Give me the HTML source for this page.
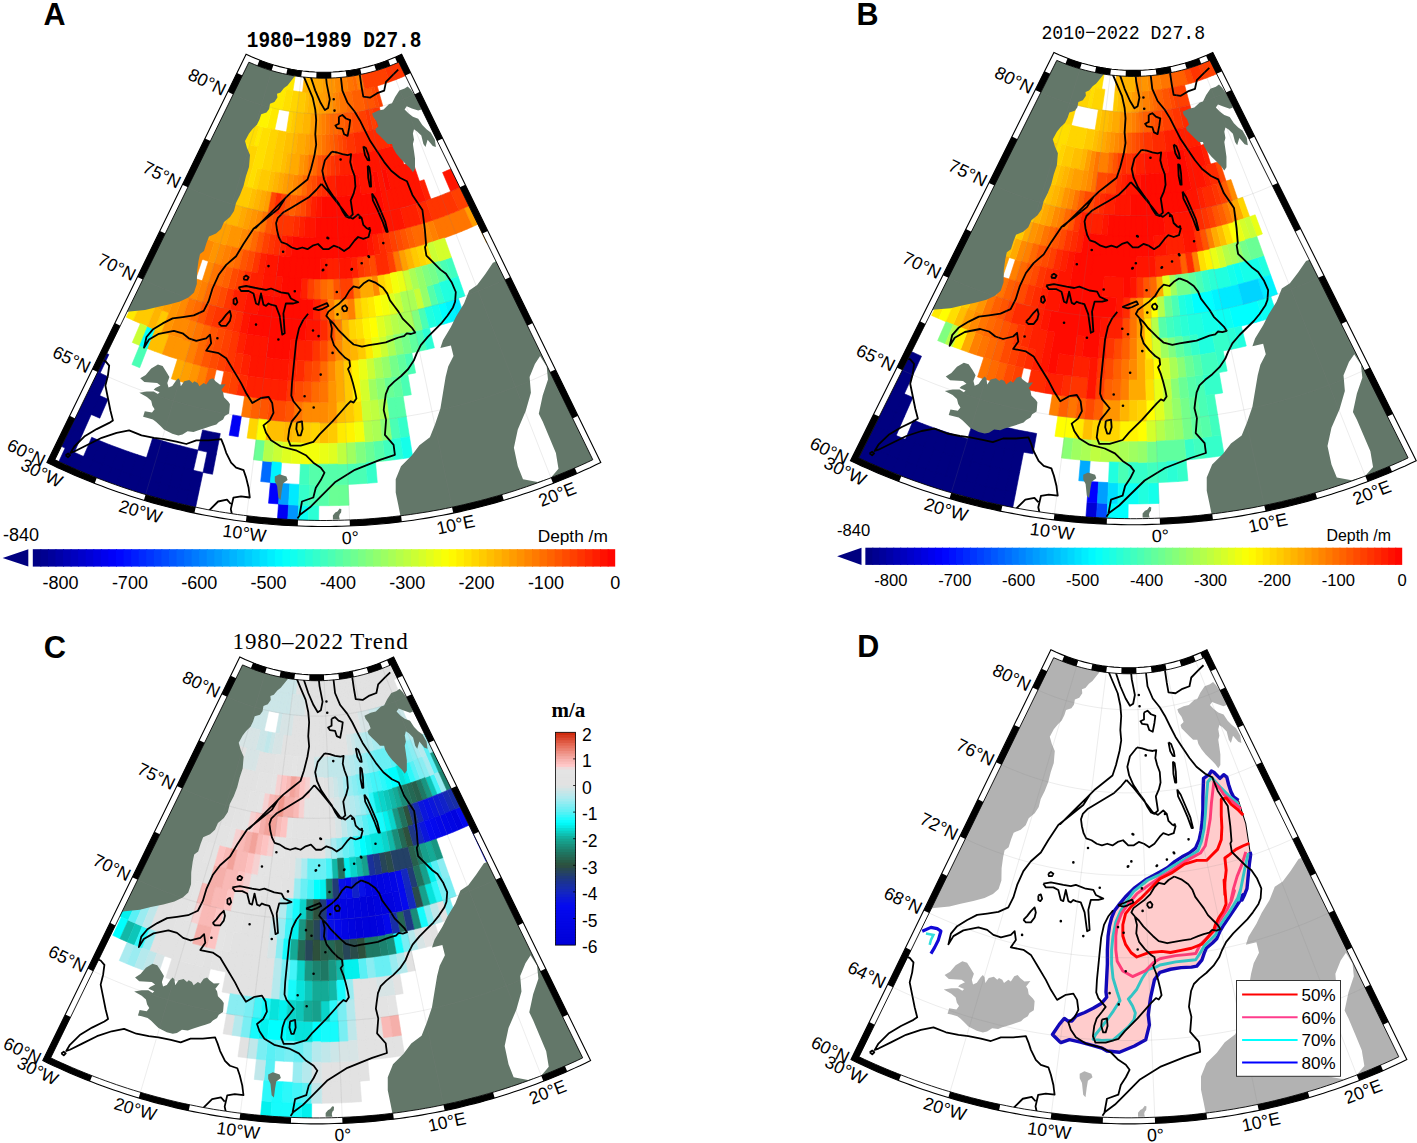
<!DOCTYPE html><html><head><meta charset="utf-8"><style>html,body{margin:0;padding:0;background:#fff;}svg{display:block;} text{font-family:"Liberation Sans",sans-serif;fill:#000;}</style></head><body>
<svg width="1417" height="1143" viewBox="0 0 1417 1143">
<rect width="1417" height="1143" fill="#fff"/>
<g transform="matrix(1 0 0 1 0 0)">
<defs><clipPath id="clipA"><path d="M401.6 54.2 L396.2 56.8 L390.7 59.1 L385.1 61.3 L379.5 63.2 L373.8 65.0 L368.1 66.6 L362.3 68.0 L356.4 69.2 L350.6 70.2 L344.7 71.0 L338.7 71.6 L332.8 72.0 L326.8 72.2 L320.9 72.2 L314.9 72.0 L309.0 71.6 L303.0 71.0 L297.1 70.2 L291.3 69.2 L285.4 68.0 L279.6 66.6 L273.9 65.0 L268.2 63.2 L262.6 61.3 L257.0 59.1 L251.5 56.8 L246.1 54.2 L46.9 462.5 L46.9 462.5 L52.3 465.1 L57.7 467.7 L63.1 470.1 L68.5 472.6 L74.0 475.0 L79.5 477.3 L85.0 479.6 L90.6 481.8 L96.1 484.0 L101.7 486.1 L107.3 488.2 L112.9 490.2 L118.6 492.2 L124.2 494.1 L129.9 496.0 L135.6 497.8 L141.3 499.5 L147.0 501.2 L152.8 502.9 L158.5 504.5 L164.3 506.0 L170.1 507.5 L175.9 508.9 L181.7 510.3 L187.5 511.6 L193.4 512.9 L199.2 514.1 L205.1 515.2 L211.0 516.3 L216.8 517.4 L222.7 518.4 L228.6 519.3 L234.5 520.2 L240.5 521.0 L246.4 521.7 L252.3 522.4 L258.3 523.1 L264.2 523.7 L270.2 524.2 L276.1 524.7 L282.1 525.1 L288.0 525.5 L294.0 525.8 L300.0 526.0 L305.9 526.2 L311.9 526.4 L317.9 526.5 L323.9 526.5 L329.8 526.5 L335.8 526.4 L341.8 526.2 L347.7 526.0 L353.7 525.8 L359.7 525.5 L365.6 525.1 L371.6 524.7 L377.5 524.2 L383.5 523.7 L389.4 523.1 L395.4 522.4 L401.3 521.7 L407.2 521.0 L413.2 520.2 L419.1 519.3 L425.0 518.4 L430.9 517.4 L436.7 516.3 L442.6 515.2 L448.5 514.1 L454.3 512.9 L460.2 511.6 L466.0 510.3 L471.8 508.9 L477.6 507.5 L483.4 506.0 L489.2 504.5 L494.9 502.9 L500.7 501.2 L506.4 499.5 L512.1 497.8 L517.8 496.0 L523.5 494.1 L529.1 492.2 L534.8 490.2 L540.4 488.2 L546.0 486.1 L551.6 484.0 L557.1 481.8 L562.7 479.6 L568.2 477.3 L573.7 475.0 L579.2 472.6 L584.6 470.1 L590.0 467.7 L595.4 465.1 L600.8 462.5 Z"/></clipPath></defs>
<g clip-path="url(#clipA)">
<path d="M56.0 443.8 L65.1 448.1 L73.9 429.3 L65.1 425.1 Z M65.1 425.1 L73.9 429.3 L82.7 410.6 L74.2 406.5 Z M74.2 406.5 L82.7 410.6 L91.4 391.8 L83.3 387.9 Z M83.3 387.9 L91.4 391.8 L100.2 373.1 L92.3 369.4 Z M92.3 369.4 L100.2 373.1 L108.9 354.5 L101.4 350.9 Z M56.3 467.0 L65.8 471.3 L74.3 452.3 L65.1 448.1 Z M65.1 448.1 L74.3 452.3 L82.8 433.4 L73.9 429.3 Z M73.9 429.3 L82.8 433.4 L91.2 414.5 L82.7 410.6 Z M82.7 410.6 L91.2 414.5 L99.7 395.6 L91.4 391.8 Z M91.4 391.8 L99.7 395.6 L108.1 376.8 L100.2 373.1 Z M65.8 471.3 L75.3 475.5 L83.5 456.4 L74.3 452.3 Z M91.2 414.5 L99.8 418.2 L108.0 399.2 L99.7 395.6 Z M75.3 475.5 L84.9 479.6 L92.8 460.3 L83.5 456.4 Z M83.5 456.4 L92.8 460.3 L100.7 441.1 L91.7 437.3 Z M84.9 479.6 L94.6 483.4 L102.2 464.0 L92.8 460.3 Z M92.8 460.3 L102.2 464.0 L109.7 444.7 L100.7 441.1 Z M94.6 483.4 L104.4 487.1 L111.6 467.6 L102.2 464.0 Z M102.2 464.0 L111.6 467.6 L118.8 448.1 L109.7 444.7 Z M104.4 487.1 L114.2 490.7 L121.1 471.0 L111.6 467.6 Z M111.6 467.6 L121.1 471.0 L128.0 451.4 L118.8 448.1 Z M114.2 490.7 L124.0 494.0 L130.6 474.3 L121.1 471.0 Z M121.1 471.0 L130.6 474.3 L137.2 454.6 L128.0 451.4 Z M124.0 494.0 L133.9 497.3 L140.2 477.4 L130.6 474.3 Z M130.6 474.3 L140.2 477.4 L146.5 457.6 L137.2 454.6 Z M133.9 497.3 L143.9 500.3 L149.8 480.4 L140.2 477.4 Z M140.2 477.4 L149.8 480.4 L155.8 460.4 L146.5 457.6 Z M146.5 457.6 L155.8 460.4 L161.7 440.6 L152.7 437.8 Z M143.9 500.3 L153.9 503.2 L159.5 483.2 L149.8 480.4 Z M149.8 480.4 L159.5 483.2 L165.1 463.1 L155.8 460.4 Z M155.8 460.4 L165.1 463.1 L170.7 443.2 L161.7 440.6 Z M153.9 503.2 L164.0 505.9 L169.3 485.8 L159.5 483.2 Z M159.5 483.2 L169.3 485.8 L174.5 465.7 L165.1 463.1 Z M165.1 463.1 L174.5 465.7 L179.8 445.6 L170.7 443.2 Z M164.0 505.9 L174.1 508.5 L179.0 488.3 L169.3 485.8 Z M169.3 485.8 L179.0 488.3 L184.0 468.1 L174.5 465.7 Z M174.5 465.7 L184.0 468.1 L188.9 447.9 L179.8 445.6 Z M174.1 508.5 L184.3 510.9 L188.9 490.6 L179.0 488.3 Z M179.0 488.3 L188.9 490.6 L193.4 470.3 L184.0 468.1 Z M184.0 468.1 L193.4 470.3 L198.0 450.1 L188.9 447.9 Z M184.3 510.9 L194.4 513.1 L198.7 492.7 L188.9 490.6 Z M188.9 490.6 L198.7 492.7 L203.0 472.4 L193.4 470.3 Z M198.0 450.1 L207.2 452.1 L211.4 431.9 L202.6 429.9 Z M203.0 472.4 L212.5 474.3 L216.4 454.0 L207.2 452.1 Z M207.2 452.1 L216.4 454.0 L220.3 433.6 L211.4 431.9 Z" fill="#000080" stroke="#000080" stroke-width="0.6"/>
<path d="M128.4 295.4 L135.1 298.6 L143.7 280.0 L137.4 277.0 Z M191.5 166.2 L196.0 168.4 L204.7 149.7 L200.5 147.7 Z M236.9 73.1 L239.9 74.5 L248.8 55.5 L246.1 54.2 Z M126.3 317.2 L133.3 320.4 L141.7 301.7 L135.1 298.6 Z M135.1 298.6 L141.7 301.7 L150.1 282.9 L143.7 280.0 Z M196.0 168.4 L200.5 170.5 L208.9 151.7 L204.7 149.7 Z M204.7 149.7 L208.9 151.7 L217.4 132.8 L213.5 131.0 Z M239.9 74.5 L242.9 75.9 L251.4 56.7 L248.8 55.5 Z M200.5 170.5 L205.1 172.5 L213.2 153.5 L208.9 151.7 Z M208.9 151.7 L213.2 153.5 L221.3 134.5 L217.4 132.8 Z M242.9 75.9 L245.9 77.2 L254.1 57.9 L251.4 56.7 Z M205.1 172.5 L209.7 174.4 L217.5 155.3 L213.2 153.5 Z M213.2 153.5 L217.5 155.3 L225.3 136.2 L221.3 134.5 Z M245.9 77.2 L248.9 78.4 L256.8 59.0 L254.1 57.9 Z M209.7 174.4 L214.3 176.2 L221.8 157.0 L217.5 155.3 Z M217.5 155.3 L221.8 157.0 L229.3 137.8 L225.3 136.2 Z M248.9 78.4 L251.9 79.7 L259.5 60.1 L256.8 59.0 Z M214.3 176.2 L218.9 178.0 L226.1 158.7 L221.8 157.0 Z M221.8 157.0 L226.1 158.7 L233.3 139.3 L229.3 137.8 Z M251.9 79.7 L255.0 80.8 L262.3 61.2 L259.5 60.1 Z M204.6 216.6 L210.0 218.5 L216.8 199.1 L211.8 197.3 Z M218.9 178.0 L223.6 179.7 L230.5 160.3 L226.1 158.7 Z M226.1 158.7 L230.5 160.3 L237.3 140.8 L233.3 139.3 Z M255.0 80.8 L258.0 81.9 L265.0 62.1 L262.3 61.2 Z M216.8 199.1 L221.8 200.8 L228.3 181.3 L223.6 179.7 Z M223.6 179.7 L228.3 181.3 L234.9 161.8 L230.5 160.3 Z M230.5 160.3 L234.9 161.8 L241.4 142.2 L237.3 140.8 Z M258.0 81.9 L261.1 83.0 L267.8 63.1 L265.0 62.1 Z M228.3 181.3 L233.1 182.9 L239.3 163.2 L234.9 161.8 Z M234.9 161.8 L239.3 163.2 L245.5 143.5 L241.4 142.2 Z M261.1 83.0 L264.3 84.0 L270.6 64.0 L267.8 63.1 Z M239.3 163.2 L243.7 164.6 L249.6 144.7 L245.5 143.5 Z M264.3 84.0 L267.4 85.0 L273.4 64.9 L270.6 64.0 Z M261.4 105.0 L264.9 106.0 L270.5 85.9 L267.4 85.0 Z M267.4 85.0 L270.5 85.9 L276.2 65.7 L273.4 64.9 Z M253.7 145.9 L257.9 147.1 L263.1 127.0 L259.3 126.0 Z M264.9 106.0 L268.4 106.9 L273.7 86.7 L270.5 85.9 Z M270.5 85.9 L273.7 86.7 L279.0 66.4 L276.2 65.7 Z M268.4 106.9 L271.9 107.8 L276.9 87.5 L273.7 86.7 Z M273.7 86.7 L276.9 87.5 L281.8 67.1 L279.0 66.4 Z M267.0 128.0 L270.8 128.9 L275.4 108.6 L271.9 107.8 Z M271.9 107.8 L275.4 108.6 L280.0 88.3 L276.9 87.5 Z M276.9 87.5 L280.0 88.3 L284.7 67.8 L281.8 67.1 Z M270.8 128.9 L274.7 129.7 L279.0 109.4 L275.4 108.6 Z M275.4 108.6 L279.0 109.4 L283.2 89.0 L280.0 88.3 Z M280.0 88.3 L283.2 89.0 L287.5 68.4 L284.7 67.8 Z M279.0 109.4 L282.5 110.1 L286.4 89.6 L283.2 89.0 Z M283.2 89.0 L286.4 89.6 L290.4 69.0 L287.5 68.4 Z M286.4 89.6 L289.7 90.2 L293.3 69.5 L290.4 69.0 Z M289.7 90.2 L292.9 90.7 L296.2 70.0 L293.3 69.5 Z M337.4 443.3 L346.5 443.0 L345.6 422.4 L336.9 422.7 Z M366.1 359.2 L373.8 358.4 L371.6 338.0 L364.3 338.7 Z M369.4 317.6 L376.4 316.8 L373.8 296.4 L367.2 297.2 Z M387.0 294.6 L393.6 293.5 L390.1 273.3 L383.8 274.3 Z" fill="#ffea00" stroke="#ffea00" stroke-width="0.6"/>
<path d="M137.4 277.0 L143.7 280.0 L152.4 261.4 L146.4 258.6 Z M173.4 203.2 L178.5 205.7 L187.2 187.0 L182.4 184.7 Z M143.7 280.0 L150.1 282.9 L158.5 264.2 L152.4 261.4 Z M178.5 205.7 L183.7 208.0 L192.1 189.3 L187.2 187.0 Z M141.7 301.7 L148.5 304.6 L156.6 285.8 L150.1 282.9 Z M183.7 208.0 L188.9 210.3 L197.0 191.4 L192.1 189.3 Z M188.9 210.3 L194.1 212.5 L201.9 193.4 L197.0 191.4 Z M194.1 212.5 L199.3 214.6 L206.8 195.4 L201.9 193.4 Z M147.2 348.5 L154.7 351.3 L161.8 332.1 L154.6 329.3 Z M177.0 271.9 L183.2 274.3 L190.4 255.1 L184.4 252.8 Z M199.3 214.6 L204.6 216.6 L211.8 197.3 L206.8 195.4 Z M154.7 351.3 L162.3 354.1 L169.1 334.7 L161.8 332.1 Z M247.4 208.2 L252.6 209.4 L257.1 189.4 L252.3 188.2 Z M266.9 191.4 L271.8 192.3 L275.3 172.0 L270.8 171.2 Z M279.9 172.8 L284.5 173.4 L287.4 153.0 L283.1 152.3 Z M283.1 152.3 L287.4 153.0 L290.3 132.5 L286.4 131.9 Z M287.4 153.0 L291.7 153.6 L294.2 133.0 L290.3 132.5 Z M294.2 133.0 L298.2 133.4 L300.4 112.8 L296.8 112.4 Z M265.1 440.3 L274.1 441.2 L276.0 420.7 L267.3 419.8 Z M298.2 133.4 L302.1 133.8 L304.0 113.1 L300.4 112.8 Z M274.1 441.2 L283.1 442.0 L284.7 421.4 L276.0 420.7 Z M304.0 113.1 L307.6 113.4 L309.1 92.6 L305.9 92.4 Z M292.2 442.6 L301.2 443.0 L302.1 422.4 L293.4 422.0 Z M319.3 443.5 L328.4 443.5 L328.2 422.8 L319.5 422.8 Z M336.9 422.7 L345.6 422.4 L344.8 401.8 L336.4 402.1 Z" fill="#ffbf00" stroke="#ffbf00" stroke-width="0.6"/>
<path d="M146.4 258.6 L152.4 261.4 L161.1 242.9 L155.4 240.1 Z M155.4 240.1 L161.1 242.9 L169.8 224.3 L164.4 221.7 Z M164.4 221.7 L169.8 224.3 L178.5 205.7 L173.4 203.2 Z M152.4 261.4 L158.5 264.2 L166.9 245.5 L161.1 242.9 Z M161.1 242.9 L166.9 245.5 L175.3 226.8 L169.8 224.3 Z M169.8 224.3 L175.3 226.8 L183.7 208.0 L178.5 205.7 Z M150.1 282.9 L156.6 285.8 L164.6 266.9 L158.5 264.2 Z M158.5 264.2 L164.6 266.9 L172.7 248.0 L166.9 245.5 Z M166.9 245.5 L172.7 248.0 L180.8 229.2 L175.3 226.8 Z M175.3 226.8 L180.8 229.2 L188.9 210.3 L183.7 208.0 Z M156.6 285.8 L163.0 288.5 L170.8 269.5 L164.6 266.9 Z M164.6 266.9 L170.8 269.5 L178.6 250.5 L172.7 248.0 Z M172.7 248.0 L178.6 250.5 L186.3 231.5 L180.8 229.2 Z M180.8 229.2 L186.3 231.5 L194.1 212.5 L188.9 210.3 Z M178.6 250.5 L184.4 252.8 L191.9 233.7 L186.3 231.5 Z M186.3 231.5 L191.9 233.7 L199.3 214.6 L194.1 212.5 Z M191.9 233.7 L197.5 235.8 L204.6 216.6 L199.3 214.6 Z M169.1 334.7 L176.4 337.2 L182.9 317.7 L175.9 315.3 Z M175.9 315.3 L182.9 317.7 L189.3 298.2 L182.7 295.9 Z M182.7 295.9 L189.3 298.2 L195.8 278.8 L189.5 276.6 Z M189.5 276.6 L195.8 278.8 L202.3 259.3 L196.3 257.2 Z M196.3 257.2 L202.3 259.3 L208.8 239.8 L203.1 237.9 Z M176.4 337.2 L183.7 339.5 L189.9 320.0 L182.9 317.7 Z M189.3 298.2 L196.0 300.4 L202.2 280.8 L195.8 278.8 Z M202.3 259.3 L208.4 261.3 L214.5 241.7 L208.8 239.8 Z M202.2 280.8 L208.6 282.8 L214.4 263.1 L208.4 261.3 Z M214.4 263.1 L220.5 264.9 L226.0 245.1 L220.3 243.4 Z M237.7 248.1 L243.5 249.5 L248.0 229.5 L242.5 228.2 Z M253.6 230.7 L259.1 231.8 L263.0 211.6 L257.8 210.6 Z M291.5 195.1 L296.5 195.6 L298.3 175.1 L293.7 174.6 Z M303.0 175.4 L307.6 175.7 L308.8 155.1 L304.5 154.8 Z M302.1 422.4 L310.8 422.7 L311.3 402.1 L302.9 401.8 Z M313.1 155.3 L317.4 155.5 L317.9 134.8 L314.0 134.6 Z M310.8 422.7 L319.5 422.8 L319.7 402.2 L311.3 402.1 Z M317.9 134.8 L321.9 134.8 L322.0 114.0 L318.4 114.0 Z M319.5 422.8 L328.2 422.8 L328.0 402.2 L319.7 402.2 Z M327.9 381.7 L335.9 381.5 L335.4 361.0 L327.7 361.1 Z M335.4 361.0 L343.1 360.7 L342.2 340.2 L334.9 340.4 Z M332.9 113.9 L336.5 113.7 L335.3 92.8 L332.0 93.0 Z M335.3 92.8 L338.6 92.6 L337.0 71.7 L334.1 71.9 Z M338.6 92.6 L341.8 92.4 L339.9 71.5 L337.0 71.7 Z M373.8 296.4 L380.4 295.6 L377.6 275.3 L371.3 276.1 Z M427.4 243.4 L433.2 241.7 L427.0 222.1 L421.6 223.8 Z" fill="#ff8a00" stroke="#ff8a00" stroke-width="0.6"/>
<path d="M182.4 184.7 L187.2 187.0 L196.0 168.4 L191.5 166.2 Z M187.2 187.0 L192.1 189.3 L200.5 170.5 L196.0 168.4 Z M192.1 189.3 L197.0 191.4 L205.1 172.5 L200.5 170.5 Z M197.0 191.4 L201.9 193.4 L209.7 174.4 L205.1 172.5 Z M201.9 193.4 L206.8 195.4 L214.3 176.2 L209.7 174.4 Z M184.4 252.8 L190.4 255.1 L197.5 235.8 L191.9 233.7 Z M206.8 195.4 L211.8 197.3 L218.9 178.0 L214.3 176.2 Z M211.8 197.3 L216.8 199.1 L223.6 179.7 L218.9 178.0 Z M243.7 164.6 L248.2 165.8 L253.7 145.9 L249.6 144.7 Z M242.6 185.7 L247.4 187.0 L252.7 167.1 L248.2 165.8 Z M248.2 165.8 L252.7 167.1 L257.9 147.1 L253.7 145.9 Z M252.3 188.2 L257.1 189.4 L261.7 169.3 L257.2 168.2 Z M261.7 169.3 L266.2 170.2 L270.5 150.0 L266.3 149.1 Z M266.3 149.1 L270.5 150.0 L274.7 129.7 L270.8 128.9 Z M266.2 170.2 L270.8 171.2 L274.7 150.9 L270.5 150.0 Z M270.5 150.0 L274.7 150.9 L278.6 130.5 L274.7 129.7 Z M286.4 131.9 L290.3 132.5 L293.2 111.9 L289.6 111.3 Z M289.6 111.3 L293.2 111.9 L296.1 91.2 L292.9 90.7 Z M247.1 438.1 L256.1 439.3 L258.7 418.8 L250.0 417.7 Z M293.2 111.9 L296.8 112.4 L299.4 91.7 L296.1 91.2 Z M310.3 443.3 L319.3 443.5 L319.5 422.8 L310.8 422.7 Z M349.6 339.8 L356.9 339.4 L355.4 318.9 L348.4 319.4 Z M380.4 295.6 L387.0 294.6 L383.8 274.3 L377.6 275.3 Z M421.1 266.5 L427.2 264.9 L421.7 245.1 L415.9 246.7 Z" fill="#ffd500" stroke="#ffd500" stroke-width="0.6"/>
<path d="M200.5 147.7 L204.7 149.7 L213.5 131.0 L209.6 129.1 Z M209.6 129.1 L213.5 131.0 L222.2 112.2 L218.7 110.5 Z M213.5 131.0 L217.4 132.8 L225.8 113.9 L222.2 112.2 Z M217.4 132.8 L221.3 134.5 L229.5 115.5 L225.8 113.9 Z M148.5 304.6 L155.3 307.5 L163.0 288.5 L156.6 285.8 Z M221.3 134.5 L225.3 136.2 L233.1 117.0 L229.5 115.5 Z M170.8 269.5 L177.0 271.9 L184.4 252.8 L178.6 250.5 Z M225.3 136.2 L229.3 137.8 L236.8 118.5 L233.1 117.0 Z M229.3 137.8 L233.3 139.3 L240.5 119.9 L236.8 118.5 Z M233.3 139.3 L237.3 140.8 L244.2 121.2 L240.5 119.9 Z M237.3 140.8 L241.4 142.2 L248.0 122.5 L244.2 121.2 Z M241.4 142.2 L245.5 143.5 L251.7 123.7 L248.0 122.5 Z M245.5 143.5 L249.6 144.7 L255.5 124.9 L251.7 123.7 Z M249.6 144.7 L253.7 145.9 L259.3 126.0 L255.5 124.9 Z M247.4 187.0 L252.3 188.2 L257.2 168.2 L252.7 167.1 Z M252.7 167.1 L257.2 168.2 L262.1 148.1 L257.9 147.1 Z M257.9 147.1 L262.1 148.1 L267.0 128.0 L263.1 127.0 Z M257.2 168.2 L261.7 169.3 L266.3 149.1 L262.1 148.1 Z M262.1 148.1 L266.3 149.1 L270.8 128.9 L267.0 128.0 Z M282.5 110.1 L286.1 110.8 L289.7 90.2 L286.4 89.6 Z M286.1 110.8 L289.6 111.3 L292.9 90.7 L289.7 90.2 Z M354.3 422.0 L363.0 421.4 L361.5 400.9 L353.1 401.4 Z M356.9 339.4 L364.3 338.7 L362.4 318.3 L355.4 318.9 Z M362.4 318.3 L369.4 317.6 L367.2 297.2 L360.5 297.9 Z M427.2 264.9 L433.3 263.1 L427.4 243.4 L421.7 245.1 Z" fill="#ffdf00" stroke="#ffdf00" stroke-width="0.6"/>
<path d="M218.7 110.5 L222.2 112.2 L231.0 93.4 L227.8 91.8 Z M227.8 91.8 L231.0 93.4 L239.9 74.5 L236.9 73.1 Z M222.2 112.2 L225.8 113.9 L234.3 94.9 L231.0 93.4 Z M231.0 93.4 L234.3 94.9 L242.9 75.9 L239.9 74.5 Z M225.8 113.9 L229.5 115.5 L237.6 96.4 L234.3 94.9 Z M234.3 94.9 L237.6 96.4 L245.9 77.2 L242.9 75.9 Z M229.5 115.5 L233.1 117.0 L241.0 97.8 L237.6 96.4 Z M237.6 96.4 L241.0 97.8 L248.9 78.4 L245.9 77.2 Z M233.1 117.0 L236.8 118.5 L244.3 99.1 L241.0 97.8 Z M241.0 97.8 L244.3 99.1 L251.9 79.7 L248.9 78.4 Z M236.8 118.5 L240.5 119.9 L247.7 100.4 L244.3 99.1 Z M244.3 99.1 L247.7 100.4 L255.0 80.8 L251.9 79.7 Z M240.5 119.9 L244.2 121.2 L251.1 101.6 L247.7 100.4 Z M247.7 100.4 L251.1 101.6 L258.0 81.9 L255.0 80.8 Z M244.2 121.2 L248.0 122.5 L254.5 102.8 L251.1 101.6 Z M251.1 101.6 L254.5 102.8 L261.1 83.0 L258.0 81.9 Z M248.0 122.5 L251.7 123.7 L258.0 103.9 L254.5 102.8 Z M254.5 102.8 L258.0 103.9 L264.3 84.0 L261.1 83.0 Z M251.7 123.7 L255.5 124.9 L261.4 105.0 L258.0 103.9 Z M258.0 103.9 L261.4 105.0 L267.4 85.0 L264.3 84.0 Z M255.5 124.9 L259.3 126.0 L264.9 106.0 L261.4 105.0 Z M259.3 126.0 L263.1 127.0 L268.4 106.9 L264.9 106.0 Z M263.1 127.0 L267.0 128.0 L271.9 107.8 L268.4 106.9 Z M346.5 443.0 L355.5 442.6 L354.3 422.0 L345.6 422.4 Z M353.1 401.4 L361.5 400.9 L360.0 380.3 L352.0 380.9 Z M352.0 380.9 L360.0 380.3 L358.5 359.8 L350.8 360.3 Z M364.3 338.7 L371.6 338.0 L369.4 317.6 L362.4 318.3 Z" fill="#fff400" stroke="#fff400" stroke-width="0.6"/>
<path d="M133.3 320.4 L140.4 323.5 L148.5 304.6 L141.7 301.7 Z M140.4 323.5 L147.5 326.5 L155.3 307.5 L148.5 304.6 Z M163.0 288.5 L169.5 291.1 L177.0 271.9 L170.8 269.5 Z M154.6 329.3 L161.8 332.1 L169.0 312.8 L162.1 310.2 Z M197.5 235.8 L203.1 237.9 L210.0 218.5 L204.6 216.6 Z M210.0 218.5 L215.3 220.3 L221.8 200.8 L216.8 199.1 Z M221.8 200.8 L226.9 202.5 L233.1 182.9 L228.3 181.3 Z M233.1 182.9 L237.8 184.3 L243.7 164.6 L239.3 163.2 Z M232.0 204.0 L237.1 205.5 L242.6 185.7 L237.8 184.3 Z M237.8 184.3 L242.6 185.7 L248.2 165.8 L243.7 164.6 Z M237.1 205.5 L242.2 206.9 L247.4 187.0 L242.6 185.7 Z M242.2 206.9 L247.4 208.2 L252.3 188.2 L247.4 187.0 Z M257.1 189.4 L262.0 190.4 L266.2 170.2 L261.7 169.3 Z M262.0 190.4 L266.9 191.4 L270.8 171.2 L266.2 170.2 Z M270.8 171.2 L275.3 172.0 L278.9 151.6 L274.7 150.9 Z M274.7 150.9 L278.9 151.6 L282.5 131.2 L278.6 130.5 Z M275.3 172.0 L279.9 172.8 L283.1 152.3 L278.9 151.6 Z M278.9 151.6 L283.1 152.3 L286.4 131.9 L282.5 131.2 Z M290.3 132.5 L294.2 133.0 L296.8 112.4 L293.2 111.9 Z M296.8 112.4 L300.4 112.8 L302.6 92.0 L299.4 91.7 Z M300.4 112.8 L304.0 113.1 L305.9 92.4 L302.6 92.0 Z M301.2 443.0 L310.3 443.3 L310.8 422.7 L302.1 422.4 Z M328.4 443.5 L337.4 443.3 L336.9 422.7 L328.2 422.8 Z M345.6 422.4 L354.3 422.0 L353.1 401.4 L344.8 401.8 Z M344.8 401.8 L353.1 401.4 L352.0 380.9 L343.9 381.3 Z M343.9 381.3 L352.0 380.9 L350.8 360.3 L343.1 360.7 Z M358.5 359.8 L366.1 359.2 L364.3 338.7 L356.9 339.4 Z M355.4 318.9 L362.4 318.3 L360.5 297.9 L353.9 298.4 Z M414.9 268.1 L421.1 266.5 L415.9 246.7 L410.0 248.1 Z" fill="#ffca00" stroke="#ffca00" stroke-width="0.6"/>
<path d="M132.3 342.4 L139.7 345.5 L147.5 326.5 L140.4 323.5 Z M272.2 461.8 L281.6 462.6 L283.1 442.0 L274.1 441.2 Z M363.0 421.4 L371.7 420.7 L369.9 400.2 L361.5 400.9 Z M368.0 379.7 L376.0 378.9 L373.8 358.4 L366.1 359.2 Z M381.4 357.6 L389.1 356.5 L386.2 336.2 L378.9 337.2 Z M386.2 336.2 L393.5 335.1 L390.2 314.8 L383.3 315.9 Z M397.2 313.7 L404.1 312.4 L400.2 292.3 L393.6 293.5 Z M406.8 291.0 L413.3 289.5 L408.7 269.5 L402.5 270.9 Z M417.8 309.5 L424.6 307.9 L419.8 288.0 L413.3 289.5 Z M433.3 263.1 L439.3 261.3 L433.2 241.7 L427.4 243.4 Z" fill="#caff35" stroke="#caff35" stroke-width="0.6"/>
<path d="M131.9 364.5 L139.7 367.7 L147.2 348.5 L139.7 345.5 Z M308.7 505.5 L318.8 505.7 L319.0 484.9 L309.2 484.7 Z M348.2 484.4 L357.9 483.9 L356.7 463.2 L347.3 463.7 Z M357.9 483.9 L367.6 483.3 L366.1 462.6 L356.7 463.2 Z M391.6 439.3 L400.6 438.1 L397.7 417.7 L389.0 418.8 Z M403.1 396.0 L411.3 394.7 L407.8 374.4 L399.9 375.7 Z M407.8 374.4 L415.7 372.9 L411.8 352.7 L404.3 354.1 Z M419.4 351.2 L426.9 349.6 L422.3 329.6 L415.2 331.1 Z M422.3 329.6 L429.5 327.9 L424.6 307.9 L417.8 309.5 Z M445.5 280.8 L451.9 278.8 L445.4 259.3 L439.3 261.3 Z" fill="#4affb5" stroke="#4affb5" stroke-width="0.6"/>
<path d="M139.7 345.5 L147.2 348.5 L154.6 329.3 L147.5 326.5 Z M443.7 324.2 L450.8 322.1 L445.0 302.4 L438.2 304.4 Z M506.0 412.4 L514.5 409.3 L507.3 389.9 L499.1 392.9 Z M514.5 409.3 L523.0 406.1 L515.5 386.9 L507.3 389.9 Z M507.3 389.9 L515.5 386.9 L508.0 367.7 L500.2 370.6 Z M500.2 370.6 L508.0 367.7 L500.5 348.5 L493.0 351.3 Z M530.5 425.4 L539.2 421.9 L531.4 402.7 L523.0 406.1 Z M523.0 406.1 L531.4 402.7 L523.6 383.6 L515.5 386.9 Z M515.5 386.9 L523.6 383.6 L515.8 364.5 L508.0 367.7 Z M508.0 367.7 L515.8 364.5 L508.0 345.5 L500.5 348.5 Z M539.2 421.9 L547.9 418.2 L539.7 399.2 L531.4 402.7 Z M531.4 402.7 L539.7 399.2 L531.6 380.3 L523.6 383.6 Z M523.6 383.6 L531.6 380.3 L523.5 361.3 L515.8 364.5 Z M547.9 418.2 L556.5 414.5 L548.0 395.6 L539.7 399.2 Z M539.7 399.2 L548.0 395.6 L539.6 376.8 L531.6 380.3 Z M531.6 380.3 L539.6 376.8 L531.2 358.0 L523.5 361.3 Z M564.9 433.4 L573.8 429.3 L565.0 410.6 L556.5 414.5 Z M556.5 414.5 L565.0 410.6 L556.3 391.8 L548.0 395.6 Z M548.0 395.6 L556.3 391.8 L547.5 373.1 L539.6 376.8 Z M506.0 301.7 L512.6 298.6 L504.0 280.0 L497.6 282.9 Z M573.8 429.3 L582.6 425.1 L573.5 406.5 L565.0 410.6 Z M565.0 410.6 L573.5 406.5 L564.4 387.9 L556.3 391.8 Z M556.3 391.8 L564.4 387.9 L555.4 369.4 L547.5 373.1 Z M512.6 298.6 L519.3 295.4 L510.3 277.0 L504.0 280.0 Z" fill="#00ffff" stroke="#00ffff" stroke-width="0.6"/>
<path d="M147.5 326.5 L154.6 329.3 L162.1 310.2 L155.3 307.5 Z M190.4 255.1 L196.3 257.2 L203.1 237.9 L197.5 235.8 Z M220.7 222.1 L226.1 223.8 L232.0 204.0 L226.9 202.5 Z M226.9 202.5 L232.0 204.0 L237.8 184.3 L233.1 182.9 Z M226.1 223.8 L231.6 225.3 L237.1 205.5 L232.0 204.0 Z M231.6 225.3 L237.0 226.8 L242.2 206.9 L237.1 205.5 Z M252.6 209.4 L257.8 210.6 L262.0 190.4 L257.1 189.4 Z M271.8 192.3 L276.7 193.1 L279.9 172.8 L275.3 172.0 Z M284.5 173.4 L289.1 174.1 L291.7 153.6 L287.4 153.0 Z M291.7 153.6 L295.9 154.0 L298.2 133.4 L294.2 133.0 Z M302.6 92.0 L305.9 92.4 L307.8 71.5 L304.9 71.2 Z M302.1 133.8 L306.0 134.2 L307.6 113.4 L304.0 113.1 Z M305.9 92.4 L309.1 92.6 L310.7 71.7 L307.8 71.5 Z M283.1 442.0 L292.2 442.6 L293.4 422.0 L284.7 421.4 Z M306.0 134.2 L310.0 134.4 L311.2 113.7 L307.6 113.4 Z M307.6 113.4 L311.2 113.7 L312.4 92.8 L309.1 92.6 Z M309.1 92.6 L312.4 92.8 L313.6 71.9 L310.7 71.7 Z M311.2 113.7 L314.8 113.9 L315.7 93.0 L312.4 92.8 Z M342.2 340.2 L349.6 339.8 L348.4 319.4 L341.4 319.7 Z M350.8 360.3 L358.5 359.8 L356.9 339.4 L349.6 339.8 Z M408.7 269.5 L414.9 268.1 L410.0 248.1 L404.2 249.5 Z" fill="#ffb500" stroke="#ffb500" stroke-width="0.6"/>
<path d="M155.3 307.5 L162.1 310.2 L169.5 291.1 L163.0 288.5 Z M203.1 237.9 L208.8 239.8 L215.3 220.3 L210.0 218.5 Z M215.3 220.3 L220.7 222.1 L226.9 202.5 L221.8 200.8 Z M171.3 378.8 L179.3 381.2 L185.2 361.5 L177.5 359.1 Z M237.0 226.8 L242.5 228.2 L247.4 208.2 L242.2 206.9 Z M257.8 210.6 L263.0 211.6 L266.9 191.4 L262.0 190.4 Z M276.7 193.1 L281.6 193.9 L284.5 173.4 L279.9 172.8 Z M289.1 174.1 L293.7 174.6 L295.9 154.0 L291.7 153.6 Z M293.7 174.6 L298.3 175.1 L300.2 154.5 L295.9 154.0 Z M295.9 154.0 L300.2 154.5 L302.1 133.8 L298.2 133.4 Z M300.2 154.5 L304.5 154.8 L306.0 134.2 L302.1 133.8 Z M312.4 92.8 L315.7 93.0 L316.5 72.1 L313.6 71.9 Z M314.8 113.9 L318.4 114.0 L318.9 93.1 L315.7 93.0 Z M315.7 93.0 L318.9 93.1 L319.5 72.1 L316.5 72.1 Z M318.9 93.1 L322.2 93.2 L322.4 72.2 L319.5 72.1 Z M336.4 402.1 L344.8 401.8 L343.9 381.3 L335.9 381.5 Z M335.9 381.5 L343.9 381.3 L343.1 360.7 L335.4 361.0 Z M334.4 319.9 L341.4 319.7 L340.5 299.2 L333.9 299.4 Z M343.1 360.7 L350.8 360.3 L349.6 339.8 L342.2 340.2 Z M360.5 297.9 L367.2 297.2 L365.0 276.8 L358.7 277.4 Z M367.2 297.2 L373.8 296.4 L371.3 276.1 L365.0 276.8 Z" fill="#ffaa00" stroke="#ffaa00" stroke-width="0.6"/>
<path d="M162.1 310.2 L169.0 312.8 L176.1 293.6 L169.5 291.1 Z M169.5 291.1 L176.1 293.6 L183.2 274.3 L177.0 271.9 Z M208.8 239.8 L214.5 241.7 L220.7 222.1 L215.3 220.3 Z M214.5 241.7 L220.3 243.4 L226.1 223.8 L220.7 222.1 Z M179.3 381.2 L187.4 383.5 L192.9 363.7 L185.2 361.5 Z M220.3 243.4 L226.0 245.1 L231.6 225.3 L226.1 223.8 Z M242.5 228.2 L248.0 229.5 L252.6 209.4 L247.4 208.2 Z M263.0 211.6 L268.2 212.6 L271.8 192.3 L266.9 191.4 Z M281.6 193.9 L286.6 194.5 L289.1 174.1 L284.5 173.4 Z M304.5 154.8 L308.8 155.1 L310.0 134.4 L306.0 134.2 Z M310.0 134.4 L314.0 134.6 L314.8 113.9 L311.2 113.7 Z M318.4 114.0 L322.0 114.0 L322.2 93.2 L318.9 93.1 Z M322.0 114.0 L325.7 114.0 L325.5 93.2 L322.2 93.2 Z M322.2 93.2 L325.5 93.2 L325.3 72.2 L322.4 72.2 Z M325.5 93.2 L328.8 93.1 L328.2 72.1 L325.3 72.2 Z M402.5 270.9 L408.7 269.5 L404.2 249.5 L398.3 250.8 Z M472.4 226.8 L477.9 224.3 L469.2 205.7 L464.0 208.0 Z M486.6 242.9 L492.3 240.1 L483.3 221.7 L477.9 224.3 Z M477.9 224.3 L483.3 221.7 L474.3 203.2 L469.2 205.7 Z" fill="#ff9f00" stroke="#ff9f00" stroke-width="0.6"/>
<path d="M161.8 332.1 L169.1 334.7 L175.9 315.3 L169.0 312.8 Z M169.0 312.8 L175.9 315.3 L182.7 295.9 L176.1 293.6 Z M176.1 293.6 L182.7 295.9 L189.5 276.6 L183.2 274.3 Z M183.2 274.3 L189.5 276.6 L196.3 257.2 L190.4 255.1 Z M162.3 354.1 L169.9 356.7 L176.4 337.2 L169.1 334.7 Z M169.9 356.7 L177.5 359.1 L183.7 339.5 L176.4 337.2 Z M177.5 359.1 L185.2 361.5 L191.0 341.8 L183.7 339.5 Z M208.4 261.3 L214.4 263.1 L220.3 243.4 L214.5 241.7 Z M187.4 383.5 L195.4 385.7 L200.7 365.8 L192.9 363.7 Z M226.0 245.1 L231.8 246.7 L237.0 226.8 L231.6 225.3 Z M231.8 246.7 L237.7 248.1 L242.5 228.2 L237.0 226.8 Z M248.0 229.5 L253.6 230.7 L257.8 210.6 L252.6 209.4 Z M286.6 194.5 L291.5 195.1 L293.7 174.6 L289.1 174.1 Z M298.3 175.1 L303.0 175.4 L304.5 154.8 L300.2 154.5 Z M308.8 155.1 L313.1 155.3 L314.0 134.6 L310.0 134.4 Z M314.0 134.6 L317.9 134.8 L318.4 114.0 L314.8 113.9 Z M328.2 422.8 L336.9 422.7 L336.4 402.1 L328.0 402.2 Z M328.0 402.2 L336.4 402.1 L335.9 381.5 L327.9 381.7 Z M325.7 114.0 L329.3 114.0 L328.8 93.1 L325.5 93.2 Z M329.3 114.0 L332.9 113.9 L332.0 93.0 L328.8 93.1 Z M328.8 93.1 L332.0 93.0 L331.2 72.1 L328.2 72.1 Z M341.4 319.7 L348.4 319.4 L347.2 298.9 L340.5 299.2 Z M332.0 93.0 L335.3 92.8 L334.1 71.9 L331.2 72.1 Z" fill="#ff9500" stroke="#ff9500" stroke-width="0.6"/>
<path d="M182.9 317.7 L189.9 320.0 L196.0 300.4 L189.3 298.2 Z M191.0 341.8 L198.4 343.9 L204.0 324.2 L196.9 322.1 Z M208.6 282.8 L215.0 284.6 L220.5 264.9 L214.4 263.1 Z M226.6 266.5 L232.8 268.1 L237.7 248.1 L231.8 246.7 Z M259.1 231.8 L264.7 232.8 L268.2 212.6 L263.0 211.6 Z M241.4 416.4 L250.0 417.7 L252.9 397.3 L244.6 396.0 Z M293.4 422.0 L302.1 422.4 L302.9 401.8 L294.6 401.4 Z M307.6 175.7 L312.2 176.0 L313.1 155.3 L308.8 155.1 Z M319.7 402.2 L328.0 402.2 L327.9 381.7 L319.8 381.7 Z M321.7 155.5 L326.0 155.5 L325.8 134.8 L321.9 134.8 Z M327.2 299.5 L333.9 299.4 L333.4 278.9 L327.0 279.0 Z M325.8 134.8 L329.8 134.8 L329.3 114.0 L325.7 114.0 Z M340.1 113.4 L343.7 113.1 L341.8 92.4 L338.6 92.6 Z M343.7 113.1 L347.3 112.8 L345.1 92.0 L341.8 92.4 Z M348.3 91.7 L351.6 91.2 L348.6 70.5 L345.7 70.8 Z M351.6 91.2 L354.8 90.7 L351.5 70.0 L348.6 70.5 Z M396.3 272.1 L402.5 270.9 L398.3 250.8 L392.5 252.0 Z M438.9 239.8 L444.6 237.9 L437.7 218.5 L432.4 220.3 Z M444.6 237.9 L450.2 235.8 L443.1 216.6 L437.7 218.5 Z M450.2 235.8 L455.8 233.7 L448.4 214.6 L443.1 216.6 Z M455.8 233.7 L461.4 231.5 L453.6 212.5 L448.4 214.6 Z M461.4 231.5 L466.9 229.2 L458.8 210.3 L453.6 212.5 Z M466.9 229.2 L472.4 226.8 L464.0 208.0 L458.8 210.3 Z" fill="#ff7500" stroke="#ff7500" stroke-width="0.6"/>
<path d="M183.7 339.5 L191.0 341.8 L196.9 322.1 L189.9 320.0 Z M196.0 300.4 L202.7 302.4 L208.6 282.8 L202.2 280.8 Z M185.2 361.5 L192.9 363.7 L198.4 343.9 L191.0 341.8 Z M220.5 264.9 L226.6 266.5 L231.8 246.7 L226.0 245.1 Z M195.4 385.7 L203.6 387.8 L208.4 367.8 L200.7 365.8 Z M243.5 249.5 L249.4 250.8 L253.6 230.7 L248.0 229.5 Z M296.5 195.6 L301.4 196.0 L303.0 175.4 L298.3 175.1 Z M317.4 155.5 L321.7 155.5 L321.9 134.8 L317.9 134.8 Z M321.9 134.8 L325.8 134.8 L325.7 114.0 L322.0 114.0 Z M327.4 320.0 L334.4 319.9 L333.9 299.4 L327.2 299.5 Z M334.9 340.4 L342.2 340.2 L341.4 319.7 L334.4 319.9 Z M348.4 319.4 L355.4 318.9 L353.9 298.4 L347.2 298.9 Z M336.5 113.7 L340.1 113.4 L338.6 92.6 L335.3 92.8 Z M353.9 298.4 L360.5 297.9 L358.7 277.4 L352.4 278.0 Z M341.8 92.4 L345.1 92.0 L342.8 71.2 L339.9 71.5 Z M345.1 92.0 L348.3 91.7 L345.7 70.8 L342.8 71.2 Z M358.0 90.2 L361.3 89.6 L357.3 69.0 L354.4 69.5 Z M361.3 89.6 L364.5 89.0 L360.2 68.4 L357.3 69.0 Z M433.2 241.7 L438.9 239.8 L432.4 220.3 L427.0 222.1 Z" fill="#ff8000" stroke="#ff8000" stroke-width="0.6"/>
<path d="M189.9 320.0 L196.9 322.1 L202.7 302.4 L196.0 300.4 Z M202.7 302.4 L209.5 304.4 L215.0 284.6 L208.6 282.8 Z M192.9 363.7 L200.7 365.8 L205.9 345.9 L198.4 343.9 Z M198.4 343.9 L205.9 345.9 L211.1 326.1 L204.0 324.2 Z M215.0 284.6 L221.4 286.4 L226.6 266.5 L220.5 264.9 Z M232.8 268.1 L239.0 269.5 L243.5 249.5 L237.7 248.1 Z M249.4 250.8 L255.2 252.0 L259.1 231.8 L253.6 230.7 Z M301.4 196.0 L306.4 196.3 L307.6 175.7 L303.0 175.4 Z M312.2 176.0 L316.9 176.1 L317.4 155.5 L313.1 155.3 Z M311.3 402.1 L319.7 402.2 L319.8 381.7 L311.8 381.5 Z M319.8 381.7 L327.9 381.7 L327.7 361.1 L320.0 361.1 Z M320.5 299.5 L327.2 299.5 L327.0 279.0 L320.7 279.0 Z M327.7 361.1 L335.4 361.0 L334.9 340.4 L327.5 340.6 Z M326.0 155.5 L330.3 155.5 L329.8 134.8 L325.8 134.8 Z M329.8 134.8 L333.7 134.6 L332.9 113.9 L329.3 114.0 Z M333.7 134.6 L337.7 134.4 L336.5 113.7 L332.9 113.9 Z M347.3 112.8 L350.9 112.4 L348.3 91.7 L345.1 92.0 Z M350.9 112.4 L354.5 111.9 L351.6 91.2 L348.3 91.7 Z M354.8 90.7 L358.0 90.2 L354.4 69.5 L351.5 70.0 Z M415.9 246.7 L421.7 245.1 L416.1 225.3 L410.7 226.8 Z M421.7 245.1 L427.4 243.4 L421.6 223.8 L416.1 225.3 Z" fill="#ff6a00" stroke="#ff6a00" stroke-width="0.6"/>
<path d="M196.9 322.1 L204.0 324.2 L209.5 304.4 L202.7 302.4 Z M209.5 304.4 L216.3 306.2 L221.4 286.4 L215.0 284.6 Z M200.7 365.8 L208.4 367.8 L213.3 347.8 L205.9 345.9 Z M205.9 345.9 L213.3 347.8 L218.2 327.9 L211.1 326.1 Z M239.0 269.5 L245.2 270.9 L249.4 250.8 L243.5 249.5 Z M255.2 252.0 L261.1 253.1 L264.7 232.8 L259.1 231.8 Z M264.7 232.8 L270.3 233.8 L273.5 213.5 L268.2 212.6 Z M258.7 418.8 L267.3 419.8 L269.5 399.3 L261.2 398.4 Z M284.0 214.9 L289.3 215.6 L291.5 195.1 L286.6 194.5 Z M294.6 216.1 L299.9 216.5 L301.4 196.0 L296.5 195.6 Z M284.7 421.4 L293.4 422.0 L294.6 401.4 L286.2 400.9 Z M306.4 196.3 L311.4 196.6 L312.2 176.0 L307.6 175.7 Z M302.9 401.8 L311.3 402.1 L311.8 381.5 L303.8 381.3 Z M313.8 299.4 L320.5 299.5 L320.7 279.0 L314.3 278.9 Z M316.9 176.1 L321.5 176.2 L321.7 155.5 L317.4 155.5 Z M333.9 299.4 L340.5 299.2 L339.7 278.7 L333.4 278.9 Z M334.6 155.3 L338.9 155.1 L337.7 134.4 L333.7 134.6 Z M345.6 133.8 L349.5 133.4 L347.3 112.8 L343.7 113.1 Z M349.5 133.4 L353.5 133.0 L350.9 112.4 L347.3 112.8 Z M365.2 110.1 L368.7 109.4 L364.5 89.0 L361.3 89.6 Z M368.7 109.4 L372.3 108.6 L367.7 88.3 L364.5 89.0 Z M404.2 249.5 L410.0 248.1 L405.2 228.2 L399.7 229.5 Z M372.3 108.6 L375.8 107.8 L370.8 87.5 L367.7 88.3 Z" fill="#ff5500" stroke="#ff5500" stroke-width="0.6"/>
<path d="M204.0 324.2 L211.1 326.1 L216.3 306.2 L209.5 304.4 Z M216.3 369.6 L224.1 371.3 L228.3 351.2 L220.8 349.6 Z M220.8 349.6 L228.3 351.2 L232.5 331.1 L225.4 329.6 Z M234.4 289.5 L240.9 291.0 L245.2 270.9 L239.0 269.5 Z M228.1 393.1 L236.4 394.7 L239.9 374.4 L232.0 372.9 Z M261.1 253.1 L267.1 254.0 L270.3 233.8 L264.7 232.8 Z M278.8 214.2 L284.0 214.9 L286.6 194.5 L281.6 193.9 Z M303.8 381.3 L311.8 381.5 L312.3 361.0 L304.6 360.7 Z M307.2 299.2 L313.8 299.4 L314.3 278.9 L308.0 278.7 Z M320.3 320.0 L327.4 320.0 L327.2 299.5 L320.5 299.5 Z M326.2 176.2 L330.8 176.1 L330.3 155.5 L326.0 155.5 Z M340.5 299.2 L347.2 298.9 L346.0 278.4 L339.7 278.7 Z M347.2 298.9 L353.9 298.4 L352.4 278.0 L346.0 278.4 Z M343.2 154.8 L347.5 154.5 L345.6 133.8 L341.7 134.2 Z M365.0 276.8 L371.3 276.1 L368.7 255.7 L362.8 256.4 Z M361.3 131.9 L365.2 131.2 L361.6 110.8 L358.1 111.3 Z M390.1 273.3 L396.3 272.1 L392.5 252.0 L386.6 253.1 Z M365.2 131.2 L369.1 130.5 L365.2 110.1 L361.6 110.8 Z M392.5 252.0 L398.3 250.8 L394.1 230.7 L388.6 231.8 Z M373.0 129.7 L376.9 128.9 L372.3 108.6 L368.7 109.4 Z M364.5 89.0 L367.7 88.3 L363.0 67.8 L360.2 68.4 Z M367.7 88.3 L370.8 87.5 L365.9 67.1 L363.0 67.8 Z M370.8 87.5 L374.0 86.7 L368.7 66.4 L365.9 67.1 Z M379.3 106.9 L382.8 106.0 L377.2 85.9 L374.0 86.7 Z M374.0 86.7 L377.2 85.9 L371.5 65.7 L368.7 66.4 Z M377.2 85.9 L380.3 85.0 L374.3 64.9 L371.5 65.7 Z M380.3 85.0 L383.4 84.0 L377.1 64.0 L374.3 64.9 Z M383.4 84.0 L386.6 83.0 L379.9 63.1 L377.1 64.0 Z M386.6 83.0 L389.7 81.9 L382.7 62.1 L379.9 63.1 Z M458.8 210.3 L464.0 208.0 L455.6 189.3 L450.7 191.4 Z M464.0 208.0 L469.2 205.7 L460.5 187.0 L455.6 189.3 Z M469.2 205.7 L474.3 203.2 L465.3 184.7 L460.5 187.0 Z" fill="#ff4000" stroke="#ff4000" stroke-width="0.6"/>
<path d="M211.1 326.1 L218.2 327.9 L223.1 307.9 L216.3 306.2 Z M218.2 327.9 L225.4 329.6 L229.9 309.5 L223.1 307.9 Z M223.1 307.9 L229.9 309.5 L234.4 289.5 L227.9 288.0 Z M225.4 329.6 L232.5 331.1 L236.7 311.0 L229.9 309.5 Z M224.1 371.3 L232.0 372.9 L235.9 352.7 L228.3 351.2 Z M228.3 351.2 L235.9 352.7 L239.8 332.6 L232.5 331.1 Z M251.4 272.1 L257.6 273.3 L261.1 253.1 L255.2 252.0 Z M267.1 254.0 L273.0 254.9 L275.9 234.6 L270.3 233.8 Z M275.9 234.6 L281.5 235.3 L284.0 214.9 L278.8 214.2 Z M281.5 235.3 L287.1 236.0 L289.3 215.6 L284.0 214.9 Z M287.1 236.0 L292.7 236.6 L294.6 216.1 L289.3 215.6 Z M286.2 400.9 L294.6 401.4 L295.7 380.9 L287.7 380.3 Z M305.2 216.9 L310.5 217.1 L311.4 196.6 L306.4 196.3 Z M312.3 361.0 L320.0 361.1 L320.2 340.6 L312.8 340.4 Z M316.4 196.7 L321.4 196.8 L321.5 176.2 L316.9 176.1 Z M330.8 176.1 L335.5 176.0 L334.6 155.3 L330.3 155.5 Z M358.7 277.4 L365.0 276.8 L362.8 256.4 L356.8 257.0 Z M347.5 154.5 L351.8 154.0 L349.5 133.4 L345.6 133.8 Z M351.8 154.0 L356.0 153.6 L353.5 133.0 L349.5 133.4 Z M386.6 253.1 L392.5 252.0 L388.6 231.8 L383.0 232.8 Z M369.1 130.5 L373.0 129.7 L368.7 109.4 L365.2 110.1 Z M376.9 128.9 L380.7 128.0 L375.8 107.8 L372.3 108.6 Z M380.7 128.0 L384.6 127.0 L379.3 106.9 L375.8 107.8 Z M432.4 220.3 L437.7 218.5 L430.9 199.1 L425.9 200.8 Z M437.7 218.5 L443.1 216.6 L435.9 197.3 L430.9 199.1 Z M389.7 81.9 L392.7 80.8 L385.4 61.2 L382.7 62.1 Z M443.1 216.6 L448.4 214.6 L440.9 195.4 L435.9 197.3 Z M392.7 80.8 L395.8 79.7 L388.2 60.1 L385.4 61.2 Z M448.4 214.6 L453.6 212.5 L445.8 193.4 L440.9 195.4 Z M395.8 79.7 L398.8 78.4 L390.9 59.0 L388.2 60.1 Z M453.6 212.5 L458.8 210.3 L450.7 191.4 L445.8 193.4 Z M398.8 78.4 L401.8 77.2 L393.6 57.9 L390.9 59.0 Z M401.8 77.2 L404.8 75.9 L396.3 56.7 L393.6 57.9 Z M404.8 75.9 L407.8 74.5 L398.9 55.5 L396.3 56.7 Z M407.8 74.5 L410.8 73.1 L401.6 54.2 L398.9 55.5 Z" fill="#ff3500" stroke="#ff3500" stroke-width="0.6"/>
<path d="M216.3 306.2 L223.1 307.9 L227.9 288.0 L221.4 286.4 Z M208.4 367.8 L216.3 369.6 L220.8 349.6 L213.3 347.8 Z M213.3 347.8 L220.8 349.6 L225.4 329.6 L218.2 327.9 Z M227.9 288.0 L234.4 289.5 L239.0 269.5 L232.8 268.1 Z M219.9 391.5 L228.1 393.1 L232.0 372.9 L224.1 371.3 Z M245.2 270.9 L251.4 272.1 L255.2 252.0 L249.4 250.8 Z M268.2 212.6 L273.5 213.5 L276.7 193.1 L271.8 192.3 Z M270.3 233.8 L275.9 234.6 L278.8 214.2 L273.5 213.5 Z M267.3 419.8 L276.0 420.7 L277.8 400.2 L269.5 399.3 Z M276.0 420.7 L284.7 421.4 L286.2 400.9 L277.8 400.2 Z M299.9 216.5 L305.2 216.9 L306.4 196.3 L301.4 196.0 Z M294.6 401.4 L302.9 401.8 L303.8 381.3 L295.7 380.9 Z M311.4 196.6 L316.4 196.7 L316.9 176.1 L312.2 176.0 Z M311.8 381.5 L319.8 381.7 L320.0 361.1 L312.3 361.0 Z M320.0 361.1 L327.7 361.1 L327.5 340.6 L320.2 340.6 Z M321.5 176.2 L326.2 176.2 L326.0 155.5 L321.7 155.5 Z M327.5 340.6 L334.9 340.4 L334.4 319.9 L327.4 320.0 Z M338.9 155.1 L343.2 154.8 L341.7 134.2 L337.7 134.4 Z M371.3 276.1 L377.6 275.3 L374.7 254.9 L368.7 255.7 Z M353.5 133.0 L357.4 132.5 L354.5 111.9 L350.9 112.4 Z M357.4 132.5 L361.3 131.9 L358.1 111.3 L354.5 111.9 Z M398.3 250.8 L404.2 249.5 L399.7 229.5 L394.1 230.7 Z M375.8 107.8 L379.3 106.9 L374.0 86.7 L370.8 87.5 Z" fill="#ff4a00" stroke="#ff4a00" stroke-width="0.6"/>
<path d="M221.4 286.4 L227.9 288.0 L232.8 268.1 L226.6 266.5 Z M203.6 387.8 L211.7 389.7 L216.3 369.6 L208.4 367.8 Z M250.0 417.7 L258.7 418.8 L261.2 398.4 L252.9 397.3 Z M289.3 215.6 L294.6 216.1 L296.5 195.6 L291.5 195.1 Z M330.3 155.5 L334.6 155.3 L333.7 134.6 L329.8 134.8 Z M337.7 134.4 L341.7 134.2 L340.1 113.4 L336.5 113.7 Z M341.7 134.2 L345.6 133.8 L343.7 113.1 L340.1 113.4 Z M354.5 111.9 L358.1 111.3 L354.8 90.7 L351.6 91.2 Z M358.1 111.3 L361.6 110.8 L358.0 90.2 L354.8 90.7 Z M361.6 110.8 L365.2 110.1 L361.3 89.6 L358.0 90.2 Z M410.0 248.1 L415.9 246.7 L410.7 226.8 L405.2 228.2 Z" fill="#ff6000" stroke="#ff6000" stroke-width="0.6"/>
<path d="M229.9 309.5 L236.7 311.0 L240.9 291.0 L234.4 289.5 Z M236.7 311.0 L243.6 312.4 L247.5 292.3 L240.9 291.0 Z M235.9 352.7 L243.4 354.1 L247.0 333.9 L239.8 332.6 Z M247.5 292.3 L254.1 293.5 L257.6 273.3 L251.4 272.1 Z M239.9 374.4 L247.8 375.7 L251.0 355.4 L243.4 354.1 Z M254.1 293.5 L260.7 294.6 L263.9 274.3 L257.6 273.3 Z M257.6 273.3 L263.9 274.3 L267.1 254.0 L261.1 253.1 Z M244.6 396.0 L252.9 397.3 L255.8 376.9 L247.8 375.7 Z M252.9 397.3 L261.2 398.4 L263.7 377.9 L255.8 376.9 Z M261.2 398.4 L269.5 399.3 L271.7 378.9 L263.7 377.9 Z M279.0 255.7 L284.9 256.4 L287.1 236.0 L281.5 235.3 Z M269.5 399.3 L277.8 400.2 L279.7 379.7 L271.7 378.9 Z M277.8 400.2 L286.2 400.9 L287.7 380.3 L279.7 379.7 Z M287.7 380.3 L295.7 380.9 L296.9 360.3 L289.2 359.8 Z M298.4 237.0 L304.0 237.4 L305.2 216.9 L299.9 216.5 Z M296.9 360.3 L304.6 360.7 L305.5 340.2 L298.1 339.8 Z M300.5 298.9 L307.2 299.2 L308.0 278.7 L301.7 278.4 Z M304.6 360.7 L312.3 361.0 L312.8 340.4 L305.5 340.2 Z M310.5 217.1 L315.9 217.3 L316.4 196.7 L311.4 196.6 Z M313.3 319.9 L320.3 320.0 L320.5 299.5 L313.8 299.4 Z M327.0 279.0 L333.4 278.9 L332.9 258.4 L326.9 258.5 Z M326.3 196.8 L331.3 196.7 L330.8 176.1 L326.2 176.2 Z M333.4 278.9 L339.7 278.7 L338.9 258.2 L332.9 258.4 Z M331.3 196.7 L336.3 196.6 L335.5 176.0 L330.8 176.1 Z M340.1 175.7 L344.7 175.4 L343.2 154.8 L338.9 155.1 Z M352.4 278.0 L358.7 277.4 L356.8 257.0 L350.8 257.5 Z M344.7 175.4 L349.4 175.1 L347.5 154.5 L343.2 154.8 Z M349.4 175.1 L354.0 174.6 L351.8 154.0 L347.5 154.5 Z M374.7 254.9 L380.6 254.0 L377.4 233.8 L371.8 234.6 Z M405.2 228.2 L410.7 226.8 L405.5 206.9 L400.3 208.2 Z M410.7 226.8 L416.1 225.3 L410.6 205.5 L405.5 206.9 Z M389.8 147.1 L394.0 145.9 L388.4 126.0 L384.6 127.0 Z M416.1 225.3 L421.6 223.8 L415.7 204.0 L410.6 205.5 Z M425.9 200.8 L430.9 199.1 L424.1 179.7 L419.4 181.3 Z" fill="#ff2000" stroke="#ff2000" stroke-width="0.6"/>
<path d="M232.5 331.1 L239.8 332.6 L243.6 312.4 L236.7 311.0 Z M240.9 291.0 L247.5 292.3 L251.4 272.1 L245.2 270.9 Z M232.0 372.9 L239.9 374.4 L243.4 354.1 L235.9 352.7 Z M236.4 394.7 L244.6 396.0 L247.8 375.7 L239.9 374.4 Z M273.5 213.5 L278.8 214.2 L281.6 193.9 L276.7 193.1 Z M273.0 254.9 L279.0 255.7 L281.5 235.3 L275.9 234.6 Z M292.7 236.6 L298.4 237.0 L299.9 216.5 L294.6 216.1 Z M295.7 380.9 L303.8 381.3 L304.6 360.7 L296.9 360.3 Z M320.2 340.6 L327.5 340.6 L327.4 320.0 L320.3 320.0 Z M321.4 196.8 L326.3 196.8 L326.2 176.2 L321.5 176.2 Z M335.5 176.0 L340.1 175.7 L338.9 155.1 L334.6 155.3 Z M356.0 153.6 L360.3 153.0 L357.4 132.5 L353.5 133.0 Z M377.6 275.3 L383.8 274.3 L380.6 254.0 L374.7 254.9 Z M360.3 153.0 L364.6 152.3 L361.3 131.9 L357.4 132.5 Z M383.8 274.3 L390.1 273.3 L386.6 253.1 L380.6 254.0 Z M380.6 254.0 L386.6 253.1 L383.0 232.8 L377.4 233.8 Z M364.6 152.3 L368.8 151.6 L365.2 131.2 L361.3 131.9 Z M368.8 151.6 L373.0 150.9 L369.1 130.5 L365.2 131.2 Z M373.0 150.9 L377.2 150.0 L373.0 129.7 L369.1 130.5 Z M377.2 150.0 L381.4 149.1 L376.9 128.9 L373.0 129.7 Z M381.4 149.1 L385.6 148.1 L380.7 128.0 L376.9 128.9 Z M385.6 148.1 L389.8 147.1 L384.6 127.0 L380.7 128.0 Z M421.6 223.8 L427.0 222.1 L420.8 202.5 L415.7 204.0 Z M427.0 222.1 L432.4 220.3 L425.9 200.8 L420.8 202.5 Z" fill="#ff2b00" stroke="#ff2b00" stroke-width="0.6"/>
<path d="M239.8 332.6 L247.0 333.9 L250.5 313.7 L243.6 312.4 Z M243.6 312.4 L250.5 313.7 L254.1 293.5 L247.5 292.3 Z M243.4 354.1 L251.0 355.4 L254.2 335.1 L247.0 333.9 Z M250.5 313.7 L257.5 314.8 L260.7 294.6 L254.1 293.5 Z M247.8 375.7 L255.8 376.9 L258.6 356.5 L251.0 355.4 Z M251.0 355.4 L258.6 356.5 L261.5 336.2 L254.2 335.1 Z M260.7 294.6 L267.3 295.6 L270.1 275.3 L263.9 274.3 Z M263.9 274.3 L270.1 275.3 L273.0 254.9 L267.1 254.0 Z M255.8 376.9 L263.7 377.9 L266.3 357.6 L258.6 356.5 Z M258.6 356.5 L266.3 357.6 L268.8 337.2 L261.5 336.2 Z M267.3 295.6 L273.9 296.4 L276.4 276.1 L270.1 275.3 Z M270.1 275.3 L276.4 276.1 L279.0 255.7 L273.0 254.9 Z M263.7 377.9 L271.7 378.9 L273.9 358.4 L266.3 357.6 Z M273.9 296.4 L280.5 297.2 L282.7 276.8 L276.4 276.1 Z M271.7 378.9 L279.7 379.7 L281.6 359.2 L273.9 358.4 Z M284.9 256.4 L290.9 257.0 L292.7 236.6 L287.1 236.0 Z M279.7 379.7 L287.7 380.3 L289.2 359.8 L281.6 359.2 Z M289.2 359.8 L296.9 360.3 L298.1 339.8 L290.8 339.4 Z M304.0 237.4 L309.7 237.7 L310.5 217.1 L305.2 216.9 Z M305.5 340.2 L312.8 340.4 L313.3 319.9 L306.3 319.7 Z M309.7 237.7 L315.4 237.9 L315.9 217.3 L310.5 217.1 Z M312.8 340.4 L320.2 340.6 L320.3 320.0 L313.3 319.9 Z M315.9 217.3 L321.2 217.4 L321.4 196.8 L316.4 196.7 Z M320.7 279.0 L327.0 279.0 L326.9 258.5 L320.8 258.5 Z M339.7 278.7 L346.0 278.4 L344.8 257.9 L338.9 258.2 Z M336.3 196.6 L341.3 196.3 L340.1 175.7 L335.5 176.0 Z M346.0 278.4 L352.4 278.0 L350.8 257.5 L344.8 257.9 Z M341.3 196.3 L346.3 196.0 L344.7 175.4 L340.1 175.7 Z M346.3 196.0 L351.2 195.6 L349.4 175.1 L344.7 175.4 Z M351.2 195.6 L356.2 195.1 L354.0 174.6 L349.4 175.1 Z M354.0 174.6 L358.6 174.1 L356.0 153.6 L351.8 154.0 Z M368.7 255.7 L374.7 254.9 L371.8 234.6 L366.2 235.3 Z M361.1 194.5 L366.1 193.9 L363.2 173.4 L358.6 174.1 Z M358.6 174.1 L363.2 173.4 L360.3 153.0 L356.0 153.6 Z M366.1 193.9 L371.0 193.1 L367.8 172.8 L363.2 173.4 Z M363.2 173.4 L367.8 172.8 L364.6 152.3 L360.3 153.0 Z M371.0 193.1 L375.9 192.3 L372.4 172.0 L367.8 172.8 Z M367.8 172.8 L372.4 172.0 L368.8 151.6 L364.6 152.3 Z M383.0 232.8 L388.6 231.8 L384.7 211.6 L379.5 212.6 Z M372.4 172.0 L376.9 171.2 L373.0 150.9 L368.8 151.6 Z M388.6 231.8 L394.1 230.7 L389.9 210.6 L384.7 211.6 Z M384.7 211.6 L389.9 210.6 L385.7 190.4 L380.8 191.4 Z M380.8 191.4 L385.7 190.4 L381.5 170.2 L376.9 171.2 Z M376.9 171.2 L381.5 170.2 L377.2 150.0 L373.0 150.9 Z M394.1 230.7 L399.7 229.5 L395.1 209.4 L389.9 210.6 Z M389.9 210.6 L395.1 209.4 L390.6 189.4 L385.7 190.4 Z M381.5 170.2 L386.0 169.3 L381.4 149.1 L377.2 150.0 Z M399.7 229.5 L405.2 228.2 L400.3 208.2 L395.1 209.4 Z M395.1 209.4 L400.3 208.2 L395.4 188.2 L390.6 189.4 Z M390.6 189.4 L395.4 188.2 L390.5 168.2 L386.0 169.3 Z M386.0 169.3 L390.5 168.2 L385.6 148.1 L381.4 149.1 Z M400.3 208.2 L405.5 206.9 L400.3 187.0 L395.4 188.2 Z M395.4 188.2 L400.3 187.0 L395.0 167.1 L390.5 168.2 Z M390.5 168.2 L395.0 167.1 L389.8 147.1 L385.6 148.1 Z M405.5 206.9 L410.6 205.5 L405.1 185.7 L400.3 187.0 Z M400.3 187.0 L405.1 185.7 L399.5 165.8 L395.0 167.1 Z M395.0 167.1 L399.5 165.8 L394.0 145.9 L389.8 147.1 Z M410.6 205.5 L415.7 204.0 L409.9 184.3 L405.1 185.7 Z M405.1 185.7 L409.9 184.3 L404.0 164.6 L399.5 165.8 Z M399.5 165.8 L404.0 164.6 L398.1 144.7 L394.0 145.9 Z M415.7 204.0 L420.8 202.5 L414.6 182.9 L409.9 184.3 Z M409.9 184.3 L414.6 182.9 L408.4 163.2 L404.0 164.6 Z M420.8 202.5 L425.9 200.8 L419.4 181.3 L414.6 182.9 Z M414.6 182.9 L419.4 181.3 L412.8 161.8 L408.4 163.2 Z M450.7 191.4 L455.6 189.3 L447.2 170.5 L442.6 172.5 Z M455.6 189.3 L460.5 187.0 L451.7 168.4 L447.2 170.5 Z" fill="#ff1500" stroke="#ff1500" stroke-width="0.6"/>
<path d="M229.2 435.3 L238.2 436.8 L241.4 416.4 L232.8 414.9 Z M277.0 524.8 L287.4 525.4 L288.6 504.7 L278.5 504.0 Z" fill="#0000f4" stroke="#0000f4" stroke-width="0.6"/>
<path d="M247.0 333.9 L254.2 335.1 L257.5 314.8 L250.5 313.7 Z M254.2 335.1 L261.5 336.2 L264.4 315.9 L257.5 314.8 Z M257.5 314.8 L264.4 315.9 L267.3 295.6 L260.7 294.6 Z M261.5 336.2 L268.8 337.2 L271.3 316.8 L264.4 315.9 Z M264.4 315.9 L271.3 316.8 L273.9 296.4 L267.3 295.6 Z M266.3 357.6 L273.9 358.4 L276.1 338.0 L268.8 337.2 Z M268.8 337.2 L276.1 338.0 L278.3 317.6 L271.3 316.8 Z M271.3 316.8 L278.3 317.6 L280.5 297.2 L273.9 296.4 Z M276.4 276.1 L282.7 276.8 L284.9 256.4 L279.0 255.7 Z M273.9 358.4 L281.6 359.2 L283.4 338.7 L276.1 338.0 Z M276.1 338.0 L283.4 338.7 L285.3 318.3 L278.3 317.6 Z M278.3 317.6 L285.3 318.3 L287.2 297.9 L280.5 297.2 Z M280.5 297.2 L287.2 297.9 L289.0 277.4 L282.7 276.8 Z M282.7 276.8 L289.0 277.4 L290.9 257.0 L284.9 256.4 Z M281.6 359.2 L289.2 359.8 L290.8 339.4 L283.4 338.7 Z M283.4 338.7 L290.8 339.4 L292.3 318.9 L285.3 318.3 Z M285.3 318.3 L292.3 318.9 L293.8 298.4 L287.2 297.9 Z M287.2 297.9 L293.8 298.4 L295.3 278.0 L289.0 277.4 Z M289.0 277.4 L295.3 278.0 L296.9 257.5 L290.9 257.0 Z M290.9 257.0 L296.9 257.5 L298.4 237.0 L292.7 236.6 Z M290.8 339.4 L298.1 339.8 L299.3 319.4 L292.3 318.9 Z M292.3 318.9 L299.3 319.4 L300.5 298.9 L293.8 298.4 Z M293.8 298.4 L300.5 298.9 L301.7 278.4 L295.3 278.0 Z M295.3 278.0 L301.7 278.4 L302.9 257.9 L296.9 257.5 Z M296.9 257.5 L302.9 257.9 L304.0 237.4 L298.4 237.0 Z M298.1 339.8 L305.5 340.2 L306.3 319.7 L299.3 319.4 Z M299.3 319.4 L306.3 319.7 L307.2 299.2 L300.5 298.9 Z M301.7 278.4 L308.0 278.7 L308.8 258.2 L302.9 257.9 Z M302.9 257.9 L308.8 258.2 L309.7 237.7 L304.0 237.4 Z M306.3 319.7 L313.3 319.9 L313.8 299.4 L307.2 299.2 Z M308.0 278.7 L314.3 278.9 L314.8 258.4 L308.8 258.2 Z M308.8 258.2 L314.8 258.4 L315.4 237.9 L309.7 237.7 Z M314.3 278.9 L320.7 279.0 L320.8 258.5 L314.8 258.4 Z M314.8 258.4 L320.8 258.5 L321.0 238.0 L315.4 237.9 Z M315.4 237.9 L321.0 238.0 L321.2 217.4 L315.9 217.3 Z M320.8 258.5 L326.9 258.5 L326.7 238.0 L321.0 238.0 Z M321.0 238.0 L326.7 238.0 L326.5 217.4 L321.2 217.4 Z M321.2 217.4 L326.5 217.4 L326.3 196.8 L321.4 196.8 Z M326.9 258.5 L332.9 258.4 L332.3 237.9 L326.7 238.0 Z M326.7 238.0 L332.3 237.9 L331.8 217.3 L326.5 217.4 Z M326.5 217.4 L331.8 217.3 L331.3 196.7 L326.3 196.8 Z M332.9 258.4 L338.9 258.2 L338.0 237.7 L332.3 237.9 Z M332.3 237.9 L338.0 237.7 L337.2 217.1 L331.8 217.3 Z M331.8 217.3 L337.2 217.1 L336.3 196.6 L331.3 196.7 Z M338.9 258.2 L344.8 257.9 L343.7 237.4 L338.0 237.7 Z M338.0 237.7 L343.7 237.4 L342.5 216.9 L337.2 217.1 Z M337.2 217.1 L342.5 216.9 L341.3 196.3 L336.3 196.6 Z M344.8 257.9 L350.8 257.5 L349.3 237.0 L343.7 237.4 Z M343.7 237.4 L349.3 237.0 L347.8 216.5 L342.5 216.9 Z M342.5 216.9 L347.8 216.5 L346.3 196.0 L341.3 196.3 Z M350.8 257.5 L356.8 257.0 L355.0 236.6 L349.3 237.0 Z M349.3 237.0 L355.0 236.6 L353.1 216.1 L347.8 216.5 Z M347.8 216.5 L353.1 216.1 L351.2 195.6 L346.3 196.0 Z M356.8 257.0 L362.8 256.4 L360.6 236.0 L355.0 236.6 Z M355.0 236.6 L360.6 236.0 L358.4 215.6 L353.1 216.1 Z M353.1 216.1 L358.4 215.6 L356.2 195.1 L351.2 195.6 Z M362.8 256.4 L368.7 255.7 L366.2 235.3 L360.6 236.0 Z M360.6 236.0 L366.2 235.3 L363.7 214.9 L358.4 215.6 Z M358.4 215.6 L363.7 214.9 L361.1 194.5 L356.2 195.1 Z M356.2 195.1 L361.1 194.5 L358.6 174.1 L354.0 174.6 Z M366.2 235.3 L371.8 234.6 L368.9 214.2 L363.7 214.9 Z M363.7 214.9 L368.9 214.2 L366.1 193.9 L361.1 194.5 Z M371.8 234.6 L377.4 233.8 L374.2 213.5 L368.9 214.2 Z M368.9 214.2 L374.2 213.5 L371.0 193.1 L366.1 193.9 Z M377.4 233.8 L383.0 232.8 L379.5 212.6 L374.2 213.5 Z M374.2 213.5 L379.5 212.6 L375.9 192.3 L371.0 193.1 Z M379.5 212.6 L384.7 211.6 L380.8 191.4 L375.9 192.3 Z M375.9 192.3 L380.8 191.4 L376.9 171.2 L372.4 172.0 Z M385.7 190.4 L390.6 189.4 L386.0 169.3 L381.5 170.2 Z" fill="#ff0b00" stroke="#ff0b00" stroke-width="0.6"/>
<path d="M253.5 459.8 L262.9 460.9 L265.1 440.3 L256.1 439.3 Z M328.9 505.7 L339.0 505.5 L338.5 484.7 L328.7 484.9 Z M339.0 505.5 L349.0 505.2 L348.2 484.4 L338.5 484.7 Z M366.1 462.6 L375.5 461.8 L373.6 441.2 L364.6 442.0 Z M386.5 398.4 L394.8 397.3 L391.9 376.9 L384.0 377.9 Z M504.0 280.0 L510.3 277.0 L501.3 258.6 L495.3 261.4 Z" fill="#6aff95" stroke="#6aff95" stroke-width="0.6"/>
<path d="M256.1 439.3 L265.1 440.3 L267.3 419.8 L258.7 418.8 Z M371.6 338.0 L378.9 337.2 L376.4 316.8 L369.4 317.6 Z M376.4 316.8 L383.3 315.9 L380.4 295.6 L373.8 296.4 Z" fill="#ffff00" stroke="#ffff00" stroke-width="0.6"/>
<path d="M260.7 481.5 L270.4 482.5 L272.2 461.8 L262.9 460.9 Z" fill="#006aff" stroke="#006aff" stroke-width="0.6"/>
<path d="M262.9 460.9 L272.2 461.8 L274.1 441.2 L265.1 440.3 Z M364.6 442.0 L373.6 441.2 L371.7 420.7 L363.0 421.4 Z M393.5 335.1 L400.7 333.9 L397.2 313.7 L390.2 314.8 Z" fill="#b5ff4a" stroke="#b5ff4a" stroke-width="0.6"/>
<path d="M268.5 503.2 L278.5 504.0 L280.1 483.3 L270.4 482.5 Z" fill="#0000ff" stroke="#0000ff" stroke-width="0.6"/>
<path d="M270.4 482.5 L280.1 483.3 L281.6 462.6 L272.2 461.8 Z M450.8 322.1 L457.8 320.0 L451.7 300.4 L445.0 302.4 Z" fill="#00f4ff" stroke="#00f4ff" stroke-width="0.6"/>
<path d="M278.5 504.0 L288.6 504.7 L289.8 483.9 L280.1 483.3 Z" fill="#009fff" stroke="#009fff" stroke-width="0.6"/>
<path d="M281.6 462.6 L291.0 463.2 L292.2 442.6 L283.1 442.0 Z M328.5 464.2 L337.9 464.0 L337.4 443.3 L328.4 443.5 Z M378.9 337.2 L386.2 336.2 L383.3 315.9 L376.4 316.8 Z M390.2 314.8 L397.2 313.7 L393.6 293.5 L387.0 294.6 Z" fill="#dfff20" stroke="#dfff20" stroke-width="0.6"/>
<path d="M287.4 525.4 L297.8 526.0 L298.7 505.2 L288.6 504.7 Z" fill="#0095ff" stroke="#0095ff" stroke-width="0.6"/>
<path d="M288.6 504.7 L298.7 505.2 L299.5 484.4 L289.8 483.9 Z M457.8 320.0 L464.8 317.7 L458.4 298.2 L451.7 300.4 Z M500.5 348.5 L508.0 345.5 L500.2 326.5 L493.1 329.3 Z M515.8 364.5 L523.5 361.3 L515.4 342.4 L508.0 345.5 Z M508.0 345.5 L515.4 342.4 L507.3 323.5 L500.2 326.5 Z M523.5 361.3 L531.2 358.0 L522.8 339.2 L515.4 342.4 Z M515.4 342.4 L522.8 339.2 L514.4 320.4 L507.3 323.5 Z M507.3 323.5 L514.4 320.4 L506.0 301.7 L499.2 304.6 Z M539.6 376.8 L547.5 373.1 L538.8 354.5 L531.2 358.0 Z M531.2 358.0 L538.8 354.5 L530.1 335.8 L522.8 339.2 Z M522.8 339.2 L530.1 335.8 L521.4 317.2 L514.4 320.4 Z M514.4 320.4 L521.4 317.2 L512.6 298.6 L506.0 301.7 Z M547.5 373.1 L555.4 369.4 L546.3 350.9 L538.8 354.5 Z M538.8 354.5 L546.3 350.9 L537.3 332.4 L530.1 335.8 Z M530.1 335.8 L537.3 332.4 L528.3 313.9 L521.4 317.2 Z M521.4 317.2 L528.3 313.9 L519.3 295.4 L512.6 298.6 Z" fill="#00eaff" stroke="#00eaff" stroke-width="0.6"/>
<path d="M291.0 463.2 L300.4 463.7 L301.2 443.0 L292.2 442.6 Z M319.2 464.2 L328.5 464.2 L328.4 443.5 L319.3 443.5 Z M360.0 380.3 L368.0 379.7 L366.1 359.2 L358.5 359.8 Z M373.8 358.4 L381.4 357.6 L378.9 337.2 L371.6 338.0 Z M400.2 292.3 L406.8 291.0 L402.5 270.9 L396.3 272.1 Z" fill="#eaff15" stroke="#eaff15" stroke-width="0.6"/>
<path d="M297.8 526.0 L308.2 526.3 L308.7 505.5 L298.7 505.2 Z" fill="#0bfff4" stroke="#0bfff4" stroke-width="0.6"/>
<path d="M298.7 505.2 L308.7 505.5 L309.2 484.7 L299.5 484.4 Z M367.6 483.3 L377.3 482.5 L375.5 461.8 L366.1 462.6 Z M400.6 438.1 L409.5 436.8 L406.3 416.4 L397.7 417.7 Z M438.2 304.4 L445.0 302.4 L439.1 282.8 L432.7 284.6 Z" fill="#35ffca" stroke="#35ffca" stroke-width="0.6"/>
<path d="M299.5 484.4 L309.2 484.7 L309.8 464.0 L300.4 463.7 Z M384.8 460.9 L394.2 459.8 L391.6 439.3 L382.6 440.3 Z M451.9 278.8 L458.2 276.6 L451.4 257.2 L445.4 259.3 Z M521.7 428.7 L530.5 425.4 L523.0 406.1 L514.5 409.3 Z" fill="#40ffbf" stroke="#40ffbf" stroke-width="0.6"/>
<path d="M300.4 463.7 L309.8 464.0 L310.3 443.3 L301.2 443.0 Z M309.8 464.0 L319.2 464.2 L319.3 443.5 L310.3 443.3 Z M355.5 442.6 L364.6 442.0 L363.0 421.4 L354.3 422.0 Z M383.3 315.9 L390.2 314.8 L387.0 294.6 L380.4 295.6 Z M393.6 293.5 L400.2 292.3 L396.3 272.1 L390.1 273.3 Z" fill="#f4ff0b" stroke="#f4ff0b" stroke-width="0.6"/>
<path d="M308.2 526.3 L318.6 526.5 L318.8 505.7 L308.7 505.5 Z M394.2 459.8 L403.5 458.6 L400.6 438.1 L391.6 439.3 Z M426.9 349.6 L434.4 347.8 L429.5 327.9 L422.3 329.6 Z" fill="#2affd5" stroke="#2affd5" stroke-width="0.6"/>
<path d="M309.2 484.7 L319.0 484.9 L319.2 464.2 L309.8 464.0 Z M318.8 505.7 L328.9 505.7 L328.7 484.9 L319.0 484.9 Z M319.0 484.9 L328.7 484.9 L328.5 464.2 L319.2 464.2 Z M328.7 484.9 L338.5 484.7 L337.9 464.0 L328.5 464.2 Z M338.5 484.7 L348.2 484.4 L347.3 463.7 L337.9 464.0 Z M375.5 461.8 L384.8 460.9 L382.6 440.3 L373.6 441.2 Z M389.0 418.8 L397.7 417.7 L394.8 397.3 L386.5 398.4 Z M397.7 417.7 L406.3 416.4 L403.1 396.0 L394.8 397.3 Z M431.4 306.2 L438.2 304.4 L432.7 284.6 L426.3 286.4 Z" fill="#55ffaa" stroke="#55ffaa" stroke-width="0.6"/>
<path d="M337.9 464.0 L347.3 463.7 L346.5 443.0 L337.4 443.3 Z M371.7 420.7 L380.4 419.8 L378.2 399.3 L369.9 400.2 Z" fill="#bfff40" stroke="#bfff40" stroke-width="0.6"/>
<path d="M347.3 463.7 L356.7 463.2 L355.5 442.6 L346.5 443.0 Z M369.9 400.2 L378.2 399.3 L376.0 378.9 L368.0 379.7 Z" fill="#9fff60" stroke="#9fff60" stroke-width="0.6"/>
<path d="M356.7 463.2 L366.1 462.6 L364.6 442.0 L355.5 442.6 Z M415.2 331.1 L422.3 329.6 L417.8 309.5 L411.0 311.0 Z M426.3 286.4 L432.7 284.6 L427.2 264.9 L421.1 266.5 Z" fill="#80ff80" stroke="#80ff80" stroke-width="0.6"/>
<path d="M361.5 400.9 L369.9 400.2 L368.0 379.7 L360.0 380.3 Z M439.3 261.3 L445.4 259.3 L438.9 239.8 L433.2 241.7 Z M445.4 259.3 L451.4 257.2 L444.6 237.9 L438.9 239.8 Z" fill="#d4ff2b" stroke="#d4ff2b" stroke-width="0.6"/>
<path d="M373.6 441.2 L382.6 440.3 L380.4 419.8 L371.7 420.7 Z M380.4 419.8 L389.0 418.8 L386.5 398.4 L378.2 399.3 Z M376.0 378.9 L384.0 377.9 L381.4 357.6 L373.8 358.4 Z M389.1 356.5 L396.7 355.4 L393.5 335.1 L386.2 336.2 Z M400.7 333.9 L407.9 332.6 L404.1 312.4 L397.2 313.7 Z M407.9 332.6 L415.2 331.1 L411.0 311.0 L404.1 312.4 Z M404.1 312.4 L411.0 311.0 L406.8 291.0 L400.2 292.3 Z M411.0 311.0 L417.8 309.5 L413.3 289.5 L406.8 291.0 Z M413.3 289.5 L419.8 288.0 L414.9 268.1 L408.7 269.5 Z" fill="#aaff55" stroke="#aaff55" stroke-width="0.6"/>
<path d="M382.6 440.3 L391.6 439.3 L389.0 418.8 L380.4 419.8 Z M378.2 399.3 L386.5 398.4 L384.0 377.9 L376.0 378.9 Z M396.7 355.4 L404.3 354.1 L400.7 333.9 L393.5 335.1 Z" fill="#8aff75" stroke="#8aff75" stroke-width="0.6"/>
<path d="M384.0 377.9 L391.9 376.9 L389.1 356.5 L381.4 357.6 Z M424.6 307.9 L431.4 306.2 L426.3 286.4 L419.8 288.0 Z M419.8 288.0 L426.3 286.4 L421.1 266.5 L414.9 268.1 Z" fill="#95ff6a" stroke="#95ff6a" stroke-width="0.6"/>
<path d="M403.5 458.6 L412.8 457.2 L409.5 436.8 L400.6 438.1 Z M436.6 326.1 L443.7 324.2 L438.2 304.4 L431.4 306.2 Z M503.8 500.3 L513.8 497.3 L507.5 477.4 L497.9 480.4 Z M513.8 497.3 L523.7 494.0 L517.1 474.3 L507.5 477.4 Z M507.5 477.4 L517.1 474.3 L510.5 454.6 L501.2 457.6 Z M501.2 457.6 L510.5 454.6 L504.0 434.9 L495.0 437.8 Z M523.7 494.0 L533.5 490.7 L526.6 471.0 L517.1 474.3 Z M517.1 474.3 L526.6 471.0 L519.7 451.4 L510.5 454.6 Z M510.5 454.6 L519.7 451.4 L512.8 431.9 L504.0 434.9 Z M504.0 434.9 L512.8 431.9 L506.0 412.4 L497.4 415.3 Z M533.5 490.7 L543.3 487.1 L536.1 467.6 L526.6 471.0 Z M526.6 471.0 L536.1 467.6 L528.9 448.1 L519.7 451.4 Z M519.7 451.4 L528.9 448.1 L521.7 428.7 L512.8 431.9 Z M512.8 431.9 L521.7 428.7 L514.5 409.3 L506.0 412.4 Z M543.3 487.1 L553.1 483.4 L545.5 464.0 L536.1 467.6 Z M536.1 467.6 L545.5 464.0 L538.0 444.7 L528.9 448.1 Z M528.9 448.1 L538.0 444.7 L530.5 425.4 L521.7 428.7 Z M553.1 483.4 L562.8 479.6 L554.9 460.3 L545.5 464.0 Z M545.5 464.0 L554.9 460.3 L547.0 441.1 L538.0 444.7 Z M538.0 444.7 L547.0 441.1 L539.2 421.9 L530.5 425.4 Z M562.8 479.6 L572.4 475.5 L564.2 456.4 L554.9 460.3 Z M554.9 460.3 L564.2 456.4 L556.0 437.3 L547.0 441.1 Z M547.0 441.1 L556.0 437.3 L547.9 418.2 L539.2 421.9 Z M572.4 475.5 L581.9 471.3 L573.4 452.3 L564.2 456.4 Z M564.2 456.4 L573.4 452.3 L564.9 433.4 L556.0 437.3 Z M556.0 437.3 L564.9 433.4 L556.5 414.5 L547.9 418.2 Z M581.9 471.3 L591.4 467.0 L582.6 448.1 L573.4 452.3 Z M573.4 452.3 L582.6 448.1 L573.8 429.3 L564.9 433.4 Z M591.4 467.0 L600.8 462.5 L591.7 443.8 L582.6 448.1 Z M582.6 448.1 L591.7 443.8 L582.6 425.1 L573.8 429.3 Z" fill="#15ffea" stroke="#15ffea" stroke-width="0.6"/>
<path d="M394.8 397.3 L403.1 396.0 L399.9 375.7 L391.9 376.9 Z M399.9 375.7 L407.8 374.4 L404.3 354.1 L396.7 355.4 Z M411.8 352.7 L419.4 351.2 L415.2 331.1 L407.9 332.6 Z M439.1 282.8 L445.5 280.8 L439.3 261.3 L433.3 263.1 Z" fill="#60ff9f" stroke="#60ff9f" stroke-width="0.6"/>
<path d="M391.9 376.9 L399.9 375.7 L396.7 355.4 L389.1 356.5 Z M404.3 354.1 L411.8 352.7 L407.9 332.6 L400.7 333.9 Z M432.7 284.6 L439.1 282.8 L433.3 263.1 L427.2 264.9 Z" fill="#75ff8a" stroke="#75ff8a" stroke-width="0.6"/>
<path d="M429.5 327.9 L436.6 326.1 L431.4 306.2 L424.6 307.9 Z M445.0 302.4 L451.7 300.4 L445.5 280.8 L439.1 282.8 Z M451.7 300.4 L458.4 298.2 L451.9 278.8 L445.5 280.8 Z M458.4 298.2 L465.0 295.9 L458.2 276.6 L451.9 278.8 Z" fill="#20ffdf" stroke="#20ffdf" stroke-width="0.6"/>
<path d="M296.0 -5.0 L296.0 74.0 L294.5 76.6 L287.5 85.4 L284.0 88.0 L280.5 92.4 L277.0 93.7 L277.4 97.6 L274.4 102.0 L270.0 103.7 L269.1 109.0 L266.5 112.5 L261.2 114.2 L259.5 119.5 L256.9 124.7 L252.5 129.1 L249.0 133.5 L245.0 141.0 L247.0 148.0 L250.0 155.0 L249.0 167.0 L246.0 176.0 L243.5 186.0 L240.0 195.0 L236.0 203.0 L234.0 211.0 L230.0 217.0 L224.0 222.0 L221.0 229.0 L216.0 233.5 L209.0 236.5 L206.5 243.0 L204.0 251.0 L200.0 254.0 L198.5 261.0 L197.0 272.0 L196.8 284.0 L194.0 292.5 L188.4 297.5 L180.0 301.5 L168.8 304.5 L156.2 307.2 L145.0 310.0 L129.6 311.4 L100.0 318.0 L-30.0 378.0 L-30.0 -5.0 Z M372.1 113.6 L378.4 110.5 L383.6 109.4 L388.9 104.2 L392.0 103.2 L395.1 96.9 L399.3 90.6 L404.6 88.5 L407.7 86.4 L410.8 89.6 L415.0 95.8 L419.2 104.2 L421.3 109.4 L418.2 110.5 L411.9 108.4 L406.7 106.3 L404.6 109.4 L408.7 113.6 L412.9 116.7 L418.2 118.8 L422.3 125.1 L426.5 129.3 L430.7 132.4 L434.9 139.8 L435.9 147.1 L432.8 146.0 L427.6 139.8 L425.5 147.1 L423.4 143.9 L421.3 135.6 L417.1 131.4 L414.0 129.3 L412.9 133.5 L414.0 139.8 L412.9 143.9 L414.0 151.3 L415.0 158.6 L415.0 169.0 L412.9 172.2 L409.8 168.0 L406.7 164.9 L400.4 158.6 L396.2 153.4 L393.1 148.1 L392.0 143.9 L387.8 143.9 L384.7 140.8 L380.5 136.6 L376.3 132.4 L375.3 129.3 L378.4 126.2 L376.3 120.9 L373.2 116.7 L372.1 113.6 Z M140.2 378.3 L145.7 374.9 L151.2 368.5 L157.9 364.5 L162.6 366.0 L166.4 371.9 L169.4 377.0 L167.3 382.9 L168.5 387.6 L172.3 385.9 L176.1 380.4 L178.3 378.3 L180.0 380.4 L180.8 386.3 L184.2 381.2 L189.3 380.0 L192.7 382.9 L194.4 381.2 L197.7 382.9 L199.4 386.3 L203.7 382.9 L206.2 384.6 L209.6 379.6 L213.0 378.3 L215.5 381.2 L219.8 384.6 L225.7 384.2 L221.4 389.7 L223.1 392.3 L224.0 397.3 L228.2 401.6 L229.9 404.1 L229.5 409.2 L229.1 413.4 L224.8 416.0 L223.1 419.4 L218.9 421.9 L216.4 424.4 L211.3 426.1 L206.2 427.8 L197.7 430.4 L193.5 432.1 L187.6 431.2 L182.5 434.6 L178.3 435.4 L172.3 433.7 L167.3 431.2 L163.9 429.5 L160.5 426.1 L156.2 421.9 L152.9 419.4 L146.9 417.7 L143.1 416.8 L144.8 411.3 L152.0 412.6 L154.6 409.2 L152.4 405.8 L151.2 400.7 L146.9 396.9 L139.3 392.7 L146.9 391.4 L153.7 391.4 L157.9 394.0 L159.6 392.3 L153.7 389.7 L155.4 388.0 L160.5 385.5 L157.1 382.9 L144.4 382.1 Z M492.9 262.8 L537.5 245.7 L668.7 245.7 L668.7 571.2 L401.0 571.2 L401.0 518.7 L398.4 505.6 L395.7 492.5 L395.7 479.3 L401.0 466.2 L411.5 455.7 L419.4 445.2 L429.9 437.3 L435.1 424.2 L440.4 408.5 L443.0 392.7 L445.6 377.0 L448.2 366.5 L453.5 356.0 L450.9 345.5 L440.4 348.1 L443.0 340.2 L450.9 327.1 L456.1 316.6 L464.0 303.5 L469.2 290.4 L477.1 285.1 L485.0 274.6 L492.9 262.8 Z M274.8 476.6 L279.5 474.2 L286.4 476.6 L287.6 480.1 L283.0 483.6 L281.8 490.5 L280.6 499.9 L278.3 497.5 L277.1 485.9 L274.8 481.2 Z M332.9 515.4 L335.2 512.6 L337.4 511.5 L339.7 508.6 L341.4 509.2 L341.1 512.6 L339.7 514.3 L339.1 516.5 L339.7 519.4 L332.9 519.4 Z" fill="#637769"/>
<path d="M540.1 356.0 L534.9 363.9 L529.6 377.0 L530.9 392.7 L525.7 411.1 L517.8 429.5 L513.9 447.8 L517.8 466.2 L523.0 479.3 L537.5 482.0 L550.6 478.0 L558.5 468.8 L555.9 453.1 L549.3 437.3 L542.7 421.6 L538.8 413.7 L542.7 395.4 L548.0 379.6 L546.7 366.5 L540.1 356.0 Z" fill="#fff"/>
<path d="M303.1 74.9 L307.5 85.4 L312.7 97.6 L315.3 109.8 L316.2 120.2 L315.3 134.2 L316.2 144.6 L314.5 155.1 L311.0 169.0 L307.5 179.5 L298.8 186.5 L290.1 193.4 L281.3 202.2 L272.6 210.9 L263.9 219.6 L255.2 228.3 M310.1 74.9 L315.3 90.6 L320.6 102.8 L324.9 110.1 L328.1 108.0 L329.8 99.3 L328.4 92.3 L326.7 83.6 L325.8 74.9 M340.6 74.9 L342.4 90.6 L347.6 102.8 L354.6 111.5 L359.8 120.2 L365.0 130.7 L370.3 141.1 L377.2 151.6 L384.2 162.1 L391.2 170.8 L399.9 177.8 L406.9 181.2 L412.4 194.9 L422.4 209.9 L424.9 229.9 L426.1 244.9 L425.0 247.2 L426.4 255.6 L432.0 261.2 L440.4 269.6 L446.0 273.8 L451.6 282.2 L455.8 292.0 L455.1 301.8 L453.0 307.4 L447.4 315.8 L441.8 322.8 L434.8 329.8 L427.8 336.8 L420.8 345.2 L416.6 353.6 L413.8 360.6 L408.2 369.0 L401.2 376.0 L394.2 381.6 L388.6 387.2 L385.8 394.2 L384.4 404.0 L383.7 410.0 L386.1 419.9 L384.9 434.9 L393.6 444.9 L394.9 454.8 L379.9 459.8 L354.9 469.8 L334.9 482.3 L322.4 494.8 L310.0 507.3 L300.0 514.8 L297.5 518.5 M359.8 74.9 L361.6 87.1 L363.3 96.7 L370.3 97.6 L377.2 93.2 L384.2 90.6 L386.0 81.9 L392.9 74.9 L398.2 69.7 M331.9 151.6 L337.1 152.5 L342.4 154.2 L347.6 155.1 L351.1 154.2 L350.2 162.1 L352.0 169.0 L354.6 176.0 L355.4 186.5 L353.7 193.4 L350.7 200.4 L352.8 214.4 L349.3 217.8 L345.9 216.4 L342.4 210.9 L338.9 203.9 L333.7 196.9 L328.4 189.1 L324.1 179.5 L322.3 170.8 L324.9 160.3 L331.9 151.6 M321.4 183.9 L328.4 191.7 L335.4 200.4 L342.4 209.1 L347.6 216.1 L352.8 218.7 L358.1 214.4 L361.6 217.8 L363.3 224.8 L366.8 228.3 L370.3 230.0 L368.5 237.0 L363.3 238.8 L358.1 237.0 L354.6 240.5 L349.3 247.5 L344.1 251.0 L338.9 247.5 L333.7 245.7 L328.4 249.2 L323.2 249.2 L318.0 244.0 L312.7 245.7 L307.5 249.2 L302.3 247.5 L297.0 249.2 L291.8 247.5 L286.6 244.0 L281.3 242.2 L278.7 237.0 L277.0 230.0 L276.1 223.1 L277.9 217.8 L283.1 212.6 L291.8 207.4 L300.5 202.2 L309.2 196.9 L316.2 190.0 L321.4 183.9 M363.3 146.4 L365.9 148.1 L368.5 155.1 L369.4 160.3 L367.7 160.0 L365.0 155.1 L363.3 146.4 M367.7 165.6 L369.4 167.3 L370.6 176.0 L371.1 186.5 L369.9 186.5 L368.2 177.8 L367.7 165.6 M372.0 193.4 L375.5 198.7 L380.7 210.9 L385.1 221.3 L387.7 231.8 L386.3 231.8 L382.5 221.3 L377.2 209.1 L372.9 200.4 L372.0 193.4 M338.9 116.7 L342.4 115.0 L345.9 118.5 L350.2 120.2 L349.3 127.2 L347.6 135.9 L344.1 134.2 L342.4 128.9 L337.1 128.1 L335.4 125.5 L338.9 123.7 L338.9 116.7 M284.7 198.9 L278.4 208.9 L266.0 218.8 L253.5 228.8 L243.6 243.7 L236.1 256.2 L226.2 264.9 L218.7 274.8 L212.5 288.5 L208.7 301.0 L203.7 310.9 L193.8 315.4 L182.6 317.1 L172.6 318.4 L162.7 323.4 L152.7 329.6 L146.5 337.0 L144.0 347.7 L149.0 339.5 L158.9 333.8 L173.9 330.8 L182.6 333.3 L188.8 338.3 L196.3 340.8 L206.2 338.3 L210.0 334.6 L211.2 343.3 L206.2 350.7 L218.7 353.2 L226.2 358.2 L233.6 370.6 L241.1 383.1 L246.1 393.0 L252.3 403.0 L261.0 398.0 L268.5 396.8 L272.2 403.0 L273.5 412.9 L269.7 420.4 L263.5 425.4 L266.0 432.8 L271.0 440.3 L280.9 446.5 L295.9 450.3 L305.8 455.2 L313.3 462.7 L320.8 467.7 L324.5 472.7 L320.8 480.1 L315.8 487.8 L313.3 497.5 L302.0 501.5 L300.1 511.7 L299.4 515.5 M100.4 359.4 L105.4 361.2 L109.2 365.7 L107.9 375.6 L105.4 385.6 L107.9 398.0 L110.4 410.5 L112.9 420.4 L109.2 422.9 L96.7 429.1 L84.3 436.6 L74.3 446.5 L70.6 452.8 L74.3 451.5 L86.7 445.3 L101.7 437.8 L116.6 432.8 L129.1 430.4 L141.5 435.3 L154.0 437.8 L163.9 439.1 L176.4 441.6 L186.3 444.0 L196.3 440.3 L208.7 440.3 L221.2 439.1 L223.7 445.3 L226.2 452.8 L231.1 462.7 L236.1 467.7 L243.6 470.2 L246.1 477.6 L248.6 487.8 L249.8 497.5 L241.0 496.4 L233.4 497.7 L230.8 509.1 L232.7 518.0 L233.4 521.8 M238.6 287.3 L246.1 286.0 L258.5 288.5 L266.0 289.8 L271.0 288.5 L280.9 292.3 L288.4 293.5 L290.9 298.5 L298.3 302.2 L293.4 303.5 L285.9 303.5 L283.4 313.4 L284.7 333.3 L282.2 334.6 L279.7 315.9 L275.9 305.9 L271.0 304.7 L268.5 303.5 L266.0 305.9 L263.5 304.7 L261.0 293.5 L258.5 304.7 L256.0 303.5 L253.5 293.5 L248.6 291.0 L241.1 291.0 L238.6 287.3 M218.7 323.4 L222.4 319.6 L226.2 314.6 L229.9 310.9 L231.1 315.9 L229.9 320.9 L226.2 325.8 L221.2 325.8 L218.7 323.4 M243.6 277.3 L246.1 275.6 L248.6 277.3 L247.3 279.8 L244.1 279.6 L243.6 277.3 M233.6 299.0 L236.1 298.0 L237.4 302.2 L235.6 304.7 L233.6 303.5 L233.6 299.0 M65.6 455.2 L68.1 453.5 L70.1 455.2 L68.1 457.2 L65.6 455.2 M369.0 280.1 L376.0 282.9 L383.0 287.8 L387.2 293.4 L390.0 300.4 L394.2 306.0 L398.4 311.6 L402.6 318.6 L408.2 324.2 L412.4 328.4 L415.2 332.6 L411.0 334.0 L406.8 333.3 L404.0 336.1 L398.4 337.5 L392.8 339.6 L385.8 342.4 L377.4 343.8 L369.0 345.2 L362.0 346.6 L353.6 344.5 L348.0 339.6 L342.4 334.0 L338.2 329.8 L334.0 324.2 L329.8 320.0 L326.3 315.8 L328.4 311.6 L334.0 307.4 L339.6 303.2 L345.2 297.6 L349.4 290.6 L353.6 286.4 L359.2 287.8 L363.4 283.6 L369.0 280.1 M329.8 320.0 L331.9 328.4 L331.2 336.8 L334.0 345.2 L339.6 352.2 L345.2 357.8 L349.4 360.6 L350.1 366.2 L348.0 369.0 L350.8 376.0 L352.9 383.0 L355.0 391.4 L356.4 398.4 L353.6 402.6 L350.8 401.2 L346.6 405.4 L342.6 410.0 L332.5 421.4 L319.8 434.1 L313.4 441.8 L300.7 445.6 L290.5 445.6 L288.0 439.2 L289.3 429.1 L291.8 421.4 L296.9 415.1 L300.7 410.0 L293.4 401.2 L291.3 395.6 L292.0 383.0 L293.4 369.0 L294.8 355.0 L296.2 341.0 L299.0 328.4 L303.2 320.0 L308.1 313.7 M313.0 308.8 L320.0 306.0 L327.0 303.2 L328.4 306.0 L322.8 308.8 L318.6 310.2 L313.0 308.8 M342.4 306.7 L345.2 305.3 L347.3 308.1 L346.6 310.9 L343.8 311.3 L342.1 308.8 L342.4 306.7 M209.2 510.4 L218.1 501.5 L227.0 499.6 L230.8 504.0 M296.9 422.7 L302.0 421.4 L302.6 429.1 L300.7 435.4 L298.2 435.4 L296.3 429.1 L296.9 422.7" fill="none" stroke="#000" stroke-width="1.8" stroke-linejoin="round"/>
<path d="M333.7 99.3m-1.3 0a1.3 1.3 0 1 0 2.6 0a1.3 1.3 0 1 0 -2.6 0 M334.5 110.6m-1.3 0a1.3 1.3 0 1 0 2.6 0a1.3 1.3 0 1 0 -2.6 0 M340.6 159.5m-1.3 0a1.3 1.3 0 1 0 2.6 0a1.3 1.3 0 1 0 -2.6 0 M359.8 217.8m-1.3 0a1.3 1.3 0 1 0 2.6 0a1.3 1.3 0 1 0 -2.6 0 M369.4 228.3m-1.3 0a1.3 1.3 0 1 0 2.6 0a1.3 1.3 0 1 0 -2.6 0 M383.3 243.1m-1.3 0a1.3 1.3 0 1 0 2.6 0a1.3 1.3 0 1 0 -2.6 0 M368.5 256.2m-1.3 0a1.3 1.3 0 1 0 2.6 0a1.3 1.3 0 1 0 -2.6 0 M283.1 251.8m-1.3 0a1.3 1.3 0 1 0 2.6 0a1.3 1.3 0 1 0 -2.6 0 M327.5 237.9m-1.3 0a1.3 1.3 0 1 0 2.6 0a1.3 1.3 0 1 0 -2.6 0 M256.0 324.6m-1.3 0a1.3 1.3 0 1 0 2.6 0a1.3 1.3 0 1 0 -2.6 0 M278.4 339.5m-1.3 0a1.3 1.3 0 1 0 2.6 0a1.3 1.3 0 1 0 -2.6 0 M217.4 338.3m-1.3 0a1.3 1.3 0 1 0 2.6 0a1.3 1.3 0 1 0 -2.6 0 M268.5 266.1m-1.3 0a1.3 1.3 0 1 0 2.6 0a1.3 1.3 0 1 0 -2.6 0 M323.2 269.9m-1.3 0a1.3 1.3 0 1 0 2.6 0a1.3 1.3 0 1 0 -2.6 0 M351.9 269.1m-1.3 0a1.3 1.3 0 1 0 2.6 0a1.3 1.3 0 1 0 -2.6 0 M328.2 238.3m-1.3 0a1.3 1.3 0 1 0 2.6 0a1.3 1.3 0 1 0 -2.6 0 M369.0 257.0m-1.3 0a1.3 1.3 0 1 0 2.6 0a1.3 1.3 0 1 0 -2.6 0 M361.7 263.3m-1.3 0a1.3 1.3 0 1 0 2.6 0a1.3 1.3 0 1 0 -2.6 0 M322.8 270.3m-1.3 0a1.3 1.3 0 1 0 2.6 0a1.3 1.3 0 1 0 -2.6 0 M326.3 265.1m-1.3 0a1.3 1.3 0 1 0 2.6 0a1.3 1.3 0 1 0 -2.6 0 M351.5 269.6m-1.3 0a1.3 1.3 0 1 0 2.6 0a1.3 1.3 0 1 0 -2.6 0 M336.8 292.0m-1.3 0a1.3 1.3 0 1 0 2.6 0a1.3 1.3 0 1 0 -2.6 0 M294.8 291.3m-1.3 0a1.3 1.3 0 1 0 2.6 0a1.3 1.3 0 1 0 -2.6 0 M313.0 330.5m-1.3 0a1.3 1.3 0 1 0 2.6 0a1.3 1.3 0 1 0 -2.6 0 M318.6 336.1m-1.3 0a1.3 1.3 0 1 0 2.6 0a1.3 1.3 0 1 0 -2.6 0 M337.5 314.4m-1.3 0a1.3 1.3 0 1 0 2.6 0a1.3 1.3 0 1 0 -2.6 0 M332.6 352.9m-1.3 0a1.3 1.3 0 1 0 2.6 0a1.3 1.3 0 1 0 -2.6 0 M320.7 374.6m-1.3 0a1.3 1.3 0 1 0 2.6 0a1.3 1.3 0 1 0 -2.6 0 M304.6 396.3m-1.3 0a1.3 1.3 0 1 0 2.6 0a1.3 1.3 0 1 0 -2.6 0 M313.7 407.5m-1.3 0a1.3 1.3 0 1 0 2.6 0a1.3 1.3 0 1 0 -2.6 0" fill="#000"/>
<path d="M46.9 462.5 L52.3 465.1 L57.7 467.7 L63.1 470.1 L68.5 472.6 L74.0 475.0 L79.5 477.3 L85.0 479.6 L90.6 481.8 L96.1 484.0 L101.7 486.1 L107.3 488.2 L112.9 490.2 L118.6 492.2 L124.2 494.1 L129.9 496.0 L135.6 497.8 L141.3 499.5 L147.0 501.2 L152.8 502.9 L158.5 504.5 L164.3 506.0 L170.1 507.5 L175.9 508.9 L181.7 510.3 L187.5 511.6 L193.4 512.9 L199.2 514.1 L205.1 515.2 L211.0 516.3 L216.8 517.4 L222.7 518.4 L228.6 519.3 L234.5 520.2 L240.5 521.0 L246.4 521.7 L252.3 522.4 L258.3 523.1 L264.2 523.7 L270.2 524.2 L276.1 524.7 L282.1 525.1 L288.0 525.5 L294.0 525.8 L300.0 526.0 L305.9 526.2 L311.9 526.4 L317.9 526.5 L323.9 526.5 L329.8 526.5 L335.8 526.4 L341.8 526.2 L347.7 526.0 L353.7 525.8 L359.7 525.5 L365.6 525.1 L371.6 524.7 L377.5 524.2 L383.5 523.7 L389.4 523.1 L395.4 522.4 L401.3 521.7 L407.2 521.0 L413.2 520.2 L419.1 519.3 L425.0 518.4 L430.9 517.4 L436.7 516.3 L442.6 515.2 L448.5 514.1 L454.3 512.9 L460.2 511.6 L466.0 510.3 L471.8 508.9 L477.6 507.5 L483.4 506.0 L489.2 504.5 L494.9 502.9 L500.7 501.2 L506.4 499.5 L512.1 497.8 L517.8 496.0 L523.5 494.1 L529.1 492.2 L534.8 490.2 L540.4 488.2 L546.0 486.1 L551.6 484.0 L557.1 481.8 L562.7 479.6 L568.2 477.3 L573.7 475.0 L579.2 472.6 L584.6 470.1 L590.0 467.7 L595.4 465.1 L600.8 462.5 M92.3 369.4 L97.7 372.0 L103.2 374.5 L108.6 377.0 L114.1 379.4 L119.6 381.7 L125.1 384.0 L130.7 386.3 L136.3 388.4 L141.9 390.5 L147.5 392.5 L153.2 394.5 L158.9 396.4 L164.6 398.3 L170.3 400.0 L176.1 401.7 L181.8 403.4 L187.6 405.0 L193.4 406.5 L199.2 407.9 L205.0 409.3 L210.9 410.6 L216.7 411.9 L222.6 413.1 L228.5 414.2 L234.4 415.2 L240.3 416.2 L246.2 417.1 L252.2 418.0 L258.1 418.8 L264.1 419.5 L270.0 420.1 L276.0 420.7 L282.0 421.2 L287.9 421.6 L293.9 422.0 L299.9 422.3 L305.9 422.6 L311.9 422.7 L317.9 422.8 L323.8 422.9 L329.8 422.8 L335.8 422.7 L341.8 422.6 L347.8 422.3 L353.8 422.0 L359.8 421.6 L365.7 421.2 L371.7 420.7 L377.7 420.1 L383.6 419.5 L389.6 418.8 L395.5 418.0 L401.5 417.1 L407.4 416.2 L413.3 415.2 L419.2 414.2 L425.1 413.1 L431.0 411.9 L436.8 410.6 L442.7 409.3 L448.5 407.9 L454.3 406.5 L460.1 405.0 L465.9 403.4 L471.6 401.7 L477.4 400.0 L483.1 398.3 L488.8 396.4 L494.5 394.5 L500.2 392.5 L505.8 390.5 L511.4 388.4 L517.0 386.3 L522.6 384.0 L528.1 381.7 L533.6 379.4 L539.1 377.0 L544.5 374.5 L550.0 372.0 L555.4 369.4 M137.4 277.0 L142.8 279.6 L148.2 282.1 L153.6 284.5 L159.0 286.8 L164.5 289.1 L170.1 291.3 L175.6 293.4 L181.2 295.4 L186.8 297.4 L192.4 299.2 L198.1 301.0 L203.8 302.7 L209.5 304.4 L215.2 305.9 L221.0 307.4 L226.7 308.8 L232.5 310.1 L238.3 311.4 L244.2 312.5 L250.0 313.6 L255.9 314.6 L261.7 315.5 L267.6 316.3 L273.5 317.1 L279.4 317.7 L285.3 318.3 L291.2 318.8 L297.1 319.2 L303.1 319.6 L309.0 319.8 L314.9 320.0 L320.9 320.1 L326.8 320.1 L332.8 320.0 L338.7 319.8 L344.6 319.6 L350.6 319.2 L356.5 318.8 L362.4 318.3 L368.3 317.7 L374.2 317.1 L380.1 316.3 L386.0 315.5 L391.8 314.6 L397.7 313.6 L403.5 312.5 L409.4 311.4 L415.2 310.1 L421.0 308.8 L426.7 307.4 L432.5 305.9 L438.2 304.4 L443.9 302.7 L449.6 301.0 L455.3 299.2 L460.9 297.4 L466.5 295.4 L472.1 293.4 L477.6 291.3 L483.2 289.1 L488.7 286.8 L494.1 284.5 L499.5 282.1 L504.9 279.6 L510.3 277.0 M182.4 184.7 L187.8 187.3 L193.3 189.8 L198.8 192.2 L204.3 194.4 L209.9 196.6 L215.5 198.6 L221.1 200.6 L226.8 202.5 L232.5 204.2 L238.2 205.8 L244.0 207.4 L249.8 208.8 L255.7 210.1 L261.5 211.3 L267.4 212.4 L273.3 213.4 L279.2 214.3 L285.1 215.1 L291.0 215.7 L297.0 216.3 L303.0 216.7 L308.9 217.1 L314.9 217.3 L320.9 217.4 L326.8 217.4 L332.8 217.3 L338.8 217.1 L344.7 216.7 L350.7 216.3 L356.7 215.7 L362.6 215.1 L368.5 214.3 L374.4 213.4 L380.3 212.4 L386.2 211.3 L392.0 210.1 L397.9 208.8 L403.7 207.4 L409.5 205.8 L415.2 204.2 L420.9 202.5 L426.6 200.6 L432.2 198.6 L437.8 196.6 L443.4 194.4 L448.9 192.2 L454.4 189.8 L459.9 187.3 L465.3 184.7 M227.8 91.8 L233.1 94.3 L238.4 96.7 L243.8 98.9 L249.3 101.0 L254.8 102.9 L260.4 104.7 L266.0 106.3 L271.7 107.7 L277.4 109.1 L283.1 110.2 L288.9 111.2 L294.7 112.1 L300.5 112.8 L306.3 113.3 L312.2 113.7 L318.0 114.0 L323.9 114.0 L329.7 114.0 L335.5 113.7 L341.4 113.3 L347.2 112.8 L353.0 112.1 L358.8 111.2 L364.6 110.2 L370.3 109.1 L376.0 107.7 L381.7 106.3 L387.3 104.7 L392.9 102.9 L398.4 101.0 L403.9 98.9 L409.3 96.7 L414.6 94.3 L419.9 91.8 M246.1 54.2 L46.9 462.5 M273.4 64.9 L143.9 500.3 M302.0 70.8 L245.9 521.7 M331.2 72.1 L349.9 526.0 M360.2 68.4 L453.3 513.1 M388.2 60.1 L553.1 483.4" fill="none" stroke="#808080" stroke-opacity="0.3" stroke-width="0.5"/>
</g>
<path d="M401.6 54.2 L396.2 56.8 L390.7 59.1 L385.1 61.3 L379.5 63.2 L373.8 65.0 L368.1 66.6 L362.3 68.0 L356.4 69.2 L350.6 70.2 L344.7 71.0 L338.7 71.6 L332.8 72.0 L326.8 72.2 L320.9 72.2 L314.9 72.0 L309.0 71.6 L303.0 71.0 L297.1 70.2 L291.3 69.2 L285.4 68.0 L279.6 66.6 L273.9 65.0 L268.2 63.2 L262.6 61.3 L257.0 59.1 L251.5 56.8 L246.1 54.2 L46.9 462.5 L46.9 462.5 L52.3 465.1 L57.7 467.7 L63.1 470.1 L68.5 472.6 L74.0 475.0 L79.5 477.3 L85.0 479.6 L90.6 481.8 L96.1 484.0 L101.7 486.1 L107.3 488.2 L112.9 490.2 L118.6 492.2 L124.2 494.1 L129.9 496.0 L135.6 497.8 L141.3 499.5 L147.0 501.2 L152.8 502.9 L158.5 504.5 L164.3 506.0 L170.1 507.5 L175.9 508.9 L181.7 510.3 L187.5 511.6 L193.4 512.9 L199.2 514.1 L205.1 515.2 L211.0 516.3 L216.8 517.4 L222.7 518.4 L228.6 519.3 L234.5 520.2 L240.5 521.0 L246.4 521.7 L252.3 522.4 L258.3 523.1 L264.2 523.7 L270.2 524.2 L276.1 524.7 L282.1 525.1 L288.0 525.5 L294.0 525.8 L300.0 526.0 L305.9 526.2 L311.9 526.4 L317.9 526.5 L323.9 526.5 L329.8 526.5 L335.8 526.4 L341.8 526.2 L347.7 526.0 L353.7 525.8 L359.7 525.5 L365.6 525.1 L371.6 524.7 L377.5 524.2 L383.5 523.7 L389.4 523.1 L395.4 522.4 L401.3 521.7 L407.2 521.0 L413.2 520.2 L419.1 519.3 L425.0 518.4 L430.9 517.4 L436.7 516.3 L442.6 515.2 L448.5 514.1 L454.3 512.9 L460.2 511.6 L466.0 510.3 L471.8 508.9 L477.6 507.5 L483.4 506.0 L489.2 504.5 L494.9 502.9 L500.7 501.2 L506.4 499.5 L512.1 497.8 L517.8 496.0 L523.5 494.1 L529.1 492.2 L534.8 490.2 L540.4 488.2 L546.0 486.1 L551.6 484.0 L557.1 481.8 L562.7 479.6 L568.2 477.3 L573.7 475.0 L579.2 472.6 L584.6 470.1 L590.0 467.7 L595.4 465.1 L600.8 462.5 Z M398.8 62.2 L393.3 64.5 L387.8 66.7 L382.2 68.7 L376.5 70.5 L370.8 72.1 L365.1 73.5 L359.2 74.7 L353.4 75.8 L347.5 76.7 L341.6 77.3 L335.7 77.8 L329.8 78.1 L323.9 78.2 L317.9 78.1 L312.0 77.8 L306.1 77.3 L300.2 76.7 L294.3 75.8 L288.5 74.7 L282.6 73.5 L276.9 72.1 L271.2 70.5 L265.5 68.7 L259.9 66.7 L254.4 64.5 L248.9 62.2 L54.9 459.7 L60.3 462.3 L65.8 464.8 L71.2 467.2 L76.7 469.6 L82.2 471.9 L87.7 474.2 L93.3 476.4 L98.8 478.6 L104.4 480.7 L110.0 482.8 L115.7 484.8 L121.3 486.8 L127.0 488.7 L132.7 490.6 L138.4 492.4 L144.1 494.1 L149.8 495.8 L155.6 497.4 L161.3 499.0 L167.1 500.5 L172.9 502.0 L178.7 503.4 L184.5 504.8 L190.4 506.1 L196.2 507.3 L202.1 508.5 L207.9 509.7 L213.8 510.7 L219.7 511.8 L225.6 512.7 L231.5 513.6 L237.4 514.5 L243.4 515.3 L249.3 516.0 L255.2 516.7 L261.2 517.4 L267.1 517.9 L273.1 518.4 L279.0 518.9 L285.0 519.3 L291.0 519.6 L297.0 519.9 L302.9 520.1 L308.9 520.3 L314.9 520.4 L320.9 520.5 L326.8 520.5 L332.8 520.4 L338.8 520.3 L344.8 520.1 L350.7 519.9 L356.7 519.6 L362.7 519.3 L368.7 518.9 L374.6 518.4 L380.6 517.9 L386.5 517.4 L392.5 516.7 L398.4 516.0 L404.3 515.3 L410.3 514.5 L416.2 513.6 L422.1 512.7 L428.0 511.8 L433.9 510.7 L439.8 509.7 L445.6 508.5 L451.5 507.3 L457.3 506.1 L463.2 504.8 L469.0 503.4 L474.8 502.0 L480.6 500.5 L486.4 499.0 L492.1 497.4 L497.9 495.8 L503.6 494.1 L509.3 492.4 L515.0 490.6 L520.7 488.7 L526.4 486.8 L532.0 484.8 L537.7 482.8 L543.3 480.7 L548.9 478.6 L554.4 476.4 L560.0 474.2 L565.5 471.9 L571.0 469.6 L576.5 467.2 L581.9 464.8 L587.4 462.3 L592.8 459.7 Z" fill="#fff" fill-rule="evenodd"/>
<path d="M49.5 457.1 L54.7 459.6 L59.9 462.1 L65.1 464.5 L70.3 466.8 L75.6 469.1 L80.8 471.4 L86.1 473.6 L91.5 475.7 L96.8 477.8 L94.6 483.4 L89.2 481.3 L83.9 479.1 L78.5 476.9 L73.2 474.6 L67.9 472.3 L62.6 469.9 L57.3 467.5 L52.1 465.0 L46.9 462.5 Z M259.5 60.1 L264.1 61.8 L268.7 63.4 L273.4 64.9 L271.6 70.6 L266.8 69.1 L262.1 67.5 L257.3 65.7 Z M145.6 494.6 L151.1 496.2 L156.7 497.7 L162.2 499.2 L167.7 500.7 L173.3 502.1 L178.9 503.5 L184.5 504.8 L190.1 506.0 L195.7 507.2 L194.4 513.1 L188.8 511.9 L183.1 510.6 L177.5 509.3 L171.9 507.9 L166.2 506.5 L160.6 505.0 L155.0 503.5 L149.5 501.9 L143.9 500.3 Z M287.5 68.4 L292.3 69.4 L297.1 70.2 L302.0 70.8 L301.2 76.8 L296.2 76.1 L291.3 75.3 L286.3 74.3 Z M246.6 515.7 L252.3 516.4 L258.0 517.0 L263.7 517.6 L269.4 518.1 L275.1 518.6 L280.9 519.0 L286.6 519.4 L292.3 519.7 L298.0 520.0 L297.8 526.0 L292.0 525.7 L286.2 525.4 L280.4 525.0 L274.7 524.6 L268.9 524.1 L263.1 523.6 L257.4 523.0 L251.6 522.4 L245.9 521.7 Z M316.5 72.1 L321.4 72.2 L326.3 72.2 L331.2 72.1 L331.4 78.0 L326.4 78.2 L321.3 78.2 L316.3 78.0 Z M349.7 520.0 L355.4 519.7 L361.1 519.4 L366.8 519.0 L372.6 518.6 L378.3 518.1 L384.0 517.6 L389.7 517.0 L395.4 516.4 L401.1 515.7 L401.8 521.7 L396.1 522.4 L390.3 523.0 L384.6 523.6 L378.8 524.1 L373.0 524.6 L367.3 525.0 L361.5 525.4 L355.7 525.7 L349.9 526.0 Z M345.7 70.8 L350.6 70.2 L355.4 69.4 L360.2 68.4 L361.4 74.3 L356.4 75.3 L351.5 76.1 L346.5 76.8 Z M452.0 507.2 L457.6 506.0 L463.2 504.8 L468.8 503.5 L474.4 502.1 L480.0 500.7 L485.5 499.2 L491.0 497.7 L496.6 496.2 L502.1 494.6 L503.8 500.3 L498.2 501.9 L492.7 503.5 L487.1 505.0 L481.5 506.5 L475.8 507.9 L470.2 509.3 L464.6 510.6 L458.9 511.9 L453.3 513.1 Z M374.3 64.9 L379.0 63.4 L383.6 61.8 L388.2 60.1 L390.4 65.7 L385.6 67.5 L380.9 69.1 L376.1 70.6 Z M550.9 477.8 L555.7 475.9 L560.5 474.0 L565.3 472.0 L570.0 470.0 L574.8 468.0 L577.2 473.5 L572.4 475.5 L567.6 477.6 L562.8 479.6 L557.9 481.5 L553.1 483.4 Z M394.9 57.3 L398.3 55.8 L401.6 54.2 L404.2 59.6 L400.8 61.3 L397.3 62.8 Z M46.9 462.5 L69.7 415.8 L75.1 418.4 L52.3 465.1 Z M572.6 418.4 L550.0 372.0 L555.4 369.4 L578.0 415.8 Z M92.3 369.4 L114.9 323.1 L120.3 325.7 L97.7 372.0 Z M527.4 325.7 L504.9 279.6 L510.3 277.0 L532.8 323.1 Z M137.4 277.0 L159.9 230.9 L165.3 233.5 L142.8 279.6 Z M482.4 233.5 L459.8 187.3 L465.3 184.7 L487.8 230.9 Z M182.4 184.7 L205.0 138.4 L210.5 141.0 L187.9 187.3 Z M437.2 141.0 L414.5 94.4 L419.9 91.8 L442.7 138.4 Z M227.8 91.8 L236.9 73.1 L242.4 75.6 L233.2 94.4 Z M405.3 75.6 L396.1 56.8 L401.6 54.2 L410.8 73.1 Z" fill="#000"/>
<path d="M401.6 54.2 L396.2 56.8 L390.7 59.1 L385.1 61.3 L379.5 63.2 L373.8 65.0 L368.1 66.6 L362.3 68.0 L356.4 69.2 L350.6 70.2 L344.7 71.0 L338.7 71.6 L332.8 72.0 L326.8 72.2 L320.9 72.2 L314.9 72.0 L309.0 71.6 L303.0 71.0 L297.1 70.2 L291.3 69.2 L285.4 68.0 L279.6 66.6 L273.9 65.0 L268.2 63.2 L262.6 61.3 L257.0 59.1 L251.5 56.8 L246.1 54.2 L46.9 462.5 L46.9 462.5 L52.3 465.1 L57.7 467.7 L63.1 470.1 L68.5 472.6 L74.0 475.0 L79.5 477.3 L85.0 479.6 L90.6 481.8 L96.1 484.0 L101.7 486.1 L107.3 488.2 L112.9 490.2 L118.6 492.2 L124.2 494.1 L129.9 496.0 L135.6 497.8 L141.3 499.5 L147.0 501.2 L152.8 502.9 L158.5 504.5 L164.3 506.0 L170.1 507.5 L175.9 508.9 L181.7 510.3 L187.5 511.6 L193.4 512.9 L199.2 514.1 L205.1 515.2 L211.0 516.3 L216.8 517.4 L222.7 518.4 L228.6 519.3 L234.5 520.2 L240.5 521.0 L246.4 521.7 L252.3 522.4 L258.3 523.1 L264.2 523.7 L270.2 524.2 L276.1 524.7 L282.1 525.1 L288.0 525.5 L294.0 525.8 L300.0 526.0 L305.9 526.2 L311.9 526.4 L317.9 526.5 L323.9 526.5 L329.8 526.5 L335.8 526.4 L341.8 526.2 L347.7 526.0 L353.7 525.8 L359.7 525.5 L365.6 525.1 L371.6 524.7 L377.5 524.2 L383.5 523.7 L389.4 523.1 L395.4 522.4 L401.3 521.7 L407.2 521.0 L413.2 520.2 L419.1 519.3 L425.0 518.4 L430.9 517.4 L436.7 516.3 L442.6 515.2 L448.5 514.1 L454.3 512.9 L460.2 511.6 L466.0 510.3 L471.8 508.9 L477.6 507.5 L483.4 506.0 L489.2 504.5 L494.9 502.9 L500.7 501.2 L506.4 499.5 L512.1 497.8 L517.8 496.0 L523.5 494.1 L529.1 492.2 L534.8 490.2 L540.4 488.2 L546.0 486.1 L551.6 484.0 L557.1 481.8 L562.7 479.6 L568.2 477.3 L573.7 475.0 L579.2 472.6 L584.6 470.1 L590.0 467.7 L595.4 465.1 L600.8 462.5 Z" fill="none" stroke="#000" stroke-width="1.1" stroke-linejoin="miter"/>
<path d="M398.8 62.2 L393.3 64.5 L387.8 66.7 L382.2 68.7 L376.5 70.5 L370.8 72.1 L365.1 73.5 L359.2 74.7 L353.4 75.8 L347.5 76.7 L341.6 77.3 L335.7 77.8 L329.8 78.1 L323.9 78.2 L317.9 78.1 L312.0 77.8 L306.1 77.3 L300.2 76.7 L294.3 75.8 L288.5 74.7 L282.6 73.5 L276.9 72.1 L271.2 70.5 L265.5 68.7 L259.9 66.7 L254.4 64.5 L248.9 62.2 L54.9 459.7 L60.3 462.3 L65.8 464.8 L71.2 467.2 L76.7 469.6 L82.2 471.9 L87.7 474.2 L93.3 476.4 L98.8 478.6 L104.4 480.7 L110.0 482.8 L115.7 484.8 L121.3 486.8 L127.0 488.7 L132.7 490.6 L138.4 492.4 L144.1 494.1 L149.8 495.8 L155.6 497.4 L161.3 499.0 L167.1 500.5 L172.9 502.0 L178.7 503.4 L184.5 504.8 L190.4 506.1 L196.2 507.3 L202.1 508.5 L207.9 509.7 L213.8 510.7 L219.7 511.8 L225.6 512.7 L231.5 513.6 L237.4 514.5 L243.4 515.3 L249.3 516.0 L255.2 516.7 L261.2 517.4 L267.1 517.9 L273.1 518.4 L279.0 518.9 L285.0 519.3 L291.0 519.6 L297.0 519.9 L302.9 520.1 L308.9 520.3 L314.9 520.4 L320.9 520.5 L326.8 520.5 L332.8 520.4 L338.8 520.3 L344.8 520.1 L350.7 519.9 L356.7 519.6 L362.7 519.3 L368.7 518.9 L374.6 518.4 L380.6 517.9 L386.5 517.4 L392.5 516.7 L398.4 516.0 L404.3 515.3 L410.3 514.5 L416.2 513.6 L422.1 512.7 L428.0 511.8 L433.9 510.7 L439.8 509.7 L445.6 508.5 L451.5 507.3 L457.3 506.1 L463.2 504.8 L469.0 503.4 L474.8 502.0 L480.6 500.5 L486.4 499.0 L492.1 497.4 L497.9 495.8 L503.6 494.1 L509.3 492.4 L515.0 490.6 L520.7 488.7 L526.4 486.8 L532.0 484.8 L537.7 482.8 L543.3 480.7 L548.9 478.6 L554.4 476.4 L560.0 474.2 L565.5 471.9 L571.0 469.6 L576.5 467.2 L581.9 464.8 L587.4 462.3 L592.8 459.7 Z" fill="none" stroke="#000" stroke-width="0.9"/>
<text x="44.2" y="461.2" text-anchor="end" font-size="17.8" transform="rotate(26.01 44.2 461.2)" dy="0.35em">60°N</text>
<text x="89.6" y="368.1" text-anchor="end" font-size="17.8" transform="rotate(26.01 89.6 368.1)" dy="0.35em">65°N</text>
<text x="134.7" y="275.7" text-anchor="end" font-size="17.8" transform="rotate(26.01 134.7 275.7)" dy="0.35em">70°N</text>
<text x="179.7" y="183.4" text-anchor="end" font-size="17.8" transform="rotate(26.01 179.7 183.4)" dy="0.35em">75°N</text>
<text x="225.1" y="90.5" text-anchor="end" font-size="17.8" transform="rotate(26.01 225.1 90.5)" dy="0.35em">80°N</text>
<text x="39.1" y="478.5" text-anchor="middle" font-size="17.8" transform="rotate(26.01 39.1 478.5)">30°W</text>
<text x="138.8" y="517.4" text-anchor="middle" font-size="17.8" transform="rotate(16.55 138.8 517.4)">20°W</text>
<text x="243.7" y="539.3" text-anchor="middle" font-size="17.8" transform="rotate(7.10 243.7 539.3)">10°W</text>
<text x="350.6" y="543.8" text-anchor="middle" font-size="17.8" transform="rotate(-2.36 350.6 543.8)">0°</text>
<text x="456.9" y="530.5" text-anchor="middle" font-size="17.8" transform="rotate(-11.82 456.9 530.5)">10°E</text>
<text x="559.6" y="500.0" text-anchor="middle" font-size="17.8" transform="rotate(-21.29 559.6 500.0)">20°E</text>
</g>
<g transform="matrix(1.0215 0 0 1 802.537 -1.8)">
<defs><clipPath id="clipB"><path d="M401.6 54.2 L396.2 56.8 L390.7 59.1 L385.1 61.3 L379.5 63.2 L373.8 65.0 L368.1 66.6 L362.3 68.0 L356.4 69.2 L350.6 70.2 L344.7 71.0 L338.7 71.6 L332.8 72.0 L326.8 72.2 L320.9 72.2 L314.9 72.0 L309.0 71.6 L303.0 71.0 L297.1 70.2 L291.3 69.2 L285.4 68.0 L279.6 66.6 L273.9 65.0 L268.2 63.2 L262.6 61.3 L257.0 59.1 L251.5 56.8 L246.1 54.2 L46.9 462.5 L46.9 462.5 L52.3 465.1 L57.7 467.7 L63.1 470.1 L68.5 472.6 L74.0 475.0 L79.5 477.3 L85.0 479.6 L90.6 481.8 L96.1 484.0 L101.7 486.1 L107.3 488.2 L112.9 490.2 L118.6 492.2 L124.2 494.1 L129.9 496.0 L135.6 497.8 L141.3 499.5 L147.0 501.2 L152.8 502.9 L158.5 504.5 L164.3 506.0 L170.1 507.5 L175.9 508.9 L181.7 510.3 L187.5 511.6 L193.4 512.9 L199.2 514.1 L205.1 515.2 L211.0 516.3 L216.8 517.4 L222.7 518.4 L228.6 519.3 L234.5 520.2 L240.5 521.0 L246.4 521.7 L252.3 522.4 L258.3 523.1 L264.2 523.7 L270.2 524.2 L276.1 524.7 L282.1 525.1 L288.0 525.5 L294.0 525.8 L300.0 526.0 L305.9 526.2 L311.9 526.4 L317.9 526.5 L323.9 526.5 L329.8 526.5 L335.8 526.4 L341.8 526.2 L347.7 526.0 L353.7 525.8 L359.7 525.5 L365.6 525.1 L371.6 524.7 L377.5 524.2 L383.5 523.7 L389.4 523.1 L395.4 522.4 L401.3 521.7 L407.2 521.0 L413.2 520.2 L419.1 519.3 L425.0 518.4 L430.9 517.4 L436.7 516.3 L442.6 515.2 L448.5 514.1 L454.3 512.9 L460.2 511.6 L466.0 510.3 L471.8 508.9 L477.6 507.5 L483.4 506.0 L489.2 504.5 L494.9 502.9 L500.7 501.2 L506.4 499.5 L512.1 497.8 L517.8 496.0 L523.5 494.1 L529.1 492.2 L534.8 490.2 L540.4 488.2 L546.0 486.1 L551.6 484.0 L557.1 481.8 L562.7 479.6 L568.2 477.3 L573.7 475.0 L579.2 472.6 L584.6 470.1 L590.0 467.7 L595.4 465.1 L600.8 462.5 Z"/></clipPath></defs>
<g clip-path="url(#clipB)">
<path d="M46.9 462.5 L56.3 467.0 L65.1 448.1 L56.0 443.8 Z M56.0 443.8 L65.1 448.1 L73.9 429.3 L65.1 425.1 Z M65.1 425.1 L73.9 429.3 L82.7 410.6 L74.2 406.5 Z M74.2 406.5 L82.7 410.6 L91.4 391.8 L83.3 387.9 Z M83.3 387.9 L91.4 391.8 L100.2 373.1 L92.3 369.4 Z M92.3 369.4 L100.2 373.1 L108.9 354.5 L101.4 350.9 Z M56.3 467.0 L65.8 471.3 L74.3 452.3 L65.1 448.1 Z M65.1 448.1 L74.3 452.3 L82.8 433.4 L73.9 429.3 Z M73.9 429.3 L82.8 433.4 L91.2 414.5 L82.7 410.6 Z M82.7 410.6 L91.2 414.5 L99.7 395.6 L91.4 391.8 Z M91.4 391.8 L99.7 395.6 L108.1 376.8 L100.2 373.1 Z M100.2 373.1 L108.1 376.8 L116.5 358.0 L108.9 354.5 Z M65.8 471.3 L75.3 475.5 L83.5 456.4 L74.3 452.3 Z M74.3 452.3 L83.5 456.4 L91.7 437.3 L82.8 433.4 Z M82.8 433.4 L91.7 437.3 L99.8 418.2 L91.2 414.5 Z M91.2 414.5 L99.8 418.2 L108.0 399.2 L99.7 395.6 Z M75.3 475.5 L84.9 479.6 L92.8 460.3 L83.5 456.4 Z M83.5 456.4 L92.8 460.3 L100.7 441.1 L91.7 437.3 Z M84.9 479.6 L94.6 483.4 L102.2 464.0 L92.8 460.3 Z M92.8 460.3 L102.2 464.0 L109.7 444.7 L100.7 441.1 Z M100.7 441.1 L109.7 444.7 L117.2 425.4 L108.5 421.9 Z M94.6 483.4 L104.4 487.1 L111.6 467.6 L102.2 464.0 Z M102.2 464.0 L111.6 467.6 L118.8 448.1 L109.7 444.7 Z M109.7 444.7 L118.8 448.1 L126.0 428.7 L117.2 425.4 Z M104.4 487.1 L114.2 490.7 L121.1 471.0 L111.6 467.6 Z M111.6 467.6 L121.1 471.0 L128.0 451.4 L118.8 448.1 Z M118.8 448.1 L128.0 451.4 L134.9 431.9 L126.0 428.7 Z M114.2 490.7 L124.0 494.0 L130.6 474.3 L121.1 471.0 Z M121.1 471.0 L130.6 474.3 L137.2 454.6 L128.0 451.4 Z M128.0 451.4 L137.2 454.6 L143.7 434.9 L134.9 431.9 Z M124.0 494.0 L133.9 497.3 L140.2 477.4 L130.6 474.3 Z M130.6 474.3 L140.2 477.4 L146.5 457.6 L137.2 454.6 Z M137.2 454.6 L146.5 457.6 L152.7 437.8 L143.7 434.9 Z M133.9 497.3 L143.9 500.3 L149.8 480.4 L140.2 477.4 Z M140.2 477.4 L149.8 480.4 L155.8 460.4 L146.5 457.6 Z M146.5 457.6 L155.8 460.4 L161.7 440.6 L152.7 437.8 Z M143.9 500.3 L153.9 503.2 L159.5 483.2 L149.8 480.4 Z M149.8 480.4 L159.5 483.2 L165.1 463.1 L155.8 460.4 Z M155.8 460.4 L165.1 463.1 L170.7 443.2 L161.7 440.6 Z M161.7 440.6 L170.7 443.2 L176.3 423.3 L167.6 420.8 Z M153.9 503.2 L164.0 505.9 L169.3 485.8 L159.5 483.2 Z M159.5 483.2 L169.3 485.8 L174.5 465.7 L165.1 463.1 Z M165.1 463.1 L174.5 465.7 L179.8 445.6 L170.7 443.2 Z M170.7 443.2 L179.8 445.6 L185.0 425.6 L176.3 423.3 Z M164.0 505.9 L174.1 508.5 L179.0 488.3 L169.3 485.8 Z M169.3 485.8 L179.0 488.3 L184.0 468.1 L174.5 465.7 Z M174.5 465.7 L184.0 468.1 L188.9 447.9 L179.8 445.6 Z M179.8 445.6 L188.9 447.9 L193.8 427.9 L185.0 425.6 Z M174.1 508.5 L184.3 510.9 L188.9 490.6 L179.0 488.3 Z M179.0 488.3 L188.9 490.6 L193.4 470.3 L184.0 468.1 Z M184.0 468.1 L193.4 470.3 L198.0 450.1 L188.9 447.9 Z M188.9 447.9 L198.0 450.1 L202.6 429.9 L193.8 427.9 Z M184.3 510.9 L194.4 513.1 L198.7 492.7 L188.9 490.6 Z M188.9 490.6 L198.7 492.7 L203.0 472.4 L193.4 470.3 Z M193.4 470.3 L203.0 472.4 L207.2 452.1 L198.0 450.1 Z M198.0 450.1 L207.2 452.1 L211.4 431.9 L202.6 429.9 Z M194.4 513.1 L204.7 515.1 L208.6 494.7 L198.7 492.7 Z M198.7 492.7 L208.6 494.7 L212.5 474.3 L203.0 472.4 Z M203.0 472.4 L212.5 474.3 L216.4 454.0 L207.2 452.1 Z M207.2 452.1 L216.4 454.0 L220.3 433.6 L211.4 431.9 Z M216.4 454.0 L225.7 455.6 L229.2 435.3 L220.3 433.6 Z" fill="#000080" stroke="#000080" stroke-width="0.6"/>
<path d="M128.4 295.4 L135.1 298.6 L143.7 280.0 L137.4 277.0 Z M126.3 317.2 L133.3 320.4 L141.7 301.7 L135.1 298.6 Z M265.1 440.3 L274.1 441.2 L276.0 420.7 L267.3 419.8 Z M335.4 361.0 L343.1 360.7 L342.2 340.2 L334.9 340.4 Z M334.9 340.4 L342.2 340.2 L341.4 319.7 L334.4 319.9 Z" fill="#ffea00" stroke="#ffea00" stroke-width="0.6"/>
<path d="M137.4 277.0 L143.7 280.0 L152.4 261.4 L146.4 258.6 Z M135.1 298.6 L141.7 301.7 L150.1 282.9 L143.7 280.0 Z M133.3 320.4 L140.4 323.5 L148.5 304.6 L141.7 301.7 Z M247.1 438.1 L256.1 439.3 L258.7 418.8 L250.0 417.7 Z M256.1 439.3 L265.1 440.3 L267.3 419.8 L258.7 418.8 Z M328.4 443.5 L337.4 443.3 L336.9 422.7 L328.2 422.8 Z M336.9 422.7 L345.6 422.4 L344.8 401.8 L336.4 402.1 Z M343.9 381.3 L352.0 380.9 L350.8 360.3 L343.1 360.7 Z M341.4 319.7 L348.4 319.4 L347.2 298.9 L340.5 299.2 Z M421.7 245.1 L427.4 243.4 L421.6 223.8 L416.1 225.3 Z" fill="#ffff00" stroke="#ffff00" stroke-width="0.6"/>
<path d="M146.4 258.6 L152.4 261.4 L161.1 242.9 L155.4 240.1 Z M152.4 261.4 L158.5 264.2 L166.9 245.5 L161.1 242.9 Z M150.1 282.9 L156.6 285.8 L164.6 266.9 L158.5 264.2 Z M158.5 264.2 L164.6 266.9 L172.7 248.0 L166.9 245.5 Z M156.6 285.8 L163.0 288.5 L170.8 269.5 L164.6 266.9 Z M169.1 334.7 L176.4 337.2 L182.9 317.7 L175.9 315.3 Z M175.9 315.3 L182.9 317.7 L189.3 298.2 L182.7 295.9 Z M169.9 356.7 L177.5 359.1 L183.7 339.5 L176.4 337.2 Z M189.3 298.2 L196.0 300.4 L202.2 280.8 L195.8 278.8 Z M171.3 378.8 L179.3 381.2 L185.2 361.5 L177.5 359.1 Z M231.8 246.7 L237.7 248.1 L242.5 228.2 L237.0 226.8 Z M263.0 211.6 L268.2 212.6 L271.8 192.3 L266.9 191.4 Z M281.6 193.9 L286.6 194.5 L289.1 174.1 L284.5 173.4 Z M284.5 173.4 L289.1 174.1 L291.7 153.6 L287.4 153.0 Z M258.7 418.8 L267.3 419.8 L269.5 399.3 L261.2 398.4 Z M313.1 155.3 L317.4 155.5 L317.9 134.8 L314.0 134.6 Z M311.8 381.5 L319.8 381.7 L320.0 361.1 L312.3 361.0 Z M320.2 340.6 L327.5 340.6 L327.4 320.0 L320.3 320.0 Z M320.3 320.0 L327.4 320.0 L327.2 299.5 L320.5 299.5 Z M325.8 134.8 L329.8 134.8 L329.3 114.0 L325.7 114.0 Z M340.1 113.4 L343.7 113.1 L341.8 92.4 L338.6 92.6 Z M351.6 91.2 L354.8 90.7 L351.5 70.0 L348.6 70.5 Z M354.8 90.7 L358.0 90.2 L354.4 69.5 L351.5 70.0 Z M358.0 90.2 L361.3 89.6 L357.3 69.0 L354.4 69.5 Z M416.1 225.3 L421.6 223.8 L415.7 204.0 L410.6 205.5 Z" fill="#ff7500" stroke="#ff7500" stroke-width="0.6"/>
<path d="M155.4 240.1 L161.1 242.9 L169.8 224.3 L164.4 221.7 Z M161.1 242.9 L166.9 245.5 L175.3 226.8 L169.8 224.3 Z M166.9 245.5 L172.7 248.0 L180.8 229.2 L175.3 226.8 Z M164.6 266.9 L170.8 269.5 L178.6 250.5 L172.7 248.0 Z M172.7 248.0 L178.6 250.5 L186.3 231.5 L180.8 229.2 Z M178.6 250.5 L184.4 252.8 L191.9 233.7 L186.3 231.5 Z M162.3 354.1 L169.9 356.7 L176.4 337.2 L169.1 334.7 Z M202.2 280.8 L208.6 282.8 L214.4 263.1 L208.4 261.3 Z M214.4 263.1 L220.5 264.9 L226.0 245.1 L220.3 243.4 Z M248.0 229.5 L253.6 230.7 L257.8 210.6 L252.6 209.4 Z M241.4 416.4 L250.0 417.7 L252.9 397.3 L244.6 396.0 Z M289.1 174.1 L293.7 174.6 L295.9 154.0 L291.7 153.6 Z M293.7 174.6 L298.3 175.1 L300.2 154.5 L295.9 154.0 Z M308.8 155.1 L313.1 155.3 L314.0 134.6 L310.0 134.4 Z M311.3 402.1 L319.7 402.2 L319.8 381.7 L311.8 381.5 Z M320.0 361.1 L327.7 361.1 L327.5 340.6 L320.2 340.6 Z M321.9 134.8 L325.8 134.8 L325.7 114.0 L322.0 114.0 Z M332.9 113.9 L336.5 113.7 L335.3 92.8 L332.0 93.0 Z M336.5 113.7 L340.1 113.4 L338.6 92.6 L335.3 92.8 Z M341.8 92.4 L345.1 92.0 L342.8 71.2 L339.9 71.5 Z M345.1 92.0 L348.3 91.7 L345.7 70.8 L342.8 71.2 Z M348.3 91.7 L351.6 91.2 L348.6 70.5 L345.7 70.8 Z M383.8 274.3 L390.1 273.3 L386.6 253.1 L380.6 254.0 Z M398.3 250.8 L404.2 249.5 L399.7 229.5 L394.1 230.7 Z" fill="#ff8000" stroke="#ff8000" stroke-width="0.6"/>
<path d="M164.4 221.7 L169.8 224.3 L178.5 205.7 L173.4 203.2 Z M169.8 224.3 L175.3 226.8 L183.7 208.0 L178.5 205.7 Z M175.3 226.8 L180.8 229.2 L188.9 210.3 L183.7 208.0 Z M180.8 229.2 L186.3 231.5 L194.1 212.5 L188.9 210.3 Z M186.3 231.5 L191.9 233.7 L199.3 214.6 L194.1 212.5 Z M191.9 233.7 L197.5 235.8 L204.6 216.6 L199.3 214.6 Z M161.8 332.1 L169.1 334.7 L175.9 315.3 L169.0 312.8 Z M182.7 295.9 L189.3 298.2 L195.8 278.8 L189.5 276.6 Z M208.4 261.3 L214.4 263.1 L220.3 243.4 L214.5 241.7 Z M226.0 245.1 L231.8 246.7 L237.0 226.8 L231.6 225.3 Z M242.5 228.2 L248.0 229.5 L252.6 209.4 L247.4 208.2 Z M257.8 210.6 L263.0 211.6 L266.9 191.4 L262.0 190.4 Z M276.7 193.1 L281.6 193.9 L284.5 173.4 L279.9 172.8 Z M279.9 172.8 L284.5 173.4 L287.4 153.0 L283.1 152.3 Z M304.5 154.8 L308.8 155.1 L310.0 134.4 L306.0 134.2 Z M314.0 134.6 L317.9 134.8 L318.4 114.0 L314.8 113.9 Z M317.9 134.8 L321.9 134.8 L322.0 114.0 L318.4 114.0 Z M319.8 381.7 L327.9 381.7 L327.7 361.1 L320.0 361.1 Z M327.4 320.0 L334.4 319.9 L333.9 299.4 L327.2 299.5 Z M325.5 93.2 L328.8 93.1 L328.2 72.1 L325.3 72.2 Z M329.3 114.0 L332.9 113.9 L332.0 93.0 L328.8 93.1 Z M328.8 93.1 L332.0 93.0 L331.2 72.1 L328.2 72.1 Z M338.6 92.6 L341.8 92.4 L339.9 71.5 L337.0 71.7 Z M421.6 223.8 L427.0 222.1 L420.8 202.5 L415.7 204.0 Z M420.8 202.5 L425.9 200.8 L419.4 181.3 L414.6 182.9 Z" fill="#ff8a00" stroke="#ff8a00" stroke-width="0.6"/>
<path d="M173.4 203.2 L178.5 205.7 L187.2 187.0 L182.4 184.7 Z M178.5 205.7 L183.7 208.0 L192.1 189.3 L187.2 187.0 Z M183.7 208.0 L188.9 210.3 L197.0 191.4 L192.1 189.3 Z M188.9 210.3 L194.1 212.5 L201.9 193.4 L197.0 191.4 Z M194.1 212.5 L199.3 214.6 L206.8 195.4 L201.9 193.4 Z M162.1 310.2 L169.0 312.8 L176.1 293.6 L169.5 291.1 Z M199.3 214.6 L204.6 216.6 L211.8 197.3 L206.8 195.4 Z M154.7 351.3 L162.3 354.1 L169.1 334.7 L161.8 332.1 Z M176.1 293.6 L182.7 295.9 L189.5 276.6 L183.2 274.3 Z M202.3 259.3 L208.4 261.3 L214.5 241.7 L208.8 239.8 Z M214.5 241.7 L220.3 243.4 L226.1 223.8 L220.7 222.1 Z M231.6 225.3 L237.0 226.8 L242.2 206.9 L237.1 205.5 Z M247.4 208.2 L252.6 209.4 L257.1 189.4 L252.3 188.2 Z M257.1 189.4 L262.0 190.4 L266.2 170.2 L261.7 169.3 Z M291.7 153.6 L295.9 154.0 L298.2 133.4 L294.2 133.0 Z M302.1 133.8 L306.0 134.2 L307.6 113.4 L304.0 113.1 Z M306.0 134.2 L310.0 134.4 L311.2 113.7 L307.6 113.4 Z M314.8 113.9 L318.4 114.0 L318.9 93.1 L315.7 93.0 Z M318.4 114.0 L322.0 114.0 L322.2 93.2 L318.9 93.1 Z M319.7 402.2 L328.0 402.2 L327.9 381.7 L319.8 381.7 Z M328.0 402.2 L336.4 402.1 L335.9 381.5 L327.9 381.7 Z M327.9 381.7 L335.9 381.5 L335.4 361.0 L327.7 361.1 Z M327.7 361.1 L335.4 361.0 L334.9 340.4 L327.5 340.6 Z M347.2 298.9 L353.9 298.4 L352.4 278.0 L346.0 278.4 Z M404.2 249.5 L410.0 248.1 L405.2 228.2 L399.7 229.5 Z M427.0 222.1 L432.4 220.3 L425.9 200.8 L420.8 202.5 Z" fill="#ffaa00" stroke="#ffaa00" stroke-width="0.6"/>
<path d="M182.4 184.7 L187.2 187.0 L196.0 168.4 L191.5 166.2 Z M187.2 187.0 L192.1 189.3 L200.5 170.5 L196.0 168.4 Z M192.1 189.3 L197.0 191.4 L205.1 172.5 L200.5 170.5 Z M197.0 191.4 L201.9 193.4 L209.7 174.4 L205.1 172.5 Z M147.5 326.5 L154.6 329.3 L162.1 310.2 L155.3 307.5 Z M201.9 193.4 L206.8 195.4 L214.3 176.2 L209.7 174.4 Z M169.5 291.1 L176.1 293.6 L183.2 274.3 L177.0 271.9 Z M206.8 195.4 L211.8 197.3 L218.9 178.0 L214.3 176.2 Z M183.2 274.3 L189.5 276.6 L196.3 257.2 L190.4 255.1 Z M211.8 197.3 L216.8 199.1 L223.6 179.7 L218.9 178.0 Z M196.3 257.2 L202.3 259.3 L208.8 239.8 L203.1 237.9 Z M237.1 205.5 L242.2 206.9 L247.4 187.0 L242.6 185.7 Z M247.4 187.0 L252.3 188.2 L257.2 168.2 L252.7 167.1 Z M261.7 169.3 L266.2 170.2 L270.5 150.0 L266.3 149.1 Z M266.2 170.2 L270.8 171.2 L274.7 150.9 L270.5 150.0 Z M283.1 152.3 L287.4 153.0 L290.3 132.5 L286.4 131.9 Z M290.3 132.5 L294.2 133.0 L296.8 112.4 L293.2 111.9 Z M294.2 133.0 L298.2 133.4 L300.4 112.8 L296.8 112.4 Z M274.1 441.2 L283.1 442.0 L284.7 421.4 L276.0 420.7 Z M307.6 113.4 L311.2 113.7 L312.4 92.8 L309.1 92.6 Z M410.0 248.1 L415.9 246.7 L410.7 226.8 L405.2 228.2 Z" fill="#ffbf00" stroke="#ffbf00" stroke-width="0.6"/>
<path d="M191.5 166.2 L196.0 168.4 L204.7 149.7 L200.5 147.7 Z M200.5 147.7 L204.7 149.7 L213.5 131.0 L209.6 129.1 Z M196.0 168.4 L200.5 170.5 L208.9 151.7 L204.7 149.7 Z M204.7 149.7 L208.9 151.7 L217.4 132.8 L213.5 131.0 Z M200.5 170.5 L205.1 172.5 L213.2 153.5 L208.9 151.7 Z M208.9 151.7 L213.2 153.5 L221.3 134.5 L217.4 132.8 Z M205.1 172.5 L209.7 174.4 L217.5 155.3 L213.2 153.5 Z M213.2 153.5 L217.5 155.3 L225.3 136.2 L221.3 134.5 Z M155.3 307.5 L162.1 310.2 L169.5 291.1 L163.0 288.5 Z M209.7 174.4 L214.3 176.2 L221.8 157.0 L217.5 155.3 Z M217.5 155.3 L221.8 157.0 L229.3 137.8 L225.3 136.2 Z M214.3 176.2 L218.9 178.0 L226.1 158.7 L221.8 157.0 Z M221.8 157.0 L226.1 158.7 L233.3 139.3 L229.3 137.8 Z M218.9 178.0 L223.6 179.7 L230.5 160.3 L226.1 158.7 Z M226.1 158.7 L230.5 160.3 L237.3 140.8 L233.3 139.3 Z M223.6 179.7 L228.3 181.3 L234.9 161.8 L230.5 160.3 Z M230.5 160.3 L234.9 161.8 L241.4 142.2 L237.3 140.8 Z M208.8 239.8 L214.5 241.7 L220.7 222.1 L215.3 220.3 Z M234.9 161.8 L239.3 163.2 L245.5 143.5 L241.4 142.2 Z M220.7 222.1 L226.1 223.8 L232.0 204.0 L226.9 202.5 Z M239.3 163.2 L243.7 164.6 L249.6 144.7 L245.5 143.5 Z M232.0 204.0 L237.1 205.5 L242.6 185.7 L237.8 184.3 Z M242.6 185.7 L247.4 187.0 L252.7 167.1 L248.2 165.8 Z M252.7 167.1 L257.2 168.2 L262.1 148.1 L257.9 147.1 Z M257.2 168.2 L261.7 169.3 L266.3 149.1 L262.1 148.1 Z M274.7 150.9 L278.9 151.6 L282.5 131.2 L278.6 130.5 Z M278.9 151.6 L283.1 152.3 L286.4 131.9 L282.5 131.2 Z M286.4 131.9 L290.3 132.5 L293.2 111.9 L289.6 111.3 Z M304.0 113.1 L307.6 113.4 L309.1 92.6 L305.9 92.4 Z M319.5 422.8 L328.2 422.8 L328.0 402.2 L319.7 402.2 Z M334.4 319.9 L341.4 319.7 L340.5 299.2 L333.9 299.4 Z" fill="#ffca00" stroke="#ffca00" stroke-width="0.6"/>
<path d="M209.6 129.1 L213.5 131.0 L222.2 112.2 L218.7 110.5 Z M218.7 110.5 L222.2 112.2 L231.0 93.4 L227.8 91.8 Z M227.8 91.8 L231.0 93.4 L239.9 74.5 L236.9 73.1 Z M236.9 73.1 L239.9 74.5 L248.8 55.5 L246.1 54.2 Z M213.5 131.0 L217.4 132.8 L225.8 113.9 L222.2 112.2 Z M222.2 112.2 L225.8 113.9 L234.3 94.9 L231.0 93.4 Z M231.0 93.4 L234.3 94.9 L242.9 75.9 L239.9 74.5 Z M239.9 74.5 L242.9 75.9 L251.4 56.7 L248.8 55.5 Z M217.4 132.8 L221.3 134.5 L229.5 115.5 L225.8 113.9 Z M225.8 113.9 L229.5 115.5 L237.6 96.4 L234.3 94.9 Z M234.3 94.9 L237.6 96.4 L245.9 77.2 L242.9 75.9 Z M242.9 75.9 L245.9 77.2 L254.1 57.9 L251.4 56.7 Z M140.4 323.5 L147.5 326.5 L155.3 307.5 L148.5 304.6 Z M148.5 304.6 L155.3 307.5 L163.0 288.5 L156.6 285.8 Z M221.3 134.5 L225.3 136.2 L233.1 117.0 L229.5 115.5 Z M229.5 115.5 L233.1 117.0 L241.0 97.8 L237.6 96.4 Z M237.6 96.4 L241.0 97.8 L248.9 78.4 L245.9 77.2 Z M245.9 77.2 L248.9 78.4 L256.8 59.0 L254.1 57.9 Z M163.0 288.5 L169.5 291.1 L177.0 271.9 L170.8 269.5 Z M170.8 269.5 L177.0 271.9 L184.4 252.8 L178.6 250.5 Z M225.3 136.2 L229.3 137.8 L236.8 118.5 L233.1 117.0 Z M233.1 117.0 L236.8 118.5 L244.3 99.1 L241.0 97.8 Z M241.0 97.8 L244.3 99.1 L251.9 79.7 L248.9 78.4 Z M248.9 78.4 L251.9 79.7 L259.5 60.1 L256.8 59.0 Z M184.4 252.8 L190.4 255.1 L197.5 235.8 L191.9 233.7 Z M229.3 137.8 L233.3 139.3 L240.5 119.9 L236.8 118.5 Z M236.8 118.5 L240.5 119.9 L247.7 100.4 L244.3 99.1 Z M244.3 99.1 L247.7 100.4 L255.0 80.8 L251.9 79.7 Z M251.9 79.7 L255.0 80.8 L262.3 61.2 L259.5 60.1 Z M197.5 235.8 L203.1 237.9 L210.0 218.5 L204.6 216.6 Z M204.6 216.6 L210.0 218.5 L216.8 199.1 L211.8 197.3 Z M233.3 139.3 L237.3 140.8 L244.2 121.2 L240.5 119.9 Z M240.5 119.9 L244.2 121.2 L251.1 101.6 L247.7 100.4 Z M247.7 100.4 L251.1 101.6 L258.0 81.9 L255.0 80.8 Z M255.0 80.8 L258.0 81.9 L265.0 62.1 L262.3 61.2 Z M210.0 218.5 L215.3 220.3 L221.8 200.8 L216.8 199.1 Z M216.8 199.1 L221.8 200.8 L228.3 181.3 L223.6 179.7 Z M237.3 140.8 L241.4 142.2 L248.0 122.5 L244.2 121.2 Z M244.2 121.2 L248.0 122.5 L254.5 102.8 L251.1 101.6 Z M251.1 101.6 L254.5 102.8 L261.1 83.0 L258.0 81.9 Z M258.0 81.9 L261.1 83.0 L267.8 63.1 L265.0 62.1 Z M221.8 200.8 L226.9 202.5 L233.1 182.9 L228.3 181.3 Z M228.3 181.3 L233.1 182.9 L239.3 163.2 L234.9 161.8 Z M241.4 142.2 L245.5 143.5 L251.7 123.7 L248.0 122.5 Z M254.5 102.8 L258.0 103.9 L264.3 84.0 L261.1 83.0 Z M261.1 83.0 L264.3 84.0 L270.6 64.0 L267.8 63.1 Z M233.1 182.9 L237.8 184.3 L243.7 164.6 L239.3 163.2 Z M245.5 143.5 L249.6 144.7 L255.5 124.9 L251.7 123.7 Z M264.3 84.0 L267.4 85.0 L273.4 64.9 L270.6 64.0 Z M243.7 164.6 L248.2 165.8 L253.7 145.9 L249.6 144.7 Z M249.6 144.7 L253.7 145.9 L259.3 126.0 L255.5 124.9 Z M267.4 85.0 L270.5 85.9 L276.2 65.7 L273.4 64.9 Z M253.7 145.9 L257.9 147.1 L263.1 127.0 L259.3 126.0 Z M270.5 85.9 L273.7 86.7 L279.0 66.4 L276.2 65.7 Z M273.7 86.7 L276.9 87.5 L281.8 67.1 L279.0 66.4 Z M276.9 87.5 L280.0 88.3 L284.7 67.8 L281.8 67.1 Z M280.0 88.3 L283.2 89.0 L287.5 68.4 L284.7 67.8 Z M279.0 109.4 L282.5 110.1 L286.4 89.6 L283.2 89.0 Z M283.2 89.0 L286.4 89.6 L290.4 69.0 L287.5 68.4 Z M286.4 89.6 L289.7 90.2 L293.3 69.5 L290.4 69.0 Z M289.7 90.2 L292.9 90.7 L296.2 70.0 L293.3 69.5 Z M336.4 402.1 L344.8 401.8 L343.9 381.3 L335.9 381.5 Z M390.1 273.3 L396.3 272.1 L392.5 252.0 L386.6 253.1 Z M415.9 246.7 L421.7 245.1 L416.1 225.3 L410.7 226.8 Z" fill="#ffdf00" stroke="#ffdf00" stroke-width="0.6"/>
<path d="M143.7 280.0 L150.1 282.9 L158.5 264.2 L152.4 261.4 Z M141.7 301.7 L148.5 304.6 L156.6 285.8 L150.1 282.9 Z M154.6 329.3 L161.8 332.1 L169.0 312.8 L162.1 310.2 Z M189.5 276.6 L195.8 278.8 L202.3 259.3 L196.3 257.2 Z M237.0 226.8 L242.5 228.2 L247.4 208.2 L242.2 206.9 Z M262.0 190.4 L266.9 191.4 L270.8 171.2 L266.2 170.2 Z M266.9 191.4 L271.8 192.3 L275.3 172.0 L270.8 171.2 Z M275.3 172.0 L279.9 172.8 L283.1 152.3 L278.9 151.6 Z M295.9 154.0 L300.2 154.5 L302.1 133.8 L298.2 133.4 Z M322.0 114.0 L325.7 114.0 L325.5 93.2 L322.2 93.2 Z M327.5 340.6 L334.9 340.4 L334.4 319.9 L327.4 320.0 Z" fill="#ff9f00" stroke="#ff9f00" stroke-width="0.6"/>
<path d="M132.3 342.4 L139.7 345.5 L147.5 326.5 L140.4 323.5 Z M358.5 359.8 L366.1 359.2 L364.3 338.7 L356.9 339.4 Z" fill="#80ff80" stroke="#80ff80" stroke-width="0.6"/>
<path d="M139.7 345.5 L147.2 348.5 L154.6 329.3 L147.5 326.5 Z M291.0 463.2 L300.4 463.7 L301.2 443.0 L292.2 442.6 Z M300.4 463.7 L309.8 464.0 L310.3 443.3 L301.2 443.0 Z M346.5 443.0 L355.5 442.6 L354.3 422.0 L345.6 422.4 Z M342.2 340.2 L349.6 339.8 L348.4 319.4 L341.4 319.7 Z M354.3 422.0 L363.0 421.4 L361.5 400.9 L353.1 401.4 Z M348.4 319.4 L355.4 318.9 L353.9 298.4 L347.2 298.9 Z M414.9 268.1 L421.1 266.5 L415.9 246.7 L410.0 248.1 Z" fill="#b5ff4a" stroke="#b5ff4a" stroke-width="0.6"/>
<path d="M147.2 348.5 L154.7 351.3 L161.8 332.1 L154.6 329.3 Z M310.3 443.3 L319.3 443.5 L319.5 422.8 L310.8 422.7 Z M319.3 443.5 L328.4 443.5 L328.2 422.8 L319.5 422.8 Z M396.3 272.1 L402.5 270.9 L398.3 250.8 L392.5 252.0 Z" fill="#fff400" stroke="#fff400" stroke-width="0.6"/>
<path d="M177.0 271.9 L183.2 274.3 L190.4 255.1 L184.4 252.8 Z M190.4 255.1 L196.3 257.2 L203.1 237.9 L197.5 235.8 Z M203.1 237.9 L208.8 239.8 L215.3 220.3 L210.0 218.5 Z M215.3 220.3 L220.7 222.1 L226.9 202.5 L221.8 200.8 Z M248.0 122.5 L251.7 123.7 L258.0 103.9 L254.5 102.8 Z M226.9 202.5 L232.0 204.0 L237.8 184.3 L233.1 182.9 Z M251.7 123.7 L255.5 124.9 L261.4 105.0 L258.0 103.9 Z M258.0 103.9 L261.4 105.0 L267.4 85.0 L264.3 84.0 Z M237.8 184.3 L242.6 185.7 L248.2 165.8 L243.7 164.6 Z M255.5 124.9 L259.3 126.0 L264.9 106.0 L261.4 105.0 Z M261.4 105.0 L264.9 106.0 L270.5 85.9 L267.4 85.0 Z M248.2 165.8 L252.7 167.1 L257.9 147.1 L253.7 145.9 Z M259.3 126.0 L263.1 127.0 L268.4 106.9 L264.9 106.0 Z M264.9 106.0 L268.4 106.9 L273.7 86.7 L270.5 85.9 Z M257.9 147.1 L262.1 148.1 L267.0 128.0 L263.1 127.0 Z M268.4 106.9 L271.9 107.8 L276.9 87.5 L273.7 86.7 Z M262.1 148.1 L266.3 149.1 L270.8 128.9 L267.0 128.0 Z M271.9 107.8 L275.4 108.6 L280.0 88.3 L276.9 87.5 Z M266.3 149.1 L270.5 150.0 L274.7 129.7 L270.8 128.9 Z M275.4 108.6 L279.0 109.4 L283.2 89.0 L280.0 88.3 Z M270.5 150.0 L274.7 150.9 L278.6 130.5 L274.7 129.7 Z M282.5 110.1 L286.1 110.8 L289.7 90.2 L286.4 89.6 Z M286.1 110.8 L289.6 111.3 L292.9 90.7 L289.7 90.2 Z M289.6 111.3 L293.2 111.9 L296.1 91.2 L292.9 90.7 Z M283.1 442.0 L292.2 442.6 L293.4 422.0 L284.7 421.4 Z M292.2 442.6 L301.2 443.0 L302.1 422.4 L293.4 422.0 Z M301.2 443.0 L310.3 443.3 L310.8 422.7 L302.1 422.4 Z M328.2 422.8 L336.9 422.7 L336.4 402.1 L328.0 402.2 Z M335.9 381.5 L343.9 381.3 L343.1 360.7 L335.4 361.0 Z M432.4 220.3 L437.7 218.5 L430.9 199.1 L425.9 200.8 Z" fill="#ffd500" stroke="#ffd500" stroke-width="0.6"/>
<path d="M169.0 312.8 L175.9 315.3 L182.7 295.9 L176.1 293.6 Z M220.3 243.4 L226.0 245.1 L231.6 225.3 L226.1 223.8 Z M252.6 209.4 L257.8 210.6 L262.0 190.4 L257.1 189.4 Z M271.8 192.3 L276.7 193.1 L279.9 172.8 L275.3 172.0 Z M300.2 154.5 L304.5 154.8 L306.0 134.2 L302.1 133.8 Z M293.4 422.0 L302.1 422.4 L302.9 401.8 L294.6 401.4 Z M310.0 134.4 L314.0 134.6 L314.8 113.9 L311.2 113.7 Z M302.1 422.4 L310.8 422.7 L311.3 402.1 L302.9 401.8 Z M325.7 114.0 L329.3 114.0 L328.8 93.1 L325.5 93.2 Z M332.0 93.0 L335.3 92.8 L334.1 71.9 L331.2 72.1 Z M335.3 92.8 L338.6 92.6 L337.0 71.7 L334.1 71.9 Z" fill="#ff9500" stroke="#ff9500" stroke-width="0.6"/>
<path d="M176.4 337.2 L183.7 339.5 L189.9 320.0 L182.9 317.7 Z M177.5 359.1 L185.2 361.5 L191.0 341.8 L183.7 339.5 Z M179.3 381.2 L187.4 383.5 L192.9 363.7 L185.2 361.5 Z M208.6 282.8 L215.0 284.6 L220.5 264.9 L214.4 263.1 Z M220.5 264.9 L226.6 266.5 L231.8 246.7 L226.0 245.1 Z M237.7 248.1 L243.5 249.5 L248.0 229.5 L242.5 228.2 Z M253.6 230.7 L259.1 231.8 L263.0 211.6 L257.8 210.6 Z M298.3 175.1 L303.0 175.4 L304.5 154.8 L300.2 154.5 Z M302.9 401.8 L311.3 402.1 L311.8 381.5 L303.8 381.3 Z M329.8 134.8 L333.7 134.6 L332.9 113.9 L329.3 114.0 Z M340.5 299.2 L347.2 298.9 L346.0 278.4 L339.7 278.7 Z M343.7 113.1 L347.3 112.8 L345.1 92.0 L341.8 92.4 Z" fill="#ff6a00" stroke="#ff6a00" stroke-width="0.6"/>
<path d="M182.9 317.7 L189.9 320.0 L196.0 300.4 L189.3 298.2 Z M183.7 339.5 L191.0 341.8 L196.9 322.1 L189.9 320.0 Z M196.0 300.4 L202.7 302.4 L208.6 282.8 L202.2 280.8 Z M185.2 361.5 L192.9 363.7 L198.4 343.9 L191.0 341.8 Z M187.4 383.5 L195.4 385.7 L200.7 365.8 L192.9 363.7 Z M268.2 212.6 L273.5 213.5 L276.7 193.1 L271.8 192.3 Z M250.0 417.7 L258.7 418.8 L261.2 398.4 L252.9 397.3 Z M267.3 419.8 L276.0 420.7 L277.8 400.2 L269.5 399.3 Z M284.7 421.4 L293.4 422.0 L294.6 401.4 L286.2 400.9 Z M294.6 401.4 L302.9 401.8 L303.8 381.3 L295.7 380.9 Z M303.8 381.3 L311.8 381.5 L312.3 361.0 L304.6 360.7 Z M312.3 361.0 L320.0 361.1 L320.2 340.6 L312.8 340.4 Z M317.4 155.5 L321.7 155.5 L321.9 134.8 L317.9 134.8 Z M333.7 134.6 L337.7 134.4 L336.5 113.7 L332.9 113.9 Z M337.7 134.4 L341.7 134.2 L340.1 113.4 L336.5 113.7 Z M347.3 112.8 L350.9 112.4 L348.3 91.7 L345.1 92.0 Z M371.3 276.1 L377.6 275.3 L374.7 254.9 L368.7 255.7 Z M350.9 112.4 L354.5 111.9 L351.6 91.2 L348.3 91.7 Z M361.3 89.6 L364.5 89.0 L360.2 68.4 L357.3 69.0 Z M364.5 89.0 L367.7 88.3 L363.0 67.8 L360.2 68.4 Z M367.7 88.3 L370.8 87.5 L365.9 67.1 L363.0 67.8 Z M370.8 87.5 L374.0 86.7 L368.7 66.4 L365.9 67.1 Z M410.7 226.8 L416.1 225.3 L410.6 205.5 L405.5 206.9 Z M374.0 86.7 L377.2 85.9 L371.5 65.7 L368.7 66.4 Z M415.7 204.0 L420.8 202.5 L414.6 182.9 L409.9 184.3 Z" fill="#ff6000" stroke="#ff6000" stroke-width="0.6"/>
<path d="M189.9 320.0 L196.9 322.1 L202.7 302.4 L196.0 300.4 Z M191.0 341.8 L198.4 343.9 L204.0 324.2 L196.9 322.1 Z M202.7 302.4 L209.5 304.4 L215.0 284.6 L208.6 282.8 Z M215.0 284.6 L221.4 286.4 L226.6 266.5 L220.5 264.9 Z M226.6 266.5 L232.8 268.1 L237.7 248.1 L231.8 246.7 Z M243.5 249.5 L249.4 250.8 L253.6 230.7 L248.0 229.5 Z M259.1 231.8 L264.7 232.8 L268.2 212.6 L263.0 211.6 Z M303.0 175.4 L307.6 175.7 L308.8 155.1 L304.5 154.8 Z M321.7 155.5 L326.0 155.5 L325.8 134.8 L321.9 134.8 Z M333.9 299.4 L340.5 299.2 L339.7 278.7 L333.4 278.9 Z M341.7 134.2 L345.6 133.8 L343.7 113.1 L340.1 113.4 Z M354.5 111.9 L358.1 111.3 L354.8 90.7 L351.6 91.2 Z M358.1 111.3 L361.6 110.8 L358.0 90.2 L354.8 90.7 Z M392.5 252.0 L398.3 250.8 L394.1 230.7 L388.6 231.8 Z M405.2 228.2 L410.7 226.8 L405.5 206.9 L400.3 208.2 Z" fill="#ff5500" stroke="#ff5500" stroke-width="0.6"/>
<path d="M196.9 322.1 L204.0 324.2 L209.5 304.4 L202.7 302.4 Z M200.7 365.8 L208.4 367.8 L213.3 347.8 L205.9 345.9 Z M203.6 387.8 L211.7 389.7 L216.3 369.6 L208.4 367.8 Z M239.0 269.5 L245.2 270.9 L249.4 250.8 L243.5 249.5 Z M296.5 195.6 L301.4 196.0 L303.0 175.4 L298.3 175.1 Z M286.2 400.9 L294.6 401.4 L295.7 380.9 L287.7 380.3 Z M301.4 196.0 L306.4 196.3 L307.6 175.7 L303.0 175.4 Z M307.6 175.7 L312.2 176.0 L313.1 155.3 L308.8 155.1 Z M330.3 155.5 L334.6 155.3 L333.7 134.6 L329.8 134.8 Z M353.5 133.0 L357.4 132.5 L354.5 111.9 L350.9 112.4 Z M357.4 132.5 L361.3 131.9 L358.1 111.3 L354.5 111.9 Z M361.3 131.9 L365.2 131.2 L361.6 110.8 L358.1 111.3 Z M365.2 110.1 L368.7 109.4 L364.5 89.0 L361.3 89.6 Z M368.7 109.4 L372.3 108.6 L367.7 88.3 L364.5 89.0 Z M399.7 229.5 L405.2 228.2 L400.3 208.2 L395.1 209.4 Z M372.3 108.6 L375.8 107.8 L370.8 87.5 L367.7 88.3 Z M375.8 107.8 L379.3 106.9 L374.0 86.7 L370.8 87.5 Z M410.6 205.5 L415.7 204.0 L409.9 184.3 L405.1 185.7 Z M392.7 80.8 L395.8 79.7 L388.2 60.1 L385.4 61.2 Z M395.8 79.7 L398.8 78.4 L390.9 59.0 L388.2 60.1 Z M398.8 78.4 L401.8 77.2 L393.6 57.9 L390.9 59.0 Z M401.8 77.2 L404.8 75.9 L396.3 56.7 L393.6 57.9 Z M404.8 75.9 L407.8 74.5 L398.9 55.5 L396.3 56.7 Z M407.8 74.5 L410.8 73.1 L401.6 54.2 L398.9 55.5 Z" fill="#ff4000" stroke="#ff4000" stroke-width="0.6"/>
<path d="M226.1 223.8 L231.6 225.3 L237.1 205.5 L232.0 204.0 Z M242.2 206.9 L247.4 208.2 L252.3 188.2 L247.4 187.0 Z M252.3 188.2 L257.1 189.4 L261.7 169.3 L257.2 168.2 Z M270.8 171.2 L275.3 172.0 L278.9 151.6 L274.7 150.9 Z M287.4 153.0 L291.7 153.6 L294.2 133.0 L290.3 132.5 Z M298.2 133.4 L302.1 133.8 L304.0 113.1 L300.4 112.8 Z M305.9 92.4 L309.1 92.6 L310.7 71.7 L307.8 71.5 Z M309.1 92.6 L312.4 92.8 L313.6 71.9 L310.7 71.7 Z M311.2 113.7 L314.8 113.9 L315.7 93.0 L312.4 92.8 Z M312.4 92.8 L315.7 93.0 L316.5 72.1 L313.6 71.9 Z M315.7 93.0 L318.9 93.1 L319.5 72.1 L316.5 72.1 Z M310.8 422.7 L319.5 422.8 L319.7 402.2 L311.3 402.1 Z M318.9 93.1 L322.2 93.2 L322.4 72.2 L319.5 72.1 Z M322.2 93.2 L325.5 93.2 L325.3 72.2 L322.4 72.2 Z" fill="#ffb500" stroke="#ffb500" stroke-width="0.6"/>
<path d="M192.9 363.7 L200.7 365.8 L205.9 345.9 L198.4 343.9 Z M198.4 343.9 L205.9 345.9 L211.1 326.1 L204.0 324.2 Z M209.5 304.4 L216.3 306.2 L221.4 286.4 L215.0 284.6 Z M195.4 385.7 L203.6 387.8 L208.4 367.8 L200.7 365.8 Z M221.4 286.4 L227.9 288.0 L232.8 268.1 L226.6 266.5 Z M232.8 268.1 L239.0 269.5 L243.5 249.5 L237.7 248.1 Z M249.4 250.8 L255.2 252.0 L259.1 231.8 L253.6 230.7 Z M273.5 213.5 L278.8 214.2 L281.6 193.9 L276.7 193.1 Z M278.8 214.2 L284.0 214.9 L286.6 194.5 L281.6 193.9 Z M286.6 194.5 L291.5 195.1 L293.7 174.6 L289.1 174.1 Z M291.5 195.1 L296.5 195.6 L298.3 175.1 L293.7 174.6 Z M276.0 420.7 L284.7 421.4 L286.2 400.9 L277.8 400.2 Z M295.7 380.9 L303.8 381.3 L304.6 360.7 L296.9 360.3 Z M304.6 360.7 L312.3 361.0 L312.8 340.4 L305.5 340.2 Z M312.8 340.4 L320.2 340.6 L320.3 320.0 L313.3 319.9 Z M326.0 155.5 L330.3 155.5 L329.8 134.8 L325.8 134.8 Z M345.6 133.8 L349.5 133.4 L347.3 112.8 L343.7 113.1 Z M349.5 133.4 L353.5 133.0 L350.9 112.4 L347.3 112.8 Z M361.6 110.8 L365.2 110.1 L361.3 89.6 L358.0 90.2 Z M377.2 85.9 L380.3 85.0 L374.3 64.9 L371.5 65.7 Z M409.9 184.3 L414.6 182.9 L408.4 163.2 L404.0 164.6 Z M380.3 85.0 L383.4 84.0 L377.1 64.0 L374.3 64.9 Z" fill="#ff4a00" stroke="#ff4a00" stroke-width="0.6"/>
<path d="M204.0 324.2 L211.1 326.1 L216.3 306.2 L209.5 304.4 Z M211.1 326.1 L218.2 327.9 L223.1 307.9 L216.3 306.2 Z M213.3 347.8 L220.8 349.6 L225.4 329.6 L218.2 327.9 Z M218.2 327.9 L225.4 329.6 L229.9 309.5 L223.1 307.9 Z M223.1 307.9 L229.9 309.5 L234.4 289.5 L227.9 288.0 Z M216.3 369.6 L224.1 371.3 L228.3 351.2 L220.8 349.6 Z M234.4 289.5 L240.9 291.0 L245.2 270.9 L239.0 269.5 Z M219.9 391.5 L228.1 393.1 L232.0 372.9 L224.1 371.3 Z M245.2 270.9 L251.4 272.1 L255.2 252.0 L249.4 250.8 Z M228.1 393.1 L236.4 394.7 L239.9 374.4 L232.0 372.9 Z M261.1 253.1 L267.1 254.0 L270.3 233.8 L264.7 232.8 Z M252.9 397.3 L261.2 398.4 L263.7 377.9 L255.8 376.9 Z M289.3 215.6 L294.6 216.1 L296.5 195.6 L291.5 195.1 Z M306.4 196.3 L311.4 196.6 L312.2 176.0 L307.6 175.7 Z M312.2 176.0 L316.9 176.1 L317.4 155.5 L313.1 155.3 Z M313.3 319.9 L320.3 320.0 L320.5 299.5 L313.8 299.4 Z M321.5 176.2 L326.2 176.2 L326.0 155.5 L321.7 155.5 Z M346.0 278.4 L352.4 278.0 L350.8 257.5 L344.8 257.9 Z M352.4 278.0 L358.7 277.4 L356.8 257.0 L350.8 257.5 Z M343.2 154.8 L347.5 154.5 L345.6 133.8 L341.7 134.2 Z M358.7 277.4 L365.0 276.8 L362.8 256.4 L356.8 257.0 Z M347.5 154.5 L351.8 154.0 L349.5 133.4 L345.6 133.8 Z M365.0 276.8 L371.3 276.1 L368.7 255.7 L362.8 256.4 Z M351.8 154.0 L356.0 153.6 L353.5 133.0 L349.5 133.4 Z M377.6 275.3 L383.8 274.3 L380.6 254.0 L374.7 254.9 Z M388.6 231.8 L394.1 230.7 L389.9 210.6 L384.7 211.6 Z M373.0 129.7 L376.9 128.9 L372.3 108.6 L368.7 109.4 Z M395.1 209.4 L400.3 208.2 L395.4 188.2 L390.6 189.4 Z M376.9 128.9 L380.7 128.0 L375.8 107.8 L372.3 108.6 Z M400.3 208.2 L405.5 206.9 L400.3 187.0 L395.4 188.2 Z M380.7 128.0 L384.6 127.0 L379.3 106.9 L375.8 107.8 Z M400.3 187.0 L405.1 185.7 L399.5 165.8 L395.0 167.1 Z M405.1 185.7 L409.9 184.3 L404.0 164.6 L399.5 165.8 Z" fill="#ff2b00" stroke="#ff2b00" stroke-width="0.6"/>
<path d="M205.9 345.9 L213.3 347.8 L218.2 327.9 L211.1 326.1 Z M216.3 306.2 L223.1 307.9 L227.9 288.0 L221.4 286.4 Z M208.4 367.8 L216.3 369.6 L220.8 349.6 L213.3 347.8 Z M227.9 288.0 L234.4 289.5 L239.0 269.5 L232.8 268.1 Z M255.2 252.0 L261.1 253.1 L264.7 232.8 L259.1 231.8 Z M264.7 232.8 L270.3 233.8 L273.5 213.5 L268.2 212.6 Z M261.2 398.4 L269.5 399.3 L271.7 378.9 L263.7 377.9 Z M284.0 214.9 L289.3 215.6 L291.5 195.1 L286.6 194.5 Z M269.5 399.3 L277.8 400.2 L279.7 379.7 L271.7 378.9 Z M287.7 380.3 L295.7 380.9 L296.9 360.3 L289.2 359.8 Z M296.9 360.3 L304.6 360.7 L305.5 340.2 L298.1 339.8 Z M316.9 176.1 L321.5 176.2 L321.7 155.5 L317.4 155.5 Z M327.2 299.5 L333.9 299.4 L333.4 278.9 L327.0 279.0 Z M334.6 155.3 L338.9 155.1 L337.7 134.4 L333.7 134.6 Z M338.9 155.1 L343.2 154.8 L341.7 134.2 L337.7 134.4 Z M386.6 253.1 L392.5 252.0 L388.6 231.8 L383.0 232.8 Z M365.2 131.2 L369.1 130.5 L365.2 110.1 L361.6 110.8 Z M369.1 130.5 L373.0 129.7 L368.7 109.4 L365.2 110.1 Z M394.1 230.7 L399.7 229.5 L395.1 209.4 L389.9 210.6 Z M405.5 206.9 L410.6 205.5 L405.1 185.7 L400.3 187.0 Z M383.4 84.0 L386.6 83.0 L379.9 63.1 L377.1 64.0 Z M386.6 83.0 L389.7 81.9 L382.7 62.1 L379.9 63.1 Z M389.7 81.9 L392.7 80.8 L385.4 61.2 L382.7 62.1 Z" fill="#ff3500" stroke="#ff3500" stroke-width="0.6"/>
<path d="M220.8 349.6 L228.3 351.2 L232.5 331.1 L225.4 329.6 Z M225.4 329.6 L232.5 331.1 L236.7 311.0 L229.9 309.5 Z M229.9 309.5 L236.7 311.0 L240.9 291.0 L234.4 289.5 Z M224.1 371.3 L232.0 372.9 L235.9 352.7 L228.3 351.2 Z M228.3 351.2 L235.9 352.7 L239.8 332.6 L232.5 331.1 Z M240.9 291.0 L247.5 292.3 L251.4 272.1 L245.2 270.9 Z M251.4 272.1 L257.6 273.3 L261.1 253.1 L255.2 252.0 Z M236.4 394.7 L244.6 396.0 L247.8 375.7 L239.9 374.4 Z M244.6 396.0 L252.9 397.3 L255.8 376.9 L247.8 375.7 Z M267.1 254.0 L273.0 254.9 L275.9 234.6 L270.3 233.8 Z M270.3 233.8 L275.9 234.6 L278.8 214.2 L273.5 213.5 Z M275.9 234.6 L281.5 235.3 L284.0 214.9 L278.8 214.2 Z M263.7 377.9 L271.7 378.9 L273.9 358.4 L266.3 357.6 Z M281.5 235.3 L287.1 236.0 L289.3 215.6 L284.0 214.9 Z M271.7 378.9 L279.7 379.7 L281.6 359.2 L273.9 358.4 Z M287.1 236.0 L292.7 236.6 L294.6 216.1 L289.3 215.6 Z M294.6 216.1 L299.9 216.5 L301.4 196.0 L296.5 195.6 Z M289.2 359.8 L296.9 360.3 L298.1 339.8 L290.8 339.4 Z M299.9 216.5 L305.2 216.9 L306.4 196.3 L301.4 196.0 Z M298.1 339.8 L305.5 340.2 L306.3 319.7 L299.3 319.4 Z M305.5 340.2 L312.8 340.4 L313.3 319.9 L306.3 319.7 Z M311.4 196.6 L316.4 196.7 L316.9 176.1 L312.2 176.0 Z M326.2 176.2 L330.8 176.1 L330.3 155.5 L326.0 155.5 Z M330.8 176.1 L335.5 176.0 L334.6 155.3 L330.3 155.5 Z M356.8 257.0 L362.8 256.4 L360.6 236.0 L355.0 236.6 Z M362.8 256.4 L368.7 255.7 L366.2 235.3 L360.6 236.0 Z M368.7 255.7 L374.7 254.9 L371.8 234.6 L366.2 235.3 Z M356.0 153.6 L360.3 153.0 L357.4 132.5 L353.5 133.0 Z M360.3 153.0 L364.6 152.3 L361.3 131.9 L357.4 132.5 Z M364.6 152.3 L368.8 151.6 L365.2 131.2 L361.3 131.9 Z M383.0 232.8 L388.6 231.8 L384.7 211.6 L379.5 212.6 Z M373.0 150.9 L377.2 150.0 L373.0 129.7 L369.1 130.5 Z M389.9 210.6 L395.1 209.4 L390.6 189.4 L385.7 190.4 Z M377.2 150.0 L381.4 149.1 L376.9 128.9 L373.0 129.7 Z M381.4 149.1 L385.6 148.1 L380.7 128.0 L376.9 128.9 Z M395.4 188.2 L400.3 187.0 L395.0 167.1 L390.5 168.2 Z M385.6 148.1 L389.8 147.1 L384.6 127.0 L380.7 128.0 Z M395.0 167.1 L399.5 165.8 L394.0 145.9 L389.8 147.1 Z" fill="#ff2000" stroke="#ff2000" stroke-width="0.6"/>
<path d="M232.5 331.1 L239.8 332.6 L243.6 312.4 L236.7 311.0 Z M236.7 311.0 L243.6 312.4 L247.5 292.3 L240.9 291.0 Z M232.0 372.9 L239.9 374.4 L243.4 354.1 L235.9 352.7 Z M235.9 352.7 L243.4 354.1 L247.0 333.9 L239.8 332.6 Z M243.6 312.4 L250.5 313.7 L254.1 293.5 L247.5 292.3 Z M247.5 292.3 L254.1 293.5 L257.6 273.3 L251.4 272.1 Z M254.1 293.5 L260.7 294.6 L263.9 274.3 L257.6 273.3 Z M257.6 273.3 L263.9 274.3 L267.1 254.0 L261.1 253.1 Z M247.8 375.7 L255.8 376.9 L258.6 356.5 L251.0 355.4 Z M255.8 376.9 L263.7 377.9 L266.3 357.6 L258.6 356.5 Z M266.3 357.6 L273.9 358.4 L276.1 338.0 L268.8 337.2 Z M277.8 400.2 L286.2 400.9 L287.7 380.3 L279.7 379.7 Z M279.7 379.7 L287.7 380.3 L289.2 359.8 L281.6 359.2 Z M292.7 236.6 L298.4 237.0 L299.9 216.5 L294.6 216.1 Z M290.8 339.4 L298.1 339.8 L299.3 319.4 L292.3 318.9 Z M293.8 298.4 L300.5 298.9 L301.7 278.4 L295.3 278.0 Z M300.5 298.9 L307.2 299.2 L308.0 278.7 L301.7 278.4 Z M305.2 216.9 L310.5 217.1 L311.4 196.6 L306.4 196.3 Z M306.3 319.7 L313.3 319.9 L313.8 299.4 L307.2 299.2 Z M307.2 299.2 L313.8 299.4 L314.3 278.9 L308.0 278.7 Z M310.5 217.1 L315.9 217.3 L316.4 196.7 L311.4 196.6 Z M315.9 217.3 L321.2 217.4 L321.4 196.8 L316.4 196.7 Z M316.4 196.7 L321.4 196.8 L321.5 176.2 L316.9 176.1 Z M320.5 299.5 L327.2 299.5 L327.0 279.0 L320.7 279.0 Z M321.4 196.8 L326.3 196.8 L326.2 176.2 L321.5 176.2 Z M327.0 279.0 L333.4 278.9 L332.9 258.4 L326.9 258.5 Z M326.3 196.8 L331.3 196.7 L330.8 176.1 L326.2 176.2 Z M333.4 278.9 L339.7 278.7 L338.9 258.2 L332.9 258.4 Z M339.7 278.7 L346.0 278.4 L344.8 257.9 L338.9 258.2 Z M335.5 176.0 L340.1 175.7 L338.9 155.1 L334.6 155.3 Z M344.8 257.9 L350.8 257.5 L349.3 237.0 L343.7 237.4 Z M340.1 175.7 L344.7 175.4 L343.2 154.8 L338.9 155.1 Z M350.8 257.5 L356.8 257.0 L355.0 236.6 L349.3 237.0 Z M344.7 175.4 L349.4 175.1 L347.5 154.5 L343.2 154.8 Z M355.0 236.6 L360.6 236.0 L358.4 215.6 L353.1 216.1 Z M349.4 175.1 L354.0 174.6 L351.8 154.0 L347.5 154.5 Z M360.6 236.0 L366.2 235.3 L363.7 214.9 L358.4 215.6 Z M354.0 174.6 L358.6 174.1 L356.0 153.6 L351.8 154.0 Z M366.2 235.3 L371.8 234.6 L368.9 214.2 L363.7 214.9 Z M374.7 254.9 L380.6 254.0 L377.4 233.8 L371.8 234.6 Z M371.8 234.6 L377.4 233.8 L374.2 213.5 L368.9 214.2 Z M380.6 254.0 L386.6 253.1 L383.0 232.8 L377.4 233.8 Z M377.4 233.8 L383.0 232.8 L379.5 212.6 L374.2 213.5 Z M379.5 212.6 L384.7 211.6 L380.8 191.4 L375.9 192.3 Z M368.8 151.6 L373.0 150.9 L369.1 130.5 L365.2 131.2 Z M384.7 211.6 L389.9 210.6 L385.7 190.4 L380.8 191.4 Z M380.8 191.4 L385.7 190.4 L381.5 170.2 L376.9 171.2 Z M376.9 171.2 L381.5 170.2 L377.2 150.0 L373.0 150.9 Z M385.7 190.4 L390.6 189.4 L386.0 169.3 L381.5 170.2 Z M381.5 170.2 L386.0 169.3 L381.4 149.1 L377.2 150.0 Z M390.6 189.4 L395.4 188.2 L390.5 168.2 L386.0 169.3 Z M386.0 169.3 L390.5 168.2 L385.6 148.1 L381.4 149.1 Z M390.5 168.2 L395.0 167.1 L389.8 147.1 L385.6 148.1 Z" fill="#ff1500" stroke="#ff1500" stroke-width="0.6"/>
<path d="M239.8 332.6 L247.0 333.9 L250.5 313.7 L243.6 312.4 Z M239.9 374.4 L247.8 375.7 L251.0 355.4 L243.4 354.1 Z M243.4 354.1 L251.0 355.4 L254.2 335.1 L247.0 333.9 Z M247.0 333.9 L254.2 335.1 L257.5 314.8 L250.5 313.7 Z M250.5 313.7 L257.5 314.8 L260.7 294.6 L254.1 293.5 Z M251.0 355.4 L258.6 356.5 L261.5 336.2 L254.2 335.1 Z M254.2 335.1 L261.5 336.2 L264.4 315.9 L257.5 314.8 Z M257.5 314.8 L264.4 315.9 L267.3 295.6 L260.7 294.6 Z M260.7 294.6 L267.3 295.6 L270.1 275.3 L263.9 274.3 Z M263.9 274.3 L270.1 275.3 L273.0 254.9 L267.1 254.0 Z M258.6 356.5 L266.3 357.6 L268.8 337.2 L261.5 336.2 Z M261.5 336.2 L268.8 337.2 L271.3 316.8 L264.4 315.9 Z M264.4 315.9 L271.3 316.8 L273.9 296.4 L267.3 295.6 Z M267.3 295.6 L273.9 296.4 L276.4 276.1 L270.1 275.3 Z M270.1 275.3 L276.4 276.1 L279.0 255.7 L273.0 254.9 Z M273.0 254.9 L279.0 255.7 L281.5 235.3 L275.9 234.6 Z M268.8 337.2 L276.1 338.0 L278.3 317.6 L271.3 316.8 Z M271.3 316.8 L278.3 317.6 L280.5 297.2 L273.9 296.4 Z M273.9 296.4 L280.5 297.2 L282.7 276.8 L276.4 276.1 Z M276.4 276.1 L282.7 276.8 L284.9 256.4 L279.0 255.7 Z M279.0 255.7 L284.9 256.4 L287.1 236.0 L281.5 235.3 Z M273.9 358.4 L281.6 359.2 L283.4 338.7 L276.1 338.0 Z M276.1 338.0 L283.4 338.7 L285.3 318.3 L278.3 317.6 Z M278.3 317.6 L285.3 318.3 L287.2 297.9 L280.5 297.2 Z M280.5 297.2 L287.2 297.9 L289.0 277.4 L282.7 276.8 Z M282.7 276.8 L289.0 277.4 L290.9 257.0 L284.9 256.4 Z M284.9 256.4 L290.9 257.0 L292.7 236.6 L287.1 236.0 Z M281.6 359.2 L289.2 359.8 L290.8 339.4 L283.4 338.7 Z M283.4 338.7 L290.8 339.4 L292.3 318.9 L285.3 318.3 Z M285.3 318.3 L292.3 318.9 L293.8 298.4 L287.2 297.9 Z M287.2 297.9 L293.8 298.4 L295.3 278.0 L289.0 277.4 Z M289.0 277.4 L295.3 278.0 L296.9 257.5 L290.9 257.0 Z M290.9 257.0 L296.9 257.5 L298.4 237.0 L292.7 236.6 Z M292.3 318.9 L299.3 319.4 L300.5 298.9 L293.8 298.4 Z M295.3 278.0 L301.7 278.4 L302.9 257.9 L296.9 257.5 Z M296.9 257.5 L302.9 257.9 L304.0 237.4 L298.4 237.0 Z M298.4 237.0 L304.0 237.4 L305.2 216.9 L299.9 216.5 Z M299.3 319.4 L306.3 319.7 L307.2 299.2 L300.5 298.9 Z M301.7 278.4 L308.0 278.7 L308.8 258.2 L302.9 257.9 Z M302.9 257.9 L308.8 258.2 L309.7 237.7 L304.0 237.4 Z M304.0 237.4 L309.7 237.7 L310.5 217.1 L305.2 216.9 Z M308.0 278.7 L314.3 278.9 L314.8 258.4 L308.8 258.2 Z M308.8 258.2 L314.8 258.4 L315.4 237.9 L309.7 237.7 Z M309.7 237.7 L315.4 237.9 L315.9 217.3 L310.5 217.1 Z M313.8 299.4 L320.5 299.5 L320.7 279.0 L314.3 278.9 Z M314.3 278.9 L320.7 279.0 L320.8 258.5 L314.8 258.4 Z M314.8 258.4 L320.8 258.5 L321.0 238.0 L315.4 237.9 Z M315.4 237.9 L321.0 238.0 L321.2 217.4 L315.9 217.3 Z M320.7 279.0 L327.0 279.0 L326.9 258.5 L320.8 258.5 Z M320.8 258.5 L326.9 258.5 L326.7 238.0 L321.0 238.0 Z M321.0 238.0 L326.7 238.0 L326.5 217.4 L321.2 217.4 Z M321.2 217.4 L326.5 217.4 L326.3 196.8 L321.4 196.8 Z M326.9 258.5 L332.9 258.4 L332.3 237.9 L326.7 238.0 Z M326.7 238.0 L332.3 237.9 L331.8 217.3 L326.5 217.4 Z M326.5 217.4 L331.8 217.3 L331.3 196.7 L326.3 196.8 Z M332.9 258.4 L338.9 258.2 L338.0 237.7 L332.3 237.9 Z M332.3 237.9 L338.0 237.7 L337.2 217.1 L331.8 217.3 Z M331.8 217.3 L337.2 217.1 L336.3 196.6 L331.3 196.7 Z M331.3 196.7 L336.3 196.6 L335.5 176.0 L330.8 176.1 Z M338.9 258.2 L344.8 257.9 L343.7 237.4 L338.0 237.7 Z M338.0 237.7 L343.7 237.4 L342.5 216.9 L337.2 217.1 Z M337.2 217.1 L342.5 216.9 L341.3 196.3 L336.3 196.6 Z M336.3 196.6 L341.3 196.3 L340.1 175.7 L335.5 176.0 Z M343.7 237.4 L349.3 237.0 L347.8 216.5 L342.5 216.9 Z M342.5 216.9 L347.8 216.5 L346.3 196.0 L341.3 196.3 Z M341.3 196.3 L346.3 196.0 L344.7 175.4 L340.1 175.7 Z M349.3 237.0 L355.0 236.6 L353.1 216.1 L347.8 216.5 Z M347.8 216.5 L353.1 216.1 L351.2 195.6 L346.3 196.0 Z M346.3 196.0 L351.2 195.6 L349.4 175.1 L344.7 175.4 Z M353.1 216.1 L358.4 215.6 L356.2 195.1 L351.2 195.6 Z M351.2 195.6 L356.2 195.1 L354.0 174.6 L349.4 175.1 Z M358.4 215.6 L363.7 214.9 L361.1 194.5 L356.2 195.1 Z M356.2 195.1 L361.1 194.5 L358.6 174.1 L354.0 174.6 Z M363.7 214.9 L368.9 214.2 L366.1 193.9 L361.1 194.5 Z M361.1 194.5 L366.1 193.9 L363.2 173.4 L358.6 174.1 Z M358.6 174.1 L363.2 173.4 L360.3 153.0 L356.0 153.6 Z M368.9 214.2 L374.2 213.5 L371.0 193.1 L366.1 193.9 Z M366.1 193.9 L371.0 193.1 L367.8 172.8 L363.2 173.4 Z M363.2 173.4 L367.8 172.8 L364.6 152.3 L360.3 153.0 Z M374.2 213.5 L379.5 212.6 L375.9 192.3 L371.0 193.1 Z M371.0 193.1 L375.9 192.3 L372.4 172.0 L367.8 172.8 Z M367.8 172.8 L372.4 172.0 L368.8 151.6 L364.6 152.3 Z M375.9 192.3 L380.8 191.4 L376.9 171.2 L372.4 172.0 Z M372.4 172.0 L376.9 171.2 L373.0 150.9 L368.8 151.6 Z" fill="#ff0b00" stroke="#ff0b00" stroke-width="0.6"/>
<path d="M253.5 459.8 L262.9 460.9 L265.1 440.3 L256.1 439.3 Z M361.5 400.9 L369.9 400.2 L368.0 379.7 L360.0 380.3 Z M368.0 379.7 L376.0 378.9 L373.8 358.4 L366.1 359.2 Z" fill="#8aff75" stroke="#8aff75" stroke-width="0.6"/>
<path d="M262.9 460.9 L272.2 461.8 L274.1 441.2 L265.1 440.3 Z M319.2 464.2 L328.5 464.2 L328.4 443.5 L319.3 443.5 Z M355.5 442.6 L364.6 442.0 L363.0 421.4 L354.3 422.0 Z M350.8 360.3 L358.5 359.8 L356.9 339.4 L349.6 339.8 Z M360.5 297.9 L367.2 297.2 L365.0 276.8 L358.7 277.4 Z" fill="#9fff60" stroke="#9fff60" stroke-width="0.6"/>
<path d="M270.4 482.5 L280.1 483.3 L281.6 462.6 L272.2 461.8 Z" fill="#00aaff" stroke="#00aaff" stroke-width="0.6"/>
<path d="M272.2 461.8 L281.6 462.6 L283.1 442.0 L274.1 441.2 Z M309.8 464.0 L319.2 464.2 L319.3 443.5 L310.3 443.3 Z M360.0 380.3 L368.0 379.7 L366.1 359.2 L358.5 359.8 Z M421.1 266.5 L427.2 264.9 L421.7 245.1 L415.9 246.7 Z" fill="#aaff55" stroke="#aaff55" stroke-width="0.6"/>
<path d="M277.0 524.8 L287.4 525.4 L288.6 504.7 L278.5 504.0 Z" fill="#0000d4" stroke="#0000d4" stroke-width="0.6"/>
<path d="M278.5 504.0 L288.6 504.7 L289.8 483.9 L280.1 483.3 Z" fill="#0000ff" stroke="#0000ff" stroke-width="0.6"/>
<path d="M281.6 462.6 L291.0 463.2 L292.2 442.6 L283.1 442.0 Z M353.1 401.4 L361.5 400.9 L360.0 380.3 L352.0 380.9 Z" fill="#bfff40" stroke="#bfff40" stroke-width="0.6"/>
<path d="M287.4 525.4 L297.8 526.0 L298.7 505.2 L288.6 504.7 Z" fill="#004aff" stroke="#004aff" stroke-width="0.6"/>
<path d="M288.6 504.7 L298.7 505.2 L299.5 484.4 L289.8 483.9 Z" fill="#009fff" stroke="#009fff" stroke-width="0.6"/>
<path d="M297.8 526.0 L308.2 526.3 L308.7 505.5 L298.7 505.2 Z M308.2 526.3 L318.6 526.5 L318.8 505.7 L308.7 505.5 Z M383.3 315.9 L390.2 314.8 L387.0 294.6 L380.4 295.6 Z M390.2 314.8 L397.2 313.7 L393.6 293.5 L387.0 294.6 Z M397.2 313.7 L404.1 312.4 L400.2 292.3 L393.6 293.5 Z M422.3 329.6 L429.5 327.9 L424.6 307.9 L417.8 309.5 Z M429.5 327.9 L436.6 326.1 L431.4 306.2 L424.6 307.9 Z M436.6 326.1 L443.7 324.2 L438.2 304.4 L431.4 306.2 Z M443.7 324.2 L450.8 322.1 L445.0 302.4 L438.2 304.4 Z" fill="#00ffff" stroke="#00ffff" stroke-width="0.6"/>
<path d="M298.7 505.2 L308.7 505.5 L309.2 484.7 L299.5 484.4 Z" fill="#00dfff" stroke="#00dfff" stroke-width="0.6"/>
<path d="M299.5 484.4 L309.2 484.7 L309.8 464.0 L300.4 463.7 Z M328.9 505.7 L339.0 505.5 L338.5 484.7 L328.7 484.9 Z M369.4 317.6 L376.4 316.8 L373.8 296.4 L367.2 297.2 Z M378.9 337.2 L386.2 336.2 L383.3 315.9 L376.4 316.8 Z M389.1 356.5 L396.7 355.4 L393.5 335.1 L386.2 336.2 Z M386.2 336.2 L393.5 335.1 L390.2 314.8 L383.3 315.9 Z M396.7 355.4 L404.3 354.1 L400.7 333.9 L393.5 335.1 Z M406.8 291.0 L413.3 289.5 L408.7 269.5 L402.5 270.9 Z M426.9 349.6 L434.4 347.8 L429.5 327.9 L422.3 329.6 Z M413.3 289.5 L419.8 288.0 L414.9 268.1 L408.7 269.5 Z M451.9 278.8 L458.2 276.6 L451.4 257.2 L445.4 259.3 Z" fill="#20ffdf" stroke="#20ffdf" stroke-width="0.6"/>
<path d="M308.7 505.5 L318.8 505.7 L319.0 484.9 L309.2 484.7 Z M318.8 505.7 L328.9 505.7 L328.7 484.9 L319.0 484.9 Z M407.9 332.6 L415.2 331.1 L411.0 311.0 L404.1 312.4 Z M415.2 331.1 L422.3 329.6 L417.8 309.5 L411.0 311.0 Z M426.3 286.4 L432.7 284.6 L427.2 264.9 L421.1 266.5 Z M450.8 322.1 L457.8 320.0 L451.7 300.4 L445.0 302.4 Z M457.8 320.0 L464.8 317.7 L458.4 298.2 L451.7 300.4 Z M500.2 370.6 L508.0 367.7 L500.5 348.5 L493.0 351.3 Z M515.5 386.9 L523.6 383.6 L515.8 364.5 L508.0 367.7 Z M508.0 367.7 L515.8 364.5 L508.0 345.5 L500.5 348.5 Z M500.5 348.5 L508.0 345.5 L500.2 326.5 L493.1 329.3 Z M523.6 383.6 L531.6 380.3 L523.5 361.3 L515.8 364.5 Z M515.8 364.5 L523.5 361.3 L515.4 342.4 L508.0 345.5 Z M508.0 345.5 L515.4 342.4 L507.3 323.5 L500.2 326.5 Z M539.7 399.2 L548.0 395.6 L539.6 376.8 L531.6 380.3 Z M531.6 380.3 L539.6 376.8 L531.2 358.0 L523.5 361.3 Z M523.5 361.3 L531.2 358.0 L522.8 339.2 L515.4 342.4 Z M515.4 342.4 L522.8 339.2 L514.4 320.4 L507.3 323.5 Z M556.5 414.5 L565.0 410.6 L556.3 391.8 L548.0 395.6 Z M548.0 395.6 L556.3 391.8 L547.5 373.1 L539.6 376.8 Z M539.6 376.8 L547.5 373.1 L538.8 354.5 L531.2 358.0 Z M531.2 358.0 L538.8 354.5 L530.1 335.8 L522.8 339.2 Z M522.8 339.2 L530.1 335.8 L521.4 317.2 L514.4 320.4 Z M573.8 429.3 L582.6 425.1 L573.5 406.5 L565.0 410.6 Z M565.0 410.6 L573.5 406.5 L564.4 387.9 L556.3 391.8 Z M556.3 391.8 L564.4 387.9 L555.4 369.4 L547.5 373.1 Z M547.5 373.1 L555.4 369.4 L546.3 350.9 L538.8 354.5 Z M538.8 354.5 L546.3 350.9 L537.3 332.4 L530.1 335.8 Z M530.1 335.8 L537.3 332.4 L528.3 313.9 L521.4 317.2 Z" fill="#0bfff4" stroke="#0bfff4" stroke-width="0.6"/>
<path d="M309.2 484.7 L319.0 484.9 L319.2 464.2 L309.8 464.0 Z M362.4 318.3 L369.4 317.6 L367.2 297.2 L360.5 297.9 Z M373.8 358.4 L381.4 357.6 L378.9 337.2 L371.6 338.0 Z M389.0 418.8 L397.7 417.7 L394.8 397.3 L386.5 398.4 Z M386.5 398.4 L394.8 397.3 L391.9 376.9 L384.0 377.9 Z M387.0 294.6 L393.6 293.5 L390.1 273.3 L383.8 274.3 Z" fill="#4affb5" stroke="#4affb5" stroke-width="0.6"/>
<path d="M319.0 484.9 L328.7 484.9 L328.5 464.2 L319.2 464.2 Z M328.7 484.9 L338.5 484.7 L337.9 464.0 L328.5 464.2 Z M348.2 484.4 L357.9 483.9 L356.7 463.2 L347.3 463.7 Z M367.6 483.3 L377.3 482.5 L375.5 461.8 L366.1 462.6 Z M375.5 461.8 L384.8 460.9 L382.6 440.3 L373.6 441.2 Z M364.3 338.7 L371.6 338.0 L369.4 317.6 L362.4 318.3 Z M394.2 459.8 L403.5 458.6 L400.6 438.1 L391.6 439.3 Z M381.4 357.6 L389.1 356.5 L386.2 336.2 L378.9 337.2 Z M403.5 458.6 L412.8 457.2 L409.5 436.8 L400.6 438.1 Z M394.8 397.3 L403.1 396.0 L399.9 375.7 L391.9 376.9 Z M403.1 396.0 L411.3 394.7 L407.8 374.4 L399.9 375.7 Z M407.8 374.4 L415.7 372.9 L411.8 352.7 L404.3 354.1 Z M404.3 354.1 L411.8 352.7 L407.9 332.6 L400.7 333.9 Z M393.6 293.5 L400.2 292.3 L396.3 272.1 L390.1 273.3 Z M411.8 352.7 L419.4 351.2 L415.2 331.1 L407.9 332.6 Z M503.8 500.3 L513.8 497.3 L507.5 477.4 L497.9 480.4 Z M497.9 480.4 L507.5 477.4 L501.2 457.6 L491.9 460.4 Z M513.8 497.3 L523.7 494.0 L517.1 474.3 L507.5 477.4 Z M507.5 477.4 L517.1 474.3 L510.5 454.6 L501.2 457.6 Z M501.2 457.6 L510.5 454.6 L504.0 434.9 L495.0 437.8 Z M523.7 494.0 L533.5 490.7 L526.6 471.0 L517.1 474.3 Z M517.1 474.3 L526.6 471.0 L519.7 451.4 L510.5 454.6 Z M510.5 454.6 L519.7 451.4 L512.8 431.9 L504.0 434.9 Z M533.5 490.7 L543.3 487.1 L536.1 467.6 L526.6 471.0 Z M526.6 471.0 L536.1 467.6 L528.9 448.1 L519.7 451.4 Z M519.7 451.4 L528.9 448.1 L521.7 428.7 L512.8 431.9 Z M543.3 487.1 L553.1 483.4 L545.5 464.0 L536.1 467.6 Z M536.1 467.6 L545.5 464.0 L538.0 444.7 L528.9 448.1 Z M528.9 448.1 L538.0 444.7 L530.5 425.4 L521.7 428.7 Z M553.1 483.4 L562.8 479.6 L554.9 460.3 L545.5 464.0 Z M545.5 464.0 L554.9 460.3 L547.0 441.1 L538.0 444.7 Z M562.8 479.6 L572.4 475.5 L564.2 456.4 L554.9 460.3 Z M554.9 460.3 L564.2 456.4 L556.0 437.3 L547.0 441.1 Z M572.4 475.5 L581.9 471.3 L573.4 452.3 L564.2 456.4 Z M564.2 456.4 L573.4 452.3 L564.9 433.4 L556.0 437.3 Z M581.9 471.3 L591.4 467.0 L582.6 448.1 L573.4 452.3 Z M573.4 452.3 L582.6 448.1 L573.8 429.3 L564.9 433.4 Z M591.4 467.0 L600.8 462.5 L591.7 443.8 L582.6 448.1 Z M582.6 448.1 L591.7 443.8 L582.6 425.1 L573.8 429.3 Z" fill="#35ffca" stroke="#35ffca" stroke-width="0.6"/>
<path d="M328.5 464.2 L337.9 464.0 L337.4 443.3 L328.4 443.5 Z M364.6 442.0 L373.6 441.2 L371.7 420.7 L363.0 421.4 Z M363.0 421.4 L371.7 420.7 L369.9 400.2 L361.5 400.9 Z M427.2 264.9 L433.3 263.1 L427.4 243.4 L421.7 245.1 Z" fill="#95ff6a" stroke="#95ff6a" stroke-width="0.6"/>
<path d="M339.0 505.5 L349.0 505.2 L348.2 484.4 L338.5 484.7 Z M376.4 316.8 L383.3 315.9 L380.4 295.6 L373.8 296.4 Z M393.5 335.1 L400.7 333.9 L397.2 313.7 L390.2 314.8 Z M400.7 333.9 L407.9 332.6 L404.1 312.4 L397.2 313.7 Z M419.8 288.0 L426.3 286.4 L421.1 266.5 L414.9 268.1 Z M432.7 284.6 L439.1 282.8 L433.3 263.1 L427.2 264.9 Z M439.1 282.8 L445.5 280.8 L439.3 261.3 L433.3 263.1 Z M445.5 280.8 L451.9 278.8 L445.4 259.3 L439.3 261.3 Z" fill="#15ffea" stroke="#15ffea" stroke-width="0.6"/>
<path d="M338.5 484.7 L348.2 484.4 L347.3 463.7 L337.9 464.0 Z M356.9 339.4 L364.3 338.7 L362.4 318.3 L355.4 318.9 Z M384.8 460.9 L394.2 459.8 L391.6 439.3 L382.6 440.3 Z M400.6 438.1 L409.5 436.8 L406.3 416.4 L397.7 417.7 Z M397.7 417.7 L406.3 416.4 L403.1 396.0 L394.8 397.3 Z M391.9 376.9 L399.9 375.7 L396.7 355.4 L389.1 356.5 Z M399.9 375.7 L407.8 374.4 L404.3 354.1 L396.7 355.4 Z M504.0 434.9 L512.8 431.9 L506.0 412.4 L497.4 415.3 Z M512.8 431.9 L521.7 428.7 L514.5 409.3 L506.0 412.4 Z M521.7 428.7 L530.5 425.4 L523.0 406.1 L514.5 409.3 Z M538.0 444.7 L547.0 441.1 L539.2 421.9 L530.5 425.4 Z M547.0 441.1 L556.0 437.3 L547.9 418.2 L539.2 421.9 Z" fill="#40ffbf" stroke="#40ffbf" stroke-width="0.6"/>
<path d="M337.9 464.0 L347.3 463.7 L346.5 443.0 L337.4 443.3 Z M373.6 441.2 L382.6 440.3 L380.4 419.8 L371.7 420.7 Z M371.7 420.7 L380.4 419.8 L378.2 399.3 L369.9 400.2 Z M367.2 297.2 L373.8 296.4 L371.3 276.1 L365.0 276.8 Z M373.8 296.4 L380.4 295.6 L377.6 275.3 L371.3 276.1 Z M433.3 263.1 L439.3 261.3 L433.2 241.7 L427.4 243.4 Z" fill="#75ff8a" stroke="#75ff8a" stroke-width="0.6"/>
<path d="M337.4 443.3 L346.5 443.0 L345.6 422.4 L336.9 422.7 Z M343.1 360.7 L350.8 360.3 L349.6 339.8 L342.2 340.2 Z M352.0 380.9 L360.0 380.3 L358.5 359.8 L350.8 360.3 Z M408.7 269.5 L414.9 268.1 L410.0 248.1 L404.2 249.5 Z M433.2 241.7 L438.9 239.8 L432.4 220.3 L427.0 222.1 Z" fill="#d4ff2b" stroke="#d4ff2b" stroke-width="0.6"/>
<path d="M347.3 463.7 L356.7 463.2 L355.5 442.6 L346.5 443.0 Z M356.7 463.2 L366.1 462.6 L364.6 442.0 L355.5 442.6 Z M366.1 462.6 L375.5 461.8 L373.6 441.2 L364.6 442.0 Z M366.1 359.2 L373.8 358.4 L371.6 338.0 L364.3 338.7 Z M382.6 440.3 L391.6 439.3 L389.0 418.8 L380.4 419.8 Z M380.4 419.8 L389.0 418.8 L386.5 398.4 L378.2 399.3 Z M380.4 295.6 L387.0 294.6 L383.8 274.3 L377.6 275.3 Z" fill="#60ff9f" stroke="#60ff9f" stroke-width="0.6"/>
<path d="M345.6 422.4 L354.3 422.0 L353.1 401.4 L344.8 401.8 Z M353.9 298.4 L360.5 297.9 L358.7 277.4 L352.4 278.0 Z" fill="#dfff20" stroke="#dfff20" stroke-width="0.6"/>
<path d="M344.8 401.8 L353.1 401.4 L352.0 380.9 L343.9 381.3 Z M402.5 270.9 L408.7 269.5 L404.2 249.5 L398.3 250.8 Z M427.4 243.4 L433.2 241.7 L427.0 222.1 L421.6 223.8 Z M444.6 237.9 L450.2 235.8 L443.1 216.6 L437.7 218.5 Z" fill="#eaff15" stroke="#eaff15" stroke-width="0.6"/>
<path d="M357.9 483.9 L367.6 483.3 L366.1 462.6 L356.7 463.2 Z M371.6 338.0 L378.9 337.2 L376.4 316.8 L369.4 317.6 Z M400.2 292.3 L406.8 291.0 L402.5 270.9 L396.3 272.1 Z M419.4 351.2 L426.9 349.6 L422.3 329.6 L415.2 331.1 Z M497.4 415.3 L506.0 412.4 L499.1 392.9 L490.9 395.7 Z M506.0 412.4 L514.5 409.3 L507.3 389.9 L499.1 392.9 Z M499.1 392.9 L507.3 389.9 L500.2 370.6 L492.3 373.5 Z M514.5 409.3 L523.0 406.1 L515.5 386.9 L507.3 389.9 Z M507.3 389.9 L515.5 386.9 L508.0 367.7 L500.2 370.6 Z M530.5 425.4 L539.2 421.9 L531.4 402.7 L523.0 406.1 Z M523.0 406.1 L531.4 402.7 L523.6 383.6 L515.5 386.9 Z M539.2 421.9 L547.9 418.2 L539.7 399.2 L531.4 402.7 Z M531.4 402.7 L539.7 399.2 L531.6 380.3 L523.6 383.6 Z M556.0 437.3 L564.9 433.4 L556.5 414.5 L547.9 418.2 Z M547.9 418.2 L556.5 414.5 L548.0 395.6 L539.7 399.2 Z M564.9 433.4 L573.8 429.3 L565.0 410.6 L556.5 414.5 Z" fill="#2affd5" stroke="#2affd5" stroke-width="0.6"/>
<path d="M349.6 339.8 L356.9 339.4 L355.4 318.9 L348.4 319.4 Z M378.2 399.3 L386.5 398.4 L384.0 377.9 L376.0 378.9 Z M391.6 439.3 L400.6 438.1 L397.7 417.7 L389.0 418.8 Z M384.0 377.9 L391.9 376.9 L389.1 356.5 L381.4 357.6 Z" fill="#55ffaa" stroke="#55ffaa" stroke-width="0.6"/>
<path d="M355.4 318.9 L362.4 318.3 L360.5 297.9 L353.9 298.4 Z M369.9 400.2 L378.2 399.3 L376.0 378.9 L368.0 379.7 Z M376.0 378.9 L384.0 377.9 L381.4 357.6 L373.8 358.4 Z M439.3 261.3 L445.4 259.3 L438.9 239.8 L433.2 241.7 Z M445.4 259.3 L451.4 257.2 L444.6 237.9 L438.9 239.8 Z" fill="#6aff95" stroke="#6aff95" stroke-width="0.6"/>
<path d="M404.1 312.4 L411.0 311.0 L406.8 291.0 L400.2 292.3 Z M458.4 298.2 L465.0 295.9 L458.2 276.6 L451.9 278.8 Z" fill="#00f4ff" stroke="#00f4ff" stroke-width="0.6"/>
<path d="M411.0 311.0 L417.8 309.5 L413.3 289.5 L406.8 291.0 Z M417.8 309.5 L424.6 307.9 L419.8 288.0 L413.3 289.5 Z M424.6 307.9 L431.4 306.2 L426.3 286.4 L419.8 288.0 Z M451.7 300.4 L458.4 298.2 L451.9 278.8 L445.5 280.8 Z" fill="#00eaff" stroke="#00eaff" stroke-width="0.6"/>
<path d="M431.4 306.2 L438.2 304.4 L432.7 284.6 L426.3 286.4 Z M438.2 304.4 L445.0 302.4 L439.1 282.8 L432.7 284.6 Z M445.0 302.4 L451.7 300.4 L445.5 280.8 L439.1 282.8 Z" fill="#00d4ff" stroke="#00d4ff" stroke-width="0.6"/>
<path d="M438.9 239.8 L444.6 237.9 L437.7 218.5 L432.4 220.3 Z" fill="#caff35" stroke="#caff35" stroke-width="0.6"/>
<path d="M296.0 -5.0 L296.0 74.0 L294.5 76.6 L287.5 85.4 L284.0 88.0 L280.5 92.4 L277.0 93.7 L277.4 97.6 L274.4 102.0 L270.0 103.7 L269.1 109.0 L266.5 112.5 L261.2 114.2 L259.5 119.5 L256.9 124.7 L252.5 129.1 L249.0 133.5 L245.0 141.0 L247.0 148.0 L250.0 155.0 L249.0 167.0 L246.0 176.0 L243.5 186.0 L240.0 195.0 L236.0 203.0 L234.0 211.0 L230.0 217.0 L224.0 222.0 L221.0 229.0 L216.0 233.5 L209.0 236.5 L206.5 243.0 L204.0 251.0 L200.0 254.0 L198.5 261.0 L197.0 272.0 L196.8 284.0 L194.0 292.5 L188.4 297.5 L180.0 301.5 L168.8 304.5 L156.2 307.2 L145.0 310.0 L129.6 311.4 L100.0 318.0 L-30.0 378.0 L-30.0 -5.0 Z M372.1 113.6 L378.4 110.5 L383.6 109.4 L388.9 104.2 L392.0 103.2 L395.1 96.9 L399.3 90.6 L404.6 88.5 L407.7 86.4 L410.8 89.6 L415.0 95.8 L419.2 104.2 L421.3 109.4 L418.2 110.5 L411.9 108.4 L406.7 106.3 L404.6 109.4 L408.7 113.6 L412.9 116.7 L418.2 118.8 L422.3 125.1 L426.5 129.3 L430.7 132.4 L434.9 139.8 L435.9 147.1 L432.8 146.0 L427.6 139.8 L425.5 147.1 L423.4 143.9 L421.3 135.6 L417.1 131.4 L414.0 129.3 L412.9 133.5 L414.0 139.8 L412.9 143.9 L414.0 151.3 L415.0 158.6 L415.0 169.0 L412.9 172.2 L409.8 168.0 L406.7 164.9 L400.4 158.6 L396.2 153.4 L393.1 148.1 L392.0 143.9 L387.8 143.9 L384.7 140.8 L380.5 136.6 L376.3 132.4 L375.3 129.3 L378.4 126.2 L376.3 120.9 L373.2 116.7 L372.1 113.6 Z M140.2 378.3 L145.7 374.9 L151.2 368.5 L157.9 364.5 L162.6 366.0 L166.4 371.9 L169.4 377.0 L167.3 382.9 L168.5 387.6 L172.3 385.9 L176.1 380.4 L178.3 378.3 L180.0 380.4 L180.8 386.3 L184.2 381.2 L189.3 380.0 L192.7 382.9 L194.4 381.2 L197.7 382.9 L199.4 386.3 L203.7 382.9 L206.2 384.6 L209.6 379.6 L213.0 378.3 L215.5 381.2 L219.8 384.6 L225.7 384.2 L221.4 389.7 L223.1 392.3 L224.0 397.3 L228.2 401.6 L229.9 404.1 L229.5 409.2 L229.1 413.4 L224.8 416.0 L223.1 419.4 L218.9 421.9 L216.4 424.4 L211.3 426.1 L206.2 427.8 L197.7 430.4 L193.5 432.1 L187.6 431.2 L182.5 434.6 L178.3 435.4 L172.3 433.7 L167.3 431.2 L163.9 429.5 L160.5 426.1 L156.2 421.9 L152.9 419.4 L146.9 417.7 L143.1 416.8 L144.8 411.3 L152.0 412.6 L154.6 409.2 L152.4 405.8 L151.2 400.7 L146.9 396.9 L139.3 392.7 L146.9 391.4 L153.7 391.4 L157.9 394.0 L159.6 392.3 L153.7 389.7 L155.4 388.0 L160.5 385.5 L157.1 382.9 L144.4 382.1 Z M492.9 262.8 L537.5 245.7 L668.7 245.7 L668.7 571.2 L401.0 571.2 L401.0 518.7 L398.4 505.6 L395.7 492.5 L395.7 479.3 L401.0 466.2 L411.5 455.7 L419.4 445.2 L429.9 437.3 L435.1 424.2 L440.4 408.5 L443.0 392.7 L445.6 377.0 L448.2 366.5 L453.5 356.0 L450.9 345.5 L440.4 348.1 L443.0 340.2 L450.9 327.1 L456.1 316.6 L464.0 303.5 L469.2 290.4 L477.1 285.1 L485.0 274.6 L492.9 262.8 Z M274.8 476.6 L279.5 474.2 L286.4 476.6 L287.6 480.1 L283.0 483.6 L281.8 490.5 L280.6 499.9 L278.3 497.5 L277.1 485.9 L274.8 481.2 Z M332.9 515.4 L335.2 512.6 L337.4 511.5 L339.7 508.6 L341.4 509.2 L341.1 512.6 L339.7 514.3 L339.1 516.5 L339.7 519.4 L332.9 519.4 Z" fill="#637769"/>
<path d="M540.1 356.0 L534.9 363.9 L529.6 377.0 L530.9 392.7 L525.7 411.1 L517.8 429.5 L513.9 447.8 L517.8 466.2 L523.0 479.3 L537.5 482.0 L550.6 478.0 L558.5 468.8 L555.9 453.1 L549.3 437.3 L542.7 421.6 L538.8 413.7 L542.7 395.4 L548.0 379.6 L546.7 366.5 L540.1 356.0 Z" fill="#fff"/>
<path d="M303.1 74.9 L307.5 85.4 L312.7 97.6 L315.3 109.8 L316.2 120.2 L315.3 134.2 L316.2 144.6 L314.5 155.1 L311.0 169.0 L307.5 179.5 L298.8 186.5 L290.1 193.4 L281.3 202.2 L272.6 210.9 L263.9 219.6 L255.2 228.3 M310.1 74.9 L315.3 90.6 L320.6 102.8 L324.9 110.1 L328.1 108.0 L329.8 99.3 L328.4 92.3 L326.7 83.6 L325.8 74.9 M340.6 74.9 L342.4 90.6 L347.6 102.8 L354.6 111.5 L359.8 120.2 L365.0 130.7 L370.3 141.1 L377.2 151.6 L384.2 162.1 L391.2 170.8 L399.9 177.8 L406.9 181.2 L412.4 194.9 L422.4 209.9 L424.9 229.9 L426.1 244.9 L425.0 247.2 L426.4 255.6 L432.0 261.2 L440.4 269.6 L446.0 273.8 L451.6 282.2 L455.8 292.0 L455.1 301.8 L453.0 307.4 L447.4 315.8 L441.8 322.8 L434.8 329.8 L427.8 336.8 L420.8 345.2 L416.6 353.6 L413.8 360.6 L408.2 369.0 L401.2 376.0 L394.2 381.6 L388.6 387.2 L385.8 394.2 L384.4 404.0 L383.7 410.0 L386.1 419.9 L384.9 434.9 L393.6 444.9 L394.9 454.8 L379.9 459.8 L354.9 469.8 L334.9 482.3 L322.4 494.8 L310.0 507.3 L300.0 514.8 L297.5 518.5 M359.8 74.9 L361.6 87.1 L363.3 96.7 L370.3 97.6 L377.2 93.2 L384.2 90.6 L386.0 81.9 L392.9 74.9 L398.2 69.7 M331.9 151.6 L337.1 152.5 L342.4 154.2 L347.6 155.1 L351.1 154.2 L350.2 162.1 L352.0 169.0 L354.6 176.0 L355.4 186.5 L353.7 193.4 L350.7 200.4 L352.8 214.4 L349.3 217.8 L345.9 216.4 L342.4 210.9 L338.9 203.9 L333.7 196.9 L328.4 189.1 L324.1 179.5 L322.3 170.8 L324.9 160.3 L331.9 151.6 M321.4 183.9 L328.4 191.7 L335.4 200.4 L342.4 209.1 L347.6 216.1 L352.8 218.7 L358.1 214.4 L361.6 217.8 L363.3 224.8 L366.8 228.3 L370.3 230.0 L368.5 237.0 L363.3 238.8 L358.1 237.0 L354.6 240.5 L349.3 247.5 L344.1 251.0 L338.9 247.5 L333.7 245.7 L328.4 249.2 L323.2 249.2 L318.0 244.0 L312.7 245.7 L307.5 249.2 L302.3 247.5 L297.0 249.2 L291.8 247.5 L286.6 244.0 L281.3 242.2 L278.7 237.0 L277.0 230.0 L276.1 223.1 L277.9 217.8 L283.1 212.6 L291.8 207.4 L300.5 202.2 L309.2 196.9 L316.2 190.0 L321.4 183.9 M363.3 146.4 L365.9 148.1 L368.5 155.1 L369.4 160.3 L367.7 160.0 L365.0 155.1 L363.3 146.4 M367.7 165.6 L369.4 167.3 L370.6 176.0 L371.1 186.5 L369.9 186.5 L368.2 177.8 L367.7 165.6 M372.0 193.4 L375.5 198.7 L380.7 210.9 L385.1 221.3 L387.7 231.8 L386.3 231.8 L382.5 221.3 L377.2 209.1 L372.9 200.4 L372.0 193.4 M338.9 116.7 L342.4 115.0 L345.9 118.5 L350.2 120.2 L349.3 127.2 L347.6 135.9 L344.1 134.2 L342.4 128.9 L337.1 128.1 L335.4 125.5 L338.9 123.7 L338.9 116.7 M284.7 198.9 L278.4 208.9 L266.0 218.8 L253.5 228.8 L243.6 243.7 L236.1 256.2 L226.2 264.9 L218.7 274.8 L212.5 288.5 L208.7 301.0 L203.7 310.9 L193.8 315.4 L182.6 317.1 L172.6 318.4 L162.7 323.4 L152.7 329.6 L146.5 337.0 L144.0 347.7 L149.0 339.5 L158.9 333.8 L173.9 330.8 L182.6 333.3 L188.8 338.3 L196.3 340.8 L206.2 338.3 L210.0 334.6 L211.2 343.3 L206.2 350.7 L218.7 353.2 L226.2 358.2 L233.6 370.6 L241.1 383.1 L246.1 393.0 L252.3 403.0 L261.0 398.0 L268.5 396.8 L272.2 403.0 L273.5 412.9 L269.7 420.4 L263.5 425.4 L266.0 432.8 L271.0 440.3 L280.9 446.5 L295.9 450.3 L305.8 455.2 L313.3 462.7 L320.8 467.7 L324.5 472.7 L320.8 480.1 L315.8 487.8 L313.3 497.5 L302.0 501.5 L300.1 511.7 L299.4 515.5 M100.4 359.4 L105.4 361.2 L109.2 365.7 L107.9 375.6 L105.4 385.6 L107.9 398.0 L110.4 410.5 L112.9 420.4 L109.2 422.9 L96.7 429.1 L84.3 436.6 L74.3 446.5 L70.6 452.8 L74.3 451.5 L86.7 445.3 L101.7 437.8 L116.6 432.8 L129.1 430.4 L141.5 435.3 L154.0 437.8 L163.9 439.1 L176.4 441.6 L186.3 444.0 L196.3 440.3 L208.7 440.3 L221.2 439.1 L223.7 445.3 L226.2 452.8 L231.1 462.7 L236.1 467.7 L243.6 470.2 L246.1 477.6 L248.6 487.8 L249.8 497.5 L241.0 496.4 L233.4 497.7 L230.8 509.1 L232.7 518.0 L233.4 521.8 M238.6 287.3 L246.1 286.0 L258.5 288.5 L266.0 289.8 L271.0 288.5 L280.9 292.3 L288.4 293.5 L290.9 298.5 L298.3 302.2 L293.4 303.5 L285.9 303.5 L283.4 313.4 L284.7 333.3 L282.2 334.6 L279.7 315.9 L275.9 305.9 L271.0 304.7 L268.5 303.5 L266.0 305.9 L263.5 304.7 L261.0 293.5 L258.5 304.7 L256.0 303.5 L253.5 293.5 L248.6 291.0 L241.1 291.0 L238.6 287.3 M218.7 323.4 L222.4 319.6 L226.2 314.6 L229.9 310.9 L231.1 315.9 L229.9 320.9 L226.2 325.8 L221.2 325.8 L218.7 323.4 M243.6 277.3 L246.1 275.6 L248.6 277.3 L247.3 279.8 L244.1 279.6 L243.6 277.3 M233.6 299.0 L236.1 298.0 L237.4 302.2 L235.6 304.7 L233.6 303.5 L233.6 299.0 M65.6 455.2 L68.1 453.5 L70.1 455.2 L68.1 457.2 L65.6 455.2 M369.0 280.1 L376.0 282.9 L383.0 287.8 L387.2 293.4 L390.0 300.4 L394.2 306.0 L398.4 311.6 L402.6 318.6 L408.2 324.2 L412.4 328.4 L415.2 332.6 L411.0 334.0 L406.8 333.3 L404.0 336.1 L398.4 337.5 L392.8 339.6 L385.8 342.4 L377.4 343.8 L369.0 345.2 L362.0 346.6 L353.6 344.5 L348.0 339.6 L342.4 334.0 L338.2 329.8 L334.0 324.2 L329.8 320.0 L326.3 315.8 L328.4 311.6 L334.0 307.4 L339.6 303.2 L345.2 297.6 L349.4 290.6 L353.6 286.4 L359.2 287.8 L363.4 283.6 L369.0 280.1 M329.8 320.0 L331.9 328.4 L331.2 336.8 L334.0 345.2 L339.6 352.2 L345.2 357.8 L349.4 360.6 L350.1 366.2 L348.0 369.0 L350.8 376.0 L352.9 383.0 L355.0 391.4 L356.4 398.4 L353.6 402.6 L350.8 401.2 L346.6 405.4 L342.6 410.0 L332.5 421.4 L319.8 434.1 L313.4 441.8 L300.7 445.6 L290.5 445.6 L288.0 439.2 L289.3 429.1 L291.8 421.4 L296.9 415.1 L300.7 410.0 L293.4 401.2 L291.3 395.6 L292.0 383.0 L293.4 369.0 L294.8 355.0 L296.2 341.0 L299.0 328.4 L303.2 320.0 L308.1 313.7 M313.0 308.8 L320.0 306.0 L327.0 303.2 L328.4 306.0 L322.8 308.8 L318.6 310.2 L313.0 308.8 M342.4 306.7 L345.2 305.3 L347.3 308.1 L346.6 310.9 L343.8 311.3 L342.1 308.8 L342.4 306.7 M209.2 510.4 L218.1 501.5 L227.0 499.6 L230.8 504.0 M296.9 422.7 L302.0 421.4 L302.6 429.1 L300.7 435.4 L298.2 435.4 L296.3 429.1 L296.9 422.7" fill="none" stroke="#000" stroke-width="1.8" stroke-linejoin="round"/>
<path d="M333.7 99.3m-1.3 0a1.3 1.3 0 1 0 2.6 0a1.3 1.3 0 1 0 -2.6 0 M334.5 110.6m-1.3 0a1.3 1.3 0 1 0 2.6 0a1.3 1.3 0 1 0 -2.6 0 M340.6 159.5m-1.3 0a1.3 1.3 0 1 0 2.6 0a1.3 1.3 0 1 0 -2.6 0 M359.8 217.8m-1.3 0a1.3 1.3 0 1 0 2.6 0a1.3 1.3 0 1 0 -2.6 0 M369.4 228.3m-1.3 0a1.3 1.3 0 1 0 2.6 0a1.3 1.3 0 1 0 -2.6 0 M383.3 243.1m-1.3 0a1.3 1.3 0 1 0 2.6 0a1.3 1.3 0 1 0 -2.6 0 M368.5 256.2m-1.3 0a1.3 1.3 0 1 0 2.6 0a1.3 1.3 0 1 0 -2.6 0 M283.1 251.8m-1.3 0a1.3 1.3 0 1 0 2.6 0a1.3 1.3 0 1 0 -2.6 0 M327.5 237.9m-1.3 0a1.3 1.3 0 1 0 2.6 0a1.3 1.3 0 1 0 -2.6 0 M256.0 324.6m-1.3 0a1.3 1.3 0 1 0 2.6 0a1.3 1.3 0 1 0 -2.6 0 M278.4 339.5m-1.3 0a1.3 1.3 0 1 0 2.6 0a1.3 1.3 0 1 0 -2.6 0 M217.4 338.3m-1.3 0a1.3 1.3 0 1 0 2.6 0a1.3 1.3 0 1 0 -2.6 0 M268.5 266.1m-1.3 0a1.3 1.3 0 1 0 2.6 0a1.3 1.3 0 1 0 -2.6 0 M323.2 269.9m-1.3 0a1.3 1.3 0 1 0 2.6 0a1.3 1.3 0 1 0 -2.6 0 M351.9 269.1m-1.3 0a1.3 1.3 0 1 0 2.6 0a1.3 1.3 0 1 0 -2.6 0 M328.2 238.3m-1.3 0a1.3 1.3 0 1 0 2.6 0a1.3 1.3 0 1 0 -2.6 0 M369.0 257.0m-1.3 0a1.3 1.3 0 1 0 2.6 0a1.3 1.3 0 1 0 -2.6 0 M361.7 263.3m-1.3 0a1.3 1.3 0 1 0 2.6 0a1.3 1.3 0 1 0 -2.6 0 M322.8 270.3m-1.3 0a1.3 1.3 0 1 0 2.6 0a1.3 1.3 0 1 0 -2.6 0 M326.3 265.1m-1.3 0a1.3 1.3 0 1 0 2.6 0a1.3 1.3 0 1 0 -2.6 0 M351.5 269.6m-1.3 0a1.3 1.3 0 1 0 2.6 0a1.3 1.3 0 1 0 -2.6 0 M336.8 292.0m-1.3 0a1.3 1.3 0 1 0 2.6 0a1.3 1.3 0 1 0 -2.6 0 M294.8 291.3m-1.3 0a1.3 1.3 0 1 0 2.6 0a1.3 1.3 0 1 0 -2.6 0 M313.0 330.5m-1.3 0a1.3 1.3 0 1 0 2.6 0a1.3 1.3 0 1 0 -2.6 0 M318.6 336.1m-1.3 0a1.3 1.3 0 1 0 2.6 0a1.3 1.3 0 1 0 -2.6 0 M337.5 314.4m-1.3 0a1.3 1.3 0 1 0 2.6 0a1.3 1.3 0 1 0 -2.6 0 M332.6 352.9m-1.3 0a1.3 1.3 0 1 0 2.6 0a1.3 1.3 0 1 0 -2.6 0 M320.7 374.6m-1.3 0a1.3 1.3 0 1 0 2.6 0a1.3 1.3 0 1 0 -2.6 0 M304.6 396.3m-1.3 0a1.3 1.3 0 1 0 2.6 0a1.3 1.3 0 1 0 -2.6 0 M313.7 407.5m-1.3 0a1.3 1.3 0 1 0 2.6 0a1.3 1.3 0 1 0 -2.6 0" fill="#000"/>
<path d="M46.9 462.5 L52.3 465.1 L57.7 467.7 L63.1 470.1 L68.5 472.6 L74.0 475.0 L79.5 477.3 L85.0 479.6 L90.6 481.8 L96.1 484.0 L101.7 486.1 L107.3 488.2 L112.9 490.2 L118.6 492.2 L124.2 494.1 L129.9 496.0 L135.6 497.8 L141.3 499.5 L147.0 501.2 L152.8 502.9 L158.5 504.5 L164.3 506.0 L170.1 507.5 L175.9 508.9 L181.7 510.3 L187.5 511.6 L193.4 512.9 L199.2 514.1 L205.1 515.2 L211.0 516.3 L216.8 517.4 L222.7 518.4 L228.6 519.3 L234.5 520.2 L240.5 521.0 L246.4 521.7 L252.3 522.4 L258.3 523.1 L264.2 523.7 L270.2 524.2 L276.1 524.7 L282.1 525.1 L288.0 525.5 L294.0 525.8 L300.0 526.0 L305.9 526.2 L311.9 526.4 L317.9 526.5 L323.9 526.5 L329.8 526.5 L335.8 526.4 L341.8 526.2 L347.7 526.0 L353.7 525.8 L359.7 525.5 L365.6 525.1 L371.6 524.7 L377.5 524.2 L383.5 523.7 L389.4 523.1 L395.4 522.4 L401.3 521.7 L407.2 521.0 L413.2 520.2 L419.1 519.3 L425.0 518.4 L430.9 517.4 L436.7 516.3 L442.6 515.2 L448.5 514.1 L454.3 512.9 L460.2 511.6 L466.0 510.3 L471.8 508.9 L477.6 507.5 L483.4 506.0 L489.2 504.5 L494.9 502.9 L500.7 501.2 L506.4 499.5 L512.1 497.8 L517.8 496.0 L523.5 494.1 L529.1 492.2 L534.8 490.2 L540.4 488.2 L546.0 486.1 L551.6 484.0 L557.1 481.8 L562.7 479.6 L568.2 477.3 L573.7 475.0 L579.2 472.6 L584.6 470.1 L590.0 467.7 L595.4 465.1 L600.8 462.5 M92.3 369.4 L97.7 372.0 L103.2 374.5 L108.6 377.0 L114.1 379.4 L119.6 381.7 L125.1 384.0 L130.7 386.3 L136.3 388.4 L141.9 390.5 L147.5 392.5 L153.2 394.5 L158.9 396.4 L164.6 398.3 L170.3 400.0 L176.1 401.7 L181.8 403.4 L187.6 405.0 L193.4 406.5 L199.2 407.9 L205.0 409.3 L210.9 410.6 L216.7 411.9 L222.6 413.1 L228.5 414.2 L234.4 415.2 L240.3 416.2 L246.2 417.1 L252.2 418.0 L258.1 418.8 L264.1 419.5 L270.0 420.1 L276.0 420.7 L282.0 421.2 L287.9 421.6 L293.9 422.0 L299.9 422.3 L305.9 422.6 L311.9 422.7 L317.9 422.8 L323.8 422.9 L329.8 422.8 L335.8 422.7 L341.8 422.6 L347.8 422.3 L353.8 422.0 L359.8 421.6 L365.7 421.2 L371.7 420.7 L377.7 420.1 L383.6 419.5 L389.6 418.8 L395.5 418.0 L401.5 417.1 L407.4 416.2 L413.3 415.2 L419.2 414.2 L425.1 413.1 L431.0 411.9 L436.8 410.6 L442.7 409.3 L448.5 407.9 L454.3 406.5 L460.1 405.0 L465.9 403.4 L471.6 401.7 L477.4 400.0 L483.1 398.3 L488.8 396.4 L494.5 394.5 L500.2 392.5 L505.8 390.5 L511.4 388.4 L517.0 386.3 L522.6 384.0 L528.1 381.7 L533.6 379.4 L539.1 377.0 L544.5 374.5 L550.0 372.0 L555.4 369.4 M137.4 277.0 L142.8 279.6 L148.2 282.1 L153.6 284.5 L159.0 286.8 L164.5 289.1 L170.1 291.3 L175.6 293.4 L181.2 295.4 L186.8 297.4 L192.4 299.2 L198.1 301.0 L203.8 302.7 L209.5 304.4 L215.2 305.9 L221.0 307.4 L226.7 308.8 L232.5 310.1 L238.3 311.4 L244.2 312.5 L250.0 313.6 L255.9 314.6 L261.7 315.5 L267.6 316.3 L273.5 317.1 L279.4 317.7 L285.3 318.3 L291.2 318.8 L297.1 319.2 L303.1 319.6 L309.0 319.8 L314.9 320.0 L320.9 320.1 L326.8 320.1 L332.8 320.0 L338.7 319.8 L344.6 319.6 L350.6 319.2 L356.5 318.8 L362.4 318.3 L368.3 317.7 L374.2 317.1 L380.1 316.3 L386.0 315.5 L391.8 314.6 L397.7 313.6 L403.5 312.5 L409.4 311.4 L415.2 310.1 L421.0 308.8 L426.7 307.4 L432.5 305.9 L438.2 304.4 L443.9 302.7 L449.6 301.0 L455.3 299.2 L460.9 297.4 L466.5 295.4 L472.1 293.4 L477.6 291.3 L483.2 289.1 L488.7 286.8 L494.1 284.5 L499.5 282.1 L504.9 279.6 L510.3 277.0 M182.4 184.7 L187.8 187.3 L193.3 189.8 L198.8 192.2 L204.3 194.4 L209.9 196.6 L215.5 198.6 L221.1 200.6 L226.8 202.5 L232.5 204.2 L238.2 205.8 L244.0 207.4 L249.8 208.8 L255.7 210.1 L261.5 211.3 L267.4 212.4 L273.3 213.4 L279.2 214.3 L285.1 215.1 L291.0 215.7 L297.0 216.3 L303.0 216.7 L308.9 217.1 L314.9 217.3 L320.9 217.4 L326.8 217.4 L332.8 217.3 L338.8 217.1 L344.7 216.7 L350.7 216.3 L356.7 215.7 L362.6 215.1 L368.5 214.3 L374.4 213.4 L380.3 212.4 L386.2 211.3 L392.0 210.1 L397.9 208.8 L403.7 207.4 L409.5 205.8 L415.2 204.2 L420.9 202.5 L426.6 200.6 L432.2 198.6 L437.8 196.6 L443.4 194.4 L448.9 192.2 L454.4 189.8 L459.9 187.3 L465.3 184.7 M227.8 91.8 L233.1 94.3 L238.4 96.7 L243.8 98.9 L249.3 101.0 L254.8 102.9 L260.4 104.7 L266.0 106.3 L271.7 107.7 L277.4 109.1 L283.1 110.2 L288.9 111.2 L294.7 112.1 L300.5 112.8 L306.3 113.3 L312.2 113.7 L318.0 114.0 L323.9 114.0 L329.7 114.0 L335.5 113.7 L341.4 113.3 L347.2 112.8 L353.0 112.1 L358.8 111.2 L364.6 110.2 L370.3 109.1 L376.0 107.7 L381.7 106.3 L387.3 104.7 L392.9 102.9 L398.4 101.0 L403.9 98.9 L409.3 96.7 L414.6 94.3 L419.9 91.8 M246.1 54.2 L46.9 462.5 M273.4 64.9 L143.9 500.3 M302.0 70.8 L245.9 521.7 M331.2 72.1 L349.9 526.0 M360.2 68.4 L453.3 513.1 M388.2 60.1 L553.1 483.4" fill="none" stroke="#808080" stroke-opacity="0.3" stroke-width="0.5"/>
</g>
<path d="M401.6 54.2 L396.2 56.8 L390.7 59.1 L385.1 61.3 L379.5 63.2 L373.8 65.0 L368.1 66.6 L362.3 68.0 L356.4 69.2 L350.6 70.2 L344.7 71.0 L338.7 71.6 L332.8 72.0 L326.8 72.2 L320.9 72.2 L314.9 72.0 L309.0 71.6 L303.0 71.0 L297.1 70.2 L291.3 69.2 L285.4 68.0 L279.6 66.6 L273.9 65.0 L268.2 63.2 L262.6 61.3 L257.0 59.1 L251.5 56.8 L246.1 54.2 L46.9 462.5 L46.9 462.5 L52.3 465.1 L57.7 467.7 L63.1 470.1 L68.5 472.6 L74.0 475.0 L79.5 477.3 L85.0 479.6 L90.6 481.8 L96.1 484.0 L101.7 486.1 L107.3 488.2 L112.9 490.2 L118.6 492.2 L124.2 494.1 L129.9 496.0 L135.6 497.8 L141.3 499.5 L147.0 501.2 L152.8 502.9 L158.5 504.5 L164.3 506.0 L170.1 507.5 L175.9 508.9 L181.7 510.3 L187.5 511.6 L193.4 512.9 L199.2 514.1 L205.1 515.2 L211.0 516.3 L216.8 517.4 L222.7 518.4 L228.6 519.3 L234.5 520.2 L240.5 521.0 L246.4 521.7 L252.3 522.4 L258.3 523.1 L264.2 523.7 L270.2 524.2 L276.1 524.7 L282.1 525.1 L288.0 525.5 L294.0 525.8 L300.0 526.0 L305.9 526.2 L311.9 526.4 L317.9 526.5 L323.9 526.5 L329.8 526.5 L335.8 526.4 L341.8 526.2 L347.7 526.0 L353.7 525.8 L359.7 525.5 L365.6 525.1 L371.6 524.7 L377.5 524.2 L383.5 523.7 L389.4 523.1 L395.4 522.4 L401.3 521.7 L407.2 521.0 L413.2 520.2 L419.1 519.3 L425.0 518.4 L430.9 517.4 L436.7 516.3 L442.6 515.2 L448.5 514.1 L454.3 512.9 L460.2 511.6 L466.0 510.3 L471.8 508.9 L477.6 507.5 L483.4 506.0 L489.2 504.5 L494.9 502.9 L500.7 501.2 L506.4 499.5 L512.1 497.8 L517.8 496.0 L523.5 494.1 L529.1 492.2 L534.8 490.2 L540.4 488.2 L546.0 486.1 L551.6 484.0 L557.1 481.8 L562.7 479.6 L568.2 477.3 L573.7 475.0 L579.2 472.6 L584.6 470.1 L590.0 467.7 L595.4 465.1 L600.8 462.5 Z M398.8 62.2 L393.3 64.5 L387.8 66.7 L382.2 68.7 L376.5 70.5 L370.8 72.1 L365.1 73.5 L359.2 74.7 L353.4 75.8 L347.5 76.7 L341.6 77.3 L335.7 77.8 L329.8 78.1 L323.9 78.2 L317.9 78.1 L312.0 77.8 L306.1 77.3 L300.2 76.7 L294.3 75.8 L288.5 74.7 L282.6 73.5 L276.9 72.1 L271.2 70.5 L265.5 68.7 L259.9 66.7 L254.4 64.5 L248.9 62.2 L54.9 459.7 L60.3 462.3 L65.8 464.8 L71.2 467.2 L76.7 469.6 L82.2 471.9 L87.7 474.2 L93.3 476.4 L98.8 478.6 L104.4 480.7 L110.0 482.8 L115.7 484.8 L121.3 486.8 L127.0 488.7 L132.7 490.6 L138.4 492.4 L144.1 494.1 L149.8 495.8 L155.6 497.4 L161.3 499.0 L167.1 500.5 L172.9 502.0 L178.7 503.4 L184.5 504.8 L190.4 506.1 L196.2 507.3 L202.1 508.5 L207.9 509.7 L213.8 510.7 L219.7 511.8 L225.6 512.7 L231.5 513.6 L237.4 514.5 L243.4 515.3 L249.3 516.0 L255.2 516.7 L261.2 517.4 L267.1 517.9 L273.1 518.4 L279.0 518.9 L285.0 519.3 L291.0 519.6 L297.0 519.9 L302.9 520.1 L308.9 520.3 L314.9 520.4 L320.9 520.5 L326.8 520.5 L332.8 520.4 L338.8 520.3 L344.8 520.1 L350.7 519.9 L356.7 519.6 L362.7 519.3 L368.7 518.9 L374.6 518.4 L380.6 517.9 L386.5 517.4 L392.5 516.7 L398.4 516.0 L404.3 515.3 L410.3 514.5 L416.2 513.6 L422.1 512.7 L428.0 511.8 L433.9 510.7 L439.8 509.7 L445.6 508.5 L451.5 507.3 L457.3 506.1 L463.2 504.8 L469.0 503.4 L474.8 502.0 L480.6 500.5 L486.4 499.0 L492.1 497.4 L497.9 495.8 L503.6 494.1 L509.3 492.4 L515.0 490.6 L520.7 488.7 L526.4 486.8 L532.0 484.8 L537.7 482.8 L543.3 480.7 L548.9 478.6 L554.4 476.4 L560.0 474.2 L565.5 471.9 L571.0 469.6 L576.5 467.2 L581.9 464.8 L587.4 462.3 L592.8 459.7 Z" fill="#fff" fill-rule="evenodd"/>
<path d="M49.5 457.1 L54.7 459.6 L59.9 462.1 L65.1 464.5 L70.3 466.8 L75.6 469.1 L80.8 471.4 L86.1 473.6 L91.5 475.7 L96.8 477.8 L94.6 483.4 L89.2 481.3 L83.9 479.1 L78.5 476.9 L73.2 474.6 L67.9 472.3 L62.6 469.9 L57.3 467.5 L52.1 465.0 L46.9 462.5 Z M259.5 60.1 L264.1 61.8 L268.7 63.4 L273.4 64.9 L271.6 70.6 L266.8 69.1 L262.1 67.5 L257.3 65.7 Z M145.6 494.6 L151.1 496.2 L156.7 497.7 L162.2 499.2 L167.7 500.7 L173.3 502.1 L178.9 503.5 L184.5 504.8 L190.1 506.0 L195.7 507.2 L194.4 513.1 L188.8 511.9 L183.1 510.6 L177.5 509.3 L171.9 507.9 L166.2 506.5 L160.6 505.0 L155.0 503.5 L149.5 501.9 L143.9 500.3 Z M287.5 68.4 L292.3 69.4 L297.1 70.2 L302.0 70.8 L301.2 76.8 L296.2 76.1 L291.3 75.3 L286.3 74.3 Z M246.6 515.7 L252.3 516.4 L258.0 517.0 L263.7 517.6 L269.4 518.1 L275.1 518.6 L280.9 519.0 L286.6 519.4 L292.3 519.7 L298.0 520.0 L297.8 526.0 L292.0 525.7 L286.2 525.4 L280.4 525.0 L274.7 524.6 L268.9 524.1 L263.1 523.6 L257.4 523.0 L251.6 522.4 L245.9 521.7 Z M316.5 72.1 L321.4 72.2 L326.3 72.2 L331.2 72.1 L331.4 78.0 L326.4 78.2 L321.3 78.2 L316.3 78.0 Z M349.7 520.0 L355.4 519.7 L361.1 519.4 L366.8 519.0 L372.6 518.6 L378.3 518.1 L384.0 517.6 L389.7 517.0 L395.4 516.4 L401.1 515.7 L401.8 521.7 L396.1 522.4 L390.3 523.0 L384.6 523.6 L378.8 524.1 L373.0 524.6 L367.3 525.0 L361.5 525.4 L355.7 525.7 L349.9 526.0 Z M345.7 70.8 L350.6 70.2 L355.4 69.4 L360.2 68.4 L361.4 74.3 L356.4 75.3 L351.5 76.1 L346.5 76.8 Z M452.0 507.2 L457.6 506.0 L463.2 504.8 L468.8 503.5 L474.4 502.1 L480.0 500.7 L485.5 499.2 L491.0 497.7 L496.6 496.2 L502.1 494.6 L503.8 500.3 L498.2 501.9 L492.7 503.5 L487.1 505.0 L481.5 506.5 L475.8 507.9 L470.2 509.3 L464.6 510.6 L458.9 511.9 L453.3 513.1 Z M374.3 64.9 L379.0 63.4 L383.6 61.8 L388.2 60.1 L390.4 65.7 L385.6 67.5 L380.9 69.1 L376.1 70.6 Z M550.9 477.8 L555.7 475.9 L560.5 474.0 L565.3 472.0 L570.0 470.0 L574.8 468.0 L577.2 473.5 L572.4 475.5 L567.6 477.6 L562.8 479.6 L557.9 481.5 L553.1 483.4 Z M394.9 57.3 L398.3 55.8 L401.6 54.2 L404.2 59.6 L400.8 61.3 L397.3 62.8 Z M46.9 462.5 L69.7 415.8 L75.1 418.4 L52.3 465.1 Z M572.6 418.4 L550.0 372.0 L555.4 369.4 L578.0 415.8 Z M92.3 369.4 L114.9 323.1 L120.3 325.7 L97.7 372.0 Z M527.4 325.7 L504.9 279.6 L510.3 277.0 L532.8 323.1 Z M137.4 277.0 L159.9 230.9 L165.3 233.5 L142.8 279.6 Z M482.4 233.5 L459.8 187.3 L465.3 184.7 L487.8 230.9 Z M182.4 184.7 L205.0 138.4 L210.5 141.0 L187.9 187.3 Z M437.2 141.0 L414.5 94.4 L419.9 91.8 L442.7 138.4 Z M227.8 91.8 L236.9 73.1 L242.4 75.6 L233.2 94.4 Z M405.3 75.6 L396.1 56.8 L401.6 54.2 L410.8 73.1 Z" fill="#000"/>
<path d="M401.6 54.2 L396.2 56.8 L390.7 59.1 L385.1 61.3 L379.5 63.2 L373.8 65.0 L368.1 66.6 L362.3 68.0 L356.4 69.2 L350.6 70.2 L344.7 71.0 L338.7 71.6 L332.8 72.0 L326.8 72.2 L320.9 72.2 L314.9 72.0 L309.0 71.6 L303.0 71.0 L297.1 70.2 L291.3 69.2 L285.4 68.0 L279.6 66.6 L273.9 65.0 L268.2 63.2 L262.6 61.3 L257.0 59.1 L251.5 56.8 L246.1 54.2 L46.9 462.5 L46.9 462.5 L52.3 465.1 L57.7 467.7 L63.1 470.1 L68.5 472.6 L74.0 475.0 L79.5 477.3 L85.0 479.6 L90.6 481.8 L96.1 484.0 L101.7 486.1 L107.3 488.2 L112.9 490.2 L118.6 492.2 L124.2 494.1 L129.9 496.0 L135.6 497.8 L141.3 499.5 L147.0 501.2 L152.8 502.9 L158.5 504.5 L164.3 506.0 L170.1 507.5 L175.9 508.9 L181.7 510.3 L187.5 511.6 L193.4 512.9 L199.2 514.1 L205.1 515.2 L211.0 516.3 L216.8 517.4 L222.7 518.4 L228.6 519.3 L234.5 520.2 L240.5 521.0 L246.4 521.7 L252.3 522.4 L258.3 523.1 L264.2 523.7 L270.2 524.2 L276.1 524.7 L282.1 525.1 L288.0 525.5 L294.0 525.8 L300.0 526.0 L305.9 526.2 L311.9 526.4 L317.9 526.5 L323.9 526.5 L329.8 526.5 L335.8 526.4 L341.8 526.2 L347.7 526.0 L353.7 525.8 L359.7 525.5 L365.6 525.1 L371.6 524.7 L377.5 524.2 L383.5 523.7 L389.4 523.1 L395.4 522.4 L401.3 521.7 L407.2 521.0 L413.2 520.2 L419.1 519.3 L425.0 518.4 L430.9 517.4 L436.7 516.3 L442.6 515.2 L448.5 514.1 L454.3 512.9 L460.2 511.6 L466.0 510.3 L471.8 508.9 L477.6 507.5 L483.4 506.0 L489.2 504.5 L494.9 502.9 L500.7 501.2 L506.4 499.5 L512.1 497.8 L517.8 496.0 L523.5 494.1 L529.1 492.2 L534.8 490.2 L540.4 488.2 L546.0 486.1 L551.6 484.0 L557.1 481.8 L562.7 479.6 L568.2 477.3 L573.7 475.0 L579.2 472.6 L584.6 470.1 L590.0 467.7 L595.4 465.1 L600.8 462.5 Z" fill="none" stroke="#000" stroke-width="1.1" stroke-linejoin="miter"/>
<path d="M398.8 62.2 L393.3 64.5 L387.8 66.7 L382.2 68.7 L376.5 70.5 L370.8 72.1 L365.1 73.5 L359.2 74.7 L353.4 75.8 L347.5 76.7 L341.6 77.3 L335.7 77.8 L329.8 78.1 L323.9 78.2 L317.9 78.1 L312.0 77.8 L306.1 77.3 L300.2 76.7 L294.3 75.8 L288.5 74.7 L282.6 73.5 L276.9 72.1 L271.2 70.5 L265.5 68.7 L259.9 66.7 L254.4 64.5 L248.9 62.2 L54.9 459.7 L60.3 462.3 L65.8 464.8 L71.2 467.2 L76.7 469.6 L82.2 471.9 L87.7 474.2 L93.3 476.4 L98.8 478.6 L104.4 480.7 L110.0 482.8 L115.7 484.8 L121.3 486.8 L127.0 488.7 L132.7 490.6 L138.4 492.4 L144.1 494.1 L149.8 495.8 L155.6 497.4 L161.3 499.0 L167.1 500.5 L172.9 502.0 L178.7 503.4 L184.5 504.8 L190.4 506.1 L196.2 507.3 L202.1 508.5 L207.9 509.7 L213.8 510.7 L219.7 511.8 L225.6 512.7 L231.5 513.6 L237.4 514.5 L243.4 515.3 L249.3 516.0 L255.2 516.7 L261.2 517.4 L267.1 517.9 L273.1 518.4 L279.0 518.9 L285.0 519.3 L291.0 519.6 L297.0 519.9 L302.9 520.1 L308.9 520.3 L314.9 520.4 L320.9 520.5 L326.8 520.5 L332.8 520.4 L338.8 520.3 L344.8 520.1 L350.7 519.9 L356.7 519.6 L362.7 519.3 L368.7 518.9 L374.6 518.4 L380.6 517.9 L386.5 517.4 L392.5 516.7 L398.4 516.0 L404.3 515.3 L410.3 514.5 L416.2 513.6 L422.1 512.7 L428.0 511.8 L433.9 510.7 L439.8 509.7 L445.6 508.5 L451.5 507.3 L457.3 506.1 L463.2 504.8 L469.0 503.4 L474.8 502.0 L480.6 500.5 L486.4 499.0 L492.1 497.4 L497.9 495.8 L503.6 494.1 L509.3 492.4 L515.0 490.6 L520.7 488.7 L526.4 486.8 L532.0 484.8 L537.7 482.8 L543.3 480.7 L548.9 478.6 L554.4 476.4 L560.0 474.2 L565.5 471.9 L571.0 469.6 L576.5 467.2 L581.9 464.8 L587.4 462.3 L592.8 459.7 Z" fill="none" stroke="#000" stroke-width="0.9"/>
<text x="44.2" y="461.2" text-anchor="end" font-size="17.8" transform="rotate(26.01 44.2 461.2)" dy="0.35em">60°N</text>
<text x="89.6" y="368.1" text-anchor="end" font-size="17.8" transform="rotate(26.01 89.6 368.1)" dy="0.35em">65°N</text>
<text x="134.7" y="275.7" text-anchor="end" font-size="17.8" transform="rotate(26.01 134.7 275.7)" dy="0.35em">70°N</text>
<text x="179.7" y="183.4" text-anchor="end" font-size="17.8" transform="rotate(26.01 179.7 183.4)" dy="0.35em">75°N</text>
<text x="225.1" y="90.5" text-anchor="end" font-size="17.8" transform="rotate(26.01 225.1 90.5)" dy="0.35em">80°N</text>
<text x="39.1" y="478.5" text-anchor="middle" font-size="17.8" transform="rotate(26.01 39.1 478.5)">30°W</text>
<text x="138.8" y="517.4" text-anchor="middle" font-size="17.8" transform="rotate(16.55 138.8 517.4)">20°W</text>
<text x="243.7" y="539.3" text-anchor="middle" font-size="17.8" transform="rotate(7.10 243.7 539.3)">10°W</text>
<text x="350.6" y="543.8" text-anchor="middle" font-size="17.8" transform="rotate(-2.36 350.6 543.8)">0°</text>
<text x="456.9" y="530.5" text-anchor="middle" font-size="17.8" transform="rotate(-11.82 456.9 530.5)">10°E</text>
<text x="559.6" y="500.0" text-anchor="middle" font-size="17.8" transform="rotate(-21.29 559.6 500.0)">20°E</text>
</g>
<g transform="matrix(0.989 0 0 0.9885 -3.588 603.430)">
<defs><clipPath id="clipC"><path d="M401.6 54.2 L396.2 56.8 L390.7 59.1 L385.1 61.3 L379.5 63.2 L373.8 65.0 L368.1 66.6 L362.3 68.0 L356.4 69.2 L350.6 70.2 L344.7 71.0 L338.7 71.6 L332.8 72.0 L326.8 72.2 L320.9 72.2 L314.9 72.0 L309.0 71.6 L303.0 71.0 L297.1 70.2 L291.3 69.2 L285.4 68.0 L279.6 66.6 L273.9 65.0 L268.2 63.2 L262.6 61.3 L257.0 59.1 L251.5 56.8 L246.1 54.2 L46.9 462.5 L46.9 462.5 L52.3 465.1 L57.7 467.7 L63.1 470.1 L68.5 472.6 L74.0 475.0 L79.5 477.3 L85.0 479.6 L90.6 481.8 L96.1 484.0 L101.7 486.1 L107.3 488.2 L112.9 490.2 L118.6 492.2 L124.2 494.1 L129.9 496.0 L135.6 497.8 L141.3 499.5 L147.0 501.2 L152.8 502.9 L158.5 504.5 L164.3 506.0 L170.1 507.5 L175.9 508.9 L181.7 510.3 L187.5 511.6 L193.4 512.9 L199.2 514.1 L205.1 515.2 L211.0 516.3 L216.8 517.4 L222.7 518.4 L228.6 519.3 L234.5 520.2 L240.5 521.0 L246.4 521.7 L252.3 522.4 L258.3 523.1 L264.2 523.7 L270.2 524.2 L276.1 524.7 L282.1 525.1 L288.0 525.5 L294.0 525.8 L300.0 526.0 L305.9 526.2 L311.9 526.4 L317.9 526.5 L323.9 526.5 L329.8 526.5 L335.8 526.4 L341.8 526.2 L347.7 526.0 L353.7 525.8 L359.7 525.5 L365.6 525.1 L371.6 524.7 L377.5 524.2 L383.5 523.7 L389.4 523.1 L395.4 522.4 L401.3 521.7 L407.2 521.0 L413.2 520.2 L419.1 519.3 L425.0 518.4 L430.9 517.4 L436.7 516.3 L442.6 515.2 L448.5 514.1 L454.3 512.9 L460.2 511.6 L466.0 510.3 L471.8 508.9 L477.6 507.5 L483.4 506.0 L489.2 504.5 L494.9 502.9 L500.7 501.2 L506.4 499.5 L512.1 497.8 L517.8 496.0 L523.5 494.1 L529.1 492.2 L534.8 490.2 L540.4 488.2 L546.0 486.1 L551.6 484.0 L557.1 481.8 L562.7 479.6 L568.2 477.3 L573.7 475.0 L579.2 472.6 L584.6 470.1 L590.0 467.7 L595.4 465.1 L600.8 462.5 Z"/></clipPath></defs>
<g clip-path="url(#clipC)">
<path d="M119.4 313.9 L126.3 317.2 L135.1 298.6 L128.4 295.4 Z M126.3 317.2 L133.3 320.4 L141.7 301.7 L135.1 298.6 Z M265.1 440.3 L274.1 441.2 L276.0 420.7 L267.3 419.8 Z M266.6 523.9 L277.0 524.8 L278.5 504.0 L268.5 503.2 Z M284.7 421.4 L293.4 422.0 L294.6 401.4 L286.2 400.9 Z M292.2 442.6 L301.2 443.0 L302.1 422.4 L293.4 422.0 Z M298.1 339.8 L305.5 340.2 L306.3 319.7 L299.3 319.4 Z M308.2 526.3 L318.6 526.5 L318.8 505.7 L308.7 505.5 Z M327.2 299.5 L333.9 299.4 L333.4 278.9 L327.0 279.0 Z M352.0 380.9 L360.0 380.3 L358.5 359.8 L350.8 360.3 Z M360.0 380.3 L368.0 379.7 L366.1 359.2 L358.5 359.8 Z M352.4 278.0 L358.7 277.4 L356.8 257.0 L350.8 257.5 Z M374.7 254.9 L380.6 254.0 L377.4 233.8 L371.8 234.6 Z M394.1 230.7 L399.7 229.5 L395.1 209.4 L389.9 210.6 Z M439.1 282.8 L445.5 280.8 L439.3 261.3 L433.3 263.1 Z M414.6 182.9 L419.4 181.3 L412.8 161.8 L408.4 163.2 Z" fill="#03f1ee" stroke="#03f1ee" stroke-width="0.6"/>
<path d="M128.4 295.4 L135.1 298.6 L143.7 280.0 L137.4 277.0 Z M137.4 277.0 L143.7 280.0 L152.4 261.4 L146.4 258.6 Z M146.4 258.6 L152.4 261.4 L161.1 242.9 L155.4 240.1 Z M155.4 240.1 L161.1 242.9 L169.8 224.3 L164.4 221.7 Z M164.4 221.7 L169.8 224.3 L178.5 205.7 L173.4 203.2 Z M173.4 203.2 L178.5 205.7 L187.2 187.0 L182.4 184.7 Z M182.4 184.7 L187.2 187.0 L196.0 168.4 L191.5 166.2 Z M191.5 166.2 L196.0 168.4 L204.7 149.7 L200.5 147.7 Z M200.5 147.7 L204.7 149.7 L213.5 131.0 L209.6 129.1 Z M135.1 298.6 L141.7 301.7 L150.1 282.9 L143.7 280.0 Z M143.7 280.0 L150.1 282.9 L158.5 264.2 L152.4 261.4 Z M152.4 261.4 L158.5 264.2 L166.9 245.5 L161.1 242.9 Z M161.1 242.9 L166.9 245.5 L175.3 226.8 L169.8 224.3 Z M169.8 224.3 L175.3 226.8 L183.7 208.0 L178.5 205.7 Z M178.5 205.7 L183.7 208.0 L192.1 189.3 L187.2 187.0 Z M187.2 187.0 L192.1 189.3 L200.5 170.5 L196.0 168.4 Z M196.0 168.4 L200.5 170.5 L208.9 151.7 L204.7 149.7 Z M204.7 149.7 L208.9 151.7 L217.4 132.8 L213.5 131.0 Z M150.1 282.9 L156.6 285.8 L164.6 266.9 L158.5 264.2 Z M158.5 264.2 L164.6 266.9 L172.7 248.0 L166.9 245.5 Z M166.9 245.5 L172.7 248.0 L180.8 229.2 L175.3 226.8 Z M175.3 226.8 L180.8 229.2 L188.9 210.3 L183.7 208.0 Z M183.7 208.0 L188.9 210.3 L197.0 191.4 L192.1 189.3 Z M192.1 189.3 L197.0 191.4 L205.1 172.5 L200.5 170.5 Z M200.5 170.5 L205.1 172.5 L213.2 153.5 L208.9 151.7 Z M208.9 151.7 L213.2 153.5 L221.3 134.5 L217.4 132.8 Z M164.6 266.9 L170.8 269.5 L178.6 250.5 L172.7 248.0 Z M172.7 248.0 L178.6 250.5 L186.3 231.5 L180.8 229.2 Z M180.8 229.2 L186.3 231.5 L194.1 212.5 L188.9 210.3 Z M188.9 210.3 L194.1 212.5 L201.9 193.4 L197.0 191.4 Z M197.0 191.4 L201.9 193.4 L209.7 174.4 L205.1 172.5 Z M205.1 172.5 L209.7 174.4 L217.5 155.3 L213.2 153.5 Z M213.2 153.5 L217.5 155.3 L225.3 136.2 L221.3 134.5 Z M178.6 250.5 L184.4 252.8 L191.9 233.7 L186.3 231.5 Z M186.3 231.5 L191.9 233.7 L199.3 214.6 L194.1 212.5 Z M194.1 212.5 L199.3 214.6 L206.8 195.4 L201.9 193.4 Z M201.9 193.4 L206.8 195.4 L214.3 176.2 L209.7 174.4 Z M209.7 174.4 L214.3 176.2 L221.8 157.0 L217.5 155.3 Z M217.5 155.3 L221.8 157.0 L229.3 137.8 L225.3 136.2 Z M154.6 329.3 L161.8 332.1 L169.0 312.8 L162.1 310.2 Z M162.1 310.2 L169.0 312.8 L176.1 293.6 L169.5 291.1 Z M169.5 291.1 L176.1 293.6 L183.2 274.3 L177.0 271.9 Z M177.0 271.9 L183.2 274.3 L190.4 255.1 L184.4 252.8 Z M191.9 233.7 L197.5 235.8 L204.6 216.6 L199.3 214.6 Z M199.3 214.6 L204.6 216.6 L211.8 197.3 L206.8 195.4 Z M206.8 195.4 L211.8 197.3 L218.9 178.0 L214.3 176.2 Z M214.3 176.2 L218.9 178.0 L226.1 158.7 L221.8 157.0 Z M221.8 157.0 L226.1 158.7 L233.3 139.3 L229.3 137.8 Z M154.7 351.3 L162.3 354.1 L169.1 334.7 L161.8 332.1 Z M161.8 332.1 L169.1 334.7 L175.9 315.3 L169.0 312.8 Z M169.0 312.8 L175.9 315.3 L182.7 295.9 L176.1 293.6 Z M176.1 293.6 L182.7 295.9 L189.5 276.6 L183.2 274.3 Z M183.2 274.3 L189.5 276.6 L196.3 257.2 L190.4 255.1 Z M190.4 255.1 L196.3 257.2 L203.1 237.9 L197.5 235.8 Z M197.5 235.8 L203.1 237.9 L210.0 218.5 L204.6 216.6 Z M204.6 216.6 L210.0 218.5 L216.8 199.1 L211.8 197.3 Z M211.8 197.3 L216.8 199.1 L223.6 179.7 L218.9 178.0 Z M218.9 178.0 L223.6 179.7 L230.5 160.3 L226.1 158.7 Z M226.1 158.7 L230.5 160.3 L237.3 140.8 L233.3 139.3 Z M162.3 354.1 L169.9 356.7 L176.4 337.2 L169.1 334.7 Z M169.1 334.7 L176.4 337.2 L182.9 317.7 L175.9 315.3 Z M182.7 295.9 L189.3 298.2 L195.8 278.8 L189.5 276.6 Z M189.5 276.6 L195.8 278.8 L202.3 259.3 L196.3 257.2 Z M203.1 237.9 L208.8 239.8 L215.3 220.3 L210.0 218.5 Z M210.0 218.5 L215.3 220.3 L221.8 200.8 L216.8 199.1 Z M216.8 199.1 L221.8 200.8 L228.3 181.3 L223.6 179.7 Z M223.6 179.7 L228.3 181.3 L234.9 161.8 L230.5 160.3 Z M230.5 160.3 L234.9 161.8 L241.4 142.2 L237.3 140.8 Z M169.9 356.7 L177.5 359.1 L183.7 339.5 L176.4 337.2 Z M208.8 239.8 L214.5 241.7 L220.7 222.1 L215.3 220.3 Z M215.3 220.3 L220.7 222.1 L226.9 202.5 L221.8 200.8 Z M221.8 200.8 L226.9 202.5 L233.1 182.9 L228.3 181.3 Z M228.3 181.3 L233.1 182.9 L239.3 163.2 L234.9 161.8 Z M234.9 161.8 L239.3 163.2 L245.5 143.5 L241.4 142.2 Z M171.3 378.8 L179.3 381.2 L185.2 361.5 L177.5 359.1 Z M177.5 359.1 L185.2 361.5 L191.0 341.8 L183.7 339.5 Z M214.5 241.7 L220.3 243.4 L226.1 223.8 L220.7 222.1 Z M220.7 222.1 L226.1 223.8 L232.0 204.0 L226.9 202.5 Z M226.9 202.5 L232.0 204.0 L237.8 184.3 L233.1 182.9 Z M233.1 182.9 L237.8 184.3 L243.7 164.6 L239.3 163.2 Z M239.3 163.2 L243.7 164.6 L249.6 144.7 L245.5 143.5 Z M179.3 381.2 L187.4 383.5 L192.9 363.7 L185.2 361.5 Z M226.1 223.8 L231.6 225.3 L237.1 205.5 L232.0 204.0 Z M232.0 204.0 L237.1 205.5 L242.6 185.7 L237.8 184.3 Z M237.8 184.3 L242.6 185.7 L248.2 165.8 L243.7 164.6 Z M243.7 164.6 L248.2 165.8 L253.7 145.9 L249.6 144.7 Z M187.4 383.5 L195.4 385.7 L200.7 365.8 L192.9 363.7 Z M231.6 225.3 L237.0 226.8 L242.2 206.9 L237.1 205.5 Z M237.1 205.5 L242.2 206.9 L247.4 187.0 L242.6 185.7 Z M242.6 185.7 L247.4 187.0 L252.7 167.1 L248.2 165.8 Z M195.4 385.7 L203.6 387.8 L208.4 367.8 L200.7 365.8 Z M242.2 206.9 L247.4 208.2 L252.3 188.2 L247.4 187.0 Z M247.4 187.0 L252.3 188.2 L257.2 168.2 L252.7 167.1 Z M203.6 387.8 L211.7 389.7 L216.3 369.6 L208.4 367.8 Z M208.4 367.8 L216.3 369.6 L220.8 349.6 L213.3 347.8 Z M247.4 208.2 L252.6 209.4 L257.1 189.4 L252.3 188.2 Z M252.3 188.2 L257.1 189.4 L261.7 169.3 L257.2 168.2 Z M257.1 189.4 L262.0 190.4 L266.2 170.2 L261.7 169.3 Z M261.7 169.3 L266.2 170.2 L270.5 150.0 L266.3 149.1 Z M224.1 371.3 L232.0 372.9 L235.9 352.7 L228.3 351.2 Z M266.2 170.2 L270.8 171.2 L274.7 150.9 L270.5 150.0 Z M228.1 393.1 L236.4 394.7 L239.9 374.4 L232.0 372.9 Z M232.0 372.9 L239.9 374.4 L243.4 354.1 L235.9 352.7 Z M235.9 352.7 L243.4 354.1 L247.0 333.9 L239.8 332.6 Z M270.8 171.2 L275.3 172.0 L278.9 151.6 L274.7 150.9 Z M229.2 435.3 L238.2 436.8 L241.4 416.4 L232.8 414.9 Z M236.4 394.7 L244.6 396.0 L247.8 375.7 L239.9 374.4 Z M239.9 374.4 L247.8 375.7 L251.0 355.4 L243.4 354.1 Z M243.4 354.1 L251.0 355.4 L254.2 335.1 L247.0 333.9 Z M247.0 333.9 L254.2 335.1 L257.5 314.8 L250.5 313.7 Z M275.3 172.0 L279.9 172.8 L283.1 152.3 L278.9 151.6 Z M244.6 396.0 L252.9 397.3 L255.8 376.9 L247.8 375.7 Z M247.8 375.7 L255.8 376.9 L258.6 356.5 L251.0 355.4 Z M251.0 355.4 L258.6 356.5 L261.5 336.2 L254.2 335.1 Z M254.2 335.1 L261.5 336.2 L264.4 315.9 L257.5 314.8 Z M244.2 458.6 L253.5 459.8 L256.1 439.3 L247.1 438.1 Z M252.9 397.3 L261.2 398.4 L263.7 377.9 L255.8 376.9 Z M255.8 376.9 L263.7 377.9 L266.3 357.6 L258.6 356.5 Z M258.6 356.5 L266.3 357.6 L268.8 337.2 L261.5 336.2 Z M261.5 336.2 L268.8 337.2 L271.3 316.8 L264.4 315.9 Z M264.4 315.9 L271.3 316.8 L273.9 296.4 L267.3 295.6 Z M287.4 153.0 L291.7 153.6 L294.2 133.0 L290.3 132.5 Z M261.2 398.4 L269.5 399.3 L271.7 378.9 L263.7 377.9 Z M263.7 377.9 L271.7 378.9 L273.9 358.4 L266.3 357.6 Z M266.3 357.6 L273.9 358.4 L276.1 338.0 L268.8 337.2 Z M268.8 337.2 L276.1 338.0 L278.3 317.6 L271.3 316.8 Z M271.3 316.8 L278.3 317.6 L280.5 297.2 L273.9 296.4 Z M291.7 153.6 L295.9 154.0 L298.2 133.4 L294.2 133.0 Z M269.5 399.3 L277.8 400.2 L279.7 379.7 L271.7 378.9 Z M271.7 378.9 L279.7 379.7 L281.6 359.2 L273.9 358.4 Z M278.3 317.6 L285.3 318.3 L287.2 297.9 L280.5 297.2 Z M295.9 154.0 L300.2 154.5 L302.1 133.8 L298.2 133.4 Z M298.2 133.4 L302.1 133.8 L304.0 113.1 L300.4 112.8 Z M302.6 92.0 L305.9 92.4 L307.8 71.5 L304.9 71.2 Z M287.2 297.9 L293.8 298.4 L295.3 278.0 L289.0 277.4 Z M300.2 154.5 L304.5 154.8 L306.0 134.2 L302.1 133.8 Z M302.1 133.8 L306.0 134.2 L307.6 113.4 L304.0 113.1 Z M305.9 92.4 L309.1 92.6 L310.7 71.7 L307.8 71.5 Z M293.8 298.4 L300.5 298.9 L301.7 278.4 L295.3 278.0 Z M295.3 278.0 L301.7 278.4 L302.9 257.9 L296.9 257.5 Z M296.9 257.5 L302.9 257.9 L304.0 237.4 L298.4 237.0 Z M304.5 154.8 L308.8 155.1 L310.0 134.4 L306.0 134.2 Z M306.0 134.2 L310.0 134.4 L311.2 113.7 L307.6 113.4 Z M309.1 92.6 L312.4 92.8 L313.6 71.9 L310.7 71.7 Z M302.9 257.9 L308.8 258.2 L309.7 237.7 L304.0 237.4 Z M308.8 155.1 L313.1 155.3 L314.0 134.6 L310.0 134.4 Z M310.0 134.4 L314.0 134.6 L314.8 113.9 L311.2 113.7 Z M311.2 113.7 L314.8 113.9 L315.7 93.0 L312.4 92.8 Z M312.4 92.8 L315.7 93.0 L316.5 72.1 L313.6 71.9 Z M308.8 258.2 L314.8 258.4 L315.4 237.9 L309.7 237.7 Z M312.2 176.0 L316.9 176.1 L317.4 155.5 L313.1 155.3 Z M313.1 155.3 L317.4 155.5 L317.9 134.8 L314.0 134.6 Z M314.0 134.6 L317.9 134.8 L318.4 114.0 L314.8 113.9 Z M314.8 113.9 L318.4 114.0 L318.9 93.1 L315.7 93.0 Z M315.7 93.0 L318.9 93.1 L319.5 72.1 L316.5 72.1 Z M314.8 258.4 L320.8 258.5 L321.0 238.0 L315.4 237.9 Z M316.9 176.1 L321.5 176.2 L321.7 155.5 L317.4 155.5 Z M317.4 155.5 L321.7 155.5 L321.9 134.8 L317.9 134.8 Z M317.9 134.8 L321.9 134.8 L322.0 114.0 L318.4 114.0 Z M318.4 114.0 L322.0 114.0 L322.2 93.2 L318.9 93.1 Z M318.9 93.1 L322.2 93.2 L322.4 72.2 L319.5 72.1 Z M320.8 258.5 L326.9 258.5 L326.7 238.0 L321.0 238.0 Z M321.7 155.5 L326.0 155.5 L325.8 134.8 L321.9 134.8 Z M321.9 134.8 L325.8 134.8 L325.7 114.0 L322.0 114.0 Z M322.0 114.0 L325.7 114.0 L325.5 93.2 L322.2 93.2 Z M322.2 93.2 L325.5 93.2 L325.3 72.2 L322.4 72.2 Z M328.9 505.7 L339.0 505.5 L338.5 484.7 L328.7 484.9 Z M328.7 484.9 L338.5 484.7 L337.9 464.0 L328.5 464.2 Z M326.9 258.5 L332.9 258.4 L332.3 237.9 L326.7 238.0 Z M326.5 217.4 L331.8 217.3 L331.3 196.7 L326.3 196.8 Z M326.0 155.5 L330.3 155.5 L329.8 134.8 L325.8 134.8 Z M325.8 134.8 L329.8 134.8 L329.3 114.0 L325.7 114.0 Z M325.7 114.0 L329.3 114.0 L328.8 93.1 L325.5 93.2 Z M325.5 93.2 L328.8 93.1 L328.2 72.1 L325.3 72.2 Z M339.0 505.5 L349.0 505.2 L348.2 484.4 L338.5 484.7 Z M338.5 484.7 L348.2 484.4 L347.3 463.7 L337.9 464.0 Z M331.8 217.3 L337.2 217.1 L336.3 196.6 L331.3 196.7 Z M331.3 196.7 L336.3 196.6 L335.5 176.0 L330.8 176.1 Z M330.3 155.5 L334.6 155.3 L333.7 134.6 L329.8 134.8 Z M329.8 134.8 L333.7 134.6 L332.9 113.9 L329.3 114.0 Z M329.3 114.0 L332.9 113.9 L332.0 93.0 L328.8 93.1 Z M328.8 93.1 L332.0 93.0 L331.2 72.1 L328.2 72.1 Z M349.0 505.2 L359.1 504.7 L357.9 483.9 L348.2 484.4 Z M348.2 484.4 L357.9 483.9 L356.7 463.2 L347.3 463.7 Z M338.0 237.7 L343.7 237.4 L342.5 216.9 L337.2 217.1 Z M337.2 217.1 L342.5 216.9 L341.3 196.3 L336.3 196.6 Z M334.6 155.3 L338.9 155.1 L337.7 134.4 L333.7 134.6 Z M333.7 134.6 L337.7 134.4 L336.5 113.7 L332.9 113.9 Z M332.9 113.9 L336.5 113.7 L335.3 92.8 L332.0 93.0 Z M332.0 93.0 L335.3 92.8 L334.1 71.9 L331.2 72.1 Z M359.1 504.7 L369.2 504.0 L367.6 483.3 L357.9 483.9 Z M357.9 483.9 L367.6 483.3 L366.1 462.6 L356.7 463.2 Z M338.9 155.1 L343.2 154.8 L341.7 134.2 L337.7 134.4 Z M337.7 134.4 L341.7 134.2 L340.1 113.4 L336.5 113.7 Z M336.5 113.7 L340.1 113.4 L338.6 92.6 L335.3 92.8 Z M335.3 92.8 L338.6 92.6 L337.0 71.7 L334.1 71.9 Z M367.6 483.3 L377.3 482.5 L375.5 461.8 L366.1 462.6 Z M366.1 462.6 L375.5 461.8 L373.6 441.2 L364.6 442.0 Z M364.6 442.0 L373.6 441.2 L371.7 420.7 L363.0 421.4 Z M363.0 421.4 L371.7 420.7 L369.9 400.2 L361.5 400.9 Z M361.5 400.9 L369.9 400.2 L368.0 379.7 L360.0 380.3 Z M343.2 154.8 L347.5 154.5 L345.6 133.8 L341.7 134.2 Z M341.7 134.2 L345.6 133.8 L343.7 113.1 L340.1 113.4 Z M340.1 113.4 L343.7 113.1 L341.8 92.4 L338.6 92.6 Z M338.6 92.6 L341.8 92.4 L339.9 71.5 L337.0 71.7 Z M375.5 461.8 L384.8 460.9 L382.6 440.3 L373.6 441.2 Z M373.6 441.2 L382.6 440.3 L380.4 419.8 L371.7 420.7 Z M371.7 420.7 L380.4 419.8 L378.2 399.3 L369.9 400.2 Z M369.9 400.2 L378.2 399.3 L376.0 378.9 L368.0 379.7 Z M347.5 154.5 L351.8 154.0 L349.5 133.4 L345.6 133.8 Z M345.6 133.8 L349.5 133.4 L347.3 112.8 L343.7 113.1 Z M343.7 113.1 L347.3 112.8 L345.1 92.0 L341.8 92.4 Z M341.8 92.4 L345.1 92.0 L342.8 71.2 L339.9 71.5 Z M384.8 460.9 L394.2 459.8 L391.6 439.3 L382.6 440.3 Z M380.4 419.8 L389.0 418.8 L386.5 398.4 L378.2 399.3 Z M378.2 399.3 L386.5 398.4 L384.0 377.9 L376.0 378.9 Z M351.8 154.0 L356.0 153.6 L353.5 133.0 L349.5 133.4 Z M349.5 133.4 L353.5 133.0 L350.9 112.4 L347.3 112.8 Z M347.3 112.8 L350.9 112.4 L348.3 91.7 L345.1 92.0 Z M345.1 92.0 L348.3 91.7 L345.7 70.8 L342.8 71.2 Z M394.2 459.8 L403.5 458.6 L400.6 438.1 L391.6 439.3 Z M353.5 133.0 L357.4 132.5 L354.5 111.9 L350.9 112.4 Z M350.9 112.4 L354.5 111.9 L351.6 91.2 L348.3 91.7 Z M348.3 91.7 L351.6 91.2 L348.6 70.5 L345.7 70.8 Z M403.5 458.6 L412.8 457.2 L409.5 436.8 L400.6 438.1 Z M357.4 132.5 L361.3 131.9 L358.1 111.3 L354.5 111.9 Z M354.5 111.9 L358.1 111.3 L354.8 90.7 L351.6 91.2 Z M351.6 91.2 L354.8 90.7 L351.5 70.0 L348.6 70.5 Z M403.1 396.0 L411.3 394.7 L407.8 374.4 L399.9 375.7 Z M361.3 131.9 L365.2 131.2 L361.6 110.8 L358.1 111.3 Z M358.1 111.3 L361.6 110.8 L358.0 90.2 L354.8 90.7 Z M354.8 90.7 L358.0 90.2 L354.4 69.5 L351.5 70.0 Z M365.2 131.2 L369.1 130.5 L365.2 110.1 L361.6 110.8 Z M361.6 110.8 L365.2 110.1 L361.3 89.6 L358.0 90.2 Z M358.0 90.2 L361.3 89.6 L357.3 69.0 L354.4 69.5 Z M415.7 372.9 L423.6 371.3 L419.4 351.2 L411.8 352.7 Z M365.2 110.1 L368.7 109.4 L364.5 89.0 L361.3 89.6 Z M361.3 89.6 L364.5 89.0 L360.2 68.4 L357.3 69.0 Z M368.7 109.4 L372.3 108.6 L367.7 88.3 L364.5 89.0 Z M364.5 89.0 L367.7 88.3 L363.0 67.8 L360.2 68.4 Z M372.3 108.6 L375.8 107.8 L370.8 87.5 L367.7 88.3 Z M367.7 88.3 L370.8 87.5 L365.9 67.1 L363.0 67.8 Z M375.8 107.8 L379.3 106.9 L374.0 86.7 L370.8 87.5 Z M370.8 87.5 L374.0 86.7 L368.7 66.4 L365.9 67.1 Z M441.8 345.9 L449.3 343.9 L443.7 324.2 L436.6 326.1 Z M379.3 106.9 L382.8 106.0 L377.2 85.9 L374.0 86.7 Z M374.0 86.7 L377.2 85.9 L371.5 65.7 L368.7 66.4 Z M382.8 106.0 L386.3 105.0 L380.3 85.0 L377.2 85.9 Z M377.2 85.9 L380.3 85.0 L374.3 64.9 L371.5 65.7 Z M503.8 500.3 L513.8 497.3 L507.5 477.4 L497.9 480.4 Z M450.8 322.1 L457.8 320.0 L451.7 300.4 L445.0 302.4 Z M386.3 105.0 L389.7 103.9 L383.4 84.0 L380.3 85.0 Z M380.3 85.0 L383.4 84.0 L377.1 64.0 L374.3 64.9 Z M389.7 103.9 L393.2 102.8 L386.6 83.0 L383.4 84.0 Z M383.4 84.0 L386.6 83.0 L379.9 63.1 L377.1 64.0 Z M504.0 434.9 L512.8 431.9 L506.0 412.4 L497.4 415.3 Z M393.2 102.8 L396.6 101.6 L389.7 81.9 L386.6 83.0 Z M386.6 83.0 L389.7 81.9 L382.7 62.1 L379.9 63.1 Z M512.8 431.9 L521.7 428.7 L514.5 409.3 L506.0 412.4 Z M506.0 412.4 L514.5 409.3 L507.3 389.9 L499.1 392.9 Z M396.6 101.6 L400.0 100.4 L392.7 80.8 L389.7 81.9 Z M389.7 81.9 L392.7 80.8 L385.4 61.2 L382.7 62.1 Z M521.7 428.7 L530.5 425.4 L523.0 406.1 L514.5 409.3 Z M514.5 409.3 L523.0 406.1 L515.5 386.9 L507.3 389.9 Z M507.3 389.9 L515.5 386.9 L508.0 367.7 L500.2 370.6 Z M400.0 100.4 L403.4 99.1 L395.8 79.7 L392.7 80.8 Z M392.7 80.8 L395.8 79.7 L388.2 60.1 L385.4 61.2 Z M538.0 444.7 L547.0 441.1 L539.2 421.9 L530.5 425.4 Z M530.5 425.4 L539.2 421.9 L531.4 402.7 L523.0 406.1 Z M523.0 406.1 L531.4 402.7 L523.6 383.6 L515.5 386.9 Z M515.5 386.9 L523.6 383.6 L515.8 364.5 L508.0 367.7 Z M508.0 367.7 L515.8 364.5 L508.0 345.5 L500.5 348.5 Z M403.4 99.1 L406.7 97.8 L398.8 78.4 L395.8 79.7 Z M395.8 79.7 L398.8 78.4 L390.9 59.0 L388.2 60.1 Z M547.0 441.1 L556.0 437.3 L547.9 418.2 L539.2 421.9 Z M539.2 421.9 L547.9 418.2 L539.7 399.2 L531.4 402.7 Z M531.4 402.7 L539.7 399.2 L531.6 380.3 L523.6 383.6 Z M523.6 383.6 L531.6 380.3 L523.5 361.3 L515.8 364.5 Z M515.8 364.5 L523.5 361.3 L515.4 342.4 L508.0 345.5 Z M508.0 345.5 L515.4 342.4 L507.3 323.5 L500.2 326.5 Z M406.7 97.8 L410.1 96.4 L401.8 77.2 L398.8 78.4 Z M398.8 78.4 L401.8 77.2 L393.6 57.9 L390.9 59.0 Z M564.2 456.4 L573.4 452.3 L564.9 433.4 L556.0 437.3 Z M556.0 437.3 L564.9 433.4 L556.5 414.5 L547.9 418.2 Z M547.9 418.2 L556.5 414.5 L548.0 395.6 L539.7 399.2 Z M539.7 399.2 L548.0 395.6 L539.6 376.8 L531.6 380.3 Z M531.6 380.3 L539.6 376.8 L531.2 358.0 L523.5 361.3 Z M523.5 361.3 L531.2 358.0 L522.8 339.2 L515.4 342.4 Z M401.8 77.2 L404.8 75.9 L396.3 56.7 L393.6 57.9 Z M573.4 452.3 L582.6 448.1 L573.8 429.3 L564.9 433.4 Z M564.9 433.4 L573.8 429.3 L565.0 410.6 L556.5 414.5 Z M556.5 414.5 L565.0 410.6 L556.3 391.8 L548.0 395.6 Z M548.0 395.6 L556.3 391.8 L547.5 373.1 L539.6 376.8 Z M539.6 376.8 L547.5 373.1 L538.8 354.5 L531.2 358.0 Z M531.2 358.0 L538.8 354.5 L530.1 335.8 L522.8 339.2 Z M404.8 75.9 L407.8 74.5 L398.9 55.5 L396.3 56.7 Z M582.6 448.1 L591.7 443.8 L582.6 425.1 L573.8 429.3 Z M573.8 429.3 L582.6 425.1 L573.5 406.5 L565.0 410.6 Z M565.0 410.6 L573.5 406.5 L564.4 387.9 L556.3 391.8 Z M556.3 391.8 L564.4 387.9 L555.4 369.4 L547.5 373.1 Z M547.5 373.1 L555.4 369.4 L546.3 350.9 L538.8 354.5 Z M407.8 74.5 L410.8 73.1 L401.6 54.2 L398.9 55.5 Z" fill="#e2e2e2" stroke="#e2e2e2" stroke-width="0.6"/>
<path d="M209.6 129.1 L213.5 131.0 L222.2 112.2 L218.7 110.5 Z M218.7 110.5 L222.2 112.2 L231.0 93.4 L227.8 91.8 Z M227.8 91.8 L231.0 93.4 L239.9 74.5 L236.9 73.1 Z M236.9 73.1 L239.9 74.5 L248.8 55.5 L246.1 54.2 Z M213.5 131.0 L217.4 132.8 L225.8 113.9 L222.2 112.2 Z M222.2 112.2 L225.8 113.9 L234.3 94.9 L231.0 93.4 Z M231.0 93.4 L234.3 94.9 L242.9 75.9 L239.9 74.5 Z M239.9 74.5 L242.9 75.9 L251.4 56.7 L248.8 55.5 Z M217.4 132.8 L221.3 134.5 L229.5 115.5 L225.8 113.9 Z M225.8 113.9 L229.5 115.5 L237.6 96.4 L234.3 94.9 Z M234.3 94.9 L237.6 96.4 L245.9 77.2 L242.9 75.9 Z M242.9 75.9 L245.9 77.2 L254.1 57.9 L251.4 56.7 Z M221.3 134.5 L225.3 136.2 L233.1 117.0 L229.5 115.5 Z M229.5 115.5 L233.1 117.0 L241.0 97.8 L237.6 96.4 Z M237.6 96.4 L241.0 97.8 L248.9 78.4 L245.9 77.2 Z M245.9 77.2 L248.9 78.4 L256.8 59.0 L254.1 57.9 Z M225.3 136.2 L229.3 137.8 L236.8 118.5 L233.1 117.0 Z M233.1 117.0 L236.8 118.5 L244.3 99.1 L241.0 97.8 Z M241.0 97.8 L244.3 99.1 L251.9 79.7 L248.9 78.4 Z M248.9 78.4 L251.9 79.7 L259.5 60.1 L256.8 59.0 Z M184.4 252.8 L190.4 255.1 L197.5 235.8 L191.9 233.7 Z M236.8 118.5 L240.5 119.9 L247.7 100.4 L244.3 99.1 Z M244.3 99.1 L247.7 100.4 L255.0 80.8 L251.9 79.7 Z M251.9 79.7 L255.0 80.8 L262.3 61.2 L259.5 60.1 Z M240.5 119.9 L244.2 121.2 L251.1 101.6 L247.7 100.4 Z M247.7 100.4 L251.1 101.6 L258.0 81.9 L255.0 80.8 Z M255.0 80.8 L258.0 81.9 L265.0 62.1 L262.3 61.2 Z M244.2 121.2 L248.0 122.5 L254.5 102.8 L251.1 101.6 Z M251.1 101.6 L254.5 102.8 L261.1 83.0 L258.0 81.9 Z M258.0 81.9 L261.1 83.0 L267.8 63.1 L265.0 62.1 Z M248.0 122.5 L251.7 123.7 L258.0 103.9 L254.5 102.8 Z M254.5 102.8 L258.0 103.9 L264.3 84.0 L261.1 83.0 Z M261.1 83.0 L264.3 84.0 L270.6 64.0 L267.8 63.1 Z M251.7 123.7 L255.5 124.9 L261.4 105.0 L258.0 103.9 Z M258.0 103.9 L261.4 105.0 L267.4 85.0 L264.3 84.0 Z M264.3 84.0 L267.4 85.0 L273.4 64.9 L270.6 64.0 Z M255.5 124.9 L259.3 126.0 L264.9 106.0 L261.4 105.0 Z M261.4 105.0 L264.9 106.0 L270.5 85.9 L267.4 85.0 Z M267.4 85.0 L270.5 85.9 L276.2 65.7 L273.4 64.9 Z M259.3 126.0 L263.1 127.0 L268.4 106.9 L264.9 106.0 Z M264.9 106.0 L268.4 106.9 L273.7 86.7 L270.5 85.9 Z M270.5 85.9 L273.7 86.7 L279.0 66.4 L276.2 65.7 Z M263.1 127.0 L267.0 128.0 L271.9 107.8 L268.4 106.9 Z M268.4 106.9 L271.9 107.8 L276.9 87.5 L273.7 86.7 Z M273.7 86.7 L276.9 87.5 L281.8 67.1 L279.0 66.4 Z M262.1 148.1 L266.3 149.1 L270.8 128.9 L267.0 128.0 Z M267.0 128.0 L270.8 128.9 L275.4 108.6 L271.9 107.8 Z M271.9 107.8 L275.4 108.6 L280.0 88.3 L276.9 87.5 Z M276.9 87.5 L280.0 88.3 L284.7 67.8 L281.8 67.1 Z M266.3 149.1 L270.5 150.0 L274.7 129.7 L270.8 128.9 Z M275.4 108.6 L279.0 109.4 L283.2 89.0 L280.0 88.3 Z M280.0 88.3 L283.2 89.0 L287.5 68.4 L284.7 67.8 Z M279.0 109.4 L282.5 110.1 L286.4 89.6 L283.2 89.0 Z M283.2 89.0 L286.4 89.6 L290.4 69.0 L287.5 68.4 Z M274.7 150.9 L278.9 151.6 L282.5 131.2 L278.6 130.5 Z M282.5 110.1 L286.1 110.8 L289.7 90.2 L286.4 89.6 Z M286.4 89.6 L289.7 90.2 L293.3 69.5 L290.4 69.0 Z M282.5 131.2 L286.4 131.9 L289.6 111.3 L286.1 110.8 Z M286.1 110.8 L289.6 111.3 L292.9 90.7 L289.7 90.2 Z M289.7 90.2 L292.9 90.7 L296.2 70.0 L293.3 69.5 Z M289.6 111.3 L293.2 111.9 L296.1 91.2 L292.9 90.7 Z M292.9 90.7 L296.1 91.2 L299.1 70.5 L296.2 70.0 Z M293.2 111.9 L296.8 112.4 L299.4 91.7 L296.1 91.2 Z M296.1 91.2 L299.4 91.7 L302.0 70.8 L299.1 70.5 Z M299.4 91.7 L302.6 92.0 L304.9 71.2 L302.0 70.8 Z M276.1 338.0 L283.4 338.7 L285.3 318.3 L278.3 317.6 Z M301.7 278.4 L308.0 278.7 L308.8 258.2 L302.9 257.9 Z M321.5 176.2 L326.2 176.2 L326.0 155.5 L321.7 155.5 Z M326.2 176.2 L330.8 176.1 L330.3 155.5 L326.0 155.5 Z M337.9 464.0 L347.3 463.7 L346.5 443.0 L337.4 443.3 Z M332.9 258.4 L338.9 258.2 L338.0 237.7 L332.3 237.9 Z M330.8 176.1 L335.5 176.0 L334.6 155.3 L330.3 155.5 Z M341.3 196.3 L346.3 196.0 L344.7 175.4 L340.1 175.7 Z M347.8 216.5 L353.1 216.1 L351.2 195.6 L346.3 196.0 Z M360.3 153.0 L364.6 152.3 L361.3 131.9 L357.4 132.5 Z M380.7 128.0 L384.6 127.0 L379.3 106.9 L375.8 107.8 Z M384.6 127.0 L388.4 126.0 L382.8 106.0 L379.3 106.9 Z M410.9 118.5 L414.6 117.0 L406.7 97.8 L403.4 99.1 Z" fill="#cce6e8" stroke="#cce6e8" stroke-width="0.6"/>
<path d="M117.6 335.8 L124.9 339.2 L133.3 320.4 L126.3 317.2 Z M274.1 441.2 L283.1 442.0 L284.7 421.4 L276.0 420.7 Z M283.1 442.0 L292.2 442.6 L293.4 422.0 L284.7 421.4 Z M319.3 443.5 L328.4 443.5 L328.2 422.8 L319.5 422.8 Z M320.5 299.5 L327.2 299.5 L327.0 279.0 L320.7 279.0 Z M368.7 255.7 L374.7 254.9 L371.8 234.6 L366.2 235.3 Z M400.3 187.0 L405.1 185.7 L399.5 165.8 L395.0 167.1 Z M405.1 185.7 L409.9 184.3 L404.0 164.6 L399.5 165.8 Z" fill="#00ffff" stroke="#00ffff" stroke-width="0.6"/>
<path d="M124.9 339.2 L132.3 342.4 L140.4 323.5 L133.3 320.4 Z M336.4 402.1 L344.8 401.8 L343.9 381.3 L335.9 381.5 Z M343.9 381.3 L352.0 380.9 L350.8 360.3 L343.1 360.7 Z M339.7 278.7 L346.0 278.4 L344.8 257.9 L338.9 258.2 Z M365.0 276.8 L371.3 276.1 L368.7 255.7 L362.8 256.4 Z M398.3 250.8 L404.2 249.5 L399.7 229.5 L394.1 230.7 Z M400.3 208.2 L405.5 206.9 L400.3 187.0 L395.4 188.2 Z" fill="#11b8a8" stroke="#11b8a8" stroke-width="0.6"/>
<path d="M133.3 320.4 L140.4 323.5 L148.5 304.6 L141.7 301.7 Z M270.4 482.5 L280.1 483.3 L281.6 462.6 L272.2 461.8 Z M272.2 461.8 L281.6 462.6 L283.1 442.0 L274.1 441.2 Z M292.3 318.9 L299.3 319.4 L300.5 298.9 L293.8 298.4 Z M308.7 505.5 L318.8 505.7 L319.0 484.9 L309.2 484.7 Z M368.0 379.7 L376.0 378.9 L373.8 358.4 L366.1 359.2 Z M356.8 257.0 L362.8 256.4 L360.6 236.0 L355.0 236.6 Z M371.8 234.6 L377.4 233.8 L374.2 213.5 L368.9 214.2 Z M375.9 192.3 L380.8 191.4 L376.9 171.2 L372.4 172.0 Z M399.5 165.8 L404.0 164.6 L398.1 144.7 L394.0 145.9 Z M445.5 280.8 L451.9 278.8 L445.4 259.3 L439.3 261.3 Z M424.1 179.7 L428.8 178.0 L421.6 158.7 L417.2 160.3 Z M442.6 172.5 L447.2 170.5 L438.8 151.7 L434.5 153.5 Z M434.5 153.5 L438.8 151.7 L430.3 132.8 L426.4 134.5 Z" fill="#5af0f5" stroke="#5af0f5" stroke-width="0.6"/>
<path d="M141.7 301.7 L148.5 304.6 L156.6 285.8 L150.1 282.9 Z M258.7 418.8 L267.3 419.8 L269.5 399.3 L261.2 398.4 Z M290.8 339.4 L298.1 339.8 L299.3 319.4 L292.3 318.9 Z M295.7 380.9 L303.8 381.3 L304.6 360.7 L296.9 360.3 Z M298.7 505.2 L308.7 505.5 L309.2 484.7 L299.5 484.4 Z M313.8 299.4 L320.5 299.5 L320.7 279.0 L314.3 278.9 Z M333.4 278.9 L339.7 278.7 L338.9 258.2 L332.9 258.4 Z M377.4 233.8 L383.0 232.8 L379.5 212.6 L374.2 213.5 Z M380.8 191.4 L385.7 190.4 L381.5 170.2 L376.9 171.2 Z M385.7 190.4 L390.6 189.4 L386.0 169.3 L381.5 170.2 Z M404.0 164.6 L408.4 163.2 L402.2 143.5 L398.1 144.7 Z M408.4 163.2 L412.8 161.8 L406.3 142.2 L402.2 143.5 Z M445.8 193.4 L450.7 191.4 L442.6 172.5 L438.0 174.4 Z" fill="#43f4f8" stroke="#43f4f8" stroke-width="0.6"/>
<path d="M124.2 361.3 L131.9 364.5 L139.7 345.5 L132.3 342.4 Z M308.0 278.7 L314.3 278.9 L314.8 258.4 L308.8 258.2 Z M338.9 258.2 L344.8 257.9 L343.7 237.4 L338.0 237.7 Z M355.0 236.6 L360.6 236.0 L358.4 215.6 L353.1 216.1 Z M351.2 195.6 L356.2 195.1 L354.0 174.6 L349.4 175.1 Z M363.7 214.9 L368.9 214.2 L366.1 193.9 L361.1 194.5 Z M363.2 173.4 L367.8 172.8 L364.6 152.3 L360.3 153.0 Z M367.8 172.8 L372.4 172.0 L368.8 151.6 L364.6 152.3 Z M381.4 149.1 L385.6 148.1 L380.7 128.0 L376.9 128.9 Z M385.6 148.1 L389.8 147.1 L384.6 127.0 L380.7 128.0 Z M414.4 139.3 L418.4 137.8 L410.9 118.5 L407.2 119.9 Z M425.9 157.0 L430.2 155.3 L422.4 136.2 L418.4 137.8 Z M438.0 174.4 L442.6 172.5 L434.5 153.5 L430.2 155.3 Z M438.8 151.7 L443.0 149.7 L434.2 131.0 L430.3 132.8 Z M451.7 168.4 L456.2 166.2 L447.2 147.7 L443.0 149.7 Z M443.0 149.7 L447.2 147.7 L438.1 129.1 L434.2 131.0 Z" fill="#aaebf0" stroke="#aaebf0" stroke-width="0.6"/>
<path d="M132.3 342.4 L139.7 345.5 L147.5 326.5 L140.4 323.5 Z M302.1 422.4 L310.8 422.7 L311.3 402.1 L302.9 401.8 Z M311.3 402.1 L319.7 402.2 L319.8 381.7 L311.8 381.5 Z M395.1 209.4 L400.3 208.2 L395.4 188.2 L390.6 189.4 Z M440.9 195.4 L445.8 193.4 L438.0 174.4 L433.4 176.2 Z" fill="#0dc6b9" stroke="#0dc6b9" stroke-width="0.6"/>
<path d="M140.4 323.5 L147.5 326.5 L155.3 307.5 L148.5 304.6 Z M148.5 304.6 L155.3 307.5 L163.0 288.5 L156.6 285.8 Z M131.9 364.5 L139.7 367.7 L147.2 348.5 L139.7 345.5 Z M147.2 348.5 L154.7 351.3 L161.8 332.1 L154.6 329.3 Z M283.4 338.7 L290.8 339.4 L292.3 318.9 L285.3 318.3 Z M300.5 298.9 L307.2 299.2 L308.0 278.7 L301.7 278.4 Z M299.5 484.4 L309.2 484.7 L309.8 464.0 L300.4 463.7 Z M353.1 401.4 L361.5 400.9 L360.0 380.3 L352.0 380.9 Z M360.6 236.0 L366.2 235.3 L363.7 214.9 L358.4 215.6 Z M356.2 195.1 L361.1 194.5 L358.6 174.1 L354.0 174.6 Z M368.9 214.2 L374.2 213.5 L371.0 193.1 L366.1 193.9 Z M399.9 375.7 L407.8 374.4 L404.3 354.1 L396.7 355.4 Z M372.4 172.0 L376.9 171.2 L373.0 150.9 L368.8 151.6 Z M389.8 147.1 L394.0 145.9 L388.4 126.0 L384.6 127.0 Z M394.0 145.9 L398.1 144.7 L392.2 124.9 L388.4 126.0 Z M410.4 140.8 L414.4 139.3 L407.2 119.9 L403.5 121.2 Z M450.7 191.4 L455.6 189.3 L447.2 170.5 L442.6 172.5 Z M506.0 301.7 L512.6 298.6 L504.0 280.0 L497.6 282.9 Z M521.4 317.2 L528.3 313.9 L519.3 295.4 L512.6 298.6 Z M512.6 298.6 L519.3 295.4 L510.3 277.0 L504.0 280.0 Z M504.0 280.0 L510.3 277.0 L501.3 258.6 L495.3 261.4 Z M460.5 187.0 L465.3 184.7 L456.2 166.2 L451.7 168.4 Z" fill="#9aecf1" stroke="#9aecf1" stroke-width="0.6"/>
<path d="M156.6 285.8 L163.0 288.5 L170.8 269.5 L164.6 266.9 Z M232.8 414.9 L241.4 416.4 L244.6 396.0 L236.4 394.7 Z M241.4 416.4 L250.0 417.7 L252.9 397.3 L244.6 396.0 Z M281.6 359.2 L289.2 359.8 L290.8 339.4 L283.4 338.7 Z M309.8 464.0 L319.2 464.2 L319.3 443.5 L310.3 443.3 Z M344.8 257.9 L350.8 257.5 L349.3 237.0 L343.7 237.4 Z M376.0 378.9 L384.0 377.9 L381.4 357.6 L373.8 358.4 Z M361.1 194.5 L366.1 193.9 L363.2 173.4 L358.6 174.1 Z M376.9 171.2 L381.5 170.2 L377.2 150.0 L373.0 150.9 Z M436.6 326.1 L443.7 324.2 L438.2 304.4 L431.4 306.2 Z M398.1 144.7 L402.2 143.5 L396.0 123.7 L392.2 124.9 Z M402.2 143.5 L406.3 142.2 L399.7 122.5 L396.0 123.7 Z M451.9 278.8 L458.2 276.6 L451.4 257.2 L445.4 259.3 Z M406.3 142.2 L410.4 140.8 L403.5 121.2 L399.7 122.5 Z M421.6 158.7 L425.9 157.0 L418.4 137.8 L414.4 139.3 Z M433.4 176.2 L438.0 174.4 L430.2 155.3 L425.9 157.0 Z" fill="#8aedf2" stroke="#8aedf2" stroke-width="0.6"/>
<path d="M139.7 345.5 L147.2 348.5 L154.6 329.3 L147.5 326.5 Z M268.5 503.2 L278.5 504.0 L280.1 483.3 L270.4 482.5 Z M288.6 504.7 L298.7 505.2 L299.5 484.4 L289.8 483.9 Z M336.9 422.7 L345.6 422.4 L344.8 401.8 L336.4 402.1 Z M362.8 256.4 L368.7 255.7 L366.2 235.3 L360.6 236.0 Z M383.0 232.8 L388.6 231.8 L384.7 211.6 L379.5 212.6 Z M379.5 212.6 L384.7 211.6 L380.8 191.4 L375.9 192.3 Z M390.6 189.4 L395.4 188.2 L390.5 168.2 L386.0 169.3 Z M445.0 302.4 L451.7 300.4 L445.5 280.8 L439.1 282.8 Z M419.4 181.3 L424.1 179.7 L417.2 160.3 L412.8 161.8 Z" fill="#2df8fa" stroke="#2df8fa" stroke-width="0.6"/>
<path d="M147.5 326.5 L154.6 329.3 L162.1 310.2 L155.3 307.5 Z M155.3 307.5 L162.1 310.2 L169.5 291.1 L163.0 288.5 Z M163.0 288.5 L169.5 291.1 L177.0 271.9 L170.8 269.5 Z M147.5 370.6 L155.4 373.5 L162.3 354.1 L154.7 351.3 Z M270.5 150.0 L274.7 150.9 L278.6 130.5 L274.7 129.7 Z M253.5 459.8 L262.9 460.9 L265.1 440.3 L256.1 439.3 Z M260.7 481.5 L270.4 482.5 L272.2 461.8 L262.9 460.9 Z M318.8 505.7 L328.9 505.7 L328.7 484.9 L319.0 484.9 Z M328.5 464.2 L337.9 464.0 L337.4 443.3 L328.4 443.5 Z M335.5 176.0 L340.1 175.7 L338.9 155.1 L334.6 155.3 Z M355.5 442.6 L364.6 442.0 L363.0 421.4 L354.3 422.0 Z M340.1 175.7 L344.7 175.4 L343.2 154.8 L338.9 155.1 Z M349.3 237.0 L355.0 236.6 L353.1 216.1 L347.8 216.5 Z M346.3 196.0 L351.2 195.6 L349.4 175.1 L344.7 175.4 Z M344.7 175.4 L349.4 175.1 L347.5 154.5 L343.2 154.8 Z M353.1 216.1 L358.4 215.6 L356.2 195.1 L351.2 195.6 Z M349.4 175.1 L354.0 174.6 L351.8 154.0 L347.5 154.5 Z M354.0 174.6 L358.6 174.1 L356.0 153.6 L351.8 154.0 Z M364.6 152.3 L368.8 151.6 L365.2 131.2 L361.3 131.9 Z M368.8 151.6 L373.0 150.9 L369.1 130.5 L365.2 131.2 Z M443.7 324.2 L450.8 322.1 L445.0 302.4 L438.2 304.4 Z M388.4 126.0 L392.2 124.9 L386.3 105.0 L382.8 106.0 Z M392.2 124.9 L396.0 123.7 L389.7 103.9 L386.3 105.0 Z M396.0 123.7 L399.7 122.5 L393.2 102.8 L389.7 103.9 Z M399.7 122.5 L403.5 121.2 L396.6 101.6 L393.2 102.8 Z M403.5 121.2 L407.2 119.9 L400.0 100.4 L396.6 101.6 Z M407.2 119.9 L410.9 118.5 L403.4 99.1 L400.0 100.4 Z" fill="#c0e7ea" stroke="#c0e7ea" stroke-width="0.6"/>
<path d="M170.8 269.5 L177.0 271.9 L184.4 252.8 L178.6 250.5 Z M139.7 367.7 L147.5 370.6 L154.7 351.3 L147.2 348.5 Z M238.2 436.8 L247.1 438.1 L250.0 417.7 L241.4 416.4 Z M277.8 400.2 L286.2 400.9 L287.7 380.3 L279.7 379.7 Z M279.7 379.7 L287.7 380.3 L289.2 359.8 L281.6 359.2 Z M285.3 318.3 L292.3 318.9 L293.8 298.4 L287.2 297.9 Z M309.2 484.7 L319.0 484.9 L319.2 464.2 L309.8 464.0 Z M319.2 464.2 L328.5 464.2 L328.4 443.5 L319.3 443.5 Z M354.3 422.0 L363.0 421.4 L361.5 400.9 L353.1 401.4 Z M358.4 215.6 L363.7 214.9 L361.1 194.5 L356.2 195.1 Z M358.6 174.1 L363.2 173.4 L360.3 153.0 L356.0 153.6 Z M407.8 374.4 L415.7 372.9 L411.8 352.7 L404.3 354.1 Z M373.0 150.9 L377.2 150.0 L373.0 129.7 L369.1 130.5 Z M419.4 351.2 L426.9 349.6 L422.3 329.6 L415.2 331.1 Z M377.2 150.0 L381.4 149.1 L376.9 128.9 L373.0 129.7 Z M418.4 137.8 L422.4 136.2 L414.6 117.0 L410.9 118.5 Z M430.2 155.3 L434.5 153.5 L426.4 134.5 L422.4 136.2 Z" fill="#b5e9ed" stroke="#b5e9ed" stroke-width="0.6"/>
<path d="M229.3 137.8 L233.3 139.3 L240.5 119.9 L236.8 118.5 Z M233.3 139.3 L237.3 140.8 L244.2 121.2 L240.5 119.9 Z M155.4 373.5 L163.3 376.2 L169.9 356.7 L162.3 354.1 Z M237.3 140.8 L241.4 142.2 L248.0 122.5 L244.2 121.2 Z M241.4 142.2 L245.5 143.5 L251.7 123.7 L248.0 122.5 Z M245.5 143.5 L249.6 144.7 L255.5 124.9 L251.7 123.7 Z M249.6 144.7 L253.7 145.9 L259.3 126.0 L255.5 124.9 Z M248.2 165.8 L252.7 167.1 L257.9 147.1 L253.7 145.9 Z M253.7 145.9 L257.9 147.1 L263.1 127.0 L259.3 126.0 Z M252.7 167.1 L257.2 168.2 L262.1 148.1 L257.9 147.1 Z M257.9 147.1 L262.1 148.1 L267.0 128.0 L263.1 127.0 Z M257.2 168.2 L261.7 169.3 L266.3 149.1 L262.1 148.1 Z M278.9 151.6 L283.1 152.3 L286.4 131.9 L282.5 131.2 Z M283.1 152.3 L287.4 153.0 L290.3 132.5 L286.4 131.9 Z M286.4 131.9 L290.3 132.5 L293.2 111.9 L289.6 111.3 Z M290.3 132.5 L294.2 133.0 L296.8 112.4 L293.2 111.9 Z M294.2 133.0 L298.2 133.4 L300.4 112.8 L296.8 112.4 Z M296.8 112.4 L300.4 112.8 L302.6 92.0 L299.4 91.7 Z M273.9 358.4 L281.6 359.2 L283.4 338.7 L276.1 338.0 Z M300.4 112.8 L304.0 113.1 L305.9 92.4 L302.6 92.0 Z M304.0 113.1 L307.6 113.4 L309.1 92.6 L305.9 92.4 Z M307.6 113.4 L311.2 113.7 L312.4 92.8 L309.1 92.6 Z M319.0 484.9 L328.7 484.9 L328.5 464.2 L319.2 464.2 Z M347.3 463.7 L356.7 463.2 L355.5 442.6 L346.5 443.0 Z M336.3 196.6 L341.3 196.3 L340.1 175.7 L335.5 176.0 Z M356.7 463.2 L366.1 462.6 L364.6 442.0 L355.5 442.6 Z M343.7 237.4 L349.3 237.0 L347.8 216.5 L342.5 216.9 Z M342.5 216.9 L347.8 216.5 L346.3 196.0 L341.3 196.3 Z M386.5 398.4 L394.8 397.3 L391.9 376.9 L384.0 377.9 Z M356.0 153.6 L360.3 153.0 L357.4 132.5 L353.5 133.0 Z M394.8 397.3 L403.1 396.0 L399.9 375.7 L391.9 376.9 Z M369.1 130.5 L373.0 129.7 L368.7 109.4 L365.2 110.1 Z M373.0 129.7 L376.9 128.9 L372.3 108.6 L368.7 109.4 Z M426.9 349.6 L434.4 347.8 L429.5 327.9 L422.3 329.6 Z M376.9 128.9 L380.7 128.0 L375.8 107.8 L372.3 108.6 Z" fill="#d7e4e5" stroke="#d7e4e5" stroke-width="0.6"/>
<path d="M175.9 315.3 L182.9 317.7 L189.3 298.2 L182.7 295.9 Z M196.3 257.2 L202.3 259.3 L208.8 239.8 L203.1 237.9 Z M176.4 337.2 L183.7 339.5 L189.9 320.0 L182.9 317.7 Z M182.9 317.7 L189.9 320.0 L196.0 300.4 L189.3 298.2 Z M189.3 298.2 L196.0 300.4 L202.2 280.8 L195.8 278.8 Z M195.8 278.8 L202.2 280.8 L208.4 261.3 L202.3 259.3 Z M202.3 259.3 L208.4 261.3 L214.5 241.7 L208.8 239.8 Z M183.7 339.5 L191.0 341.8 L196.9 322.1 L189.9 320.0 Z M202.2 280.8 L208.6 282.8 L214.4 263.1 L208.4 261.3 Z M185.2 361.5 L192.9 363.7 L198.4 343.9 L191.0 341.8 Z M220.3 243.4 L226.0 245.1 L231.6 225.3 L226.1 223.8 Z M192.9 363.7 L200.7 365.8 L205.9 345.9 L198.4 343.9 Z M226.0 245.1 L231.8 246.7 L237.0 226.8 L231.6 225.3 Z M200.7 365.8 L208.4 367.8 L213.3 347.8 L205.9 345.9 Z M237.0 226.8 L242.5 228.2 L247.4 208.2 L242.2 206.9 Z M242.5 228.2 L248.0 229.5 L252.6 209.4 L247.4 208.2 Z M216.3 369.6 L224.1 371.3 L228.3 351.2 L220.8 349.6 Z M252.6 209.4 L257.8 210.6 L262.0 190.4 L257.1 189.4 Z M228.3 351.2 L235.9 352.7 L239.8 332.6 L232.5 331.1 Z M232.5 331.1 L239.8 332.6 L243.6 312.4 L236.7 311.0 Z M257.8 210.6 L263.0 211.6 L266.9 191.4 L262.0 190.4 Z M262.0 190.4 L266.9 191.4 L270.8 171.2 L266.2 170.2 Z M239.8 332.6 L247.0 333.9 L250.5 313.7 L243.6 312.4 Z M266.9 191.4 L271.8 192.3 L275.3 172.0 L270.8 171.2 Z M250.5 313.7 L257.5 314.8 L260.7 294.6 L254.1 293.5 Z M271.8 192.3 L276.7 193.1 L279.9 172.8 L275.3 172.0 Z M257.5 314.8 L264.4 315.9 L267.3 295.6 L260.7 294.6 Z M279.9 172.8 L284.5 173.4 L287.4 153.0 L283.1 152.3 Z M267.3 295.6 L273.9 296.4 L276.4 276.1 L270.1 275.3 Z M284.5 173.4 L289.1 174.1 L291.7 153.6 L287.4 153.0 Z M273.9 296.4 L280.5 297.2 L282.7 276.8 L276.4 276.1 Z M276.4 276.1 L282.7 276.8 L284.9 256.4 L279.0 255.7 Z M289.1 174.1 L293.7 174.6 L295.9 154.0 L291.7 153.6 Z M280.5 297.2 L287.2 297.9 L289.0 277.4 L282.7 276.8 Z M282.7 276.8 L289.0 277.4 L290.9 257.0 L284.9 256.4 Z M293.7 174.6 L298.3 175.1 L300.2 154.5 L295.9 154.0 Z M289.0 277.4 L295.3 278.0 L296.9 257.5 L290.9 257.0 Z M290.9 257.0 L296.9 257.5 L298.4 237.0 L292.7 236.6 Z M298.4 237.0 L304.0 237.4 L305.2 216.9 L299.9 216.5 Z M303.0 175.4 L307.6 175.7 L308.8 155.1 L304.5 154.8 Z M304.0 237.4 L309.7 237.7 L310.5 217.1 L305.2 216.9 Z M307.6 175.7 L312.2 176.0 L313.1 155.3 L308.8 155.1 Z M309.7 237.7 L315.4 237.9 L315.9 217.3 L310.5 217.1 Z M315.4 237.9 L321.0 238.0 L321.2 217.4 L315.9 217.3 Z M315.9 217.3 L321.2 217.4 L321.4 196.8 L316.4 196.7 Z M321.0 238.0 L326.7 238.0 L326.5 217.4 L321.2 217.4 Z M321.2 217.4 L326.5 217.4 L326.3 196.8 L321.4 196.8 Z M321.4 196.8 L326.3 196.8 L326.2 176.2 L321.5 176.2 Z M326.7 238.0 L332.3 237.9 L331.8 217.3 L326.5 217.4 Z M326.3 196.8 L331.3 196.7 L330.8 176.1 L326.2 176.2 Z M332.3 237.9 L338.0 237.7 L337.2 217.1 L331.8 217.3 Z M382.6 440.3 L391.6 439.3 L389.0 418.8 L380.4 419.8 Z M389.0 418.8 L397.7 417.7 L394.8 397.3 L386.5 398.4 Z M434.4 347.8 L441.8 345.9 L436.6 326.1 L429.5 327.9 Z" fill="#e3e3e3" stroke="#e3e3e3" stroke-width="0.6"/>
<path d="M189.9 320.0 L196.9 322.1 L202.7 302.4 L196.0 300.4 Z M196.0 300.4 L202.7 302.4 L208.6 282.8 L202.2 280.8 Z M208.4 261.3 L214.4 263.1 L220.3 243.4 L214.5 241.7 Z M191.0 341.8 L198.4 343.9 L204.0 324.2 L196.9 322.1 Z M208.6 282.8 L215.0 284.6 L220.5 264.9 L214.4 263.1 Z M214.4 263.1 L220.5 264.9 L226.0 245.1 L220.3 243.4 Z M231.8 246.7 L237.7 248.1 L242.5 228.2 L237.0 226.8 Z M220.8 349.6 L228.3 351.2 L232.5 331.1 L225.4 329.6 Z M225.4 329.6 L232.5 331.1 L236.7 311.0 L229.9 309.5 Z M248.0 229.5 L253.6 230.7 L257.8 210.6 L252.6 209.4 Z M236.7 311.0 L243.6 312.4 L247.5 292.3 L240.9 291.0 Z M243.6 312.4 L250.5 313.7 L254.1 293.5 L247.5 292.3 Z M263.0 211.6 L268.2 212.6 L271.8 192.3 L266.9 191.4 Z M254.1 293.5 L260.7 294.6 L263.9 274.3 L257.6 273.3 Z M260.7 294.6 L267.3 295.6 L270.1 275.3 L263.9 274.3 Z M263.9 274.3 L270.1 275.3 L273.0 254.9 L267.1 254.0 Z M276.7 193.1 L281.6 193.9 L284.5 173.4 L279.9 172.8 Z M270.1 275.3 L276.4 276.1 L279.0 255.7 L273.0 254.9 Z M279.0 255.7 L284.9 256.4 L287.1 236.0 L281.5 235.3 Z M284.9 256.4 L290.9 257.0 L292.7 236.6 L287.1 236.0 Z M292.7 236.6 L298.4 237.0 L299.9 216.5 L294.6 216.1 Z M298.3 175.1 L303.0 175.4 L304.5 154.8 L300.2 154.5 Z M310.5 217.1 L315.9 217.3 L316.4 196.7 L311.4 196.6 Z M316.4 196.7 L321.4 196.8 L321.5 176.2 L316.9 176.1 Z M397.7 417.7 L406.3 416.4 L403.1 396.0 L394.8 397.3 Z" fill="#e4e4e4" stroke="#e4e4e4" stroke-width="0.6"/>
<path d="M196.9 322.1 L204.0 324.2 L209.5 304.4 L202.7 302.4 Z M237.7 248.1 L243.5 249.5 L248.0 229.5 L242.5 228.2 Z M253.6 230.7 L259.1 231.8 L263.0 211.6 L257.8 210.6 Z M247.5 292.3 L254.1 293.5 L257.6 273.3 L251.4 272.1 Z M257.6 273.3 L263.9 274.3 L267.1 254.0 L261.1 253.1 Z M268.2 212.6 L273.5 213.5 L276.7 193.1 L271.8 192.3 Z M273.0 254.9 L279.0 255.7 L281.5 235.3 L275.9 234.6 Z M281.6 193.9 L286.6 194.5 L289.1 174.1 L284.5 173.4 Z M305.2 216.9 L310.5 217.1 L311.4 196.6 L306.4 196.3 Z M311.4 196.6 L316.4 196.7 L316.9 176.1 L312.2 176.0 Z" fill="#f6d1d1" stroke="#f6d1d1" stroke-width="0.6"/>
<path d="M202.7 302.4 L209.5 304.4 L215.0 284.6 L208.6 282.8 Z M204.0 324.2 L211.1 326.1 L216.3 306.2 L209.5 304.4 Z M211.1 326.1 L218.2 327.9 L223.1 307.9 L216.3 306.2 Z M216.3 306.2 L223.1 307.9 L227.9 288.0 L221.4 286.4 Z M226.6 266.5 L232.8 268.1 L237.7 248.1 L231.8 246.7 Z M223.1 307.9 L229.9 309.5 L234.4 289.5 L227.9 288.0 Z M227.9 288.0 L234.4 289.5 L239.0 269.5 L232.8 268.1 Z M234.4 289.5 L240.9 291.0 L245.2 270.9 L239.0 269.5 Z M239.0 269.5 L245.2 270.9 L249.4 250.8 L243.5 249.5 Z M243.5 249.5 L249.4 250.8 L253.6 230.7 L248.0 229.5 Z M245.2 270.9 L251.4 272.1 L255.2 252.0 L249.4 250.8 Z M261.1 253.1 L267.1 254.0 L270.3 233.8 L264.7 232.8 Z M273.5 213.5 L278.8 214.2 L281.6 193.9 L276.7 193.1 Z M281.5 235.3 L287.1 236.0 L289.3 215.6 L284.0 214.9 Z M291.5 195.1 L296.5 195.6 L298.3 175.1 L293.7 174.6 Z M299.9 216.5 L305.2 216.9 L306.4 196.3 L301.4 196.0 Z M391.6 439.3 L400.6 438.1 L397.7 417.7 L389.0 418.8 Z" fill="#f9b9b6" stroke="#f9b9b6" stroke-width="0.6"/>
<path d="M198.4 343.9 L205.9 345.9 L211.1 326.1 L204.0 324.2 Z M209.5 304.4 L216.3 306.2 L221.4 286.4 L215.0 284.6 Z M215.0 284.6 L221.4 286.4 L226.6 266.5 L220.5 264.9 Z M205.9 345.9 L213.3 347.8 L218.2 327.9 L211.1 326.1 Z M221.4 286.4 L227.9 288.0 L232.8 268.1 L226.6 266.5 Z M249.4 250.8 L255.2 252.0 L259.1 231.8 L253.6 230.7 Z M264.7 232.8 L270.3 233.8 L273.5 213.5 L268.2 212.6 Z M278.8 214.2 L284.0 214.9 L286.6 194.5 L281.6 193.9 Z M289.3 215.6 L294.6 216.1 L296.5 195.6 L291.5 195.1 Z M294.6 216.1 L299.9 216.5 L301.4 196.0 L296.5 195.6 Z M301.4 196.0 L306.4 196.3 L307.6 175.7 L303.0 175.4 Z M400.6 438.1 L409.5 436.8 L406.3 416.4 L397.7 417.7 Z M513.8 497.3 L523.7 494.0 L517.1 474.3 L507.5 477.4 Z M507.5 477.4 L517.1 474.3 L510.5 454.6 L501.2 457.6 Z M523.7 494.0 L533.5 490.7 L526.6 471.0 L517.1 474.3 Z M517.1 474.3 L526.6 471.0 L519.7 451.4 L510.5 454.6 Z M510.5 454.6 L519.7 451.4 L512.8 431.9 L504.0 434.9 Z M533.5 490.7 L543.3 487.1 L536.1 467.6 L526.6 471.0 Z M526.6 471.0 L536.1 467.6 L528.9 448.1 L519.7 451.4 Z M519.7 451.4 L528.9 448.1 L521.7 428.7 L512.8 431.9 Z M543.3 487.1 L553.1 483.4 L545.5 464.0 L536.1 467.6 Z M536.1 467.6 L545.5 464.0 L538.0 444.7 L528.9 448.1 Z M528.9 448.1 L538.0 444.7 L530.5 425.4 L521.7 428.7 Z M553.1 483.4 L562.8 479.6 L554.9 460.3 L545.5 464.0 Z M545.5 464.0 L554.9 460.3 L547.0 441.1 L538.0 444.7 Z M562.8 479.6 L572.4 475.5 L564.2 456.4 L554.9 460.3 Z M554.9 460.3 L564.2 456.4 L556.0 437.3 L547.0 441.1 Z M572.4 475.5 L581.9 471.3 L573.4 452.3 L564.2 456.4 Z M581.9 471.3 L591.4 467.0 L582.6 448.1 L573.4 452.3 Z M591.4 467.0 L600.8 462.5 L591.7 443.8 L582.6 448.1 Z" fill="#f5afaa" stroke="#f5afaa" stroke-width="0.6"/>
<path d="M220.5 264.9 L226.6 266.5 L231.8 246.7 L226.0 245.1 Z M213.3 347.8 L220.8 349.6 L225.4 329.6 L218.2 327.9 Z M218.2 327.9 L225.4 329.6 L229.9 309.5 L223.1 307.9 Z M229.9 309.5 L236.7 311.0 L240.9 291.0 L234.4 289.5 Z M240.9 291.0 L247.5 292.3 L251.4 272.1 L245.2 270.9 Z M251.4 272.1 L257.6 273.3 L261.1 253.1 L255.2 252.0 Z M259.1 231.8 L264.7 232.8 L268.2 212.6 L263.0 211.6 Z M267.1 254.0 L273.0 254.9 L275.9 234.6 L270.3 233.8 Z M286.6 194.5 L291.5 195.1 L293.7 174.6 L289.1 174.1 Z M287.1 236.0 L292.7 236.6 L294.6 216.1 L289.3 215.6 Z M306.4 196.3 L311.4 196.6 L312.2 176.0 L307.6 175.7 Z" fill="#fdc3c2" stroke="#fdc3c2" stroke-width="0.6"/>
<path d="M232.8 268.1 L239.0 269.5 L243.5 249.5 L237.7 248.1 Z M255.2 252.0 L261.1 253.1 L264.7 232.8 L259.1 231.8 Z M270.3 233.8 L275.9 234.6 L278.8 214.2 L273.5 213.5 Z M275.9 234.6 L281.5 235.3 L284.0 214.9 L278.8 214.2 Z M296.5 195.6 L301.4 196.0 L303.0 175.4 L298.3 175.1 Z" fill="#f2a29a" stroke="#f2a29a" stroke-width="0.6"/>
<path d="M247.1 438.1 L256.1 439.3 L258.7 418.8 L250.0 417.7 Z M250.0 417.7 L258.7 418.8 L261.2 398.4 L252.9 397.3 Z M262.9 460.9 L272.2 461.8 L274.1 441.2 L265.1 440.3 Z M286.2 400.9 L294.6 401.4 L295.7 380.9 L287.7 380.3 Z M287.7 380.3 L295.7 380.9 L296.9 360.3 L289.2 359.8 Z M291.0 463.2 L300.4 463.7 L301.2 443.0 L292.2 442.6 Z M346.5 443.0 L355.5 442.6 L354.3 422.0 L345.6 422.4 Z M345.6 422.4 L354.3 422.0 L353.1 401.4 L344.8 401.8 Z M366.2 235.3 L371.8 234.6 L368.9 214.2 L363.7 214.9 Z M366.1 193.9 L371.0 193.1 L367.8 172.8 L363.2 173.4 Z M374.2 213.5 L379.5 212.6 L375.9 192.3 L371.0 193.1 Z M411.8 352.7 L419.4 351.2 L415.2 331.1 L407.9 332.6 Z M381.5 170.2 L386.0 169.3 L381.4 149.1 L377.2 150.0 Z M457.8 320.0 L464.8 317.7 L458.4 298.2 L451.7 300.4 Z M451.7 300.4 L458.4 298.2 L451.9 278.8 L445.5 280.8 Z M458.4 298.2 L465.0 295.9 L458.2 276.6 L451.9 278.8 Z M417.2 160.3 L421.6 158.7 L414.4 139.3 L410.4 140.8 Z M428.8 178.0 L433.4 176.2 L425.9 157.0 L421.6 158.7 Z M515.4 342.4 L522.8 339.2 L514.4 320.4 L507.3 323.5 Z M507.3 323.5 L514.4 320.4 L506.0 301.7 L499.2 304.6 Z M522.8 339.2 L530.1 335.8 L521.4 317.2 L514.4 320.4 Z M514.4 320.4 L521.4 317.2 L512.6 298.6 L506.0 301.7 Z M538.8 354.5 L546.3 350.9 L537.3 332.4 L530.1 335.8 Z M530.1 335.8 L537.3 332.4 L528.3 313.9 L521.4 317.2 Z" fill="#7aeef3" stroke="#7aeef3" stroke-width="0.6"/>
<path d="M256.1 439.3 L265.1 440.3 L267.3 419.8 L258.7 418.8 Z M267.3 419.8 L276.0 420.7 L277.8 400.2 L269.5 399.3 Z M277.0 524.8 L287.4 525.4 L288.6 504.7 L278.5 504.0 Z M278.5 504.0 L288.6 504.7 L289.8 483.9 L280.1 483.3 Z M289.2 359.8 L296.9 360.3 L298.1 339.8 L290.8 339.4 Z M287.4 525.4 L297.8 526.0 L298.7 505.2 L288.6 504.7 Z M294.6 401.4 L302.9 401.8 L303.8 381.3 L295.7 380.9 Z M299.3 319.4 L306.3 319.7 L307.2 299.2 L300.5 298.9 Z M297.8 526.0 L308.2 526.3 L308.7 505.5 L298.7 505.2 Z M328.4 443.5 L337.4 443.3 L336.9 422.7 L328.2 422.8 Z M337.4 443.3 L346.5 443.0 L345.6 422.4 L336.9 422.7 Z M344.8 401.8 L353.1 401.4 L352.0 380.9 L343.9 381.3 Z M404.3 354.1 L411.8 352.7 L407.9 332.6 L400.7 333.9 Z M388.6 231.8 L394.1 230.7 L389.9 210.6 L384.7 211.6 Z M429.5 327.9 L436.6 326.1 L431.4 306.2 L424.6 307.9 Z M395.4 188.2 L400.3 187.0 L395.0 167.1 L390.5 168.2 Z" fill="#16fbfc" stroke="#16fbfc" stroke-width="0.6"/>
<path d="M284.0 214.9 L289.3 215.6 L291.5 195.1 L286.6 194.5 Z" fill="#ef958a" stroke="#ef958a" stroke-width="0.6"/>
<path d="M276.0 420.7 L284.7 421.4 L286.2 400.9 L277.8 400.2 Z M301.2 443.0 L310.3 443.3 L310.8 422.7 L302.1 422.4 Z M302.9 401.8 L311.3 402.1 L311.8 381.5 L303.8 381.3 Z M310.3 443.3 L319.3 443.5 L319.5 422.8 L310.8 422.7 Z M380.6 254.0 L386.6 253.1 L383.0 232.8 L377.4 233.8 Z M386.6 253.1 L392.5 252.0 L388.6 231.8 L383.0 232.8 Z M384.7 211.6 L389.9 210.6 L385.7 190.4 L380.8 191.4 Z M438.2 304.4 L445.0 302.4 L439.1 282.8 L432.7 284.6 Z M409.9 184.3 L414.6 182.9 L408.4 163.2 L404.0 164.6 Z" fill="#07e3dc" stroke="#07e3dc" stroke-width="0.6"/>
<path d="M281.6 462.6 L291.0 463.2 L292.2 442.6 L283.1 442.0 Z M300.4 463.7 L309.8 464.0 L310.3 443.3 L301.2 443.0 Z M307.2 299.2 L313.8 299.4 L314.3 278.9 L308.0 278.7 Z M314.3 278.9 L320.7 279.0 L320.8 258.5 L314.8 258.4 Z M320.7 279.0 L327.0 279.0 L326.9 258.5 L320.8 258.5 Z M327.0 279.0 L333.4 278.9 L332.9 258.4 L326.9 258.5 Z M350.8 257.5 L356.8 257.0 L355.0 236.6 L349.3 237.0 Z M384.0 377.9 L391.9 376.9 L389.1 356.5 L381.4 357.6 Z M391.9 376.9 L399.9 375.7 L396.7 355.4 L389.1 356.5 Z M371.0 193.1 L375.9 192.3 L372.4 172.0 L367.8 172.8 Z M386.0 169.3 L390.5 168.2 L385.6 148.1 L381.4 149.1 Z M390.5 168.2 L395.0 167.1 L389.8 147.1 L385.6 148.1 Z M395.0 167.1 L399.5 165.8 L394.0 145.9 L389.8 147.1 Z M412.8 161.8 L417.2 160.3 L410.4 140.8 L406.3 142.2 Z" fill="#6aeff4" stroke="#6aeff4" stroke-width="0.6"/>
<path d="M293.4 422.0 L302.1 422.4 L302.9 401.8 L294.6 401.4 Z M303.8 381.3 L311.8 381.5 L312.3 361.0 L304.6 360.7 Z M306.3 319.7 L313.3 319.9 L313.8 299.4 L307.2 299.2 Z M328.2 422.8 L336.9 422.7 L336.4 402.1 L328.0 402.2 Z M358.7 277.4 L365.0 276.8 L362.8 256.4 L356.8 257.0 Z M392.5 252.0 L398.3 250.8 L394.1 230.7 L388.6 231.8 Z M389.9 210.6 L395.1 209.4 L390.6 189.4 L385.7 190.4 Z M399.7 229.5 L405.2 228.2 L400.3 208.2 L395.1 209.4 Z" fill="#0ad4ca" stroke="#0ad4ca" stroke-width="0.6"/>
<path d="M296.9 360.3 L304.6 360.7 L305.5 340.2 L298.1 339.8 Z M310.8 422.7 L319.5 422.8 L319.7 402.2 L311.3 402.1 Z M319.7 402.2 L328.0 402.2 L327.9 381.7 L319.8 381.7 Z M328.0 402.2 L336.4 402.1 L335.9 381.5 L327.9 381.7 Z M405.5 206.9 L410.6 205.5 L405.1 185.7 L400.3 187.0 Z M439.3 261.3 L445.4 259.3 L438.9 239.8 L433.2 241.7 Z" fill="#14aa96" stroke="#14aa96" stroke-width="0.6"/>
<path d="M304.6 360.7 L312.3 361.0 L312.8 340.4 L305.5 340.2 Z M335.4 361.0 L343.1 360.7 L342.2 340.2 L334.9 340.4 Z M407.9 332.6 L415.2 331.1 L411.0 311.0 L404.1 312.4 Z M410.0 248.1 L415.9 246.7 L410.7 226.8 L405.2 228.2 Z M420.8 202.5 L425.9 200.8 L419.4 181.3 L414.6 182.9 Z" fill="#246854" stroke="#246854" stroke-width="0.6"/>
<path d="M305.5 340.2 L312.8 340.4 L313.3 319.9 L306.3 319.7 Z M311.8 381.5 L319.8 381.7 L320.0 361.1 L312.3 361.0 Z M335.9 381.5 L343.9 381.3 L343.1 360.7 L335.4 361.0 Z M405.2 228.2 L410.7 226.8 L405.5 206.9 L400.3 208.2 Z M445.4 259.3 L451.4 257.2 L444.6 237.9 L438.9 239.8 Z M435.9 197.3 L440.9 195.4 L433.4 176.2 L428.8 178.0 Z M447.2 170.5 L451.7 168.4 L443.0 149.7 L438.8 151.7 Z" fill="#189682" stroke="#189682" stroke-width="0.6"/>
<path d="M312.3 361.0 L320.0 361.1 L320.2 340.6 L312.8 340.4 Z M320.2 340.6 L327.5 340.6 L327.4 320.0 L320.3 320.0 Z M350.8 360.3 L358.5 359.8 L356.9 339.4 L349.6 339.8 Z M390.1 273.3 L396.3 272.1 L392.5 252.0 L386.6 253.1 Z" fill="#274658" stroke="#274658" stroke-width="0.6"/>
<path d="M312.8 340.4 L320.2 340.6 L320.3 320.0 L313.3 319.9 Z M343.1 360.7 L350.8 360.3 L349.6 339.8 L342.2 340.2 Z" fill="#2a5844" stroke="#2a5844" stroke-width="0.6"/>
<path d="M313.3 319.9 L320.3 320.0 L320.5 299.5 L313.8 299.4 Z M327.9 381.7 L335.9 381.5 L335.4 361.0 L327.7 361.1 Z M333.9 299.4 L340.5 299.2 L339.7 278.7 L333.4 278.9 Z M373.8 358.4 L381.4 357.6 L378.9 337.2 L371.6 338.0 Z M381.4 357.6 L389.1 356.5 L386.2 336.2 L378.9 337.2 Z M427.2 264.9 L433.3 263.1 L427.4 243.4 L421.7 245.1 Z M430.9 199.1 L435.9 197.3 L428.8 178.0 L424.1 179.7 Z" fill="#1e7864" stroke="#1e7864" stroke-width="0.6"/>
<path d="M319.5 422.8 L328.2 422.8 L328.0 402.2 L319.7 402.2 Z M371.3 276.1 L377.6 275.3 L374.7 254.9 L368.7 255.7 Z M431.4 306.2 L438.2 304.4 L432.7 284.6 L426.3 286.4 Z M432.7 284.6 L439.1 282.8 L433.3 263.1 L427.2 264.9 Z M433.3 263.1 L439.3 261.3 L433.2 241.7 L427.4 243.4 Z" fill="#16a08c" stroke="#16a08c" stroke-width="0.6"/>
<path d="M319.8 381.7 L327.9 381.7 L327.7 361.1 L320.0 361.1 Z M389.1 356.5 L396.7 355.4 L393.5 335.1 L386.2 336.2 Z M455.6 189.3 L460.5 187.0 L451.7 168.4 L447.2 170.5 Z" fill="#1c826e" stroke="#1c826e" stroke-width="0.6"/>
<path d="M320.0 361.1 L327.7 361.1 L327.5 340.6 L320.2 340.6 Z M320.3 320.0 L327.4 320.0 L327.2 299.5 L320.5 299.5 Z M366.1 359.2 L373.8 358.4 L371.6 338.0 L364.3 338.7 Z M415.9 246.7 L421.7 245.1 L416.1 225.3 L410.7 226.8 Z M416.1 225.3 L421.6 223.8 L415.7 204.0 L410.6 205.5 Z" fill="#2d503c" stroke="#2d503c" stroke-width="0.6"/>
<path d="M327.7 361.1 L335.4 361.0 L334.9 340.4 L327.5 340.6 Z M421.1 266.5 L427.2 264.9 L421.7 245.1 L415.9 246.7 Z M425.9 200.8 L430.9 199.1 L424.1 179.7 L419.4 181.3 Z" fill="#27604c" stroke="#27604c" stroke-width="0.6"/>
<path d="M327.5 340.6 L334.9 340.4 L334.4 319.9 L327.4 320.0 Z M427.0 222.1 L432.4 220.3 L425.9 200.8 L420.8 202.5 Z M458.8 210.3 L464.0 208.0 L455.6 189.3 L450.7 191.4 Z" fill="#162bb2" stroke="#162bb2" stroke-width="0.6"/>
<path d="M327.4 320.0 L334.4 319.9 L333.9 299.4 L327.2 299.5 Z M340.5 299.2 L347.2 298.9 L346.0 278.4 L339.7 278.7 Z M419.8 288.0 L426.3 286.4 L421.1 266.5 L414.9 268.1 Z" fill="#213c74" stroke="#213c74" stroke-width="0.6"/>
<path d="M334.9 340.4 L342.2 340.2 L341.4 319.7 L334.4 319.9 Z M347.2 298.9 L353.9 298.4 L352.4 278.0 L346.0 278.4 Z M367.2 297.2 L373.8 296.4 L371.3 276.1 L365.0 276.8 Z M437.7 218.5 L443.1 216.6 L435.9 197.3 L430.9 199.1 Z" fill="#0810e6" stroke="#0810e6" stroke-width="0.6"/>
<path d="M334.4 319.9 L341.4 319.7 L340.5 299.2 L333.9 299.4 Z M444.6 237.9 L450.2 235.8 L443.1 216.6 L437.7 218.5 Z" fill="#0409ed" stroke="#0409ed" stroke-width="0.6"/>
<path d="M342.2 340.2 L349.6 339.8 L348.4 319.4 L341.4 319.7 Z M393.5 335.1 L400.7 333.9 L397.2 313.7 L390.2 314.8 Z" fill="#0408eb" stroke="#0408eb" stroke-width="0.6"/>
<path d="M341.4 319.7 L348.4 319.4 L347.2 298.9 L340.5 299.2 Z M400.2 292.3 L406.8 291.0 L402.5 270.9 L396.3 272.1 Z M455.8 233.7 L461.4 231.5 L453.6 212.5 L448.4 214.6 Z" fill="#0306e6" stroke="#0306e6" stroke-width="0.6"/>
<path d="M349.6 339.8 L356.9 339.4 L355.4 318.9 L348.4 319.4 Z M393.6 293.5 L400.2 292.3 L396.3 272.1 L390.1 273.3 Z M404.1 312.4 L411.0 311.0 L406.8 291.0 L400.2 292.3 Z" fill="#0305e4" stroke="#0305e4" stroke-width="0.6"/>
<path d="M348.4 319.4 L355.4 318.9 L353.9 298.4 L347.2 298.9 Z M387.0 294.6 L393.6 293.5 L390.1 273.3 L383.8 274.3 Z" fill="#0204e1" stroke="#0204e1" stroke-width="0.6"/>
<path d="M346.0 278.4 L352.4 278.0 L350.8 257.5 L344.8 257.9 Z M426.3 286.4 L432.7 284.6 L427.2 264.9 L421.1 266.5 Z M410.7 226.8 L416.1 225.3 L410.6 205.5 L405.5 206.9 Z M415.7 204.0 L420.8 202.5 L414.6 182.9 L409.9 184.3 Z" fill="#21705c" stroke="#21705c" stroke-width="0.6"/>
<path d="M358.5 359.8 L366.1 359.2 L364.3 338.7 L356.9 339.4 Z M396.3 272.1 L402.5 270.9 L398.3 250.8 L392.5 252.0 Z M424.6 307.9 L431.4 306.2 L426.3 286.4 L419.8 288.0 Z" fill="#2a4b4a" stroke="#2a4b4a" stroke-width="0.6"/>
<path d="M356.9 339.4 L364.3 338.7 L362.4 318.3 L355.4 318.9 Z M362.4 318.3 L369.4 317.6 L367.2 297.2 L360.5 297.9 Z M383.3 315.9 L390.2 314.8 L387.0 294.6 L380.4 295.6 Z" fill="#0103de" stroke="#0103de" stroke-width="0.6"/>
<path d="M355.4 318.9 L362.4 318.3 L360.5 297.9 L353.9 298.4 Z M386.2 336.2 L393.5 335.1 L390.2 314.8 L383.3 315.9 Z M380.4 295.6 L387.0 294.6 L383.8 274.3 L377.6 275.3 Z M390.2 314.8 L397.2 313.7 L393.6 293.5 L387.0 294.6 Z M397.2 313.7 L404.1 312.4 L400.2 292.3 L393.6 293.5 Z M466.9 229.2 L472.4 226.8 L464.0 208.0 L458.8 210.3 Z M477.9 224.3 L483.3 221.7 L474.3 203.2 L469.2 205.7 Z" fill="#0203df" stroke="#0203df" stroke-width="0.6"/>
<path d="M353.9 298.4 L360.5 297.9 L358.7 277.4 L352.4 278.0 Z M411.0 311.0 L417.8 309.5 L413.3 289.5 L406.8 291.0 Z M406.8 291.0 L413.3 289.5 L408.7 269.5 L402.5 270.9 Z M472.4 226.8 L477.9 224.3 L469.2 205.7 L464.0 208.0 Z" fill="#0509ee" stroke="#0509ee" stroke-width="0.6"/>
<path d="M364.3 338.7 L371.6 338.0 L369.4 317.6 L362.4 318.3 Z M376.4 316.8 L383.3 315.9 L380.4 295.6 L373.8 296.4 Z" fill="#0101da" stroke="#0101da" stroke-width="0.6"/>
<path d="M360.5 297.9 L367.2 297.2 L365.0 276.8 L358.7 277.4 Z M453.6 212.5 L458.8 210.3 L450.7 191.4 L445.8 193.4 Z" fill="#1122c8" stroke="#1122c8" stroke-width="0.6"/>
<path d="M371.6 338.0 L378.9 337.2 L376.4 316.8 L369.4 317.6 Z M369.4 317.6 L376.4 316.8 L373.8 296.4 L367.2 297.2 Z M378.9 337.2 L386.2 336.2 L383.3 315.9 L376.4 316.8 Z" fill="#0102dc" stroke="#0102dc" stroke-width="0.6"/>
<path d="M373.8 296.4 L380.4 295.6 L377.6 275.3 L371.3 276.1 Z M461.4 231.5 L466.9 229.2 L458.8 210.3 L453.6 212.5 Z" fill="#0205e3" stroke="#0205e3" stroke-width="0.6"/>
<path d="M377.6 275.3 L383.8 274.3 L380.6 254.0 L374.7 254.9 Z M469.2 205.7 L474.3 203.2 L465.3 184.7 L460.5 187.0 Z" fill="#1a319a" stroke="#1a319a" stroke-width="0.6"/>
<path d="M396.7 355.4 L404.3 354.1 L400.7 333.9 L393.5 335.1 Z M422.3 329.6 L429.5 327.9 L424.6 307.9 L417.8 309.5 Z M404.2 249.5 L410.0 248.1 L405.2 228.2 L399.7 229.5 Z M410.6 205.5 L415.7 204.0 L409.9 184.3 L405.1 185.7 Z" fill="#1a8c78" stroke="#1a8c78" stroke-width="0.6"/>
<path d="M383.8 274.3 L390.1 273.3 L386.6 253.1 L380.6 254.0 Z M415.2 331.1 L422.3 329.6 L417.8 309.5 L411.0 311.0 Z M421.7 245.1 L427.4 243.4 L421.6 223.8 L416.1 225.3 Z M421.6 223.8 L427.0 222.1 L420.8 202.5 L415.7 204.0 Z" fill="#1e3782" stroke="#1e3782" stroke-width="0.6"/>
<path d="M400.7 333.9 L407.9 332.6 L404.1 312.4 L397.2 313.7 Z M464.0 208.0 L469.2 205.7 L460.5 187.0 L455.6 189.3 Z" fill="#182ea6" stroke="#182ea6" stroke-width="0.6"/>
<path d="M402.5 270.9 L408.7 269.5 L404.2 249.5 L398.3 250.8 Z M408.7 269.5 L414.9 268.1 L410.0 248.1 L404.2 249.5 Z M414.9 268.1 L421.1 266.5 L415.9 246.7 L410.0 248.1 Z" fill="#244166" stroke="#244166" stroke-width="0.6"/>
<path d="M417.8 309.5 L424.6 307.9 L419.8 288.0 L413.3 289.5 Z M413.3 289.5 L419.8 288.0 L414.9 268.1 L408.7 269.5 Z M427.4 243.4 L433.2 241.7 L427.0 222.1 L421.6 223.8 Z" fill="#1428be" stroke="#1428be" stroke-width="0.6"/>
<path d="M433.2 241.7 L438.9 239.8 L432.4 220.3 L427.0 222.1 Z M432.4 220.3 L437.7 218.5 L430.9 199.1 L425.9 200.8 Z M443.1 216.6 L448.4 214.6 L440.9 195.4 L435.9 197.3 Z" fill="#0b16dc" stroke="#0b16dc" stroke-width="0.6"/>
<path d="M438.9 239.8 L444.6 237.9 L437.7 218.5 L432.4 220.3 Z" fill="#050af0" stroke="#050af0" stroke-width="0.6"/>
<path d="M450.2 235.8 L455.8 233.7 L448.4 214.6 L443.1 216.6 Z" fill="#0407e9" stroke="#0407e9" stroke-width="0.6"/>
<path d="M448.4 214.6 L453.6 212.5 L445.8 193.4 L440.9 195.4 Z" fill="#0e1cd2" stroke="#0e1cd2" stroke-width="0.6"/>
<path d="M495.3 261.4 L501.3 258.6 L492.3 240.1 L486.6 242.9 Z M486.6 242.9 L492.3 240.1 L483.3 221.7 L477.9 224.3 Z" fill="#0307e8" stroke="#0307e8" stroke-width="0.6"/>
<path d="M296.0 -5.0 L296.0 74.0 L294.5 76.6 L287.5 85.4 L284.0 88.0 L280.5 92.4 L277.0 93.7 L277.4 97.6 L274.4 102.0 L270.0 103.7 L269.1 109.0 L266.5 112.5 L261.2 114.2 L259.5 119.5 L256.9 124.7 L252.5 129.1 L249.0 133.5 L245.0 141.0 L247.0 148.0 L250.0 155.0 L249.0 167.0 L246.0 176.0 L243.5 186.0 L240.0 195.0 L236.0 203.0 L234.0 211.0 L230.0 217.0 L224.0 222.0 L221.0 229.0 L216.0 233.5 L209.0 236.5 L206.5 243.0 L204.0 251.0 L200.0 254.0 L198.5 261.0 L197.0 272.0 L196.8 284.0 L194.0 292.5 L188.4 297.5 L180.0 301.5 L168.8 304.5 L156.2 307.2 L145.0 310.0 L129.6 311.4 L100.0 318.0 L-30.0 378.0 L-30.0 -5.0 Z M372.1 113.6 L378.4 110.5 L383.6 109.4 L388.9 104.2 L392.0 103.2 L395.1 96.9 L399.3 90.6 L404.6 88.5 L407.7 86.4 L410.8 89.6 L415.0 95.8 L419.2 104.2 L421.3 109.4 L418.2 110.5 L411.9 108.4 L406.7 106.3 L404.6 109.4 L408.7 113.6 L412.9 116.7 L418.2 118.8 L422.3 125.1 L426.5 129.3 L430.7 132.4 L434.9 139.8 L435.9 147.1 L432.8 146.0 L427.6 139.8 L425.5 147.1 L423.4 143.9 L421.3 135.6 L417.1 131.4 L414.0 129.3 L412.9 133.5 L414.0 139.8 L412.9 143.9 L414.0 151.3 L415.0 158.6 L415.0 169.0 L412.9 172.2 L409.8 168.0 L406.7 164.9 L400.4 158.6 L396.2 153.4 L393.1 148.1 L392.0 143.9 L387.8 143.9 L384.7 140.8 L380.5 136.6 L376.3 132.4 L375.3 129.3 L378.4 126.2 L376.3 120.9 L373.2 116.7 L372.1 113.6 Z M140.2 378.3 L145.7 374.9 L151.2 368.5 L157.9 364.5 L162.6 366.0 L166.4 371.9 L169.4 377.0 L167.3 382.9 L168.5 387.6 L172.3 385.9 L176.1 380.4 L178.3 378.3 L180.0 380.4 L180.8 386.3 L184.2 381.2 L189.3 380.0 L192.7 382.9 L194.4 381.2 L197.7 382.9 L199.4 386.3 L203.7 382.9 L206.2 384.6 L209.6 379.6 L213.0 378.3 L215.5 381.2 L219.8 384.6 L225.7 384.2 L221.4 389.7 L223.1 392.3 L224.0 397.3 L228.2 401.6 L229.9 404.1 L229.5 409.2 L229.1 413.4 L224.8 416.0 L223.1 419.4 L218.9 421.9 L216.4 424.4 L211.3 426.1 L206.2 427.8 L197.7 430.4 L193.5 432.1 L187.6 431.2 L182.5 434.6 L178.3 435.4 L172.3 433.7 L167.3 431.2 L163.9 429.5 L160.5 426.1 L156.2 421.9 L152.9 419.4 L146.9 417.7 L143.1 416.8 L144.8 411.3 L152.0 412.6 L154.6 409.2 L152.4 405.8 L151.2 400.7 L146.9 396.9 L139.3 392.7 L146.9 391.4 L153.7 391.4 L157.9 394.0 L159.6 392.3 L153.7 389.7 L155.4 388.0 L160.5 385.5 L157.1 382.9 L144.4 382.1 Z M492.9 262.8 L537.5 245.7 L668.7 245.7 L668.7 571.2 L401.0 571.2 L401.0 518.7 L398.4 505.6 L395.7 492.5 L395.7 479.3 L401.0 466.2 L411.5 455.7 L419.4 445.2 L429.9 437.3 L435.1 424.2 L440.4 408.5 L443.0 392.7 L445.6 377.0 L448.2 366.5 L453.5 356.0 L450.9 345.5 L440.4 348.1 L443.0 340.2 L450.9 327.1 L456.1 316.6 L464.0 303.5 L469.2 290.4 L477.1 285.1 L485.0 274.6 L492.9 262.8 Z M274.8 476.6 L279.5 474.2 L286.4 476.6 L287.6 480.1 L283.0 483.6 L281.8 490.5 L280.6 499.9 L278.3 497.5 L277.1 485.9 L274.8 481.2 Z M332.9 515.4 L335.2 512.6 L337.4 511.5 L339.7 508.6 L341.4 509.2 L341.1 512.6 L339.7 514.3 L339.1 516.5 L339.7 519.4 L332.9 519.4 Z" fill="#637769"/>
<path d="M540.1 356.0 L534.9 363.9 L529.6 377.0 L530.9 392.7 L525.7 411.1 L517.8 429.5 L513.9 447.8 L517.8 466.2 L523.0 479.3 L537.5 482.0 L550.6 478.0 L558.5 468.8 L555.9 453.1 L549.3 437.3 L542.7 421.6 L538.8 413.7 L542.7 395.4 L548.0 379.6 L546.7 366.5 L540.1 356.0 Z" fill="#fff"/>
<path d="M303.1 74.9 L307.5 85.4 L312.7 97.6 L315.3 109.8 L316.2 120.2 L315.3 134.2 L316.2 144.6 L314.5 155.1 L311.0 169.0 L307.5 179.5 L298.8 186.5 L290.1 193.4 L281.3 202.2 L272.6 210.9 L263.9 219.6 L255.2 228.3 M310.1 74.9 L315.3 90.6 L320.6 102.8 L324.9 110.1 L328.1 108.0 L329.8 99.3 L328.4 92.3 L326.7 83.6 L325.8 74.9 M340.6 74.9 L342.4 90.6 L347.6 102.8 L354.6 111.5 L359.8 120.2 L365.0 130.7 L370.3 141.1 L377.2 151.6 L384.2 162.1 L391.2 170.8 L399.9 177.8 L406.9 181.2 L412.4 194.9 L422.4 209.9 L424.9 229.9 L426.1 244.9 L425.0 247.2 L426.4 255.6 L432.0 261.2 L440.4 269.6 L446.0 273.8 L451.6 282.2 L455.8 292.0 L455.1 301.8 L453.0 307.4 L447.4 315.8 L441.8 322.8 L434.8 329.8 L427.8 336.8 L420.8 345.2 L416.6 353.6 L413.8 360.6 L408.2 369.0 L401.2 376.0 L394.2 381.6 L388.6 387.2 L385.8 394.2 L384.4 404.0 L383.7 410.0 L386.1 419.9 L384.9 434.9 L393.6 444.9 L394.9 454.8 L379.9 459.8 L354.9 469.8 L334.9 482.3 L322.4 494.8 L310.0 507.3 L300.0 514.8 L297.5 518.5 M359.8 74.9 L361.6 87.1 L363.3 96.7 L370.3 97.6 L377.2 93.2 L384.2 90.6 L386.0 81.9 L392.9 74.9 L398.2 69.7 M331.9 151.6 L337.1 152.5 L342.4 154.2 L347.6 155.1 L351.1 154.2 L350.2 162.1 L352.0 169.0 L354.6 176.0 L355.4 186.5 L353.7 193.4 L350.7 200.4 L352.8 214.4 L349.3 217.8 L345.9 216.4 L342.4 210.9 L338.9 203.9 L333.7 196.9 L328.4 189.1 L324.1 179.5 L322.3 170.8 L324.9 160.3 L331.9 151.6 M321.4 183.9 L328.4 191.7 L335.4 200.4 L342.4 209.1 L347.6 216.1 L352.8 218.7 L358.1 214.4 L361.6 217.8 L363.3 224.8 L366.8 228.3 L370.3 230.0 L368.5 237.0 L363.3 238.8 L358.1 237.0 L354.6 240.5 L349.3 247.5 L344.1 251.0 L338.9 247.5 L333.7 245.7 L328.4 249.2 L323.2 249.2 L318.0 244.0 L312.7 245.7 L307.5 249.2 L302.3 247.5 L297.0 249.2 L291.8 247.5 L286.6 244.0 L281.3 242.2 L278.7 237.0 L277.0 230.0 L276.1 223.1 L277.9 217.8 L283.1 212.6 L291.8 207.4 L300.5 202.2 L309.2 196.9 L316.2 190.0 L321.4 183.9 M363.3 146.4 L365.9 148.1 L368.5 155.1 L369.4 160.3 L367.7 160.0 L365.0 155.1 L363.3 146.4 M367.7 165.6 L369.4 167.3 L370.6 176.0 L371.1 186.5 L369.9 186.5 L368.2 177.8 L367.7 165.6 M372.0 193.4 L375.5 198.7 L380.7 210.9 L385.1 221.3 L387.7 231.8 L386.3 231.8 L382.5 221.3 L377.2 209.1 L372.9 200.4 L372.0 193.4 M338.9 116.7 L342.4 115.0 L345.9 118.5 L350.2 120.2 L349.3 127.2 L347.6 135.9 L344.1 134.2 L342.4 128.9 L337.1 128.1 L335.4 125.5 L338.9 123.7 L338.9 116.7 M284.7 198.9 L278.4 208.9 L266.0 218.8 L253.5 228.8 L243.6 243.7 L236.1 256.2 L226.2 264.9 L218.7 274.8 L212.5 288.5 L208.7 301.0 L203.7 310.9 L193.8 315.4 L182.6 317.1 L172.6 318.4 L162.7 323.4 L152.7 329.6 L146.5 337.0 L144.0 347.7 L149.0 339.5 L158.9 333.8 L173.9 330.8 L182.6 333.3 L188.8 338.3 L196.3 340.8 L206.2 338.3 L210.0 334.6 L211.2 343.3 L206.2 350.7 L218.7 353.2 L226.2 358.2 L233.6 370.6 L241.1 383.1 L246.1 393.0 L252.3 403.0 L261.0 398.0 L268.5 396.8 L272.2 403.0 L273.5 412.9 L269.7 420.4 L263.5 425.4 L266.0 432.8 L271.0 440.3 L280.9 446.5 L295.9 450.3 L305.8 455.2 L313.3 462.7 L320.8 467.7 L324.5 472.7 L320.8 480.1 L315.8 487.8 L313.3 497.5 L302.0 501.5 L300.1 511.7 L299.4 515.5 M100.4 359.4 L105.4 361.2 L109.2 365.7 L107.9 375.6 L105.4 385.6 L107.9 398.0 L110.4 410.5 L112.9 420.4 L109.2 422.9 L96.7 429.1 L84.3 436.6 L74.3 446.5 L70.6 452.8 L74.3 451.5 L86.7 445.3 L101.7 437.8 L116.6 432.8 L129.1 430.4 L141.5 435.3 L154.0 437.8 L163.9 439.1 L176.4 441.6 L186.3 444.0 L196.3 440.3 L208.7 440.3 L221.2 439.1 L223.7 445.3 L226.2 452.8 L231.1 462.7 L236.1 467.7 L243.6 470.2 L246.1 477.6 L248.6 487.8 L249.8 497.5 L241.0 496.4 L233.4 497.7 L230.8 509.1 L232.7 518.0 L233.4 521.8 M238.6 287.3 L246.1 286.0 L258.5 288.5 L266.0 289.8 L271.0 288.5 L280.9 292.3 L288.4 293.5 L290.9 298.5 L298.3 302.2 L293.4 303.5 L285.9 303.5 L283.4 313.4 L284.7 333.3 L282.2 334.6 L279.7 315.9 L275.9 305.9 L271.0 304.7 L268.5 303.5 L266.0 305.9 L263.5 304.7 L261.0 293.5 L258.5 304.7 L256.0 303.5 L253.5 293.5 L248.6 291.0 L241.1 291.0 L238.6 287.3 M218.7 323.4 L222.4 319.6 L226.2 314.6 L229.9 310.9 L231.1 315.9 L229.9 320.9 L226.2 325.8 L221.2 325.8 L218.7 323.4 M243.6 277.3 L246.1 275.6 L248.6 277.3 L247.3 279.8 L244.1 279.6 L243.6 277.3 M233.6 299.0 L236.1 298.0 L237.4 302.2 L235.6 304.7 L233.6 303.5 L233.6 299.0 M65.6 455.2 L68.1 453.5 L70.1 455.2 L68.1 457.2 L65.6 455.2 M369.0 280.1 L376.0 282.9 L383.0 287.8 L387.2 293.4 L390.0 300.4 L394.2 306.0 L398.4 311.6 L402.6 318.6 L408.2 324.2 L412.4 328.4 L415.2 332.6 L411.0 334.0 L406.8 333.3 L404.0 336.1 L398.4 337.5 L392.8 339.6 L385.8 342.4 L377.4 343.8 L369.0 345.2 L362.0 346.6 L353.6 344.5 L348.0 339.6 L342.4 334.0 L338.2 329.8 L334.0 324.2 L329.8 320.0 L326.3 315.8 L328.4 311.6 L334.0 307.4 L339.6 303.2 L345.2 297.6 L349.4 290.6 L353.6 286.4 L359.2 287.8 L363.4 283.6 L369.0 280.1 M329.8 320.0 L331.9 328.4 L331.2 336.8 L334.0 345.2 L339.6 352.2 L345.2 357.8 L349.4 360.6 L350.1 366.2 L348.0 369.0 L350.8 376.0 L352.9 383.0 L355.0 391.4 L356.4 398.4 L353.6 402.6 L350.8 401.2 L346.6 405.4 L342.6 410.0 L332.5 421.4 L319.8 434.1 L313.4 441.8 L300.7 445.6 L290.5 445.6 L288.0 439.2 L289.3 429.1 L291.8 421.4 L296.9 415.1 L300.7 410.0 L293.4 401.2 L291.3 395.6 L292.0 383.0 L293.4 369.0 L294.8 355.0 L296.2 341.0 L299.0 328.4 L303.2 320.0 L308.1 313.7 M313.0 308.8 L320.0 306.0 L327.0 303.2 L328.4 306.0 L322.8 308.8 L318.6 310.2 L313.0 308.8 M342.4 306.7 L345.2 305.3 L347.3 308.1 L346.6 310.9 L343.8 311.3 L342.1 308.8 L342.4 306.7 M209.2 510.4 L218.1 501.5 L227.0 499.6 L230.8 504.0 M296.9 422.7 L302.0 421.4 L302.6 429.1 L300.7 435.4 L298.2 435.4 L296.3 429.1 L296.9 422.7" fill="none" stroke="#000" stroke-width="1.8" stroke-linejoin="round"/>
<path d="M333.7 99.3m-1.3 0a1.3 1.3 0 1 0 2.6 0a1.3 1.3 0 1 0 -2.6 0 M334.5 110.6m-1.3 0a1.3 1.3 0 1 0 2.6 0a1.3 1.3 0 1 0 -2.6 0 M340.6 159.5m-1.3 0a1.3 1.3 0 1 0 2.6 0a1.3 1.3 0 1 0 -2.6 0 M359.8 217.8m-1.3 0a1.3 1.3 0 1 0 2.6 0a1.3 1.3 0 1 0 -2.6 0 M369.4 228.3m-1.3 0a1.3 1.3 0 1 0 2.6 0a1.3 1.3 0 1 0 -2.6 0 M383.3 243.1m-1.3 0a1.3 1.3 0 1 0 2.6 0a1.3 1.3 0 1 0 -2.6 0 M368.5 256.2m-1.3 0a1.3 1.3 0 1 0 2.6 0a1.3 1.3 0 1 0 -2.6 0 M283.1 251.8m-1.3 0a1.3 1.3 0 1 0 2.6 0a1.3 1.3 0 1 0 -2.6 0 M327.5 237.9m-1.3 0a1.3 1.3 0 1 0 2.6 0a1.3 1.3 0 1 0 -2.6 0 M256.0 324.6m-1.3 0a1.3 1.3 0 1 0 2.6 0a1.3 1.3 0 1 0 -2.6 0 M278.4 339.5m-1.3 0a1.3 1.3 0 1 0 2.6 0a1.3 1.3 0 1 0 -2.6 0 M217.4 338.3m-1.3 0a1.3 1.3 0 1 0 2.6 0a1.3 1.3 0 1 0 -2.6 0 M268.5 266.1m-1.3 0a1.3 1.3 0 1 0 2.6 0a1.3 1.3 0 1 0 -2.6 0 M323.2 269.9m-1.3 0a1.3 1.3 0 1 0 2.6 0a1.3 1.3 0 1 0 -2.6 0 M351.9 269.1m-1.3 0a1.3 1.3 0 1 0 2.6 0a1.3 1.3 0 1 0 -2.6 0 M328.2 238.3m-1.3 0a1.3 1.3 0 1 0 2.6 0a1.3 1.3 0 1 0 -2.6 0 M369.0 257.0m-1.3 0a1.3 1.3 0 1 0 2.6 0a1.3 1.3 0 1 0 -2.6 0 M361.7 263.3m-1.3 0a1.3 1.3 0 1 0 2.6 0a1.3 1.3 0 1 0 -2.6 0 M322.8 270.3m-1.3 0a1.3 1.3 0 1 0 2.6 0a1.3 1.3 0 1 0 -2.6 0 M326.3 265.1m-1.3 0a1.3 1.3 0 1 0 2.6 0a1.3 1.3 0 1 0 -2.6 0 M351.5 269.6m-1.3 0a1.3 1.3 0 1 0 2.6 0a1.3 1.3 0 1 0 -2.6 0 M336.8 292.0m-1.3 0a1.3 1.3 0 1 0 2.6 0a1.3 1.3 0 1 0 -2.6 0 M294.8 291.3m-1.3 0a1.3 1.3 0 1 0 2.6 0a1.3 1.3 0 1 0 -2.6 0 M313.0 330.5m-1.3 0a1.3 1.3 0 1 0 2.6 0a1.3 1.3 0 1 0 -2.6 0 M318.6 336.1m-1.3 0a1.3 1.3 0 1 0 2.6 0a1.3 1.3 0 1 0 -2.6 0 M337.5 314.4m-1.3 0a1.3 1.3 0 1 0 2.6 0a1.3 1.3 0 1 0 -2.6 0 M332.6 352.9m-1.3 0a1.3 1.3 0 1 0 2.6 0a1.3 1.3 0 1 0 -2.6 0 M320.7 374.6m-1.3 0a1.3 1.3 0 1 0 2.6 0a1.3 1.3 0 1 0 -2.6 0 M304.6 396.3m-1.3 0a1.3 1.3 0 1 0 2.6 0a1.3 1.3 0 1 0 -2.6 0 M313.7 407.5m-1.3 0a1.3 1.3 0 1 0 2.6 0a1.3 1.3 0 1 0 -2.6 0" fill="#000"/>
<path d="M46.9 462.5 L52.3 465.1 L57.7 467.7 L63.1 470.1 L68.5 472.6 L74.0 475.0 L79.5 477.3 L85.0 479.6 L90.6 481.8 L96.1 484.0 L101.7 486.1 L107.3 488.2 L112.9 490.2 L118.6 492.2 L124.2 494.1 L129.9 496.0 L135.6 497.8 L141.3 499.5 L147.0 501.2 L152.8 502.9 L158.5 504.5 L164.3 506.0 L170.1 507.5 L175.9 508.9 L181.7 510.3 L187.5 511.6 L193.4 512.9 L199.2 514.1 L205.1 515.2 L211.0 516.3 L216.8 517.4 L222.7 518.4 L228.6 519.3 L234.5 520.2 L240.5 521.0 L246.4 521.7 L252.3 522.4 L258.3 523.1 L264.2 523.7 L270.2 524.2 L276.1 524.7 L282.1 525.1 L288.0 525.5 L294.0 525.8 L300.0 526.0 L305.9 526.2 L311.9 526.4 L317.9 526.5 L323.9 526.5 L329.8 526.5 L335.8 526.4 L341.8 526.2 L347.7 526.0 L353.7 525.8 L359.7 525.5 L365.6 525.1 L371.6 524.7 L377.5 524.2 L383.5 523.7 L389.4 523.1 L395.4 522.4 L401.3 521.7 L407.2 521.0 L413.2 520.2 L419.1 519.3 L425.0 518.4 L430.9 517.4 L436.7 516.3 L442.6 515.2 L448.5 514.1 L454.3 512.9 L460.2 511.6 L466.0 510.3 L471.8 508.9 L477.6 507.5 L483.4 506.0 L489.2 504.5 L494.9 502.9 L500.7 501.2 L506.4 499.5 L512.1 497.8 L517.8 496.0 L523.5 494.1 L529.1 492.2 L534.8 490.2 L540.4 488.2 L546.0 486.1 L551.6 484.0 L557.1 481.8 L562.7 479.6 L568.2 477.3 L573.7 475.0 L579.2 472.6 L584.6 470.1 L590.0 467.7 L595.4 465.1 L600.8 462.5 M92.3 369.4 L97.7 372.0 L103.2 374.5 L108.6 377.0 L114.1 379.4 L119.6 381.7 L125.1 384.0 L130.7 386.3 L136.3 388.4 L141.9 390.5 L147.5 392.5 L153.2 394.5 L158.9 396.4 L164.6 398.3 L170.3 400.0 L176.1 401.7 L181.8 403.4 L187.6 405.0 L193.4 406.5 L199.2 407.9 L205.0 409.3 L210.9 410.6 L216.7 411.9 L222.6 413.1 L228.5 414.2 L234.4 415.2 L240.3 416.2 L246.2 417.1 L252.2 418.0 L258.1 418.8 L264.1 419.5 L270.0 420.1 L276.0 420.7 L282.0 421.2 L287.9 421.6 L293.9 422.0 L299.9 422.3 L305.9 422.6 L311.9 422.7 L317.9 422.8 L323.8 422.9 L329.8 422.8 L335.8 422.7 L341.8 422.6 L347.8 422.3 L353.8 422.0 L359.8 421.6 L365.7 421.2 L371.7 420.7 L377.7 420.1 L383.6 419.5 L389.6 418.8 L395.5 418.0 L401.5 417.1 L407.4 416.2 L413.3 415.2 L419.2 414.2 L425.1 413.1 L431.0 411.9 L436.8 410.6 L442.7 409.3 L448.5 407.9 L454.3 406.5 L460.1 405.0 L465.9 403.4 L471.6 401.7 L477.4 400.0 L483.1 398.3 L488.8 396.4 L494.5 394.5 L500.2 392.5 L505.8 390.5 L511.4 388.4 L517.0 386.3 L522.6 384.0 L528.1 381.7 L533.6 379.4 L539.1 377.0 L544.5 374.5 L550.0 372.0 L555.4 369.4 M137.4 277.0 L142.8 279.6 L148.2 282.1 L153.6 284.5 L159.0 286.8 L164.5 289.1 L170.1 291.3 L175.6 293.4 L181.2 295.4 L186.8 297.4 L192.4 299.2 L198.1 301.0 L203.8 302.7 L209.5 304.4 L215.2 305.9 L221.0 307.4 L226.7 308.8 L232.5 310.1 L238.3 311.4 L244.2 312.5 L250.0 313.6 L255.9 314.6 L261.7 315.5 L267.6 316.3 L273.5 317.1 L279.4 317.7 L285.3 318.3 L291.2 318.8 L297.1 319.2 L303.1 319.6 L309.0 319.8 L314.9 320.0 L320.9 320.1 L326.8 320.1 L332.8 320.0 L338.7 319.8 L344.6 319.6 L350.6 319.2 L356.5 318.8 L362.4 318.3 L368.3 317.7 L374.2 317.1 L380.1 316.3 L386.0 315.5 L391.8 314.6 L397.7 313.6 L403.5 312.5 L409.4 311.4 L415.2 310.1 L421.0 308.8 L426.7 307.4 L432.5 305.9 L438.2 304.4 L443.9 302.7 L449.6 301.0 L455.3 299.2 L460.9 297.4 L466.5 295.4 L472.1 293.4 L477.6 291.3 L483.2 289.1 L488.7 286.8 L494.1 284.5 L499.5 282.1 L504.9 279.6 L510.3 277.0 M182.4 184.7 L187.8 187.3 L193.3 189.8 L198.8 192.2 L204.3 194.4 L209.9 196.6 L215.5 198.6 L221.1 200.6 L226.8 202.5 L232.5 204.2 L238.2 205.8 L244.0 207.4 L249.8 208.8 L255.7 210.1 L261.5 211.3 L267.4 212.4 L273.3 213.4 L279.2 214.3 L285.1 215.1 L291.0 215.7 L297.0 216.3 L303.0 216.7 L308.9 217.1 L314.9 217.3 L320.9 217.4 L326.8 217.4 L332.8 217.3 L338.8 217.1 L344.7 216.7 L350.7 216.3 L356.7 215.7 L362.6 215.1 L368.5 214.3 L374.4 213.4 L380.3 212.4 L386.2 211.3 L392.0 210.1 L397.9 208.8 L403.7 207.4 L409.5 205.8 L415.2 204.2 L420.9 202.5 L426.6 200.6 L432.2 198.6 L437.8 196.6 L443.4 194.4 L448.9 192.2 L454.4 189.8 L459.9 187.3 L465.3 184.7 M227.8 91.8 L233.1 94.3 L238.4 96.7 L243.8 98.9 L249.3 101.0 L254.8 102.9 L260.4 104.7 L266.0 106.3 L271.7 107.7 L277.4 109.1 L283.1 110.2 L288.9 111.2 L294.7 112.1 L300.5 112.8 L306.3 113.3 L312.2 113.7 L318.0 114.0 L323.9 114.0 L329.7 114.0 L335.5 113.7 L341.4 113.3 L347.2 112.8 L353.0 112.1 L358.8 111.2 L364.6 110.2 L370.3 109.1 L376.0 107.7 L381.7 106.3 L387.3 104.7 L392.9 102.9 L398.4 101.0 L403.9 98.9 L409.3 96.7 L414.6 94.3 L419.9 91.8 M246.1 54.2 L46.9 462.5 M273.4 64.9 L143.9 500.3 M302.0 70.8 L245.9 521.7 M331.2 72.1 L349.9 526.0 M360.2 68.4 L453.3 513.1 M388.2 60.1 L553.1 483.4" fill="none" stroke="#808080" stroke-opacity="0.3" stroke-width="0.5"/>
</g>
<path d="M401.6 54.2 L396.2 56.8 L390.7 59.1 L385.1 61.3 L379.5 63.2 L373.8 65.0 L368.1 66.6 L362.3 68.0 L356.4 69.2 L350.6 70.2 L344.7 71.0 L338.7 71.6 L332.8 72.0 L326.8 72.2 L320.9 72.2 L314.9 72.0 L309.0 71.6 L303.0 71.0 L297.1 70.2 L291.3 69.2 L285.4 68.0 L279.6 66.6 L273.9 65.0 L268.2 63.2 L262.6 61.3 L257.0 59.1 L251.5 56.8 L246.1 54.2 L46.9 462.5 L46.9 462.5 L52.3 465.1 L57.7 467.7 L63.1 470.1 L68.5 472.6 L74.0 475.0 L79.5 477.3 L85.0 479.6 L90.6 481.8 L96.1 484.0 L101.7 486.1 L107.3 488.2 L112.9 490.2 L118.6 492.2 L124.2 494.1 L129.9 496.0 L135.6 497.8 L141.3 499.5 L147.0 501.2 L152.8 502.9 L158.5 504.5 L164.3 506.0 L170.1 507.5 L175.9 508.9 L181.7 510.3 L187.5 511.6 L193.4 512.9 L199.2 514.1 L205.1 515.2 L211.0 516.3 L216.8 517.4 L222.7 518.4 L228.6 519.3 L234.5 520.2 L240.5 521.0 L246.4 521.7 L252.3 522.4 L258.3 523.1 L264.2 523.7 L270.2 524.2 L276.1 524.7 L282.1 525.1 L288.0 525.5 L294.0 525.8 L300.0 526.0 L305.9 526.2 L311.9 526.4 L317.9 526.5 L323.9 526.5 L329.8 526.5 L335.8 526.4 L341.8 526.2 L347.7 526.0 L353.7 525.8 L359.7 525.5 L365.6 525.1 L371.6 524.7 L377.5 524.2 L383.5 523.7 L389.4 523.1 L395.4 522.4 L401.3 521.7 L407.2 521.0 L413.2 520.2 L419.1 519.3 L425.0 518.4 L430.9 517.4 L436.7 516.3 L442.6 515.2 L448.5 514.1 L454.3 512.9 L460.2 511.6 L466.0 510.3 L471.8 508.9 L477.6 507.5 L483.4 506.0 L489.2 504.5 L494.9 502.9 L500.7 501.2 L506.4 499.5 L512.1 497.8 L517.8 496.0 L523.5 494.1 L529.1 492.2 L534.8 490.2 L540.4 488.2 L546.0 486.1 L551.6 484.0 L557.1 481.8 L562.7 479.6 L568.2 477.3 L573.7 475.0 L579.2 472.6 L584.6 470.1 L590.0 467.7 L595.4 465.1 L600.8 462.5 Z M398.8 62.2 L393.3 64.5 L387.8 66.7 L382.2 68.7 L376.5 70.5 L370.8 72.1 L365.1 73.5 L359.2 74.7 L353.4 75.8 L347.5 76.7 L341.6 77.3 L335.7 77.8 L329.8 78.1 L323.9 78.2 L317.9 78.1 L312.0 77.8 L306.1 77.3 L300.2 76.7 L294.3 75.8 L288.5 74.7 L282.6 73.5 L276.9 72.1 L271.2 70.5 L265.5 68.7 L259.9 66.7 L254.4 64.5 L248.9 62.2 L54.9 459.7 L60.3 462.3 L65.8 464.8 L71.2 467.2 L76.7 469.6 L82.2 471.9 L87.7 474.2 L93.3 476.4 L98.8 478.6 L104.4 480.7 L110.0 482.8 L115.7 484.8 L121.3 486.8 L127.0 488.7 L132.7 490.6 L138.4 492.4 L144.1 494.1 L149.8 495.8 L155.6 497.4 L161.3 499.0 L167.1 500.5 L172.9 502.0 L178.7 503.4 L184.5 504.8 L190.4 506.1 L196.2 507.3 L202.1 508.5 L207.9 509.7 L213.8 510.7 L219.7 511.8 L225.6 512.7 L231.5 513.6 L237.4 514.5 L243.4 515.3 L249.3 516.0 L255.2 516.7 L261.2 517.4 L267.1 517.9 L273.1 518.4 L279.0 518.9 L285.0 519.3 L291.0 519.6 L297.0 519.9 L302.9 520.1 L308.9 520.3 L314.9 520.4 L320.9 520.5 L326.8 520.5 L332.8 520.4 L338.8 520.3 L344.8 520.1 L350.7 519.9 L356.7 519.6 L362.7 519.3 L368.7 518.9 L374.6 518.4 L380.6 517.9 L386.5 517.4 L392.5 516.7 L398.4 516.0 L404.3 515.3 L410.3 514.5 L416.2 513.6 L422.1 512.7 L428.0 511.8 L433.9 510.7 L439.8 509.7 L445.6 508.5 L451.5 507.3 L457.3 506.1 L463.2 504.8 L469.0 503.4 L474.8 502.0 L480.6 500.5 L486.4 499.0 L492.1 497.4 L497.9 495.8 L503.6 494.1 L509.3 492.4 L515.0 490.6 L520.7 488.7 L526.4 486.8 L532.0 484.8 L537.7 482.8 L543.3 480.7 L548.9 478.6 L554.4 476.4 L560.0 474.2 L565.5 471.9 L571.0 469.6 L576.5 467.2 L581.9 464.8 L587.4 462.3 L592.8 459.7 Z" fill="#fff" fill-rule="evenodd"/>
<path d="M49.5 457.1 L54.7 459.6 L59.9 462.1 L65.1 464.5 L70.3 466.8 L75.6 469.1 L80.8 471.4 L86.1 473.6 L91.5 475.7 L96.8 477.8 L94.6 483.4 L89.2 481.3 L83.9 479.1 L78.5 476.9 L73.2 474.6 L67.9 472.3 L62.6 469.9 L57.3 467.5 L52.1 465.0 L46.9 462.5 Z M259.5 60.1 L264.1 61.8 L268.7 63.4 L273.4 64.9 L271.6 70.6 L266.8 69.1 L262.1 67.5 L257.3 65.7 Z M145.6 494.6 L151.1 496.2 L156.7 497.7 L162.2 499.2 L167.7 500.7 L173.3 502.1 L178.9 503.5 L184.5 504.8 L190.1 506.0 L195.7 507.2 L194.4 513.1 L188.8 511.9 L183.1 510.6 L177.5 509.3 L171.9 507.9 L166.2 506.5 L160.6 505.0 L155.0 503.5 L149.5 501.9 L143.9 500.3 Z M287.5 68.4 L292.3 69.4 L297.1 70.2 L302.0 70.8 L301.2 76.8 L296.2 76.1 L291.3 75.3 L286.3 74.3 Z M246.6 515.7 L252.3 516.4 L258.0 517.0 L263.7 517.6 L269.4 518.1 L275.1 518.6 L280.9 519.0 L286.6 519.4 L292.3 519.7 L298.0 520.0 L297.8 526.0 L292.0 525.7 L286.2 525.4 L280.4 525.0 L274.7 524.6 L268.9 524.1 L263.1 523.6 L257.4 523.0 L251.6 522.4 L245.9 521.7 Z M316.5 72.1 L321.4 72.2 L326.3 72.2 L331.2 72.1 L331.4 78.0 L326.4 78.2 L321.3 78.2 L316.3 78.0 Z M349.7 520.0 L355.4 519.7 L361.1 519.4 L366.8 519.0 L372.6 518.6 L378.3 518.1 L384.0 517.6 L389.7 517.0 L395.4 516.4 L401.1 515.7 L401.8 521.7 L396.1 522.4 L390.3 523.0 L384.6 523.6 L378.8 524.1 L373.0 524.6 L367.3 525.0 L361.5 525.4 L355.7 525.7 L349.9 526.0 Z M345.7 70.8 L350.6 70.2 L355.4 69.4 L360.2 68.4 L361.4 74.3 L356.4 75.3 L351.5 76.1 L346.5 76.8 Z M452.0 507.2 L457.6 506.0 L463.2 504.8 L468.8 503.5 L474.4 502.1 L480.0 500.7 L485.5 499.2 L491.0 497.7 L496.6 496.2 L502.1 494.6 L503.8 500.3 L498.2 501.9 L492.7 503.5 L487.1 505.0 L481.5 506.5 L475.8 507.9 L470.2 509.3 L464.6 510.6 L458.9 511.9 L453.3 513.1 Z M374.3 64.9 L379.0 63.4 L383.6 61.8 L388.2 60.1 L390.4 65.7 L385.6 67.5 L380.9 69.1 L376.1 70.6 Z M550.9 477.8 L555.7 475.9 L560.5 474.0 L565.3 472.0 L570.0 470.0 L574.8 468.0 L577.2 473.5 L572.4 475.5 L567.6 477.6 L562.8 479.6 L557.9 481.5 L553.1 483.4 Z M394.9 57.3 L398.3 55.8 L401.6 54.2 L404.2 59.6 L400.8 61.3 L397.3 62.8 Z M46.9 462.5 L69.7 415.8 L75.1 418.4 L52.3 465.1 Z M572.6 418.4 L550.0 372.0 L555.4 369.4 L578.0 415.8 Z M92.3 369.4 L114.9 323.1 L120.3 325.7 L97.7 372.0 Z M527.4 325.7 L504.9 279.6 L510.3 277.0 L532.8 323.1 Z M137.4 277.0 L159.9 230.9 L165.3 233.5 L142.8 279.6 Z M482.4 233.5 L459.8 187.3 L465.3 184.7 L487.8 230.9 Z M182.4 184.7 L205.0 138.4 L210.5 141.0 L187.9 187.3 Z M437.2 141.0 L414.5 94.4 L419.9 91.8 L442.7 138.4 Z M227.8 91.8 L236.9 73.1 L242.4 75.6 L233.2 94.4 Z M405.3 75.6 L396.1 56.8 L401.6 54.2 L410.8 73.1 Z" fill="#000"/>
<path d="M401.6 54.2 L396.2 56.8 L390.7 59.1 L385.1 61.3 L379.5 63.2 L373.8 65.0 L368.1 66.6 L362.3 68.0 L356.4 69.2 L350.6 70.2 L344.7 71.0 L338.7 71.6 L332.8 72.0 L326.8 72.2 L320.9 72.2 L314.9 72.0 L309.0 71.6 L303.0 71.0 L297.1 70.2 L291.3 69.2 L285.4 68.0 L279.6 66.6 L273.9 65.0 L268.2 63.2 L262.6 61.3 L257.0 59.1 L251.5 56.8 L246.1 54.2 L46.9 462.5 L46.9 462.5 L52.3 465.1 L57.7 467.7 L63.1 470.1 L68.5 472.6 L74.0 475.0 L79.5 477.3 L85.0 479.6 L90.6 481.8 L96.1 484.0 L101.7 486.1 L107.3 488.2 L112.9 490.2 L118.6 492.2 L124.2 494.1 L129.9 496.0 L135.6 497.8 L141.3 499.5 L147.0 501.2 L152.8 502.9 L158.5 504.5 L164.3 506.0 L170.1 507.5 L175.9 508.9 L181.7 510.3 L187.5 511.6 L193.4 512.9 L199.2 514.1 L205.1 515.2 L211.0 516.3 L216.8 517.4 L222.7 518.4 L228.6 519.3 L234.5 520.2 L240.5 521.0 L246.4 521.7 L252.3 522.4 L258.3 523.1 L264.2 523.7 L270.2 524.2 L276.1 524.7 L282.1 525.1 L288.0 525.5 L294.0 525.8 L300.0 526.0 L305.9 526.2 L311.9 526.4 L317.9 526.5 L323.9 526.5 L329.8 526.5 L335.8 526.4 L341.8 526.2 L347.7 526.0 L353.7 525.8 L359.7 525.5 L365.6 525.1 L371.6 524.7 L377.5 524.2 L383.5 523.7 L389.4 523.1 L395.4 522.4 L401.3 521.7 L407.2 521.0 L413.2 520.2 L419.1 519.3 L425.0 518.4 L430.9 517.4 L436.7 516.3 L442.6 515.2 L448.5 514.1 L454.3 512.9 L460.2 511.6 L466.0 510.3 L471.8 508.9 L477.6 507.5 L483.4 506.0 L489.2 504.5 L494.9 502.9 L500.7 501.2 L506.4 499.5 L512.1 497.8 L517.8 496.0 L523.5 494.1 L529.1 492.2 L534.8 490.2 L540.4 488.2 L546.0 486.1 L551.6 484.0 L557.1 481.8 L562.7 479.6 L568.2 477.3 L573.7 475.0 L579.2 472.6 L584.6 470.1 L590.0 467.7 L595.4 465.1 L600.8 462.5 Z" fill="none" stroke="#000" stroke-width="1.1" stroke-linejoin="miter"/>
<path d="M398.8 62.2 L393.3 64.5 L387.8 66.7 L382.2 68.7 L376.5 70.5 L370.8 72.1 L365.1 73.5 L359.2 74.7 L353.4 75.8 L347.5 76.7 L341.6 77.3 L335.7 77.8 L329.8 78.1 L323.9 78.2 L317.9 78.1 L312.0 77.8 L306.1 77.3 L300.2 76.7 L294.3 75.8 L288.5 74.7 L282.6 73.5 L276.9 72.1 L271.2 70.5 L265.5 68.7 L259.9 66.7 L254.4 64.5 L248.9 62.2 L54.9 459.7 L60.3 462.3 L65.8 464.8 L71.2 467.2 L76.7 469.6 L82.2 471.9 L87.7 474.2 L93.3 476.4 L98.8 478.6 L104.4 480.7 L110.0 482.8 L115.7 484.8 L121.3 486.8 L127.0 488.7 L132.7 490.6 L138.4 492.4 L144.1 494.1 L149.8 495.8 L155.6 497.4 L161.3 499.0 L167.1 500.5 L172.9 502.0 L178.7 503.4 L184.5 504.8 L190.4 506.1 L196.2 507.3 L202.1 508.5 L207.9 509.7 L213.8 510.7 L219.7 511.8 L225.6 512.7 L231.5 513.6 L237.4 514.5 L243.4 515.3 L249.3 516.0 L255.2 516.7 L261.2 517.4 L267.1 517.9 L273.1 518.4 L279.0 518.9 L285.0 519.3 L291.0 519.6 L297.0 519.9 L302.9 520.1 L308.9 520.3 L314.9 520.4 L320.9 520.5 L326.8 520.5 L332.8 520.4 L338.8 520.3 L344.8 520.1 L350.7 519.9 L356.7 519.6 L362.7 519.3 L368.7 518.9 L374.6 518.4 L380.6 517.9 L386.5 517.4 L392.5 516.7 L398.4 516.0 L404.3 515.3 L410.3 514.5 L416.2 513.6 L422.1 512.7 L428.0 511.8 L433.9 510.7 L439.8 509.7 L445.6 508.5 L451.5 507.3 L457.3 506.1 L463.2 504.8 L469.0 503.4 L474.8 502.0 L480.6 500.5 L486.4 499.0 L492.1 497.4 L497.9 495.8 L503.6 494.1 L509.3 492.4 L515.0 490.6 L520.7 488.7 L526.4 486.8 L532.0 484.8 L537.7 482.8 L543.3 480.7 L548.9 478.6 L554.4 476.4 L560.0 474.2 L565.5 471.9 L571.0 469.6 L576.5 467.2 L581.9 464.8 L587.4 462.3 L592.8 459.7 Z" fill="none" stroke="#000" stroke-width="0.9"/>
<text x="44.2" y="461.2" text-anchor="end" font-size="17.8" transform="rotate(26.01 44.2 461.2)" dy="0.35em">60°N</text>
<text x="89.6" y="368.1" text-anchor="end" font-size="17.8" transform="rotate(26.01 89.6 368.1)" dy="0.35em">65°N</text>
<text x="134.7" y="275.7" text-anchor="end" font-size="17.8" transform="rotate(26.01 134.7 275.7)" dy="0.35em">70°N</text>
<text x="179.7" y="183.4" text-anchor="end" font-size="17.8" transform="rotate(26.01 179.7 183.4)" dy="0.35em">75°N</text>
<text x="225.1" y="90.5" text-anchor="end" font-size="17.8" transform="rotate(26.01 225.1 90.5)" dy="0.35em">80°N</text>
<text x="39.1" y="478.5" text-anchor="middle" font-size="17.8" transform="rotate(26.01 39.1 478.5)">30°W</text>
<text x="138.8" y="517.4" text-anchor="middle" font-size="17.8" transform="rotate(16.55 138.8 517.4)">20°W</text>
<text x="243.7" y="539.3" text-anchor="middle" font-size="17.8" transform="rotate(7.10 243.7 539.3)">10°W</text>
<text x="350.6" y="543.8" text-anchor="middle" font-size="17.8" transform="rotate(-2.36 350.6 543.8)">0°</text>
<text x="456.9" y="530.5" text-anchor="middle" font-size="17.8" transform="rotate(-11.82 456.9 530.5)">10°E</text>
<text x="559.6" y="500.0" text-anchor="middle" font-size="17.8" transform="rotate(-21.29 559.6 500.0)">20°E</text>
</g>
<g transform="matrix(1.0035 0 0 1.0039 803.917 595.286)">
<defs><clipPath id="clipD"><path d="M401.6 54.2 L396.2 56.8 L390.7 59.1 L385.1 61.3 L379.5 63.2 L373.8 65.0 L368.1 66.6 L362.3 68.0 L356.4 69.2 L350.6 70.2 L344.7 71.0 L338.7 71.6 L332.8 72.0 L326.8 72.2 L320.9 72.2 L314.9 72.0 L309.0 71.6 L303.0 71.0 L297.1 70.2 L291.3 69.2 L285.4 68.0 L279.6 66.6 L273.9 65.0 L268.2 63.2 L262.6 61.3 L257.0 59.1 L251.5 56.8 L246.1 54.2 L46.9 462.5 L46.9 462.5 L52.3 465.1 L57.7 467.7 L63.1 470.1 L68.5 472.6 L74.0 475.0 L79.5 477.3 L85.0 479.6 L90.6 481.8 L96.1 484.0 L101.7 486.1 L107.3 488.2 L112.9 490.2 L118.6 492.2 L124.2 494.1 L129.9 496.0 L135.6 497.8 L141.3 499.5 L147.0 501.2 L152.8 502.9 L158.5 504.5 L164.3 506.0 L170.1 507.5 L175.9 508.9 L181.7 510.3 L187.5 511.6 L193.4 512.9 L199.2 514.1 L205.1 515.2 L211.0 516.3 L216.8 517.4 L222.7 518.4 L228.6 519.3 L234.5 520.2 L240.5 521.0 L246.4 521.7 L252.3 522.4 L258.3 523.1 L264.2 523.7 L270.2 524.2 L276.1 524.7 L282.1 525.1 L288.0 525.5 L294.0 525.8 L300.0 526.0 L305.9 526.2 L311.9 526.4 L317.9 526.5 L323.9 526.5 L329.8 526.5 L335.8 526.4 L341.8 526.2 L347.7 526.0 L353.7 525.8 L359.7 525.5 L365.6 525.1 L371.6 524.7 L377.5 524.2 L383.5 523.7 L389.4 523.1 L395.4 522.4 L401.3 521.7 L407.2 521.0 L413.2 520.2 L419.1 519.3 L425.0 518.4 L430.9 517.4 L436.7 516.3 L442.6 515.2 L448.5 514.1 L454.3 512.9 L460.2 511.6 L466.0 510.3 L471.8 508.9 L477.6 507.5 L483.4 506.0 L489.2 504.5 L494.9 502.9 L500.7 501.2 L506.4 499.5 L512.1 497.8 L517.8 496.0 L523.5 494.1 L529.1 492.2 L534.8 490.2 L540.4 488.2 L546.0 486.1 L551.6 484.0 L557.1 481.8 L562.7 479.6 L568.2 477.3 L573.7 475.0 L579.2 472.6 L584.6 470.1 L590.0 467.7 L595.4 465.1 L600.8 462.5 Z"/></clipPath></defs>
<g clip-path="url(#clipD)">
<path d="M296.0 -5.0 L296.0 74.0 L294.5 76.6 L287.5 85.4 L284.0 88.0 L280.5 92.4 L277.0 93.7 L277.4 97.6 L274.4 102.0 L270.0 103.7 L269.1 109.0 L266.5 112.5 L261.2 114.2 L259.5 119.5 L256.9 124.7 L252.5 129.1 L249.0 133.5 L245.0 141.0 L247.0 148.0 L250.0 155.0 L249.0 167.0 L246.0 176.0 L243.5 186.0 L240.0 195.0 L236.0 203.0 L234.0 211.0 L230.0 217.0 L224.0 222.0 L221.0 229.0 L216.0 233.5 L209.0 236.5 L206.5 243.0 L204.0 251.0 L200.0 254.0 L198.5 261.0 L197.0 272.0 L196.8 284.0 L194.0 292.5 L188.4 297.5 L180.0 301.5 L168.8 304.5 L156.2 307.2 L145.0 310.0 L129.6 311.4 L100.0 318.0 L-30.0 378.0 L-30.0 -5.0 Z M372.1 113.6 L378.4 110.5 L383.6 109.4 L388.9 104.2 L392.0 103.2 L395.1 96.9 L399.3 90.6 L404.6 88.5 L407.7 86.4 L410.8 89.6 L415.0 95.8 L419.2 104.2 L421.3 109.4 L418.2 110.5 L411.9 108.4 L406.7 106.3 L404.6 109.4 L408.7 113.6 L412.9 116.7 L418.2 118.8 L422.3 125.1 L426.5 129.3 L430.7 132.4 L434.9 139.8 L435.9 147.1 L432.8 146.0 L427.6 139.8 L425.5 147.1 L423.4 143.9 L421.3 135.6 L417.1 131.4 L414.0 129.3 L412.9 133.5 L414.0 139.8 L412.9 143.9 L414.0 151.3 L415.0 158.6 L415.0 169.0 L412.9 172.2 L409.8 168.0 L406.7 164.9 L400.4 158.6 L396.2 153.4 L393.1 148.1 L392.0 143.9 L387.8 143.9 L384.7 140.8 L380.5 136.6 L376.3 132.4 L375.3 129.3 L378.4 126.2 L376.3 120.9 L373.2 116.7 L372.1 113.6 Z M140.2 378.3 L145.7 374.9 L151.2 368.5 L157.9 364.5 L162.6 366.0 L166.4 371.9 L169.4 377.0 L167.3 382.9 L168.5 387.6 L172.3 385.9 L176.1 380.4 L178.3 378.3 L180.0 380.4 L180.8 386.3 L184.2 381.2 L189.3 380.0 L192.7 382.9 L194.4 381.2 L197.7 382.9 L199.4 386.3 L203.7 382.9 L206.2 384.6 L209.6 379.6 L213.0 378.3 L215.5 381.2 L219.8 384.6 L225.7 384.2 L221.4 389.7 L223.1 392.3 L224.0 397.3 L228.2 401.6 L229.9 404.1 L229.5 409.2 L229.1 413.4 L224.8 416.0 L223.1 419.4 L218.9 421.9 L216.4 424.4 L211.3 426.1 L206.2 427.8 L197.7 430.4 L193.5 432.1 L187.6 431.2 L182.5 434.6 L178.3 435.4 L172.3 433.7 L167.3 431.2 L163.9 429.5 L160.5 426.1 L156.2 421.9 L152.9 419.4 L146.9 417.7 L143.1 416.8 L144.8 411.3 L152.0 412.6 L154.6 409.2 L152.4 405.8 L151.2 400.7 L146.9 396.9 L139.3 392.7 L146.9 391.4 L153.7 391.4 L157.9 394.0 L159.6 392.3 L153.7 389.7 L155.4 388.0 L160.5 385.5 L157.1 382.9 L144.4 382.1 Z M492.9 262.8 L537.5 245.7 L668.7 245.7 L668.7 571.2 L401.0 571.2 L401.0 518.7 L398.4 505.6 L395.7 492.5 L395.7 479.3 L401.0 466.2 L411.5 455.7 L419.4 445.2 L429.9 437.3 L435.1 424.2 L440.4 408.5 L443.0 392.7 L445.6 377.0 L448.2 366.5 L453.5 356.0 L450.9 345.5 L440.4 348.1 L443.0 340.2 L450.9 327.1 L456.1 316.6 L464.0 303.5 L469.2 290.4 L477.1 285.1 L485.0 274.6 L492.9 262.8 Z M274.8 476.6 L279.5 474.2 L286.4 476.6 L287.6 480.1 L283.0 483.6 L281.8 490.5 L280.6 499.9 L278.3 497.5 L277.1 485.9 L274.8 481.2 Z M332.9 515.4 L335.2 512.6 L337.4 511.5 L339.7 508.6 L341.4 509.2 L341.1 512.6 L339.7 514.3 L339.1 516.5 L339.7 519.4 L332.9 519.4 Z" fill="#b2b2b2"/>
<path d="M540.1 356.0 L534.9 363.9 L529.6 377.0 L530.9 392.7 L525.7 411.1 L517.8 429.5 L513.9 447.8 L517.8 466.2 L523.0 479.3 L537.5 482.0 L550.6 478.0 L558.5 468.8 L555.9 453.1 L549.3 437.3 L542.7 421.6 L538.8 413.7 L542.7 395.4 L548.0 379.6 L546.7 366.5 L540.1 356.0 Z" fill="#fff"/>
<path d="M403.7 178.7 L406.1 175.1 L408.5 176.3 L414.6 182.4 L418.3 178.7 L421.4 181.2 L423.2 188.5 L425.6 195.8 L428.1 200.7 L433.0 204.3 L440.3 227.5 L444.6 255.6 L445.2 258.0 L443.9 267.8 L442.7 280.0 L441.5 292.2 L439.1 298.3 L436.6 303.5 L437.5 298.2 L434.3 304.5 L430.2 310.8 L426.0 317.1 L421.8 323.3 L417.6 329.6 L414.5 334.8 L411.3 342.2 L407.1 346.4 L400.9 351.6 L398.8 356.8 L396.7 363.1 L391.5 369.4 L386.2 370.4 L375.8 370.9 L365.3 372.5 L354.8 375.6 L349.3 383.1 L345.5 400.5 L343.1 417.9 L344.3 427.9 L340.6 442.8 L329.4 449.0 L314.4 455.2 L302.0 454.0 L296.7 451.0 L288.2 448.5 L275.6 445.1 L264.6 442.6 L256.1 445.5 L254.5 444.3 L247.7 437.5 L254.5 427.4 L259.5 421.5 L262.9 424.0 L267.1 424.0 L271.3 419.0 L279.8 415.6 L288.2 411.4 L296.7 406.3 L301.7 400.4 L301.0 395.2 L301.7 381.2 L302.4 367.3 L302.4 353.3 L303.1 339.4 L304.5 329.6 L306.6 321.3 L309.4 314.3 L313.6 308.7 L320.5 300.3 L328.9 292.0 L340.1 283.6 L354.8 275.7 L362.2 271.4 L369.5 265.3 L376.8 260.5 L384.1 256.8 L390.2 251.9 L393.9 243.4 L395.7 234.8 L396.9 225.1 L397.6 212.9 L397.6 200.7 L398.2 182.4 L403.7 178.7 Z" fill="#ffcccc"/>
<path d="M433.0 204.3 L440.3 227.5 L444.6 255.6" fill="none" stroke="#000" stroke-width="1"/>
<path d="M444.6 255.6 L445.2 258.0 L443.9 267.8 L442.7 280.0 L441.5 292.2 L439.1 298.3 L436.6 303.5 L437.5 298.2 L434.3 304.5 L430.2 310.8 L426.0 317.1 L421.8 323.3 L417.6 329.6 L414.5 334.8 L411.3 342.2 L407.1 346.4 L400.9 351.6 L398.8 356.8 L396.7 363.1 L391.5 369.4 L386.2 370.4 L375.8 370.9 L365.3 372.5 L354.8 375.6 L349.3 383.1 L345.5 400.5 L343.1 417.9 L344.3 427.9 L340.6 442.8 L329.4 449.0 L314.4 455.2 L302.0 454.0 L296.7 451.0 L288.2 448.5 L275.6 445.1 L264.6 442.6 L256.1 445.5 L254.5 444.3 L247.7 437.5 L254.5 427.4 L259.5 421.5 L262.9 424.0 L267.1 424.0 L271.3 419.0 L279.8 415.6 L288.2 411.4 L296.7 406.3 L301.7 400.4 L301.0 395.2 L301.7 381.2 L302.4 367.3 L302.4 353.3 L303.1 339.4 L304.5 329.6 L306.6 321.3 L309.4 314.3 L313.6 308.7 L320.5 300.3 L328.9 292.0 L340.1 283.6 L354.8 275.7 L362.2 271.4 L369.5 265.3 L376.8 260.5 L384.1 256.8 L390.2 251.9 L393.9 243.4 L395.7 234.8 L396.9 225.1 L397.6 212.9 L397.6 200.7 L398.2 182.4 L403.7 178.7 L403.7 178.7 L406.1 175.1 L408.5 176.3 L414.6 182.4 L418.3 178.7 L421.4 181.2 L423.2 188.5 L425.6 195.8 L428.1 200.7 L433.0 204.3" fill="none" stroke="#1208b8" stroke-width="3.4" stroke-linejoin="round"/>
<path d="M442.7 256.8 L440.3 267.8 L437.8 280.0 L435.4 292.2 L433.0 303.5 L435.4 292.0 L432.3 301.4 L428.1 308.7 L422.8 317.1 L417.6 324.4 L413.4 330.7 L410.3 338.0 L405.1 343.2 L398.8 349.5 L394.6 356.8 L390.4 363.1 L381.0 364.1 L370.5 365.2 L360.1 367.3 L354.8 368.3 L351.2 370.1 L342.9 372.8 L337.3 381.2 L331.7 392.4 L326.1 399.3 L323.3 402.1 L327.5 409.1 L330.3 416.1 L328.9 423.0 L323.3 430.0 L315.0 437.0 L308.0 443.0 L296.7 443.4 L288.2 442.2 L290.7 437.5 L296.7 429.9 L302.6 422.3 L308.5 413.9 L315.0 403.8 L312.2 395.2 L308.0 381.2 L306.6 367.3 L306.6 353.3 L308.0 339.4 L310.8 325.4 L315.0 315.7 L320.5 305.9 L328.9 294.8 L342.9 283.6 L354.8 278.2 L367.0 270.2 L379.3 262.9 L392.7 254.4 L396.3 244.6 L398.8 232.4 L400.0 219.0 L401.2 200.7 L402.4 186.0 L406.1 181.2 L415.9 192.1 L423.2 199.5 L430.5 205.6 L434.2 210.4" fill="none" stroke="#33c4c4" stroke-width="2.9" stroke-linejoin="round"/>
<path d="M440.3 255.6 L436.6 267.8 L431.7 280.0 L428.1 292.2 L425.6 303.5 L429.1 294.1 L426.0 304.5 L421.8 312.9 L417.6 319.2 L413.4 325.4 L409.2 333.8 L401.9 341.1 L394.6 348.4 L390.4 356.8 L381.0 357.9 L370.5 358.9 L360.1 361.0 L354.8 362.0 L348.4 365.9 L340.1 374.2 L327.5 379.8 L317.8 374.2 L312.2 364.5 L310.8 353.3 L310.8 339.4 L312.2 328.2 L316.4 317.1 L323.3 307.3 L331.7 297.5 L342.9 289.2 L354.8 281.2 L367.0 273.9 L379.3 265.3 L395.1 256.8 L400.0 249.5 L402.4 237.3 L404.9 222.6 L406.1 206.8 L408.5 186.0 L413.4 190.9 L418.3 198.2 L425.6 204.3 L433.0 210.4 L435.4 212.9" fill="none" stroke="#ff3c78" stroke-width="2.9" stroke-linejoin="round"/>
<path d="M437.8 219.0 L433.0 214.1 L425.6 208.0 L420.8 201.9 L415.9 203.1 L415.9 219.0 L416.5 231.2 L415.9 243.4 L412.2 253.1 L406.1 259.2 L401.2 264.1 L391.5 264.1 L379.3 267.8 L367.0 276.3 L354.8 282.4 L335.9 301.7 L326.1 310.1 L320.5 317.1 L317.8 328.2 L317.8 339.4 L320.5 347.7 L326.1 356.1 L331.7 360.3 L342.9 356.1 L356.8 354.7 L365.3 355.8 L375.8 353.7 L386.2 351.6 L396.7 347.4 L403.0 340.1 L408.2 333.8 L410.3 327.5 L413.4 321.3 L417.6 315.0 L420.7 307.7 L419.7 294.1 L418.7 283.6 L419.5 298.3 L419.5 286.1 L420.8 273.9 L419.5 261.7 L424.4 258.0 L430.5 253.1 L437.8 249.5 L443.9 247.0" fill="none" stroke="#ff0000" stroke-width="2.9" stroke-linejoin="round"/>
<path d="M117.9 334.6 L126.6 330.8 L132.8 332.1 L136.5 334.6 L134.0 343.3 L130.3 350.7 L126.6 357.0" fill="none" stroke="#1208d8" stroke-width="3.2" stroke-linejoin="round"/>
<path d="M121.6 337.0 L129.1 338.3 L126.6 343.3 L125.3 348.2" fill="none" stroke="#33dddd" stroke-width="2.5"/>
<path d="M303.1 74.9 L307.5 85.4 L312.7 97.6 L315.3 109.8 L316.2 120.2 L315.3 134.2 L316.2 144.6 L314.5 155.1 L311.0 169.0 L307.5 179.5 L298.8 186.5 L290.1 193.4 L281.3 202.2 L272.6 210.9 L263.9 219.6 L255.2 228.3 M310.1 74.9 L315.3 90.6 L320.6 102.8 L324.9 110.1 L328.1 108.0 L329.8 99.3 L328.4 92.3 L326.7 83.6 L325.8 74.9 M340.6 74.9 L342.4 90.6 L347.6 102.8 L354.6 111.5 L359.8 120.2 L365.0 130.7 L370.3 141.1 L377.2 151.6 L384.2 162.1 L391.2 170.8 L399.9 177.8 L406.9 181.2 L412.4 194.9 L422.4 209.9 L424.9 229.9 L426.1 244.9 L425.0 247.2 L426.4 255.6 L432.0 261.2 L440.4 269.6 L446.0 273.8 L451.6 282.2 L455.8 292.0 L455.1 301.8 L453.0 307.4 L447.4 315.8 L441.8 322.8 L434.8 329.8 L427.8 336.8 L420.8 345.2 L416.6 353.6 L413.8 360.6 L408.2 369.0 L401.2 376.0 L394.2 381.6 L388.6 387.2 L385.8 394.2 L384.4 404.0 L383.7 410.0 L386.1 419.9 L384.9 434.9 L393.6 444.9 L394.9 454.8 L379.9 459.8 L354.9 469.8 L334.9 482.3 L322.4 494.8 L310.0 507.3 L300.0 514.8 L297.5 518.5 M359.8 74.9 L361.6 87.1 L363.3 96.7 L370.3 97.6 L377.2 93.2 L384.2 90.6 L386.0 81.9 L392.9 74.9 L398.2 69.7 M331.9 151.6 L337.1 152.5 L342.4 154.2 L347.6 155.1 L351.1 154.2 L350.2 162.1 L352.0 169.0 L354.6 176.0 L355.4 186.5 L353.7 193.4 L350.7 200.4 L352.8 214.4 L349.3 217.8 L345.9 216.4 L342.4 210.9 L338.9 203.9 L333.7 196.9 L328.4 189.1 L324.1 179.5 L322.3 170.8 L324.9 160.3 L331.9 151.6 M321.4 183.9 L328.4 191.7 L335.4 200.4 L342.4 209.1 L347.6 216.1 L352.8 218.7 L358.1 214.4 L361.6 217.8 L363.3 224.8 L366.8 228.3 L370.3 230.0 L368.5 237.0 L363.3 238.8 L358.1 237.0 L354.6 240.5 L349.3 247.5 L344.1 251.0 L338.9 247.5 L333.7 245.7 L328.4 249.2 L323.2 249.2 L318.0 244.0 L312.7 245.7 L307.5 249.2 L302.3 247.5 L297.0 249.2 L291.8 247.5 L286.6 244.0 L281.3 242.2 L278.7 237.0 L277.0 230.0 L276.1 223.1 L277.9 217.8 L283.1 212.6 L291.8 207.4 L300.5 202.2 L309.2 196.9 L316.2 190.0 L321.4 183.9 M363.3 146.4 L365.9 148.1 L368.5 155.1 L369.4 160.3 L367.7 160.0 L365.0 155.1 L363.3 146.4 M367.7 165.6 L369.4 167.3 L370.6 176.0 L371.1 186.5 L369.9 186.5 L368.2 177.8 L367.7 165.6 M372.0 193.4 L375.5 198.7 L380.7 210.9 L385.1 221.3 L387.7 231.8 L386.3 231.8 L382.5 221.3 L377.2 209.1 L372.9 200.4 L372.0 193.4 M338.9 116.7 L342.4 115.0 L345.9 118.5 L350.2 120.2 L349.3 127.2 L347.6 135.9 L344.1 134.2 L342.4 128.9 L337.1 128.1 L335.4 125.5 L338.9 123.7 L338.9 116.7 M284.7 198.9 L278.4 208.9 L266.0 218.8 L253.5 228.8 L243.6 243.7 L236.1 256.2 L226.2 264.9 L218.7 274.8 L212.5 288.5 L208.7 301.0 L203.7 310.9 L193.8 315.4 L182.6 317.1 L172.6 318.4 L162.7 323.4 L152.7 329.6 L146.5 337.0 L144.0 347.7 L149.0 339.5 L158.9 333.8 L173.9 330.8 L182.6 333.3 L188.8 338.3 L196.3 340.8 L206.2 338.3 L210.0 334.6 L211.2 343.3 L206.2 350.7 L218.7 353.2 L226.2 358.2 L233.6 370.6 L241.1 383.1 L246.1 393.0 L252.3 403.0 L261.0 398.0 L268.5 396.8 L272.2 403.0 L273.5 412.9 L269.7 420.4 L263.5 425.4 L266.0 432.8 L271.0 440.3 L280.9 446.5 L295.9 450.3 L305.8 455.2 L313.3 462.7 L320.8 467.7 L324.5 472.7 L320.8 480.1 L315.8 487.8 L313.3 497.5 L302.0 501.5 L300.1 511.7 L299.4 515.5 M100.4 359.4 L105.4 361.2 L109.2 365.7 L107.9 375.6 L105.4 385.6 L107.9 398.0 L110.4 410.5 L112.9 420.4 L109.2 422.9 L96.7 429.1 L84.3 436.6 L74.3 446.5 L70.6 452.8 L74.3 451.5 L86.7 445.3 L101.7 437.8 L116.6 432.8 L129.1 430.4 L141.5 435.3 L154.0 437.8 L163.9 439.1 L176.4 441.6 L186.3 444.0 L196.3 440.3 L208.7 440.3 L221.2 439.1 L223.7 445.3 L226.2 452.8 L231.1 462.7 L236.1 467.7 L243.6 470.2 L246.1 477.6 L248.6 487.8 L249.8 497.5 L241.0 496.4 L233.4 497.7 L230.8 509.1 L232.7 518.0 L233.4 521.8 M238.6 287.3 L246.1 286.0 L258.5 288.5 L266.0 289.8 L271.0 288.5 L280.9 292.3 L288.4 293.5 L290.9 298.5 L298.3 302.2 L293.4 303.5 L285.9 303.5 L283.4 313.4 L284.7 333.3 L282.2 334.6 L279.7 315.9 L275.9 305.9 L271.0 304.7 L268.5 303.5 L266.0 305.9 L263.5 304.7 L261.0 293.5 L258.5 304.7 L256.0 303.5 L253.5 293.5 L248.6 291.0 L241.1 291.0 L238.6 287.3 M218.7 323.4 L222.4 319.6 L226.2 314.6 L229.9 310.9 L231.1 315.9 L229.9 320.9 L226.2 325.8 L221.2 325.8 L218.7 323.4 M243.6 277.3 L246.1 275.6 L248.6 277.3 L247.3 279.8 L244.1 279.6 L243.6 277.3 M233.6 299.0 L236.1 298.0 L237.4 302.2 L235.6 304.7 L233.6 303.5 L233.6 299.0 M65.6 455.2 L68.1 453.5 L70.1 455.2 L68.1 457.2 L65.6 455.2 M369.0 280.1 L376.0 282.9 L383.0 287.8 L387.2 293.4 L390.0 300.4 L394.2 306.0 L398.4 311.6 L402.6 318.6 L408.2 324.2 L412.4 328.4 L415.2 332.6 L411.0 334.0 L406.8 333.3 L404.0 336.1 L398.4 337.5 L392.8 339.6 L385.8 342.4 L377.4 343.8 L369.0 345.2 L362.0 346.6 L353.6 344.5 L348.0 339.6 L342.4 334.0 L338.2 329.8 L334.0 324.2 L329.8 320.0 L326.3 315.8 L328.4 311.6 L334.0 307.4 L339.6 303.2 L345.2 297.6 L349.4 290.6 L353.6 286.4 L359.2 287.8 L363.4 283.6 L369.0 280.1 M329.8 320.0 L331.9 328.4 L331.2 336.8 L334.0 345.2 L339.6 352.2 L345.2 357.8 L349.4 360.6 L350.1 366.2 L348.0 369.0 L350.8 376.0 L352.9 383.0 L355.0 391.4 L356.4 398.4 L353.6 402.6 L350.8 401.2 L346.6 405.4 L342.6 410.0 L332.5 421.4 L319.8 434.1 L313.4 441.8 L300.7 445.6 L290.5 445.6 L288.0 439.2 L289.3 429.1 L291.8 421.4 L296.9 415.1 L300.7 410.0 L293.4 401.2 L291.3 395.6 L292.0 383.0 L293.4 369.0 L294.8 355.0 L296.2 341.0 L299.0 328.4 L303.2 320.0 L308.1 313.7 M313.0 308.8 L320.0 306.0 L327.0 303.2 L328.4 306.0 L322.8 308.8 L318.6 310.2 L313.0 308.8 M342.4 306.7 L345.2 305.3 L347.3 308.1 L346.6 310.9 L343.8 311.3 L342.1 308.8 L342.4 306.7 M209.2 510.4 L218.1 501.5 L227.0 499.6 L230.8 504.0 M296.9 422.7 L302.0 421.4 L302.6 429.1 L300.7 435.4 L298.2 435.4 L296.3 429.1 L296.9 422.7" fill="none" stroke="#000" stroke-width="1.8" stroke-linejoin="round"/>
<path d="M333.7 99.3m-1.3 0a1.3 1.3 0 1 0 2.6 0a1.3 1.3 0 1 0 -2.6 0 M334.5 110.6m-1.3 0a1.3 1.3 0 1 0 2.6 0a1.3 1.3 0 1 0 -2.6 0 M340.6 159.5m-1.3 0a1.3 1.3 0 1 0 2.6 0a1.3 1.3 0 1 0 -2.6 0 M359.8 217.8m-1.3 0a1.3 1.3 0 1 0 2.6 0a1.3 1.3 0 1 0 -2.6 0 M369.4 228.3m-1.3 0a1.3 1.3 0 1 0 2.6 0a1.3 1.3 0 1 0 -2.6 0 M383.3 243.1m-1.3 0a1.3 1.3 0 1 0 2.6 0a1.3 1.3 0 1 0 -2.6 0 M368.5 256.2m-1.3 0a1.3 1.3 0 1 0 2.6 0a1.3 1.3 0 1 0 -2.6 0 M283.1 251.8m-1.3 0a1.3 1.3 0 1 0 2.6 0a1.3 1.3 0 1 0 -2.6 0 M327.5 237.9m-1.3 0a1.3 1.3 0 1 0 2.6 0a1.3 1.3 0 1 0 -2.6 0 M256.0 324.6m-1.3 0a1.3 1.3 0 1 0 2.6 0a1.3 1.3 0 1 0 -2.6 0 M278.4 339.5m-1.3 0a1.3 1.3 0 1 0 2.6 0a1.3 1.3 0 1 0 -2.6 0 M217.4 338.3m-1.3 0a1.3 1.3 0 1 0 2.6 0a1.3 1.3 0 1 0 -2.6 0 M268.5 266.1m-1.3 0a1.3 1.3 0 1 0 2.6 0a1.3 1.3 0 1 0 -2.6 0 M323.2 269.9m-1.3 0a1.3 1.3 0 1 0 2.6 0a1.3 1.3 0 1 0 -2.6 0 M351.9 269.1m-1.3 0a1.3 1.3 0 1 0 2.6 0a1.3 1.3 0 1 0 -2.6 0 M328.2 238.3m-1.3 0a1.3 1.3 0 1 0 2.6 0a1.3 1.3 0 1 0 -2.6 0 M369.0 257.0m-1.3 0a1.3 1.3 0 1 0 2.6 0a1.3 1.3 0 1 0 -2.6 0 M361.7 263.3m-1.3 0a1.3 1.3 0 1 0 2.6 0a1.3 1.3 0 1 0 -2.6 0 M322.8 270.3m-1.3 0a1.3 1.3 0 1 0 2.6 0a1.3 1.3 0 1 0 -2.6 0 M326.3 265.1m-1.3 0a1.3 1.3 0 1 0 2.6 0a1.3 1.3 0 1 0 -2.6 0 M351.5 269.6m-1.3 0a1.3 1.3 0 1 0 2.6 0a1.3 1.3 0 1 0 -2.6 0 M336.8 292.0m-1.3 0a1.3 1.3 0 1 0 2.6 0a1.3 1.3 0 1 0 -2.6 0 M294.8 291.3m-1.3 0a1.3 1.3 0 1 0 2.6 0a1.3 1.3 0 1 0 -2.6 0 M313.0 330.5m-1.3 0a1.3 1.3 0 1 0 2.6 0a1.3 1.3 0 1 0 -2.6 0 M318.6 336.1m-1.3 0a1.3 1.3 0 1 0 2.6 0a1.3 1.3 0 1 0 -2.6 0 M337.5 314.4m-1.3 0a1.3 1.3 0 1 0 2.6 0a1.3 1.3 0 1 0 -2.6 0 M332.6 352.9m-1.3 0a1.3 1.3 0 1 0 2.6 0a1.3 1.3 0 1 0 -2.6 0 M320.7 374.6m-1.3 0a1.3 1.3 0 1 0 2.6 0a1.3 1.3 0 1 0 -2.6 0 M304.6 396.3m-1.3 0a1.3 1.3 0 1 0 2.6 0a1.3 1.3 0 1 0 -2.6 0 M313.7 407.5m-1.3 0a1.3 1.3 0 1 0 2.6 0a1.3 1.3 0 1 0 -2.6 0" fill="#000"/>
<path d="M46.9 462.5 L52.3 465.1 L57.7 467.7 L63.1 470.1 L68.5 472.6 L74.0 475.0 L79.5 477.3 L85.0 479.6 L90.6 481.8 L96.1 484.0 L101.7 486.1 L107.3 488.2 L112.9 490.2 L118.6 492.2 L124.2 494.1 L129.9 496.0 L135.6 497.8 L141.3 499.5 L147.0 501.2 L152.8 502.9 L158.5 504.5 L164.3 506.0 L170.1 507.5 L175.9 508.9 L181.7 510.3 L187.5 511.6 L193.4 512.9 L199.2 514.1 L205.1 515.2 L211.0 516.3 L216.8 517.4 L222.7 518.4 L228.6 519.3 L234.5 520.2 L240.5 521.0 L246.4 521.7 L252.3 522.4 L258.3 523.1 L264.2 523.7 L270.2 524.2 L276.1 524.7 L282.1 525.1 L288.0 525.5 L294.0 525.8 L300.0 526.0 L305.9 526.2 L311.9 526.4 L317.9 526.5 L323.9 526.5 L329.8 526.5 L335.8 526.4 L341.8 526.2 L347.7 526.0 L353.7 525.8 L359.7 525.5 L365.6 525.1 L371.6 524.7 L377.5 524.2 L383.5 523.7 L389.4 523.1 L395.4 522.4 L401.3 521.7 L407.2 521.0 L413.2 520.2 L419.1 519.3 L425.0 518.4 L430.9 517.4 L436.7 516.3 L442.6 515.2 L448.5 514.1 L454.3 512.9 L460.2 511.6 L466.0 510.3 L471.8 508.9 L477.6 507.5 L483.4 506.0 L489.2 504.5 L494.9 502.9 L500.7 501.2 L506.4 499.5 L512.1 497.8 L517.8 496.0 L523.5 494.1 L529.1 492.2 L534.8 490.2 L540.4 488.2 L546.0 486.1 L551.6 484.0 L557.1 481.8 L562.7 479.6 L568.2 477.3 L573.7 475.0 L579.2 472.6 L584.6 470.1 L590.0 467.7 L595.4 465.1 L600.8 462.5 M83.3 387.9 L88.6 390.5 L94.0 393.0 L99.4 395.5 L104.8 397.9 L110.3 400.2 L115.7 402.5 L121.2 404.7 L126.8 406.9 L132.3 409.0 L137.9 411.0 L143.5 413.0 L149.1 414.9 L154.7 416.8 L160.3 418.6 L166.0 420.3 L171.7 422.0 L177.4 423.6 L183.1 425.1 L188.9 426.6 L194.6 428.1 L200.4 429.4 L206.2 430.7 L212.0 432.0 L217.8 433.1 L223.6 434.3 L229.4 435.3 L235.3 436.3 L241.2 437.2 L247.0 438.1 L252.9 438.9 L258.8 439.6 L264.7 440.3 L270.6 440.9 L276.5 441.5 L282.4 441.9 L288.3 442.3 L294.2 442.7 L300.1 443.0 L306.1 443.2 L312.0 443.4 L317.9 443.5 L323.9 443.5 L329.8 443.5 L335.7 443.4 L341.6 443.2 L347.6 443.0 L353.5 442.7 L359.4 442.3 L365.3 441.9 L371.2 441.5 L377.1 440.9 L383.0 440.3 L388.9 439.6 L394.8 438.9 L400.7 438.1 L406.5 437.2 L412.4 436.3 L418.3 435.3 L424.1 434.3 L429.9 433.1 L435.7 432.0 L441.5 430.7 L447.3 429.4 L453.1 428.1 L458.8 426.6 L464.6 425.1 L470.3 423.6 L476.0 422.0 L481.7 420.3 L487.4 418.6 L493.0 416.8 L498.6 414.9 L504.2 413.0 L509.8 411.0 L515.4 409.0 L520.9 406.9 L526.5 404.7 L532.0 402.5 L537.4 400.2 L542.9 397.9 L548.3 395.5 L553.7 393.0 L559.1 390.5 L564.4 387.9 M119.4 313.9 L124.8 316.5 L130.2 319.0 L135.6 321.4 L141.1 323.8 L146.6 326.1 L152.1 328.3 L157.7 330.5 L163.3 332.6 L168.9 334.6 L174.5 336.5 L180.2 338.4 L185.8 340.2 L191.6 342.0 L197.3 343.6 L203.0 345.2 L208.8 346.7 L214.6 348.1 L220.4 349.5 L226.2 350.8 L232.0 352.0 L237.9 353.1 L243.8 354.2 L249.6 355.2 L255.5 356.1 L261.4 356.9 L267.4 357.7 L273.3 358.4 L279.2 359.0 L285.1 359.5 L291.1 360.0 L297.0 360.4 L303.0 360.7 L308.9 360.9 L314.9 361.0 L320.9 361.1 L326.8 361.1 L332.8 361.0 L338.8 360.9 L344.7 360.7 L350.7 360.4 L356.6 360.0 L362.6 359.5 L368.5 359.0 L374.4 358.4 L380.3 357.7 L386.3 356.9 L392.2 356.1 L398.1 355.2 L403.9 354.2 L409.8 353.1 L415.7 352.0 L421.5 350.8 L427.3 349.5 L433.1 348.1 L438.9 346.7 L444.7 345.2 L450.4 343.6 L456.1 342.0 L461.9 340.2 L467.5 338.4 L473.2 336.5 L478.8 334.6 L484.4 332.6 L490.0 330.5 L495.6 328.3 L501.1 326.1 L506.6 323.8 L512.1 321.4 L517.5 319.0 L522.9 316.5 L528.3 313.9 M155.4 240.1 L160.7 242.7 L166.1 245.1 L171.5 247.5 L177.0 249.8 L182.4 252.0 L188.0 254.2 L193.5 256.2 L199.1 258.2 L204.7 260.1 L210.3 261.9 L216.0 263.6 L221.7 265.2 L227.4 266.7 L233.1 268.2 L238.9 269.5 L244.6 270.8 L250.4 271.9 L256.2 273.0 L262.1 274.0 L267.9 274.9 L273.8 275.7 L279.6 276.5 L285.5 277.1 L291.4 277.7 L297.3 278.1 L303.2 278.5 L309.1 278.7 L315.0 278.9 L320.9 279.0 L326.8 279.0 L332.7 278.9 L338.6 278.7 L344.5 278.5 L350.4 278.1 L356.3 277.7 L362.2 277.1 L368.1 276.5 L373.9 275.7 L379.8 274.9 L385.6 274.0 L391.5 273.0 L397.3 271.9 L403.1 270.8 L408.8 269.5 L414.6 268.2 L420.3 266.7 L426.0 265.2 L431.7 263.6 L437.4 261.9 L443.0 260.1 L448.6 258.2 L454.2 256.2 L459.7 254.2 L465.3 252.0 L470.7 249.8 L476.2 247.5 L481.6 245.1 L487.0 242.7 L492.3 240.1 M191.5 166.2 L196.8 168.8 L202.3 171.3 L207.8 173.6 L213.3 175.8 L218.8 178.0 L224.4 180.0 L230.1 181.9 L235.8 183.7 L241.5 185.4 L247.2 186.9 L253.0 188.4 L258.8 189.7 L264.7 191.0 L270.5 192.1 L276.4 193.1 L282.3 194.0 L288.2 194.7 L294.1 195.4 L300.0 195.9 L306.0 196.3 L311.9 196.6 L317.9 196.8 L323.9 196.8 L329.8 196.8 L335.8 196.6 L341.7 196.3 L347.7 195.9 L353.6 195.4 L359.5 194.7 L365.4 194.0 L371.3 193.1 L377.2 192.1 L383.0 191.0 L388.9 189.7 L394.7 188.4 L400.5 186.9 L406.2 185.4 L411.9 183.7 L417.6 181.9 L423.3 180.0 L428.9 178.0 L434.4 175.8 L439.9 173.6 L445.4 171.3 L450.9 168.8 L456.2 166.2 M227.8 91.8 L233.1 94.3 L238.4 96.7 L243.8 98.9 L249.3 101.0 L254.8 102.9 L260.4 104.7 L266.0 106.3 L271.7 107.7 L277.4 109.1 L283.1 110.2 L288.9 111.2 L294.7 112.1 L300.5 112.8 L306.3 113.3 L312.2 113.7 L318.0 114.0 L323.9 114.0 L329.7 114.0 L335.5 113.7 L341.4 113.3 L347.2 112.8 L353.0 112.1 L358.8 111.2 L364.6 110.2 L370.3 109.1 L376.0 107.7 L381.7 106.3 L387.3 104.7 L392.9 102.9 L398.4 101.0 L403.9 98.9 L409.3 96.7 L414.6 94.3 L419.9 91.8 M246.1 54.2 L46.9 462.5 M273.4 64.9 L143.9 500.3 M302.0 70.8 L245.9 521.7 M331.2 72.1 L349.9 526.0 M360.2 68.4 L453.3 513.1 M388.2 60.1 L553.1 483.4" fill="none" stroke="#808080" stroke-opacity="0.3" stroke-width="0.5"/>
</g>
<path d="M401.6 54.2 L396.2 56.8 L390.7 59.1 L385.1 61.3 L379.5 63.2 L373.8 65.0 L368.1 66.6 L362.3 68.0 L356.4 69.2 L350.6 70.2 L344.7 71.0 L338.7 71.6 L332.8 72.0 L326.8 72.2 L320.9 72.2 L314.9 72.0 L309.0 71.6 L303.0 71.0 L297.1 70.2 L291.3 69.2 L285.4 68.0 L279.6 66.6 L273.9 65.0 L268.2 63.2 L262.6 61.3 L257.0 59.1 L251.5 56.8 L246.1 54.2 L46.9 462.5 L46.9 462.5 L52.3 465.1 L57.7 467.7 L63.1 470.1 L68.5 472.6 L74.0 475.0 L79.5 477.3 L85.0 479.6 L90.6 481.8 L96.1 484.0 L101.7 486.1 L107.3 488.2 L112.9 490.2 L118.6 492.2 L124.2 494.1 L129.9 496.0 L135.6 497.8 L141.3 499.5 L147.0 501.2 L152.8 502.9 L158.5 504.5 L164.3 506.0 L170.1 507.5 L175.9 508.9 L181.7 510.3 L187.5 511.6 L193.4 512.9 L199.2 514.1 L205.1 515.2 L211.0 516.3 L216.8 517.4 L222.7 518.4 L228.6 519.3 L234.5 520.2 L240.5 521.0 L246.4 521.7 L252.3 522.4 L258.3 523.1 L264.2 523.7 L270.2 524.2 L276.1 524.7 L282.1 525.1 L288.0 525.5 L294.0 525.8 L300.0 526.0 L305.9 526.2 L311.9 526.4 L317.9 526.5 L323.9 526.5 L329.8 526.5 L335.8 526.4 L341.8 526.2 L347.7 526.0 L353.7 525.8 L359.7 525.5 L365.6 525.1 L371.6 524.7 L377.5 524.2 L383.5 523.7 L389.4 523.1 L395.4 522.4 L401.3 521.7 L407.2 521.0 L413.2 520.2 L419.1 519.3 L425.0 518.4 L430.9 517.4 L436.7 516.3 L442.6 515.2 L448.5 514.1 L454.3 512.9 L460.2 511.6 L466.0 510.3 L471.8 508.9 L477.6 507.5 L483.4 506.0 L489.2 504.5 L494.9 502.9 L500.7 501.2 L506.4 499.5 L512.1 497.8 L517.8 496.0 L523.5 494.1 L529.1 492.2 L534.8 490.2 L540.4 488.2 L546.0 486.1 L551.6 484.0 L557.1 481.8 L562.7 479.6 L568.2 477.3 L573.7 475.0 L579.2 472.6 L584.6 470.1 L590.0 467.7 L595.4 465.1 L600.8 462.5 Z M398.8 62.2 L393.3 64.5 L387.8 66.7 L382.2 68.7 L376.5 70.5 L370.8 72.1 L365.1 73.5 L359.2 74.7 L353.4 75.8 L347.5 76.7 L341.6 77.3 L335.7 77.8 L329.8 78.1 L323.9 78.2 L317.9 78.1 L312.0 77.8 L306.1 77.3 L300.2 76.7 L294.3 75.8 L288.5 74.7 L282.6 73.5 L276.9 72.1 L271.2 70.5 L265.5 68.7 L259.9 66.7 L254.4 64.5 L248.9 62.2 L54.9 459.7 L60.3 462.3 L65.8 464.8 L71.2 467.2 L76.7 469.6 L82.2 471.9 L87.7 474.2 L93.3 476.4 L98.8 478.6 L104.4 480.7 L110.0 482.8 L115.7 484.8 L121.3 486.8 L127.0 488.7 L132.7 490.6 L138.4 492.4 L144.1 494.1 L149.8 495.8 L155.6 497.4 L161.3 499.0 L167.1 500.5 L172.9 502.0 L178.7 503.4 L184.5 504.8 L190.4 506.1 L196.2 507.3 L202.1 508.5 L207.9 509.7 L213.8 510.7 L219.7 511.8 L225.6 512.7 L231.5 513.6 L237.4 514.5 L243.4 515.3 L249.3 516.0 L255.2 516.7 L261.2 517.4 L267.1 517.9 L273.1 518.4 L279.0 518.9 L285.0 519.3 L291.0 519.6 L297.0 519.9 L302.9 520.1 L308.9 520.3 L314.9 520.4 L320.9 520.5 L326.8 520.5 L332.8 520.4 L338.8 520.3 L344.8 520.1 L350.7 519.9 L356.7 519.6 L362.7 519.3 L368.7 518.9 L374.6 518.4 L380.6 517.9 L386.5 517.4 L392.5 516.7 L398.4 516.0 L404.3 515.3 L410.3 514.5 L416.2 513.6 L422.1 512.7 L428.0 511.8 L433.9 510.7 L439.8 509.7 L445.6 508.5 L451.5 507.3 L457.3 506.1 L463.2 504.8 L469.0 503.4 L474.8 502.0 L480.6 500.5 L486.4 499.0 L492.1 497.4 L497.9 495.8 L503.6 494.1 L509.3 492.4 L515.0 490.6 L520.7 488.7 L526.4 486.8 L532.0 484.8 L537.7 482.8 L543.3 480.7 L548.9 478.6 L554.4 476.4 L560.0 474.2 L565.5 471.9 L571.0 469.6 L576.5 467.2 L581.9 464.8 L587.4 462.3 L592.8 459.7 Z" fill="#fff" fill-rule="evenodd"/>
<path d="M49.5 457.1 L54.7 459.6 L59.9 462.1 L65.1 464.5 L70.3 466.8 L75.6 469.1 L80.8 471.4 L86.1 473.6 L91.5 475.7 L96.8 477.8 L94.6 483.4 L89.2 481.3 L83.9 479.1 L78.5 476.9 L73.2 474.6 L67.9 472.3 L62.6 469.9 L57.3 467.5 L52.1 465.0 L46.9 462.5 Z M259.5 60.1 L264.1 61.8 L268.7 63.4 L273.4 64.9 L271.6 70.6 L266.8 69.1 L262.1 67.5 L257.3 65.7 Z M145.6 494.6 L151.1 496.2 L156.7 497.7 L162.2 499.2 L167.7 500.7 L173.3 502.1 L178.9 503.5 L184.5 504.8 L190.1 506.0 L195.7 507.2 L194.4 513.1 L188.8 511.9 L183.1 510.6 L177.5 509.3 L171.9 507.9 L166.2 506.5 L160.6 505.0 L155.0 503.5 L149.5 501.9 L143.9 500.3 Z M287.5 68.4 L292.3 69.4 L297.1 70.2 L302.0 70.8 L301.2 76.8 L296.2 76.1 L291.3 75.3 L286.3 74.3 Z M246.6 515.7 L252.3 516.4 L258.0 517.0 L263.7 517.6 L269.4 518.1 L275.1 518.6 L280.9 519.0 L286.6 519.4 L292.3 519.7 L298.0 520.0 L297.8 526.0 L292.0 525.7 L286.2 525.4 L280.4 525.0 L274.7 524.6 L268.9 524.1 L263.1 523.6 L257.4 523.0 L251.6 522.4 L245.9 521.7 Z M316.5 72.1 L321.4 72.2 L326.3 72.2 L331.2 72.1 L331.4 78.0 L326.4 78.2 L321.3 78.2 L316.3 78.0 Z M349.7 520.0 L355.4 519.7 L361.1 519.4 L366.8 519.0 L372.6 518.6 L378.3 518.1 L384.0 517.6 L389.7 517.0 L395.4 516.4 L401.1 515.7 L401.8 521.7 L396.1 522.4 L390.3 523.0 L384.6 523.6 L378.8 524.1 L373.0 524.6 L367.3 525.0 L361.5 525.4 L355.7 525.7 L349.9 526.0 Z M345.7 70.8 L350.6 70.2 L355.4 69.4 L360.2 68.4 L361.4 74.3 L356.4 75.3 L351.5 76.1 L346.5 76.8 Z M452.0 507.2 L457.6 506.0 L463.2 504.8 L468.8 503.5 L474.4 502.1 L480.0 500.7 L485.5 499.2 L491.0 497.7 L496.6 496.2 L502.1 494.6 L503.8 500.3 L498.2 501.9 L492.7 503.5 L487.1 505.0 L481.5 506.5 L475.8 507.9 L470.2 509.3 L464.6 510.6 L458.9 511.9 L453.3 513.1 Z M374.3 64.9 L379.0 63.4 L383.6 61.8 L388.2 60.1 L390.4 65.7 L385.6 67.5 L380.9 69.1 L376.1 70.6 Z M550.9 477.8 L555.7 475.9 L560.5 474.0 L565.3 472.0 L570.0 470.0 L574.8 468.0 L577.2 473.5 L572.4 475.5 L567.6 477.6 L562.8 479.6 L557.9 481.5 L553.1 483.4 Z M394.9 57.3 L398.3 55.8 L401.6 54.2 L404.2 59.6 L400.8 61.3 L397.3 62.8 Z M46.9 462.5 L65.1 425.1 L70.5 427.7 L52.3 465.1 Z M577.2 427.7 L559.0 390.5 L564.4 387.9 L582.6 425.1 Z M83.3 387.9 L101.4 350.9 L106.8 353.5 L88.7 390.5 Z M540.9 353.5 L522.9 316.5 L528.3 313.9 L546.3 350.9 Z M119.4 313.9 L137.4 277.0 L142.8 279.6 L124.8 316.5 Z M504.9 279.6 L486.9 242.7 L492.3 240.1 L510.3 277.0 Z M155.4 240.1 L173.4 203.2 L178.8 205.8 L160.8 242.7 Z M468.9 205.8 L450.8 168.8 L456.2 166.2 L474.3 203.2 Z M191.5 166.2 L209.6 129.1 L215.0 131.7 L196.9 168.8 Z M432.7 131.7 L414.5 94.4 L419.9 91.8 L438.1 129.1 Z M227.8 91.8 L236.9 73.1 L242.4 75.6 L233.2 94.4 Z M405.3 75.6 L396.1 56.8 L401.6 54.2 L410.8 73.1 Z" fill="#000"/>
<path d="M401.6 54.2 L396.2 56.8 L390.7 59.1 L385.1 61.3 L379.5 63.2 L373.8 65.0 L368.1 66.6 L362.3 68.0 L356.4 69.2 L350.6 70.2 L344.7 71.0 L338.7 71.6 L332.8 72.0 L326.8 72.2 L320.9 72.2 L314.9 72.0 L309.0 71.6 L303.0 71.0 L297.1 70.2 L291.3 69.2 L285.4 68.0 L279.6 66.6 L273.9 65.0 L268.2 63.2 L262.6 61.3 L257.0 59.1 L251.5 56.8 L246.1 54.2 L46.9 462.5 L46.9 462.5 L52.3 465.1 L57.7 467.7 L63.1 470.1 L68.5 472.6 L74.0 475.0 L79.5 477.3 L85.0 479.6 L90.6 481.8 L96.1 484.0 L101.7 486.1 L107.3 488.2 L112.9 490.2 L118.6 492.2 L124.2 494.1 L129.9 496.0 L135.6 497.8 L141.3 499.5 L147.0 501.2 L152.8 502.9 L158.5 504.5 L164.3 506.0 L170.1 507.5 L175.9 508.9 L181.7 510.3 L187.5 511.6 L193.4 512.9 L199.2 514.1 L205.1 515.2 L211.0 516.3 L216.8 517.4 L222.7 518.4 L228.6 519.3 L234.5 520.2 L240.5 521.0 L246.4 521.7 L252.3 522.4 L258.3 523.1 L264.2 523.7 L270.2 524.2 L276.1 524.7 L282.1 525.1 L288.0 525.5 L294.0 525.8 L300.0 526.0 L305.9 526.2 L311.9 526.4 L317.9 526.5 L323.9 526.5 L329.8 526.5 L335.8 526.4 L341.8 526.2 L347.7 526.0 L353.7 525.8 L359.7 525.5 L365.6 525.1 L371.6 524.7 L377.5 524.2 L383.5 523.7 L389.4 523.1 L395.4 522.4 L401.3 521.7 L407.2 521.0 L413.2 520.2 L419.1 519.3 L425.0 518.4 L430.9 517.4 L436.7 516.3 L442.6 515.2 L448.5 514.1 L454.3 512.9 L460.2 511.6 L466.0 510.3 L471.8 508.9 L477.6 507.5 L483.4 506.0 L489.2 504.5 L494.9 502.9 L500.7 501.2 L506.4 499.5 L512.1 497.8 L517.8 496.0 L523.5 494.1 L529.1 492.2 L534.8 490.2 L540.4 488.2 L546.0 486.1 L551.6 484.0 L557.1 481.8 L562.7 479.6 L568.2 477.3 L573.7 475.0 L579.2 472.6 L584.6 470.1 L590.0 467.7 L595.4 465.1 L600.8 462.5 Z" fill="none" stroke="#000" stroke-width="1.1" stroke-linejoin="miter"/>
<path d="M398.8 62.2 L393.3 64.5 L387.8 66.7 L382.2 68.7 L376.5 70.5 L370.8 72.1 L365.1 73.5 L359.2 74.7 L353.4 75.8 L347.5 76.7 L341.6 77.3 L335.7 77.8 L329.8 78.1 L323.9 78.2 L317.9 78.1 L312.0 77.8 L306.1 77.3 L300.2 76.7 L294.3 75.8 L288.5 74.7 L282.6 73.5 L276.9 72.1 L271.2 70.5 L265.5 68.7 L259.9 66.7 L254.4 64.5 L248.9 62.2 L54.9 459.7 L60.3 462.3 L65.8 464.8 L71.2 467.2 L76.7 469.6 L82.2 471.9 L87.7 474.2 L93.3 476.4 L98.8 478.6 L104.4 480.7 L110.0 482.8 L115.7 484.8 L121.3 486.8 L127.0 488.7 L132.7 490.6 L138.4 492.4 L144.1 494.1 L149.8 495.8 L155.6 497.4 L161.3 499.0 L167.1 500.5 L172.9 502.0 L178.7 503.4 L184.5 504.8 L190.4 506.1 L196.2 507.3 L202.1 508.5 L207.9 509.7 L213.8 510.7 L219.7 511.8 L225.6 512.7 L231.5 513.6 L237.4 514.5 L243.4 515.3 L249.3 516.0 L255.2 516.7 L261.2 517.4 L267.1 517.9 L273.1 518.4 L279.0 518.9 L285.0 519.3 L291.0 519.6 L297.0 519.9 L302.9 520.1 L308.9 520.3 L314.9 520.4 L320.9 520.5 L326.8 520.5 L332.8 520.4 L338.8 520.3 L344.8 520.1 L350.7 519.9 L356.7 519.6 L362.7 519.3 L368.7 518.9 L374.6 518.4 L380.6 517.9 L386.5 517.4 L392.5 516.7 L398.4 516.0 L404.3 515.3 L410.3 514.5 L416.2 513.6 L422.1 512.7 L428.0 511.8 L433.9 510.7 L439.8 509.7 L445.6 508.5 L451.5 507.3 L457.3 506.1 L463.2 504.8 L469.0 503.4 L474.8 502.0 L480.6 500.5 L486.4 499.0 L492.1 497.4 L497.9 495.8 L503.6 494.1 L509.3 492.4 L515.0 490.6 L520.7 488.7 L526.4 486.8 L532.0 484.8 L537.7 482.8 L543.3 480.7 L548.9 478.6 L554.4 476.4 L560.0 474.2 L565.5 471.9 L571.0 469.6 L576.5 467.2 L581.9 464.8 L587.4 462.3 L592.8 459.7 Z" fill="none" stroke="#000" stroke-width="0.9"/>
<text x="44.2" y="461.2" text-anchor="end" font-size="17.8" transform="rotate(26.01 44.2 461.2)" dy="0.35em">60°N</text>
<text x="80.6" y="386.6" text-anchor="end" font-size="17.8" transform="rotate(26.01 80.6 386.6)" dy="0.35em">64°N</text>
<text x="116.7" y="312.6" text-anchor="end" font-size="17.8" transform="rotate(26.01 116.7 312.6)" dy="0.35em">68°N</text>
<text x="152.7" y="238.8" text-anchor="end" font-size="17.8" transform="rotate(26.01 152.7 238.8)" dy="0.35em">72°N</text>
<text x="188.8" y="164.9" text-anchor="end" font-size="17.8" transform="rotate(26.01 188.8 164.9)" dy="0.35em">76°N</text>
<text x="225.1" y="90.5" text-anchor="end" font-size="17.8" transform="rotate(26.01 225.1 90.5)" dy="0.35em">80°N</text>
<text x="39.1" y="478.5" text-anchor="middle" font-size="17.8" transform="rotate(26.01 39.1 478.5)">30°W</text>
<text x="138.8" y="517.4" text-anchor="middle" font-size="17.8" transform="rotate(16.55 138.8 517.4)">20°W</text>
<text x="243.7" y="539.3" text-anchor="middle" font-size="17.8" transform="rotate(7.10 243.7 539.3)">10°W</text>
<text x="350.6" y="543.8" text-anchor="middle" font-size="17.8" transform="rotate(-2.36 350.6 543.8)">0°</text>
<text x="456.9" y="530.5" text-anchor="middle" font-size="17.8" transform="rotate(-11.82 456.9 530.5)">10°E</text>
<text x="559.6" y="500.0" text-anchor="middle" font-size="17.8" transform="rotate(-21.29 559.6 500.0)">20°E</text>
</g>
<rect x="32.80" y="549.2" width="8.56" height="17.4" fill="#000085"/>
<rect x="40.36" y="549.2" width="8.56" height="17.4" fill="#000091"/>
<rect x="47.93" y="549.2" width="8.56" height="17.4" fill="#00009c"/>
<rect x="55.49" y="549.2" width="8.56" height="17.4" fill="#0000a8"/>
<rect x="63.05" y="549.2" width="8.56" height="17.4" fill="#0000b4"/>
<rect x="70.62" y="549.2" width="8.56" height="17.4" fill="#0000bf"/>
<rect x="78.18" y="549.2" width="8.56" height="17.4" fill="#0000cb"/>
<rect x="85.75" y="549.2" width="8.56" height="17.4" fill="#0000d6"/>
<rect x="93.31" y="549.2" width="8.56" height="17.4" fill="#0000e2"/>
<rect x="100.87" y="549.2" width="8.56" height="17.4" fill="#0000ee"/>
<rect x="108.44" y="549.2" width="8.56" height="17.4" fill="#0000f9"/>
<rect x="116.00" y="549.2" width="8.56" height="17.4" fill="#0006ff"/>
<rect x="123.56" y="549.2" width="8.56" height="17.4" fill="#0011ff"/>
<rect x="131.13" y="549.2" width="8.56" height="17.4" fill="#001dff"/>
<rect x="138.69" y="549.2" width="8.56" height="17.4" fill="#0029ff"/>
<rect x="146.25" y="549.2" width="8.56" height="17.4" fill="#0034ff"/>
<rect x="153.82" y="549.2" width="8.56" height="17.4" fill="#0040ff"/>
<rect x="161.38" y="549.2" width="8.56" height="17.4" fill="#004bff"/>
<rect x="168.95" y="549.2" width="8.56" height="17.4" fill="#0057ff"/>
<rect x="176.51" y="549.2" width="8.56" height="17.4" fill="#0063ff"/>
<rect x="184.07" y="549.2" width="8.56" height="17.4" fill="#006eff"/>
<rect x="191.64" y="549.2" width="8.56" height="17.4" fill="#007aff"/>
<rect x="199.20" y="549.2" width="8.56" height="17.4" fill="#0085ff"/>
<rect x="206.76" y="549.2" width="8.56" height="17.4" fill="#0091ff"/>
<rect x="214.33" y="549.2" width="8.56" height="17.4" fill="#009cff"/>
<rect x="221.89" y="549.2" width="8.56" height="17.4" fill="#00a8ff"/>
<rect x="229.45" y="549.2" width="8.56" height="17.4" fill="#00b4ff"/>
<rect x="237.02" y="549.2" width="8.56" height="17.4" fill="#00bfff"/>
<rect x="244.58" y="549.2" width="8.56" height="17.4" fill="#00cbff"/>
<rect x="252.15" y="549.2" width="8.56" height="17.4" fill="#00d6ff"/>
<rect x="259.71" y="549.2" width="8.56" height="17.4" fill="#00e2ff"/>
<rect x="267.27" y="549.2" width="8.56" height="17.4" fill="#00eeff"/>
<rect x="274.84" y="549.2" width="8.56" height="17.4" fill="#00f9ff"/>
<rect x="282.40" y="549.2" width="8.56" height="17.4" fill="#06fff9"/>
<rect x="289.96" y="549.2" width="8.56" height="17.4" fill="#11ffee"/>
<rect x="297.53" y="549.2" width="8.56" height="17.4" fill="#1dffe2"/>
<rect x="305.09" y="549.2" width="8.56" height="17.4" fill="#29ffd6"/>
<rect x="312.65" y="549.2" width="8.56" height="17.4" fill="#34ffcb"/>
<rect x="320.22" y="549.2" width="8.56" height="17.4" fill="#40ffbf"/>
<rect x="327.78" y="549.2" width="8.56" height="17.4" fill="#4bffb4"/>
<rect x="335.35" y="549.2" width="8.56" height="17.4" fill="#57ffa8"/>
<rect x="342.91" y="549.2" width="8.56" height="17.4" fill="#63ff9c"/>
<rect x="350.47" y="549.2" width="8.56" height="17.4" fill="#6eff91"/>
<rect x="358.04" y="549.2" width="8.56" height="17.4" fill="#7aff85"/>
<rect x="365.60" y="549.2" width="8.56" height="17.4" fill="#85ff7a"/>
<rect x="373.16" y="549.2" width="8.56" height="17.4" fill="#91ff6e"/>
<rect x="380.73" y="549.2" width="8.56" height="17.4" fill="#9cff63"/>
<rect x="388.29" y="549.2" width="8.56" height="17.4" fill="#a8ff57"/>
<rect x="395.85" y="549.2" width="8.56" height="17.4" fill="#b4ff4b"/>
<rect x="403.42" y="549.2" width="8.56" height="17.4" fill="#bfff40"/>
<rect x="410.98" y="549.2" width="8.56" height="17.4" fill="#cbff34"/>
<rect x="418.55" y="549.2" width="8.56" height="17.4" fill="#d6ff29"/>
<rect x="426.11" y="549.2" width="8.56" height="17.4" fill="#e2ff1d"/>
<rect x="433.67" y="549.2" width="8.56" height="17.4" fill="#eeff11"/>
<rect x="441.24" y="549.2" width="8.56" height="17.4" fill="#f9ff06"/>
<rect x="448.80" y="549.2" width="8.56" height="17.4" fill="#fff900"/>
<rect x="456.36" y="549.2" width="8.56" height="17.4" fill="#ffee00"/>
<rect x="463.93" y="549.2" width="8.56" height="17.4" fill="#ffe200"/>
<rect x="471.49" y="549.2" width="8.56" height="17.4" fill="#ffd600"/>
<rect x="479.05" y="549.2" width="8.56" height="17.4" fill="#ffcb00"/>
<rect x="486.62" y="549.2" width="8.56" height="17.4" fill="#ffbf00"/>
<rect x="494.18" y="549.2" width="8.56" height="17.4" fill="#ffb400"/>
<rect x="501.75" y="549.2" width="8.56" height="17.4" fill="#ffa800"/>
<rect x="509.31" y="549.2" width="8.56" height="17.4" fill="#ff9c00"/>
<rect x="516.87" y="549.2" width="8.56" height="17.4" fill="#ff9100"/>
<rect x="524.44" y="549.2" width="8.56" height="17.4" fill="#ff8500"/>
<rect x="532.00" y="549.2" width="8.56" height="17.4" fill="#ff7a00"/>
<rect x="539.56" y="549.2" width="8.56" height="17.4" fill="#ff6e00"/>
<rect x="547.13" y="549.2" width="8.56" height="17.4" fill="#ff6300"/>
<rect x="554.69" y="549.2" width="8.56" height="17.4" fill="#ff5700"/>
<rect x="562.25" y="549.2" width="8.56" height="17.4" fill="#ff4b00"/>
<rect x="569.82" y="549.2" width="8.56" height="17.4" fill="#ff4000"/>
<rect x="577.38" y="549.2" width="8.56" height="17.4" fill="#ff3400"/>
<rect x="584.95" y="549.2" width="8.56" height="17.4" fill="#ff2900"/>
<rect x="592.51" y="549.2" width="8.56" height="17.4" fill="#ff1d00"/>
<rect x="600.07" y="549.2" width="8.56" height="17.4" fill="#ff1100"/>
<rect x="607.64" y="549.2" width="7.56" height="17.4" fill="#ff0600"/>
<path d="M2.6 557.9 L28.3 549.2 L28.3 566.6 Z" fill="#000080"/>
<text x="60.5" y="588.8" text-anchor="middle" font-size="18.0">-800</text>
<text x="129.9" y="588.8" text-anchor="middle" font-size="18.0">-700</text>
<text x="199.2" y="588.8" text-anchor="middle" font-size="18.0">-600</text>
<text x="268.5" y="588.8" text-anchor="middle" font-size="18.0">-500</text>
<text x="337.9" y="588.8" text-anchor="middle" font-size="18.0">-400</text>
<text x="407.2" y="588.8" text-anchor="middle" font-size="18.0">-300</text>
<text x="476.5" y="588.8" text-anchor="middle" font-size="18.0">-200</text>
<text x="545.9" y="588.8" text-anchor="middle" font-size="18.0">-100</text>
<text x="615.2" y="588.8" text-anchor="middle" font-size="18.0">0</text>
<text x="3.0" y="540.9" font-size="18.0">-840</text>
<text x="607.8" y="541.8" text-anchor="end" font-size="17.3">Depth /m</text>
<rect x="865.35" y="547.7" width="7.97" height="17.2" fill="#000085"/>
<rect x="872.32" y="547.7" width="7.97" height="17.2" fill="#000091"/>
<rect x="879.29" y="547.7" width="7.97" height="17.2" fill="#00009c"/>
<rect x="886.27" y="547.7" width="7.97" height="17.2" fill="#0000a8"/>
<rect x="893.24" y="547.7" width="7.97" height="17.2" fill="#0000b4"/>
<rect x="900.21" y="547.7" width="7.97" height="17.2" fill="#0000bf"/>
<rect x="907.18" y="547.7" width="7.97" height="17.2" fill="#0000cb"/>
<rect x="914.15" y="547.7" width="7.97" height="17.2" fill="#0000d6"/>
<rect x="921.13" y="547.7" width="7.97" height="17.2" fill="#0000e2"/>
<rect x="928.10" y="547.7" width="7.97" height="17.2" fill="#0000ee"/>
<rect x="935.07" y="547.7" width="7.97" height="17.2" fill="#0000f9"/>
<rect x="942.04" y="547.7" width="7.97" height="17.2" fill="#0006ff"/>
<rect x="949.01" y="547.7" width="7.97" height="17.2" fill="#0011ff"/>
<rect x="955.99" y="547.7" width="7.97" height="17.2" fill="#001dff"/>
<rect x="962.96" y="547.7" width="7.97" height="17.2" fill="#0029ff"/>
<rect x="969.93" y="547.7" width="7.97" height="17.2" fill="#0034ff"/>
<rect x="976.90" y="547.7" width="7.97" height="17.2" fill="#0040ff"/>
<rect x="983.88" y="547.7" width="7.97" height="17.2" fill="#004bff"/>
<rect x="990.85" y="547.7" width="7.97" height="17.2" fill="#0057ff"/>
<rect x="997.82" y="547.7" width="7.97" height="17.2" fill="#0063ff"/>
<rect x="1004.79" y="547.7" width="7.97" height="17.2" fill="#006eff"/>
<rect x="1011.76" y="547.7" width="7.97" height="17.2" fill="#007aff"/>
<rect x="1018.74" y="547.7" width="7.97" height="17.2" fill="#0085ff"/>
<rect x="1025.71" y="547.7" width="7.97" height="17.2" fill="#0091ff"/>
<rect x="1032.68" y="547.7" width="7.97" height="17.2" fill="#009cff"/>
<rect x="1039.65" y="547.7" width="7.97" height="17.2" fill="#00a8ff"/>
<rect x="1046.62" y="547.7" width="7.97" height="17.2" fill="#00b4ff"/>
<rect x="1053.60" y="547.7" width="7.97" height="17.2" fill="#00bfff"/>
<rect x="1060.57" y="547.7" width="7.97" height="17.2" fill="#00cbff"/>
<rect x="1067.54" y="547.7" width="7.97" height="17.2" fill="#00d6ff"/>
<rect x="1074.51" y="547.7" width="7.97" height="17.2" fill="#00e2ff"/>
<rect x="1081.48" y="547.7" width="7.97" height="17.2" fill="#00eeff"/>
<rect x="1088.46" y="547.7" width="7.97" height="17.2" fill="#00f9ff"/>
<rect x="1095.43" y="547.7" width="7.97" height="17.2" fill="#06fff9"/>
<rect x="1102.40" y="547.7" width="7.97" height="17.2" fill="#11ffee"/>
<rect x="1109.37" y="547.7" width="7.97" height="17.2" fill="#1dffe2"/>
<rect x="1116.34" y="547.7" width="7.97" height="17.2" fill="#29ffd6"/>
<rect x="1123.32" y="547.7" width="7.97" height="17.2" fill="#34ffcb"/>
<rect x="1130.29" y="547.7" width="7.97" height="17.2" fill="#40ffbf"/>
<rect x="1137.26" y="547.7" width="7.97" height="17.2" fill="#4bffb4"/>
<rect x="1144.23" y="547.7" width="7.97" height="17.2" fill="#57ffa8"/>
<rect x="1151.21" y="547.7" width="7.97" height="17.2" fill="#63ff9c"/>
<rect x="1158.18" y="547.7" width="7.97" height="17.2" fill="#6eff91"/>
<rect x="1165.15" y="547.7" width="7.97" height="17.2" fill="#7aff85"/>
<rect x="1172.12" y="547.7" width="7.97" height="17.2" fill="#85ff7a"/>
<rect x="1179.09" y="547.7" width="7.97" height="17.2" fill="#91ff6e"/>
<rect x="1186.07" y="547.7" width="7.97" height="17.2" fill="#9cff63"/>
<rect x="1193.04" y="547.7" width="7.97" height="17.2" fill="#a8ff57"/>
<rect x="1200.01" y="547.7" width="7.97" height="17.2" fill="#b4ff4b"/>
<rect x="1206.98" y="547.7" width="7.97" height="17.2" fill="#bfff40"/>
<rect x="1213.95" y="547.7" width="7.97" height="17.2" fill="#cbff34"/>
<rect x="1220.93" y="547.7" width="7.97" height="17.2" fill="#d6ff29"/>
<rect x="1227.90" y="547.7" width="7.97" height="17.2" fill="#e2ff1d"/>
<rect x="1234.87" y="547.7" width="7.97" height="17.2" fill="#eeff11"/>
<rect x="1241.84" y="547.7" width="7.97" height="17.2" fill="#f9ff06"/>
<rect x="1248.81" y="547.7" width="7.97" height="17.2" fill="#fff900"/>
<rect x="1255.79" y="547.7" width="7.97" height="17.2" fill="#ffee00"/>
<rect x="1262.76" y="547.7" width="7.97" height="17.2" fill="#ffe200"/>
<rect x="1269.73" y="547.7" width="7.97" height="17.2" fill="#ffd600"/>
<rect x="1276.70" y="547.7" width="7.97" height="17.2" fill="#ffcb00"/>
<rect x="1283.67" y="547.7" width="7.97" height="17.2" fill="#ffbf00"/>
<rect x="1290.65" y="547.7" width="7.97" height="17.2" fill="#ffb400"/>
<rect x="1297.62" y="547.7" width="7.97" height="17.2" fill="#ffa800"/>
<rect x="1304.59" y="547.7" width="7.97" height="17.2" fill="#ff9c00"/>
<rect x="1311.56" y="547.7" width="7.97" height="17.2" fill="#ff9100"/>
<rect x="1318.54" y="547.7" width="7.97" height="17.2" fill="#ff8500"/>
<rect x="1325.51" y="547.7" width="7.97" height="17.2" fill="#ff7a00"/>
<rect x="1332.48" y="547.7" width="7.97" height="17.2" fill="#ff6e00"/>
<rect x="1339.45" y="547.7" width="7.97" height="17.2" fill="#ff6300"/>
<rect x="1346.42" y="547.7" width="7.97" height="17.2" fill="#ff5700"/>
<rect x="1353.40" y="547.7" width="7.97" height="17.2" fill="#ff4b00"/>
<rect x="1360.37" y="547.7" width="7.97" height="17.2" fill="#ff4000"/>
<rect x="1367.34" y="547.7" width="7.97" height="17.2" fill="#ff3400"/>
<rect x="1374.31" y="547.7" width="7.97" height="17.2" fill="#ff2900"/>
<rect x="1381.28" y="547.7" width="7.97" height="17.2" fill="#ff1d00"/>
<rect x="1388.26" y="547.7" width="7.97" height="17.2" fill="#ff1100"/>
<rect x="1395.23" y="547.7" width="6.97" height="17.2" fill="#ff0600"/>
<path d="M837.1 556.3 L861.5 547.7 L861.5 564.9 Z" fill="#000080"/>
<text x="890.9" y="585.6" text-anchor="middle" font-size="16.6">-800</text>
<text x="954.8" y="585.6" text-anchor="middle" font-size="16.6">-700</text>
<text x="1018.7" y="585.6" text-anchor="middle" font-size="16.6">-600</text>
<text x="1082.6" y="585.6" text-anchor="middle" font-size="16.6">-500</text>
<text x="1146.6" y="585.6" text-anchor="middle" font-size="16.6">-400</text>
<text x="1210.5" y="585.6" text-anchor="middle" font-size="16.6">-300</text>
<text x="1274.4" y="585.6" text-anchor="middle" font-size="16.6">-200</text>
<text x="1338.3" y="585.6" text-anchor="middle" font-size="16.6">-100</text>
<text x="1402.2" y="585.6" text-anchor="middle" font-size="16.6">0</text>
<text x="837.0" y="536.0" font-size="16.6">-840</text>
<text x="1391.0" y="540.5" text-anchor="end" font-size="15.9">Depth /m</text>
<text x="43.5" y="24.5" font-size="30.5" font-weight="bold">A</text>
<text x="856.6" y="24.6" font-size="30.5" font-weight="bold">B</text>
<text x="43.8" y="657.5" font-size="30.8" font-weight="bold">C</text>
<text x="857.2" y="657.3" font-size="30.5" font-weight="bold">D</text>
<text transform="translate(246.8 46.5) scale(1 1.13)" font-size="19.4" font-weight="bold" style="font-family:'Liberation Mono',monospace">1980−1989 D27.8</text>
<text transform="translate(1041.4 38.5) scale(1 1.1)" font-size="18.2" style="font-family:'Liberation Mono',monospace">2010−2022 D27.8</text>
<text x="232.6" y="648.7" font-size="23" letter-spacing="0.87" style="font-family:'Liberation Serif',serif">1980–2022 Trend</text>
<rect x="555.5" y="732.30" width="20.1" height="3.66" fill="#d02b0e"/>
<rect x="555.5" y="734.96" width="20.1" height="3.66" fill="#d4391e"/>
<rect x="555.5" y="737.62" width="20.1" height="3.66" fill="#da4830"/>
<rect x="555.5" y="740.28" width="20.1" height="3.66" fill="#de5841"/>
<rect x="555.5" y="742.94" width="20.1" height="3.66" fill="#e46651"/>
<rect x="555.5" y="745.60" width="20.1" height="3.66" fill="#e87462"/>
<rect x="555.5" y="748.26" width="20.1" height="3.66" fill="#ea8272"/>
<rect x="555.5" y="750.92" width="20.1" height="3.66" fill="#ee8e82"/>
<rect x="555.5" y="753.58" width="20.1" height="3.66" fill="#f09c92"/>
<rect x="555.5" y="756.24" width="20.1" height="3.66" fill="#f4a8a2"/>
<rect x="555.5" y="758.90" width="20.1" height="3.66" fill="#f7b4b0"/>
<rect x="555.5" y="761.56" width="20.1" height="3.66" fill="#fbbebc"/>
<rect x="555.5" y="764.22" width="20.1" height="3.66" fill="#ffc8c8"/>
<rect x="555.5" y="766.88" width="20.1" height="3.66" fill="#eddbdb"/>
<rect x="555.5" y="769.54" width="20.1" height="3.66" fill="#e4e4e4"/>
<rect x="555.5" y="772.20" width="20.1" height="3.66" fill="#e4e4e4"/>
<rect x="555.5" y="774.86" width="20.1" height="3.66" fill="#e3e3e3"/>
<rect x="555.5" y="777.52" width="20.1" height="3.66" fill="#e3e3e3"/>
<rect x="555.5" y="780.18" width="20.1" height="3.66" fill="#e2e2e2"/>
<rect x="555.5" y="782.84" width="20.1" height="3.66" fill="#e2e2e2"/>
<rect x="555.5" y="785.50" width="20.1" height="3.66" fill="#dce3e3"/>
<rect x="555.5" y="788.16" width="20.1" height="3.66" fill="#d1e5e6"/>
<rect x="555.5" y="790.82" width="20.1" height="3.66" fill="#c6e6e9"/>
<rect x="555.5" y="793.48" width="20.1" height="3.66" fill="#bbe8ec"/>
<rect x="555.5" y="796.14" width="20.1" height="3.66" fill="#b0eaef"/>
<rect x="555.5" y="798.80" width="20.1" height="3.66" fill="#a2ecf0"/>
<rect x="555.5" y="801.46" width="20.1" height="3.66" fill="#92ecf2"/>
<rect x="555.5" y="804.12" width="20.1" height="3.66" fill="#82eef2"/>
<rect x="555.5" y="806.78" width="20.1" height="3.66" fill="#72eef4"/>
<rect x="555.5" y="809.44" width="20.1" height="3.66" fill="#62f0f4"/>
<rect x="555.5" y="812.10" width="20.1" height="3.66" fill="#4ff2f6"/>
<rect x="555.5" y="814.76" width="20.1" height="3.66" fill="#38f6f9"/>
<rect x="555.5" y="817.42" width="20.1" height="3.66" fill="#22f9fb"/>
<rect x="555.5" y="820.08" width="20.1" height="3.66" fill="#0bfdfe"/>
<rect x="555.5" y="822.74" width="20.1" height="3.66" fill="#02f8f6"/>
<rect x="555.5" y="825.40" width="20.1" height="3.66" fill="#05eae5"/>
<rect x="555.5" y="828.06" width="20.1" height="3.66" fill="#08dcd3"/>
<rect x="555.5" y="830.72" width="20.1" height="3.66" fill="#0ccdc2"/>
<rect x="555.5" y="833.38" width="20.1" height="3.66" fill="#0fbfb0"/>
<rect x="555.5" y="836.04" width="20.1" height="3.66" fill="#12b19f"/>
<rect x="555.5" y="838.70" width="20.1" height="3.66" fill="#15a591"/>
<rect x="555.5" y="841.36" width="20.1" height="3.66" fill="#179b87"/>
<rect x="555.5" y="844.02" width="20.1" height="3.66" fill="#19917d"/>
<rect x="555.5" y="846.68" width="20.1" height="3.66" fill="#1b8773"/>
<rect x="555.5" y="849.34" width="20.1" height="3.66" fill="#1d7d69"/>
<rect x="555.5" y="852.00" width="20.1" height="3.66" fill="#1f7460"/>
<rect x="555.5" y="854.66" width="20.1" height="3.66" fill="#236c58"/>
<rect x="555.5" y="857.32" width="20.1" height="3.66" fill="#266450"/>
<rect x="555.5" y="859.98" width="20.1" height="3.66" fill="#285c48"/>
<rect x="555.5" y="862.64" width="20.1" height="3.66" fill="#2c5440"/>
<rect x="555.5" y="865.30" width="20.1" height="3.66" fill="#2c4e43"/>
<rect x="555.5" y="867.96" width="20.1" height="3.66" fill="#284851"/>
<rect x="555.5" y="870.62" width="20.1" height="3.66" fill="#26445f"/>
<rect x="555.5" y="873.28" width="20.1" height="3.66" fill="#233f6d"/>
<rect x="555.5" y="875.94" width="20.1" height="3.66" fill="#1f397b"/>
<rect x="555.5" y="878.60" width="20.1" height="3.66" fill="#1d3688"/>
<rect x="555.5" y="881.26" width="20.1" height="3.66" fill="#1b3294"/>
<rect x="555.5" y="883.92" width="20.1" height="3.66" fill="#1930a0"/>
<rect x="555.5" y="886.58" width="20.1" height="3.66" fill="#172dac"/>
<rect x="555.5" y="889.24" width="20.1" height="3.66" fill="#1529b8"/>
<rect x="555.5" y="891.90" width="20.1" height="3.66" fill="#1325c3"/>
<rect x="555.5" y="894.56" width="20.1" height="3.66" fill="#0f1fcd"/>
<rect x="555.5" y="897.22" width="20.1" height="3.66" fill="#0c19d7"/>
<rect x="555.5" y="899.88" width="20.1" height="3.66" fill="#0a13e1"/>
<rect x="555.5" y="902.54" width="20.1" height="3.66" fill="#060deb"/>
<rect x="555.5" y="905.20" width="20.1" height="3.66" fill="#050aef"/>
<rect x="555.5" y="907.86" width="20.1" height="3.66" fill="#0409ee"/>
<rect x="555.5" y="910.52" width="20.1" height="3.66" fill="#0408ec"/>
<rect x="555.5" y="913.18" width="20.1" height="3.66" fill="#0408ea"/>
<rect x="555.5" y="915.84" width="20.1" height="3.66" fill="#0307e8"/>
<rect x="555.5" y="918.50" width="20.1" height="3.66" fill="#0306e7"/>
<rect x="555.5" y="921.16" width="20.1" height="3.66" fill="#0306e5"/>
<rect x="555.5" y="923.82" width="20.1" height="3.66" fill="#0205e4"/>
<rect x="555.5" y="926.48" width="20.1" height="3.66" fill="#0204e2"/>
<rect x="555.5" y="929.14" width="20.1" height="3.66" fill="#0204e0"/>
<rect x="555.5" y="931.80" width="20.1" height="3.66" fill="#0203de"/>
<rect x="555.5" y="934.46" width="20.1" height="3.66" fill="#0102dd"/>
<rect x="555.5" y="937.12" width="20.1" height="3.66" fill="#0102db"/>
<rect x="555.5" y="939.78" width="20.1" height="3.66" fill="#0101da"/>
<rect x="555.5" y="942.44" width="20.1" height="2.66" fill="#0000d8"/>
<rect x="555.5" y="732.3" width="20.1" height="212.8" fill="none" stroke="#000" stroke-width="0.8"/>
<text x="582" y="740.6" font-size="17.5">2</text>
<path d="M573.1 758.9H575.6" stroke="#000" stroke-width="0.8"/>
<text x="582" y="767.2" font-size="17.5">1</text>
<path d="M573.1 785.5H575.6" stroke="#000" stroke-width="0.8"/>
<text x="582" y="793.8" font-size="17.5">0</text>
<path d="M573.1 812.1H575.6" stroke="#000" stroke-width="0.8"/>
<text x="582" y="820.4" font-size="17.5">-1</text>
<path d="M573.1 838.7H575.6" stroke="#000" stroke-width="0.8"/>
<text x="582" y="847.0" font-size="17.5">-2</text>
<path d="M573.1 865.3H575.6" stroke="#000" stroke-width="0.8"/>
<text x="582" y="873.6" font-size="17.5">-3</text>
<path d="M573.1 891.9H575.6" stroke="#000" stroke-width="0.8"/>
<text x="582" y="900.2" font-size="17.5">-4</text>
<path d="M573.1 918.5H575.6" stroke="#000" stroke-width="0.8"/>
<text x="582" y="926.8" font-size="17.5">-5</text>
<text x="582" y="953.4" font-size="17.5">-6</text>
<text x="551.5" y="717.2" font-size="21" font-weight="bold" style="font-family:'Liberation Serif',serif">m/a</text>
<rect x="1236.5" y="980.5" width="104" height="95.8" fill="#fff" stroke="#333" stroke-width="1"/>
<path d="M1242.1 994.6H1297.6" stroke="#ff0000" stroke-width="2"/>
<text x="1301.5" y="1000.9" font-size="17">50%</text>
<path d="M1242.1 1017.3H1297.6" stroke="#ff3c8c" stroke-width="2"/>
<text x="1301.5" y="1023.6" font-size="17">60%</text>
<path d="M1242.1 1039.9H1297.6" stroke="#00ffff" stroke-width="2"/>
<text x="1301.5" y="1046.2" font-size="17">70%</text>
<path d="M1242.1 1062.6H1297.6" stroke="#0000ff" stroke-width="2"/>
<text x="1301.5" y="1068.9" font-size="17">80%</text>
</svg></body></html>
